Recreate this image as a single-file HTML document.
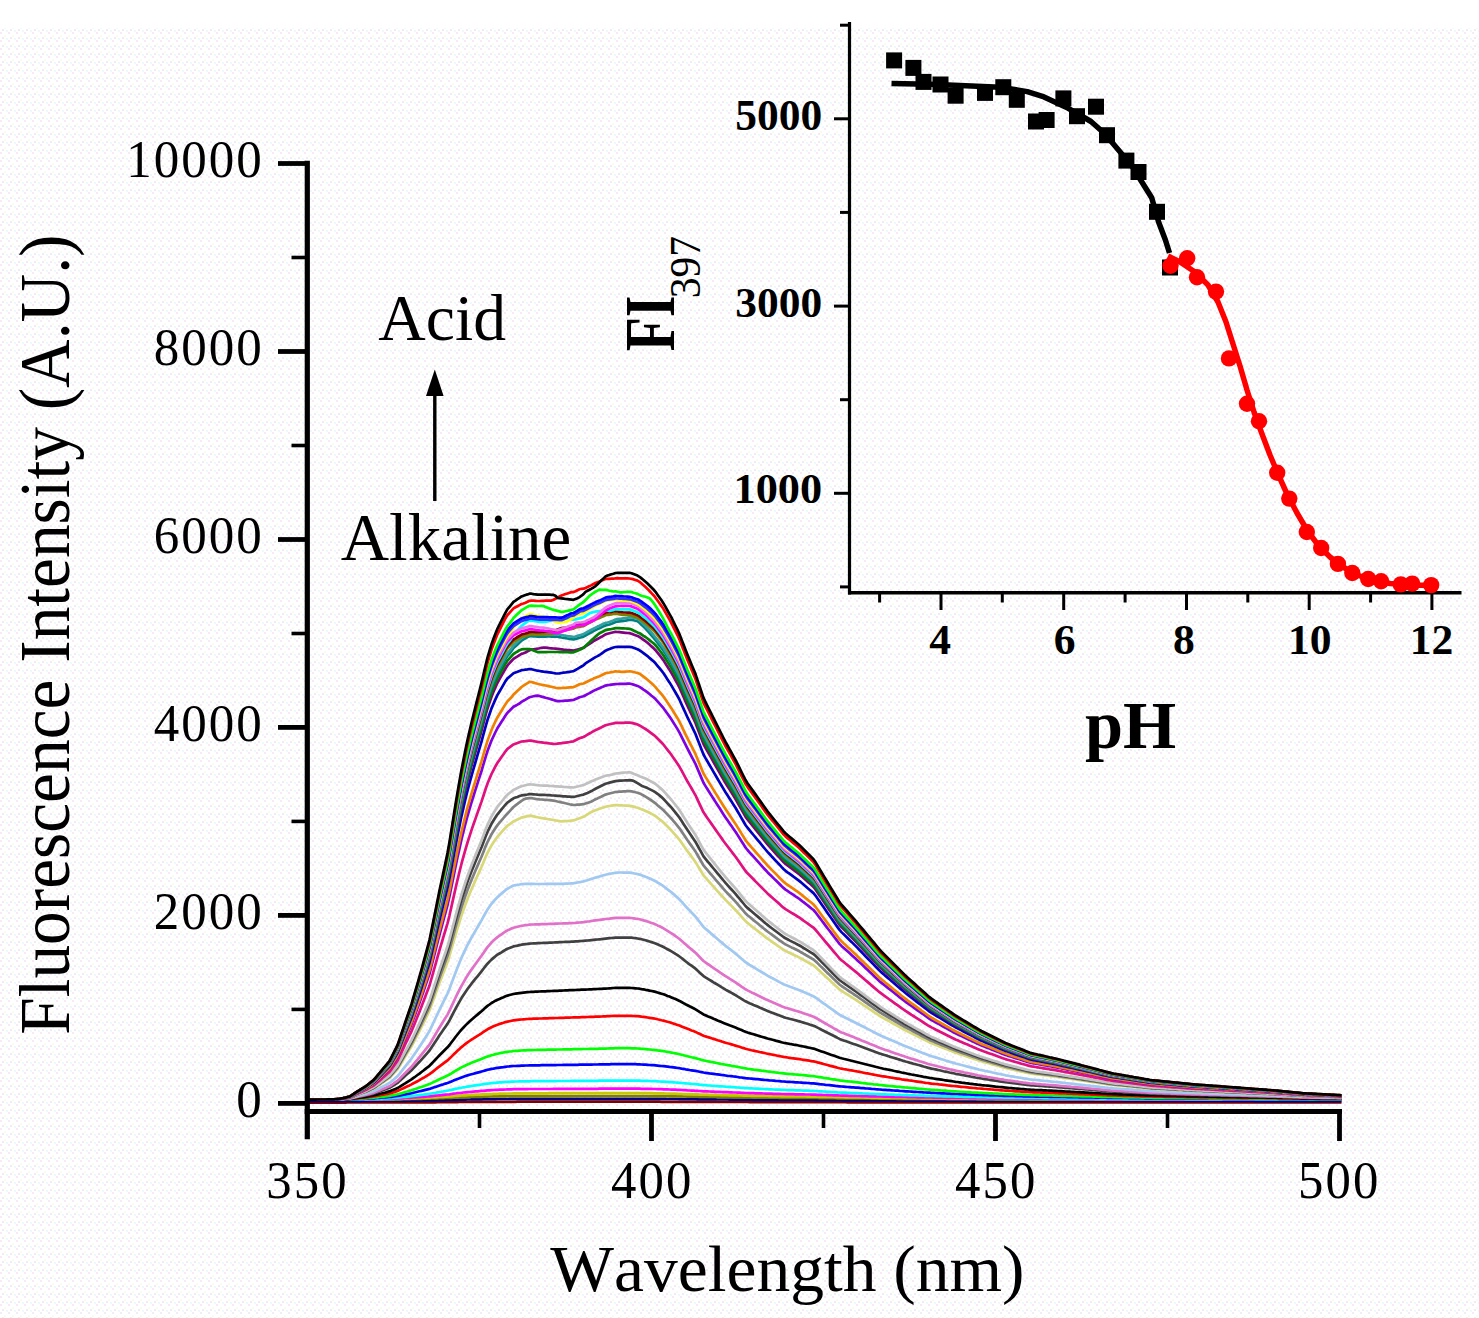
<!DOCTYPE html>
<html><head><meta charset="utf-8"><style>
html,body{margin:0;padding:0;background:#fff;width:1479px;height:1318px;overflow:hidden}
svg{display:block}
text{font-family:"Liberation Serif",serif}
</style></head><body>
<svg width="1479" height="1318" viewBox="0 0 1479 1318" font-family="Liberation Serif" style="font-kerning:none">
<defs><pattern id="dots" width="8" height="8" patternUnits="userSpaceOnUse"><rect x="0" y="0" width="2" height="2" fill="#f5ebf5"/><rect x="4" y="3" width="2" height="2" fill="#f6fcf0"/><rect x="2" y="5" width="2" height="2" fill="#f3eaf4"/><rect x="6" y="6" width="2" height="2" fill="#eef9fb"/></pattern></defs>
<rect width="1479" height="1318" fill="#fff"/>
<rect y="28" width="1479" height="1292" fill="url(#dots)"/>
<g fill="none" stroke-width="2.7" stroke-linejoin="round">
<polyline stroke="#800000" points="307.5,1102.6 309.5,1102.6 311.5,1102.6 313.5,1102.6 315.5,1102.6 317.5,1102.6 319.5,1102.6 321.5,1102.6 323.5,1102.6 325.5,1102.6 327.5,1102.6 329.5,1102.6 331.5,1102.6 333.5,1102.6 335.5,1102.6 337.5,1102.6 339.5,1102.6 341.5,1102.6 343.5,1102.6 345.5,1102.6 347.5,1102.5 349.5,1102.5 351.5,1102.5 353.5,1102.5 355.5,1102.5 357.5,1102.5 359.5,1102.5 361.5,1102.5 363.5,1102.5 365.5,1102.5 367.5,1102.5 369.5,1102.5 371.5,1102.5 373.5,1102.5 375.5,1102.5 377.5,1102.5 379.5,1102.5 381.5,1102.5 383.5,1102.5 385.5,1102.5 387.5,1102.5 389.5,1102.5 391.5,1102.5 393.5,1102.5 395.5,1102.5 397.5,1102.5 399.5,1102.5 401.5,1102.4 403.5,1102.4 405.5,1102.4 407.5,1102.4 409.5,1102.4 411.5,1102.4 413.5,1102.4 415.5,1102.4 417.5,1102.4 419.5,1102.4 421.5,1102.3 423.5,1102.3 425.5,1102.3 427.5,1102.3 429.5,1102.3 431.5,1102.3 433.5,1102.3 435.5,1102.3 437.5,1102.2 439.5,1102.2 441.5,1102.2 443.5,1102.2 445.5,1102.2 447.5,1102.2 449.5,1102.1 451.5,1102.1 453.5,1102.1 455.5,1102.1 457.5,1102.1 459.5,1102.0 461.5,1102.0 463.5,1102.0 465.5,1102.0 467.5,1102.0 469.5,1102.0 471.5,1101.9 473.5,1101.9 475.5,1101.9 477.5,1101.9 479.5,1101.9 481.5,1101.9 483.5,1101.9 485.5,1101.9 487.5,1101.8 489.5,1101.8 491.5,1101.8 493.5,1101.8 495.5,1101.8 497.5,1101.8 499.5,1101.8 501.5,1101.8 503.5,1101.8 505.5,1101.8 507.5,1101.8 509.5,1101.8 511.5,1101.8 513.5,1101.8 515.5,1101.8 517.5,1101.7 519.5,1101.7 521.5,1101.7 523.5,1101.7 525.5,1101.7 527.5,1101.7 529.5,1101.7 531.5,1101.7 533.5,1101.7 535.5,1101.7 537.5,1101.7 539.5,1101.7 541.5,1101.7 543.5,1101.7 545.5,1101.7 547.5,1101.7 549.5,1101.7 551.5,1101.7 553.5,1101.7 555.5,1101.7 557.5,1101.7 559.5,1101.7 561.5,1101.7 563.5,1101.7 565.5,1101.7 567.5,1101.7 569.5,1101.7 571.5,1101.7 573.5,1101.7 575.5,1101.7 577.5,1101.7 579.5,1101.7 581.5,1101.7 583.5,1101.7 585.5,1101.7 587.5,1101.7 589.5,1101.7 591.5,1101.7 593.5,1101.7 595.5,1101.7 597.5,1101.7 599.5,1101.7 601.5,1101.7 603.5,1101.7 605.5,1101.7 607.5,1101.7 609.5,1101.7 611.5,1101.7 613.5,1101.7 615.5,1101.7 617.5,1101.7 619.5,1101.7 621.5,1101.7 623.5,1101.7 625.5,1101.7 627.5,1101.7 629.5,1101.7 631.5,1101.7 633.5,1101.7 635.5,1101.7 637.5,1101.7 639.5,1101.7 641.5,1101.7 643.5,1101.7 645.5,1101.7 647.5,1101.7 649.5,1101.7 651.5,1101.7 653.5,1101.7 655.5,1101.7 657.5,1101.7 659.5,1101.7 661.5,1101.8 663.5,1101.8 665.5,1101.8 667.5,1101.8 669.5,1101.8 671.5,1101.8 673.5,1101.8 675.5,1101.8 677.5,1101.8 679.5,1101.8 681.5,1101.8 683.5,1101.8 685.5,1101.8 687.5,1101.8 689.5,1101.8 691.5,1101.9 693.5,1101.9 695.5,1101.9 697.5,1101.9 699.5,1101.9 701.5,1101.9 703.5,1101.9 705.5,1101.9 707.5,1101.9 709.5,1101.9 711.5,1101.9 713.5,1101.9 715.5,1101.9 717.5,1102.0 719.5,1102.0 721.5,1102.0 723.5,1102.0 725.5,1102.0 727.5,1102.0 729.5,1102.0 731.5,1102.0 733.5,1102.0 735.5,1102.0 737.5,1102.0 739.5,1102.0 741.5,1102.0 743.5,1102.0 745.5,1102.0 747.5,1102.0 749.5,1102.1 751.5,1102.1 753.5,1102.1 755.5,1102.1 757.5,1102.1 759.5,1102.1 761.5,1102.1 763.5,1102.1 765.5,1102.1 767.5,1102.1 769.5,1102.1 771.5,1102.1 773.5,1102.1 775.5,1102.1 777.5,1102.1 779.5,1102.1 781.5,1102.1 783.5,1102.1 785.5,1102.1 787.5,1102.1 789.5,1102.1 791.5,1102.1 793.5,1102.1 795.5,1102.1 797.5,1102.1 799.5,1102.1 801.5,1102.1 803.5,1102.2 805.5,1102.2 807.5,1102.2 809.5,1102.2 811.5,1102.2 813.5,1102.2 815.5,1102.2 817.5,1102.2 819.5,1102.2 821.5,1102.2 823.5,1102.2 825.5,1102.2 827.5,1102.2 829.5,1102.2 831.5,1102.2 833.5,1102.2 835.5,1102.2 837.5,1102.2 839.5,1102.2 841.5,1102.2 843.5,1102.2 845.5,1102.2 847.5,1102.3 849.5,1102.3 851.5,1102.3 853.5,1102.3 855.5,1102.3 857.5,1102.3 859.5,1102.3 861.5,1102.3 863.5,1102.3 865.5,1102.3 867.5,1102.3 869.5,1102.3 871.5,1102.3 873.5,1102.3 875.5,1102.3 877.5,1102.3 879.5,1102.3 881.5,1102.3 883.5,1102.3 885.5,1102.3 887.5,1102.3 889.5,1102.3 891.5,1102.3 893.5,1102.3 895.5,1102.3 897.5,1102.3 899.5,1102.3 901.5,1102.3 903.5,1102.4 905.5,1102.4 907.5,1102.4 909.5,1102.4 911.5,1102.4 913.5,1102.4 915.5,1102.4 917.5,1102.4 919.5,1102.4 921.5,1102.4 923.5,1102.4 925.5,1102.4 927.5,1102.4 929.5,1102.4 931.5,1102.4 933.5,1102.4 935.5,1102.4 937.5,1102.4 939.5,1102.4 941.5,1102.4 943.5,1102.4 945.5,1102.4 947.5,1102.4 949.5,1102.4 951.5,1102.4 953.5,1102.4 955.5,1102.4 957.5,1102.4 959.5,1102.4 961.5,1102.4 963.5,1102.4 965.5,1102.4 967.5,1102.4 969.5,1102.4 971.5,1102.4 973.5,1102.4 975.5,1102.4 977.5,1102.4 979.5,1102.4 981.5,1102.4 983.5,1102.4 985.5,1102.4 987.5,1102.4 989.5,1102.5 991.5,1102.5 993.5,1102.5 995.5,1102.5 997.5,1102.5 999.5,1102.5 1001.5,1102.5 1003.5,1102.5 1005.5,1102.5 1007.5,1102.5 1009.5,1102.5 1011.5,1102.5 1013.5,1102.5 1015.5,1102.5 1017.5,1102.5 1019.5,1102.5 1021.5,1102.5 1023.5,1102.5 1025.5,1102.5 1027.5,1102.5 1029.5,1102.5 1031.5,1102.5 1033.5,1102.5 1035.5,1102.5 1037.5,1102.5 1039.5,1102.5 1041.5,1102.5 1043.5,1102.5 1045.5,1102.5 1047.5,1102.5 1049.5,1102.5 1051.5,1102.5 1053.5,1102.5 1055.5,1102.5 1057.5,1102.5 1059.5,1102.5 1061.5,1102.5 1063.5,1102.5 1065.5,1102.5 1067.5,1102.5 1069.5,1102.5 1071.5,1102.5 1073.5,1102.5 1075.5,1102.5 1077.5,1102.5 1079.5,1102.5 1081.5,1102.5 1083.5,1102.5 1085.5,1102.5 1087.5,1102.5 1089.5,1102.5 1091.5,1102.5 1093.5,1102.5 1095.5,1102.5 1097.5,1102.5 1099.5,1102.5 1101.5,1102.5 1103.5,1102.5 1105.5,1102.5 1107.5,1102.5 1109.5,1102.5 1111.5,1102.5 1113.5,1102.5 1115.5,1102.5 1117.5,1102.5 1119.5,1102.5 1121.5,1102.5 1123.5,1102.5 1125.5,1102.5 1127.5,1102.5 1129.5,1102.5 1131.5,1102.5 1133.5,1102.5 1135.5,1102.5 1137.5,1102.5 1139.5,1102.5 1141.5,1102.5 1143.5,1102.5 1145.5,1102.5 1147.5,1102.5 1149.5,1102.5 1151.5,1102.5 1153.5,1102.5 1155.5,1102.5 1157.5,1102.5 1159.5,1102.5 1161.5,1102.5 1163.5,1102.5 1165.5,1102.5 1167.5,1102.5 1169.5,1102.5 1171.5,1102.5 1173.5,1102.5 1175.5,1102.5 1177.5,1102.5 1179.5,1102.5 1181.5,1102.5 1183.5,1102.5 1185.5,1102.5 1187.5,1102.5 1189.5,1102.5 1191.5,1102.5 1193.5,1102.5 1195.5,1102.5 1197.5,1102.5 1199.5,1102.5 1201.5,1102.5 1203.5,1102.5 1205.5,1102.5 1207.5,1102.5 1209.5,1102.5 1211.5,1102.5 1213.5,1102.5 1215.5,1102.5 1217.5,1102.5 1219.5,1102.5 1221.5,1102.5 1223.5,1102.5 1225.5,1102.5 1227.5,1102.5 1229.5,1102.5 1231.5,1102.5 1233.5,1102.5 1235.5,1102.5 1237.5,1102.5 1239.5,1102.5 1241.5,1102.5 1243.5,1102.5 1245.5,1102.5 1247.5,1102.5 1249.5,1102.5 1251.5,1102.5 1253.5,1102.5 1255.5,1102.5 1257.5,1102.5 1259.5,1102.5 1261.5,1102.5 1263.5,1102.5 1265.5,1102.5 1267.5,1102.5 1269.5,1102.5 1271.5,1102.5 1273.5,1102.5 1275.5,1102.5 1277.5,1102.5 1279.5,1102.5 1281.5,1102.5 1283.5,1102.5 1285.5,1102.5 1287.5,1102.5 1289.5,1102.5 1291.5,1102.5 1293.5,1102.5 1295.5,1102.5 1297.5,1102.5 1299.5,1102.5 1301.5,1102.5 1303.5,1102.5 1305.5,1102.5 1307.5,1102.5 1309.5,1102.5 1311.5,1102.5 1313.5,1102.5 1315.5,1102.5 1317.5,1102.5 1319.5,1102.5 1321.5,1102.5 1323.5,1102.5 1325.5,1102.5 1327.5,1102.5 1329.5,1102.5 1331.5,1102.5 1333.5,1102.5 1335.5,1102.5 1337.5,1102.5 1339.5,1102.5 1341.5,1102.5"/>
<polyline stroke="#000080" points="307.5,1101.1 309.5,1101.1 311.5,1101.1 313.5,1101.1 315.5,1101.1 317.5,1101.1 319.5,1101.1 321.5,1101.1 323.5,1101.1 325.5,1101.1 327.5,1101.1 329.5,1101.1 331.5,1101.1 333.5,1101.1 335.5,1101.1 337.5,1101.1 339.5,1101.1 341.5,1101.1 343.5,1101.1 345.5,1101.1 347.5,1101.1 349.5,1101.1 351.5,1101.1 353.5,1101.1 355.5,1101.1 357.5,1101.1 359.5,1101.1 361.5,1101.0 363.5,1101.0 365.5,1101.0 367.5,1101.0 369.5,1101.0 371.5,1101.0 373.5,1101.0 375.5,1101.0 377.5,1101.0 379.5,1101.0 381.5,1101.0 383.5,1101.0 385.5,1100.9 387.5,1100.9 389.5,1100.9 391.5,1100.9 393.5,1100.9 395.5,1100.9 397.5,1100.9 399.5,1100.8 401.5,1100.8 403.5,1100.8 405.5,1100.8 407.5,1100.7 409.5,1100.7 411.5,1100.7 413.5,1100.6 415.5,1100.6 417.5,1100.6 419.5,1100.6 421.5,1100.5 423.5,1100.5 425.5,1100.5 427.5,1100.4 429.5,1100.4 431.5,1100.4 433.5,1100.3 435.5,1100.3 437.5,1100.2 439.5,1100.2 441.5,1100.1 443.5,1100.1 445.5,1100.1 447.5,1100.0 449.5,1100.0 451.5,1099.9 453.5,1099.9 455.5,1099.8 457.5,1099.8 459.5,1099.7 461.5,1099.7 463.5,1099.6 465.5,1099.6 467.5,1099.5 469.5,1099.5 471.5,1099.4 473.5,1099.4 475.5,1099.4 477.5,1099.3 479.5,1099.3 481.5,1099.3 483.5,1099.2 485.5,1099.2 487.5,1099.2 489.5,1099.1 491.5,1099.1 493.5,1099.1 495.5,1099.1 497.5,1099.0 499.5,1099.0 501.5,1099.0 503.5,1099.0 505.5,1099.0 507.5,1099.0 509.5,1098.9 511.5,1098.9 513.5,1098.9 515.5,1098.9 517.5,1098.9 519.5,1098.9 521.5,1098.9 523.5,1098.9 525.5,1098.9 527.5,1098.9 529.5,1098.9 531.5,1098.9 533.5,1098.9 535.5,1098.9 537.5,1098.9 539.5,1098.9 541.5,1098.9 543.5,1098.9 545.5,1098.9 547.5,1098.9 549.5,1098.9 551.5,1098.9 553.5,1098.9 555.5,1098.9 557.5,1098.9 559.5,1098.9 561.5,1098.9 563.5,1098.8 565.5,1098.8 567.5,1098.8 569.5,1098.8 571.5,1098.8 573.5,1098.8 575.5,1098.8 577.5,1098.8 579.5,1098.8 581.5,1098.8 583.5,1098.8 585.5,1098.8 587.5,1098.8 589.5,1098.8 591.5,1098.8 593.5,1098.8 595.5,1098.8 597.5,1098.8 599.5,1098.8 601.5,1098.8 603.5,1098.8 605.5,1098.8 607.5,1098.8 609.5,1098.8 611.5,1098.8 613.5,1098.8 615.5,1098.8 617.5,1098.8 619.5,1098.8 621.5,1098.8 623.5,1098.8 625.5,1098.8 627.5,1098.8 629.5,1098.8 631.5,1098.8 633.5,1098.8 635.5,1098.8 637.5,1098.8 639.5,1098.8 641.5,1098.8 643.5,1098.8 645.5,1098.8 647.5,1098.8 649.5,1098.8 651.5,1098.9 653.5,1098.9 655.5,1098.9 657.5,1098.9 659.5,1098.9 661.5,1098.9 663.5,1098.9 665.5,1098.9 667.5,1099.0 669.5,1099.0 671.5,1099.0 673.5,1099.0 675.5,1099.0 677.5,1099.0 679.5,1099.1 681.5,1099.1 683.5,1099.1 685.5,1099.1 687.5,1099.2 689.5,1099.2 691.5,1099.2 693.5,1099.2 695.5,1099.2 697.5,1099.3 699.5,1099.3 701.5,1099.3 703.5,1099.3 705.5,1099.4 707.5,1099.4 709.5,1099.4 711.5,1099.4 713.5,1099.4 715.5,1099.4 717.5,1099.5 719.5,1099.5 721.5,1099.5 723.5,1099.5 725.5,1099.5 727.5,1099.5 729.5,1099.6 731.5,1099.6 733.5,1099.6 735.5,1099.6 737.5,1099.6 739.5,1099.6 741.5,1099.7 743.5,1099.7 745.5,1099.7 747.5,1099.7 749.5,1099.7 751.5,1099.7 753.5,1099.8 755.5,1099.8 757.5,1099.8 759.5,1099.8 761.5,1099.8 763.5,1099.8 765.5,1099.8 767.5,1099.8 769.5,1099.8 771.5,1099.9 773.5,1099.9 775.5,1099.9 777.5,1099.9 779.5,1099.9 781.5,1099.9 783.5,1099.9 785.5,1099.9 787.5,1099.9 789.5,1099.9 791.5,1100.0 793.5,1100.0 795.5,1100.0 797.5,1100.0 799.5,1100.0 801.5,1100.0 803.5,1100.0 805.5,1100.0 807.5,1100.0 809.5,1100.0 811.5,1100.0 813.5,1100.0 815.5,1100.1 817.5,1100.1 819.5,1100.1 821.5,1100.1 823.5,1100.1 825.5,1100.1 827.5,1100.1 829.5,1100.2 831.5,1100.2 833.5,1100.2 835.5,1100.2 837.5,1100.2 839.5,1100.2 841.5,1100.2 843.5,1100.3 845.5,1100.3 847.5,1100.3 849.5,1100.3 851.5,1100.3 853.5,1100.3 855.5,1100.3 857.5,1100.3 859.5,1100.3 861.5,1100.3 863.5,1100.4 865.5,1100.4 867.5,1100.4 869.5,1100.4 871.5,1100.4 873.5,1100.4 875.5,1100.4 877.5,1100.4 879.5,1100.4 881.5,1100.4 883.5,1100.5 885.5,1100.5 887.5,1100.5 889.5,1100.5 891.5,1100.5 893.5,1100.5 895.5,1100.5 897.5,1100.5 899.5,1100.5 901.5,1100.5 903.5,1100.5 905.5,1100.6 907.5,1100.6 909.5,1100.6 911.5,1100.6 913.5,1100.6 915.5,1100.6 917.5,1100.6 919.5,1100.6 921.5,1100.6 923.5,1100.6 925.5,1100.6 927.5,1100.6 929.5,1100.6 931.5,1100.7 933.5,1100.7 935.5,1100.7 937.5,1100.7 939.5,1100.7 941.5,1100.7 943.5,1100.7 945.5,1100.7 947.5,1100.7 949.5,1100.7 951.5,1100.7 953.5,1100.7 955.5,1100.7 957.5,1100.7 959.5,1100.7 961.5,1100.7 963.5,1100.8 965.5,1100.8 967.5,1100.8 969.5,1100.8 971.5,1100.8 973.5,1100.8 975.5,1100.8 977.5,1100.8 979.5,1100.8 981.5,1100.8 983.5,1100.8 985.5,1100.8 987.5,1100.8 989.5,1100.8 991.5,1100.8 993.5,1100.8 995.5,1100.8 997.5,1100.8 999.5,1100.8 1001.5,1100.8 1003.5,1100.8 1005.5,1100.8 1007.5,1100.9 1009.5,1100.9 1011.5,1100.9 1013.5,1100.9 1015.5,1100.9 1017.5,1100.9 1019.5,1100.9 1021.5,1100.9 1023.5,1100.9 1025.5,1100.9 1027.5,1100.9 1029.5,1100.9 1031.5,1100.9 1033.5,1100.9 1035.5,1100.9 1037.5,1100.9 1039.5,1100.9 1041.5,1100.9 1043.5,1100.9 1045.5,1100.9 1047.5,1100.9 1049.5,1100.9 1051.5,1100.9 1053.5,1100.9 1055.5,1100.9 1057.5,1100.9 1059.5,1100.9 1061.5,1100.9 1063.5,1100.9 1065.5,1100.9 1067.5,1100.9 1069.5,1100.9 1071.5,1100.9 1073.5,1100.9 1075.5,1100.9 1077.5,1100.9 1079.5,1100.9 1081.5,1100.9 1083.5,1100.9 1085.5,1101.0 1087.5,1101.0 1089.5,1101.0 1091.5,1101.0 1093.5,1101.0 1095.5,1101.0 1097.5,1101.0 1099.5,1101.0 1101.5,1101.0 1103.5,1101.0 1105.5,1101.0 1107.5,1101.0 1109.5,1101.0 1111.5,1101.0 1113.5,1101.0 1115.5,1101.0 1117.5,1101.0 1119.5,1101.0 1121.5,1101.0 1123.5,1101.0 1125.5,1101.0 1127.5,1101.0 1129.5,1101.0 1131.5,1101.0 1133.5,1101.0 1135.5,1101.0 1137.5,1101.0 1139.5,1101.0 1141.5,1101.0 1143.5,1101.0 1145.5,1101.0 1147.5,1101.0 1149.5,1101.0 1151.5,1101.0 1153.5,1101.0 1155.5,1101.0 1157.5,1101.0 1159.5,1101.0 1161.5,1101.0 1163.5,1101.0 1165.5,1101.0 1167.5,1101.0 1169.5,1101.0 1171.5,1101.0 1173.5,1101.0 1175.5,1101.0 1177.5,1101.0 1179.5,1101.0 1181.5,1101.0 1183.5,1101.0 1185.5,1101.0 1187.5,1101.0 1189.5,1101.0 1191.5,1101.0 1193.5,1101.0 1195.5,1101.0 1197.5,1101.0 1199.5,1101.0 1201.5,1101.0 1203.5,1101.0 1205.5,1101.0 1207.5,1101.0 1209.5,1101.0 1211.5,1101.0 1213.5,1101.0 1215.5,1101.0 1217.5,1101.0 1219.5,1101.0 1221.5,1101.0 1223.5,1101.0 1225.5,1101.0 1227.5,1101.0 1229.5,1101.0 1231.5,1101.0 1233.5,1101.0 1235.5,1101.0 1237.5,1101.0 1239.5,1101.0 1241.5,1101.0 1243.5,1101.0 1245.5,1101.0 1247.5,1101.0 1249.5,1101.0 1251.5,1101.0 1253.5,1101.0 1255.5,1101.1 1257.5,1101.1 1259.5,1101.1 1261.5,1101.1 1263.5,1101.1 1265.5,1101.1 1267.5,1101.1 1269.5,1101.1 1271.5,1101.1 1273.5,1101.1 1275.5,1101.1 1277.5,1101.1 1279.5,1101.1 1281.5,1101.1 1283.5,1101.1 1285.5,1101.1 1287.5,1101.1 1289.5,1101.1 1291.5,1101.1 1293.5,1101.1 1295.5,1101.1 1297.5,1101.1 1299.5,1101.1 1301.5,1101.1 1303.5,1101.1 1305.5,1101.1 1307.5,1101.1 1309.5,1101.1 1311.5,1101.1 1313.5,1101.1 1315.5,1101.1 1317.5,1101.1 1319.5,1101.1 1321.5,1101.1 1323.5,1101.1 1325.5,1101.1 1327.5,1101.1 1329.5,1101.1 1331.5,1101.1 1333.5,1101.1 1335.5,1101.1 1337.5,1101.1 1339.5,1101.1 1341.5,1101.1"/>
<polyline stroke="#808000" points="307.5,1099.7 309.5,1099.7 311.5,1099.7 313.5,1099.7 315.5,1099.7 317.5,1099.7 319.5,1099.7 321.5,1099.7 323.5,1099.7 325.5,1099.7 327.5,1099.7 329.5,1099.7 331.5,1099.7 333.5,1099.7 335.5,1099.7 337.5,1099.7 339.5,1099.7 341.5,1099.7 343.5,1099.7 345.5,1099.7 347.5,1099.7 349.5,1099.7 351.5,1099.7 353.5,1099.6 355.5,1099.6 357.5,1099.6 359.5,1099.6 361.5,1099.6 363.5,1099.6 365.5,1099.6 367.5,1099.6 369.5,1099.6 371.5,1099.6 373.5,1099.5 375.5,1099.5 377.5,1099.5 379.5,1099.5 381.5,1099.5 383.5,1099.5 385.5,1099.4 387.5,1099.4 389.5,1099.4 391.5,1099.4 393.5,1099.4 395.5,1099.3 397.5,1099.3 399.5,1099.3 401.5,1099.2 403.5,1099.2 405.5,1099.1 407.5,1099.1 409.5,1099.1 411.5,1099.0 413.5,1099.0 415.5,1098.9 417.5,1098.9 419.5,1098.8 421.5,1098.8 423.5,1098.7 425.5,1098.7 427.5,1098.6 429.5,1098.6 431.5,1098.5 433.5,1098.4 435.5,1098.4 437.5,1098.3 439.5,1098.2 441.5,1098.1 443.5,1098.1 445.5,1098.0 447.5,1097.9 449.5,1097.9 451.5,1097.8 453.5,1097.7 455.5,1097.6 457.5,1097.5 459.5,1097.4 461.5,1097.4 463.5,1097.3 465.5,1097.2 467.5,1097.2 469.5,1097.1 471.5,1097.0 473.5,1097.0 475.5,1096.9 477.5,1096.9 479.5,1096.8 481.5,1096.8 483.5,1096.7 485.5,1096.6 487.5,1096.6 489.5,1096.5 491.5,1096.5 493.5,1096.4 495.5,1096.4 497.5,1096.4 499.5,1096.3 501.5,1096.3 503.5,1096.3 505.5,1096.3 507.5,1096.2 509.5,1096.2 511.5,1096.2 513.5,1096.2 515.5,1096.2 517.5,1096.2 519.5,1096.1 521.5,1096.1 523.5,1096.1 525.5,1096.1 527.5,1096.1 529.5,1096.1 531.5,1096.1 533.5,1096.1 535.5,1096.1 537.5,1096.1 539.5,1096.1 541.5,1096.1 543.5,1096.1 545.5,1096.1 547.5,1096.1 549.5,1096.1 551.5,1096.1 553.5,1096.1 555.5,1096.1 557.5,1096.1 559.5,1096.1 561.5,1096.1 563.5,1096.1 565.5,1096.1 567.5,1096.1 569.5,1096.1 571.5,1096.1 573.5,1096.0 575.5,1096.0 577.5,1096.0 579.5,1096.0 581.5,1096.0 583.5,1096.0 585.5,1096.0 587.5,1096.0 589.5,1096.0 591.5,1096.0 593.5,1096.0 595.5,1096.0 597.5,1096.0 599.5,1096.0 601.5,1096.0 603.5,1096.0 605.5,1096.0 607.5,1096.0 609.5,1096.0 611.5,1096.0 613.5,1096.0 615.5,1096.0 617.5,1096.0 619.5,1096.0 621.5,1096.0 623.5,1096.0 625.5,1096.0 627.5,1096.0 629.5,1096.0 631.5,1096.0 633.5,1096.0 635.5,1096.0 637.5,1096.0 639.5,1096.0 641.5,1096.0 643.5,1096.0 645.5,1096.0 647.5,1096.0 649.5,1096.1 651.5,1096.1 653.5,1096.1 655.5,1096.1 657.5,1096.1 659.5,1096.1 661.5,1096.2 663.5,1096.2 665.5,1096.2 667.5,1096.2 669.5,1096.3 671.5,1096.3 673.5,1096.3 675.5,1096.3 677.5,1096.4 679.5,1096.4 681.5,1096.4 683.5,1096.5 685.5,1096.5 687.5,1096.6 689.5,1096.6 691.5,1096.6 693.5,1096.7 695.5,1096.7 697.5,1096.7 699.5,1096.8 701.5,1096.8 703.5,1096.9 705.5,1096.9 707.5,1096.9 709.5,1096.9 711.5,1097.0 713.5,1097.0 715.5,1097.0 717.5,1097.1 719.5,1097.1 721.5,1097.1 723.5,1097.1 725.5,1097.2 727.5,1097.2 729.5,1097.2 731.5,1097.2 733.5,1097.3 735.5,1097.3 737.5,1097.3 739.5,1097.3 741.5,1097.4 743.5,1097.4 745.5,1097.4 747.5,1097.5 749.5,1097.5 751.5,1097.5 753.5,1097.5 755.5,1097.5 757.5,1097.6 759.5,1097.6 761.5,1097.6 763.5,1097.6 765.5,1097.6 767.5,1097.7 769.5,1097.7 771.5,1097.7 773.5,1097.7 775.5,1097.7 777.5,1097.7 779.5,1097.8 781.5,1097.8 783.5,1097.8 785.5,1097.8 787.5,1097.8 789.5,1097.8 791.5,1097.8 793.5,1097.9 795.5,1097.9 797.5,1097.9 799.5,1097.9 801.5,1097.9 803.5,1097.9 805.5,1097.9 807.5,1098.0 809.5,1098.0 811.5,1098.0 813.5,1098.0 815.5,1098.0 817.5,1098.0 819.5,1098.1 821.5,1098.1 823.5,1098.1 825.5,1098.1 827.5,1098.2 829.5,1098.2 831.5,1098.2 833.5,1098.2 835.5,1098.2 837.5,1098.3 839.5,1098.3 841.5,1098.3 843.5,1098.3 845.5,1098.3 847.5,1098.4 849.5,1098.4 851.5,1098.4 853.5,1098.4 855.5,1098.4 857.5,1098.4 859.5,1098.5 861.5,1098.5 863.5,1098.5 865.5,1098.5 867.5,1098.5 869.5,1098.5 871.5,1098.6 873.5,1098.6 875.5,1098.6 877.5,1098.6 879.5,1098.6 881.5,1098.6 883.5,1098.7 885.5,1098.7 887.5,1098.7 889.5,1098.7 891.5,1098.7 893.5,1098.7 895.5,1098.7 897.5,1098.8 899.5,1098.8 901.5,1098.8 903.5,1098.8 905.5,1098.8 907.5,1098.8 909.5,1098.8 911.5,1098.9 913.5,1098.9 915.5,1098.9 917.5,1098.9 919.5,1098.9 921.5,1098.9 923.5,1098.9 925.5,1098.9 927.5,1099.0 929.5,1099.0 931.5,1099.0 933.5,1099.0 935.5,1099.0 937.5,1099.0 939.5,1099.0 941.5,1099.0 943.5,1099.0 945.5,1099.0 947.5,1099.1 949.5,1099.1 951.5,1099.1 953.5,1099.1 955.5,1099.1 957.5,1099.1 959.5,1099.1 961.5,1099.1 963.5,1099.1 965.5,1099.1 967.5,1099.1 969.5,1099.2 971.5,1099.2 973.5,1099.2 975.5,1099.2 977.5,1099.2 979.5,1099.2 981.5,1099.2 983.5,1099.2 985.5,1099.2 987.5,1099.2 989.5,1099.2 991.5,1099.2 993.5,1099.2 995.5,1099.3 997.5,1099.3 999.5,1099.3 1001.5,1099.3 1003.5,1099.3 1005.5,1099.3 1007.5,1099.3 1009.5,1099.3 1011.5,1099.3 1013.5,1099.3 1015.5,1099.3 1017.5,1099.3 1019.5,1099.3 1021.5,1099.3 1023.5,1099.3 1025.5,1099.3 1027.5,1099.3 1029.5,1099.4 1031.5,1099.4 1033.5,1099.4 1035.5,1099.4 1037.5,1099.4 1039.5,1099.4 1041.5,1099.4 1043.5,1099.4 1045.5,1099.4 1047.5,1099.4 1049.5,1099.4 1051.5,1099.4 1053.5,1099.4 1055.5,1099.4 1057.5,1099.4 1059.5,1099.4 1061.5,1099.4 1063.5,1099.4 1065.5,1099.4 1067.5,1099.4 1069.5,1099.4 1071.5,1099.4 1073.5,1099.4 1075.5,1099.4 1077.5,1099.4 1079.5,1099.4 1081.5,1099.4 1083.5,1099.4 1085.5,1099.5 1087.5,1099.5 1089.5,1099.5 1091.5,1099.5 1093.5,1099.5 1095.5,1099.5 1097.5,1099.5 1099.5,1099.5 1101.5,1099.5 1103.5,1099.5 1105.5,1099.5 1107.5,1099.5 1109.5,1099.5 1111.5,1099.5 1113.5,1099.5 1115.5,1099.5 1117.5,1099.5 1119.5,1099.5 1121.5,1099.5 1123.5,1099.5 1125.5,1099.5 1127.5,1099.5 1129.5,1099.5 1131.5,1099.5 1133.5,1099.5 1135.5,1099.5 1137.5,1099.5 1139.5,1099.5 1141.5,1099.5 1143.5,1099.5 1145.5,1099.5 1147.5,1099.5 1149.5,1099.5 1151.5,1099.5 1153.5,1099.6 1155.5,1099.6 1157.5,1099.6 1159.5,1099.6 1161.5,1099.6 1163.5,1099.6 1165.5,1099.6 1167.5,1099.6 1169.5,1099.6 1171.5,1099.6 1173.5,1099.6 1175.5,1099.6 1177.5,1099.6 1179.5,1099.6 1181.5,1099.6 1183.5,1099.6 1185.5,1099.6 1187.5,1099.6 1189.5,1099.6 1191.5,1099.6 1193.5,1099.6 1195.5,1099.6 1197.5,1099.6 1199.5,1099.6 1201.5,1099.6 1203.5,1099.6 1205.5,1099.6 1207.5,1099.6 1209.5,1099.6 1211.5,1099.6 1213.5,1099.6 1215.5,1099.6 1217.5,1099.6 1219.5,1099.6 1221.5,1099.6 1223.5,1099.6 1225.5,1099.6 1227.5,1099.6 1229.5,1099.6 1231.5,1099.6 1233.5,1099.6 1235.5,1099.6 1237.5,1099.6 1239.5,1099.6 1241.5,1099.6 1243.5,1099.6 1245.5,1099.6 1247.5,1099.6 1249.5,1099.6 1251.5,1099.6 1253.5,1099.6 1255.5,1099.6 1257.5,1099.6 1259.5,1099.6 1261.5,1099.6 1263.5,1099.6 1265.5,1099.6 1267.5,1099.6 1269.5,1099.6 1271.5,1099.6 1273.5,1099.6 1275.5,1099.6 1277.5,1099.6 1279.5,1099.6 1281.5,1099.6 1283.5,1099.6 1285.5,1099.6 1287.5,1099.6 1289.5,1099.6 1291.5,1099.6 1293.5,1099.6 1295.5,1099.6 1297.5,1099.6 1299.5,1099.6 1301.5,1099.6 1303.5,1099.6 1305.5,1099.6 1307.5,1099.6 1309.5,1099.6 1311.5,1099.6 1313.5,1099.6 1315.5,1099.6 1317.5,1099.6 1319.5,1099.6 1321.5,1099.6 1323.5,1099.7 1325.5,1099.7 1327.5,1099.7 1329.5,1099.7 1331.5,1099.7 1333.5,1099.7 1335.5,1099.7 1337.5,1099.7 1339.5,1099.7 1341.5,1099.7"/>
<polyline stroke="#c8c800" points="307.5,1099.6 309.5,1099.6 311.5,1099.6 313.5,1099.6 315.5,1099.6 317.5,1099.6 319.5,1099.6 321.5,1099.6 323.5,1099.6 325.5,1099.6 327.5,1099.6 329.5,1099.6 331.5,1099.6 333.5,1099.6 335.5,1099.6 337.5,1099.6 339.5,1099.6 341.5,1099.6 343.5,1099.6 345.5,1099.6 347.5,1099.6 349.5,1099.6 351.5,1099.6 353.5,1099.6 355.5,1099.6 357.5,1099.5 359.5,1099.5 361.5,1099.5 363.5,1099.5 365.5,1099.5 367.5,1099.5 369.5,1099.4 371.5,1099.4 373.5,1099.4 375.5,1099.4 377.5,1099.3 379.5,1099.3 381.5,1099.3 383.5,1099.2 385.5,1099.2 387.5,1099.2 389.5,1099.2 391.5,1099.1 393.5,1099.1 395.5,1099.0 397.5,1099.0 399.5,1098.9 401.5,1098.8 403.5,1098.7 405.5,1098.7 407.5,1098.6 409.5,1098.5 411.5,1098.4 413.5,1098.4 415.5,1098.3 417.5,1098.2 419.5,1098.1 421.5,1098.0 423.5,1097.9 425.5,1097.8 427.5,1097.7 429.5,1097.6 431.5,1097.5 433.5,1097.4 435.5,1097.3 437.5,1097.2 439.5,1097.0 441.5,1096.9 443.5,1096.8 445.5,1096.7 447.5,1096.6 449.5,1096.4 451.5,1096.3 453.5,1096.1 455.5,1096.0 457.5,1095.8 459.5,1095.7 461.5,1095.5 463.5,1095.4 465.5,1095.3 467.5,1095.1 469.5,1095.0 471.5,1094.9 473.5,1094.8 475.5,1094.7 477.5,1094.6 479.5,1094.5 481.5,1094.4 483.5,1094.3 485.5,1094.2 487.5,1094.1 489.5,1094.0 491.5,1094.0 493.5,1093.9 495.5,1093.8 497.5,1093.8 499.5,1093.7 501.5,1093.7 503.5,1093.6 505.5,1093.6 507.5,1093.5 509.5,1093.5 511.5,1093.5 513.5,1093.4 515.5,1093.4 517.5,1093.4 519.5,1093.4 521.5,1093.3 523.5,1093.3 525.5,1093.3 527.5,1093.3 529.5,1093.3 531.5,1093.3 533.5,1093.3 535.5,1093.3 537.5,1093.3 539.5,1093.3 541.5,1093.3 543.5,1093.3 545.5,1093.3 547.5,1093.3 549.5,1093.2 551.5,1093.2 553.5,1093.2 555.5,1093.2 557.5,1093.2 559.5,1093.2 561.5,1093.2 563.5,1093.2 565.5,1093.2 567.5,1093.2 569.5,1093.2 571.5,1093.2 573.5,1093.2 575.5,1093.2 577.5,1093.2 579.5,1093.2 581.5,1093.2 583.5,1093.2 585.5,1093.2 587.5,1093.2 589.5,1093.1 591.5,1093.1 593.5,1093.1 595.5,1093.1 597.5,1093.1 599.5,1093.1 601.5,1093.1 603.5,1093.1 605.5,1093.1 607.5,1093.1 609.5,1093.1 611.5,1093.1 613.5,1093.1 615.5,1093.1 617.5,1093.1 619.5,1093.1 621.5,1093.1 623.5,1093.1 625.5,1093.1 627.5,1093.1 629.5,1093.1 631.5,1093.1 633.5,1093.1 635.5,1093.1 637.5,1093.1 639.5,1093.1 641.5,1093.1 643.5,1093.2 645.5,1093.2 647.5,1093.2 649.5,1093.2 651.5,1093.2 653.5,1093.3 655.5,1093.3 657.5,1093.3 659.5,1093.4 661.5,1093.4 663.5,1093.4 665.5,1093.5 667.5,1093.5 669.5,1093.6 671.5,1093.6 673.5,1093.7 675.5,1093.7 677.5,1093.8 679.5,1093.8 681.5,1093.9 683.5,1094.0 685.5,1094.0 687.5,1094.1 689.5,1094.1 691.5,1094.2 693.5,1094.3 695.5,1094.3 697.5,1094.4 699.5,1094.5 701.5,1094.5 703.5,1094.6 705.5,1094.7 707.5,1094.7 709.5,1094.8 711.5,1094.8 713.5,1094.9 715.5,1094.9 717.5,1095.0 719.5,1095.0 721.5,1095.1 723.5,1095.1 725.5,1095.2 727.5,1095.2 729.5,1095.3 731.5,1095.3 733.5,1095.4 735.5,1095.4 737.5,1095.4 739.5,1095.5 741.5,1095.5 743.5,1095.6 745.5,1095.6 747.5,1095.7 749.5,1095.7 751.5,1095.8 753.5,1095.8 755.5,1095.8 757.5,1095.9 759.5,1095.9 761.5,1095.9 763.5,1096.0 765.5,1096.0 767.5,1096.0 769.5,1096.1 771.5,1096.1 773.5,1096.1 775.5,1096.2 777.5,1096.2 779.5,1096.2 781.5,1096.3 783.5,1096.3 785.5,1096.3 787.5,1096.3 789.5,1096.4 791.5,1096.4 793.5,1096.4 795.5,1096.4 797.5,1096.4 799.5,1096.5 801.5,1096.5 803.5,1096.5 805.5,1096.5 807.5,1096.6 809.5,1096.6 811.5,1096.6 813.5,1096.6 815.5,1096.7 817.5,1096.7 819.5,1096.8 821.5,1096.8 823.5,1096.8 825.5,1096.9 827.5,1096.9 829.5,1097.0 831.5,1097.0 833.5,1097.0 835.5,1097.1 837.5,1097.1 839.5,1097.2 841.5,1097.2 843.5,1097.2 845.5,1097.3 847.5,1097.3 849.5,1097.3 851.5,1097.3 853.5,1097.4 855.5,1097.4 857.5,1097.4 859.5,1097.5 861.5,1097.5 863.5,1097.5 865.5,1097.6 867.5,1097.6 869.5,1097.6 871.5,1097.6 873.5,1097.7 875.5,1097.7 877.5,1097.7 879.5,1097.8 881.5,1097.8 883.5,1097.8 885.5,1097.8 887.5,1097.9 889.5,1097.9 891.5,1097.9 893.5,1097.9 895.5,1098.0 897.5,1098.0 899.5,1098.0 901.5,1098.0 903.5,1098.1 905.5,1098.1 907.5,1098.1 909.5,1098.1 911.5,1098.2 913.5,1098.2 915.5,1098.2 917.5,1098.2 919.5,1098.2 921.5,1098.3 923.5,1098.3 925.5,1098.3 927.5,1098.3 929.5,1098.4 931.5,1098.4 933.5,1098.4 935.5,1098.4 937.5,1098.4 939.5,1098.4 941.5,1098.5 943.5,1098.5 945.5,1098.5 947.5,1098.5 949.5,1098.5 951.5,1098.6 953.5,1098.6 955.5,1098.6 957.5,1098.6 959.5,1098.6 961.5,1098.6 963.5,1098.6 965.5,1098.7 967.5,1098.7 969.5,1098.7 971.5,1098.7 973.5,1098.7 975.5,1098.7 977.5,1098.8 979.5,1098.8 981.5,1098.8 983.5,1098.8 985.5,1098.8 987.5,1098.8 989.5,1098.8 991.5,1098.8 993.5,1098.9 995.5,1098.9 997.5,1098.9 999.5,1098.9 1001.5,1098.9 1003.5,1098.9 1005.5,1098.9 1007.5,1098.9 1009.5,1099.0 1011.5,1099.0 1013.5,1099.0 1015.5,1099.0 1017.5,1099.0 1019.5,1099.0 1021.5,1099.0 1023.5,1099.0 1025.5,1099.0 1027.5,1099.0 1029.5,1099.1 1031.5,1099.1 1033.5,1099.1 1035.5,1099.1 1037.5,1099.1 1039.5,1099.1 1041.5,1099.1 1043.5,1099.1 1045.5,1099.1 1047.5,1099.1 1049.5,1099.1 1051.5,1099.1 1053.5,1099.1 1055.5,1099.1 1057.5,1099.1 1059.5,1099.1 1061.5,1099.1 1063.5,1099.2 1065.5,1099.2 1067.5,1099.2 1069.5,1099.2 1071.5,1099.2 1073.5,1099.2 1075.5,1099.2 1077.5,1099.2 1079.5,1099.2 1081.5,1099.2 1083.5,1099.2 1085.5,1099.2 1087.5,1099.2 1089.5,1099.2 1091.5,1099.2 1093.5,1099.2 1095.5,1099.3 1097.5,1099.3 1099.5,1099.3 1101.5,1099.3 1103.5,1099.3 1105.5,1099.3 1107.5,1099.3 1109.5,1099.3 1111.5,1099.3 1113.5,1099.3 1115.5,1099.3 1117.5,1099.3 1119.5,1099.3 1121.5,1099.3 1123.5,1099.3 1125.5,1099.3 1127.5,1099.3 1129.5,1099.3 1131.5,1099.4 1133.5,1099.4 1135.5,1099.4 1137.5,1099.4 1139.5,1099.4 1141.5,1099.4 1143.5,1099.4 1145.5,1099.4 1147.5,1099.4 1149.5,1099.4 1151.5,1099.4 1153.5,1099.4 1155.5,1099.4 1157.5,1099.4 1159.5,1099.4 1161.5,1099.4 1163.5,1099.4 1165.5,1099.4 1167.5,1099.4 1169.5,1099.4 1171.5,1099.4 1173.5,1099.4 1175.5,1099.4 1177.5,1099.4 1179.5,1099.4 1181.5,1099.4 1183.5,1099.4 1185.5,1099.4 1187.5,1099.4 1189.5,1099.4 1191.5,1099.4 1193.5,1099.4 1195.5,1099.5 1197.5,1099.5 1199.5,1099.5 1201.5,1099.5 1203.5,1099.5 1205.5,1099.5 1207.5,1099.5 1209.5,1099.5 1211.5,1099.5 1213.5,1099.5 1215.5,1099.5 1217.5,1099.5 1219.5,1099.5 1221.5,1099.5 1223.5,1099.5 1225.5,1099.5 1227.5,1099.5 1229.5,1099.5 1231.5,1099.5 1233.5,1099.5 1235.5,1099.5 1237.5,1099.5 1239.5,1099.5 1241.5,1099.5 1243.5,1099.5 1245.5,1099.5 1247.5,1099.5 1249.5,1099.5 1251.5,1099.5 1253.5,1099.5 1255.5,1099.5 1257.5,1099.5 1259.5,1099.5 1261.5,1099.5 1263.5,1099.5 1265.5,1099.5 1267.5,1099.5 1269.5,1099.5 1271.5,1099.5 1273.5,1099.5 1275.5,1099.5 1277.5,1099.5 1279.5,1099.5 1281.5,1099.5 1283.5,1099.5 1285.5,1099.5 1287.5,1099.5 1289.5,1099.5 1291.5,1099.5 1293.5,1099.5 1295.5,1099.6 1297.5,1099.6 1299.5,1099.6 1301.5,1099.6 1303.5,1099.6 1305.5,1099.6 1307.5,1099.6 1309.5,1099.6 1311.5,1099.6 1313.5,1099.6 1315.5,1099.6 1317.5,1099.6 1319.5,1099.6 1321.5,1099.6 1323.5,1099.6 1325.5,1099.6 1327.5,1099.6 1329.5,1099.6 1331.5,1099.6 1333.5,1099.6 1335.5,1099.6 1337.5,1099.6 1339.5,1099.6 1341.5,1099.6"/>
<polyline stroke="#ff00ff" points="307.5,1099.6 309.5,1099.6 311.5,1099.6 313.5,1099.6 315.5,1099.6 317.5,1099.6 319.5,1099.6 321.5,1099.6 323.5,1099.6 325.5,1099.6 327.5,1099.6 329.5,1099.6 331.5,1099.6 333.5,1099.6 335.5,1099.6 337.5,1099.6 339.5,1099.6 341.5,1099.6 343.5,1099.6 345.5,1099.6 347.5,1099.6 349.5,1099.6 351.5,1099.6 353.5,1099.5 355.5,1099.5 357.5,1099.5 359.5,1099.4 361.5,1099.4 363.5,1099.4 365.5,1099.4 367.5,1099.3 369.5,1099.3 371.5,1099.3 373.5,1099.2 375.5,1099.2 377.5,1099.1 379.5,1099.1 381.5,1099.0 383.5,1099.0 385.5,1098.9 387.5,1098.9 389.5,1098.8 391.5,1098.8 393.5,1098.7 395.5,1098.6 397.5,1098.5 399.5,1098.4 401.5,1098.3 403.5,1098.1 405.5,1098.0 407.5,1097.9 409.5,1097.8 411.5,1097.6 413.5,1097.5 415.5,1097.4 417.5,1097.2 419.5,1097.1 421.5,1096.9 423.5,1096.8 425.5,1096.6 427.5,1096.5 429.5,1096.3 431.5,1096.1 433.5,1095.9 435.5,1095.7 437.5,1095.5 439.5,1095.3 441.5,1095.1 443.5,1094.9 445.5,1094.7 447.5,1094.5 449.5,1094.3 451.5,1094.0 453.5,1093.7 455.5,1093.5 457.5,1093.2 459.5,1093.0 461.5,1092.8 463.5,1092.5 465.5,1092.3 467.5,1092.1 469.5,1092.0 471.5,1091.8 473.5,1091.6 475.5,1091.4 477.5,1091.3 479.5,1091.1 481.5,1090.9 483.5,1090.8 485.5,1090.6 487.5,1090.4 489.5,1090.3 491.5,1090.1 493.5,1090.0 495.5,1089.9 497.5,1089.8 499.5,1089.7 501.5,1089.6 503.5,1089.6 505.5,1089.5 507.5,1089.4 509.5,1089.3 511.5,1089.3 513.5,1089.2 515.5,1089.2 517.5,1089.2 519.5,1089.2 521.5,1089.1 523.5,1089.1 525.5,1089.1 527.5,1089.1 529.5,1089.0 531.5,1089.0 533.5,1089.0 535.5,1089.0 537.5,1089.0 539.5,1089.0 541.5,1089.0 543.5,1089.0 545.5,1089.0 547.5,1089.0 549.5,1089.0 551.5,1089.0 553.5,1088.9 555.5,1088.9 557.5,1088.9 559.5,1088.9 561.5,1088.9 563.5,1088.9 565.5,1088.9 567.5,1088.9 569.5,1088.9 571.5,1088.9 573.5,1088.9 575.5,1088.9 577.5,1088.8 579.5,1088.8 581.5,1088.8 583.5,1088.8 585.5,1088.8 587.5,1088.8 589.5,1088.8 591.5,1088.8 593.5,1088.8 595.5,1088.8 597.5,1088.8 599.5,1088.7 601.5,1088.7 603.5,1088.7 605.5,1088.7 607.5,1088.7 609.5,1088.7 611.5,1088.7 613.5,1088.7 615.5,1088.6 617.5,1088.6 619.5,1088.6 621.5,1088.6 623.5,1088.6 625.5,1088.6 627.5,1088.6 629.5,1088.6 631.5,1088.7 633.5,1088.7 635.5,1088.7 637.5,1088.7 639.5,1088.7 641.5,1088.8 643.5,1088.8 645.5,1088.8 647.5,1088.9 649.5,1088.9 651.5,1088.9 653.5,1089.0 655.5,1089.0 657.5,1089.1 659.5,1089.2 661.5,1089.2 663.5,1089.3 665.5,1089.4 667.5,1089.4 669.5,1089.5 671.5,1089.6 673.5,1089.7 675.5,1089.7 677.5,1089.8 679.5,1089.9 681.5,1090.0 683.5,1090.1 685.5,1090.2 687.5,1090.4 689.5,1090.5 691.5,1090.6 693.5,1090.7 695.5,1090.8 697.5,1090.9 699.5,1091.0 701.5,1091.1 703.5,1091.3 705.5,1091.3 707.5,1091.4 709.5,1091.5 711.5,1091.6 713.5,1091.7 715.5,1091.8 717.5,1091.8 719.5,1091.9 721.5,1092.0 723.5,1092.1 725.5,1092.2 727.5,1092.2 729.5,1092.3 731.5,1092.4 733.5,1092.5 735.5,1092.5 737.5,1092.6 739.5,1092.7 741.5,1092.8 743.5,1092.9 745.5,1093.0 747.5,1093.0 749.5,1093.1 751.5,1093.2 753.5,1093.2 755.5,1093.3 757.5,1093.3 759.5,1093.4 761.5,1093.4 763.5,1093.5 765.5,1093.6 767.5,1093.6 769.5,1093.7 771.5,1093.7 773.5,1093.8 775.5,1093.8 777.5,1093.9 779.5,1093.9 781.5,1094.0 783.5,1094.0 785.5,1094.1 787.5,1094.1 789.5,1094.2 791.5,1094.2 793.5,1094.2 795.5,1094.3 797.5,1094.3 799.5,1094.3 801.5,1094.4 803.5,1094.4 805.5,1094.5 807.5,1094.5 809.5,1094.5 811.5,1094.6 813.5,1094.6 815.5,1094.7 817.5,1094.8 819.5,1094.8 821.5,1094.9 823.5,1095.0 825.5,1095.0 827.5,1095.1 829.5,1095.2 831.5,1095.2 833.5,1095.3 835.5,1095.4 837.5,1095.4 839.5,1095.5 841.5,1095.6 843.5,1095.6 845.5,1095.7 847.5,1095.7 849.5,1095.8 851.5,1095.8 853.5,1095.9 855.5,1095.9 857.5,1096.0 859.5,1096.0 861.5,1096.1 863.5,1096.1 865.5,1096.2 867.5,1096.2 869.5,1096.3 871.5,1096.3 873.5,1096.4 875.5,1096.4 877.5,1096.5 879.5,1096.5 881.5,1096.5 883.5,1096.6 885.5,1096.6 887.5,1096.7 889.5,1096.7 891.5,1096.8 893.5,1096.8 895.5,1096.8 897.5,1096.9 899.5,1096.9 901.5,1097.0 903.5,1097.0 905.5,1097.0 907.5,1097.1 909.5,1097.1 911.5,1097.2 913.5,1097.2 915.5,1097.2 917.5,1097.3 919.5,1097.3 921.5,1097.4 923.5,1097.4 925.5,1097.4 927.5,1097.5 929.5,1097.5 931.5,1097.5 933.5,1097.6 935.5,1097.6 937.5,1097.6 939.5,1097.7 941.5,1097.7 943.5,1097.7 945.5,1097.7 947.5,1097.8 949.5,1097.8 951.5,1097.8 953.5,1097.9 955.5,1097.9 957.5,1097.9 959.5,1097.9 961.5,1098.0 963.5,1098.0 965.5,1098.0 967.5,1098.0 969.5,1098.1 971.5,1098.1 973.5,1098.1 975.5,1098.1 977.5,1098.2 979.5,1098.2 981.5,1098.2 983.5,1098.2 985.5,1098.2 987.5,1098.3 989.5,1098.3 991.5,1098.3 993.5,1098.3 995.5,1098.4 997.5,1098.4 999.5,1098.4 1001.5,1098.4 1003.5,1098.4 1005.5,1098.5 1007.5,1098.5 1009.5,1098.5 1011.5,1098.5 1013.5,1098.5 1015.5,1098.5 1017.5,1098.6 1019.5,1098.6 1021.5,1098.6 1023.5,1098.6 1025.5,1098.6 1027.5,1098.6 1029.5,1098.7 1031.5,1098.7 1033.5,1098.7 1035.5,1098.7 1037.5,1098.7 1039.5,1098.7 1041.5,1098.7 1043.5,1098.7 1045.5,1098.7 1047.5,1098.7 1049.5,1098.8 1051.5,1098.8 1053.5,1098.8 1055.5,1098.8 1057.5,1098.8 1059.5,1098.8 1061.5,1098.8 1063.5,1098.8 1065.5,1098.8 1067.5,1098.8 1069.5,1098.9 1071.5,1098.9 1073.5,1098.9 1075.5,1098.9 1077.5,1098.9 1079.5,1098.9 1081.5,1098.9 1083.5,1098.9 1085.5,1098.9 1087.5,1099.0 1089.5,1099.0 1091.5,1099.0 1093.5,1099.0 1095.5,1099.0 1097.5,1099.0 1099.5,1099.0 1101.5,1099.0 1103.5,1099.0 1105.5,1099.1 1107.5,1099.1 1109.5,1099.1 1111.5,1099.1 1113.5,1099.1 1115.5,1099.1 1117.5,1099.1 1119.5,1099.1 1121.5,1099.1 1123.5,1099.1 1125.5,1099.1 1127.5,1099.1 1129.5,1099.2 1131.5,1099.2 1133.5,1099.2 1135.5,1099.2 1137.5,1099.2 1139.5,1099.2 1141.5,1099.2 1143.5,1099.2 1145.5,1099.2 1147.5,1099.2 1149.5,1099.2 1151.5,1099.2 1153.5,1099.2 1155.5,1099.2 1157.5,1099.2 1159.5,1099.2 1161.5,1099.3 1163.5,1099.3 1165.5,1099.3 1167.5,1099.3 1169.5,1099.3 1171.5,1099.3 1173.5,1099.3 1175.5,1099.3 1177.5,1099.3 1179.5,1099.3 1181.5,1099.3 1183.5,1099.3 1185.5,1099.3 1187.5,1099.3 1189.5,1099.3 1191.5,1099.3 1193.5,1099.3 1195.5,1099.3 1197.5,1099.3 1199.5,1099.3 1201.5,1099.3 1203.5,1099.3 1205.5,1099.3 1207.5,1099.3 1209.5,1099.3 1211.5,1099.3 1213.5,1099.4 1215.5,1099.4 1217.5,1099.4 1219.5,1099.4 1221.5,1099.4 1223.5,1099.4 1225.5,1099.4 1227.5,1099.4 1229.5,1099.4 1231.5,1099.4 1233.5,1099.4 1235.5,1099.4 1237.5,1099.4 1239.5,1099.4 1241.5,1099.4 1243.5,1099.4 1245.5,1099.4 1247.5,1099.4 1249.5,1099.4 1251.5,1099.4 1253.5,1099.4 1255.5,1099.4 1257.5,1099.4 1259.5,1099.4 1261.5,1099.4 1263.5,1099.4 1265.5,1099.4 1267.5,1099.4 1269.5,1099.4 1271.5,1099.4 1273.5,1099.4 1275.5,1099.5 1277.5,1099.5 1279.5,1099.5 1281.5,1099.5 1283.5,1099.5 1285.5,1099.5 1287.5,1099.5 1289.5,1099.5 1291.5,1099.5 1293.5,1099.5 1295.5,1099.5 1297.5,1099.5 1299.5,1099.5 1301.5,1099.5 1303.5,1099.5 1305.5,1099.5 1307.5,1099.5 1309.5,1099.5 1311.5,1099.5 1313.5,1099.5 1315.5,1099.5 1317.5,1099.5 1319.5,1099.5 1321.5,1099.5 1323.5,1099.5 1325.5,1099.5 1327.5,1099.5 1329.5,1099.5 1331.5,1099.5 1333.5,1099.5 1335.5,1099.5 1337.5,1099.5 1339.5,1099.5 1341.5,1099.5"/>
<polyline stroke="#00ffff" points="307.5,1099.6 309.5,1099.6 311.5,1099.6 313.5,1099.6 315.5,1099.6 317.5,1099.6 319.5,1099.6 321.5,1099.6 323.5,1099.6 325.5,1099.6 327.5,1099.6 329.5,1099.6 331.5,1099.6 333.5,1099.6 335.5,1099.6 337.5,1099.6 339.5,1099.6 341.5,1099.6 343.5,1099.6 345.5,1099.6 347.5,1099.5 349.5,1099.5 351.5,1099.5 353.5,1099.4 355.5,1099.4 357.5,1099.3 359.5,1099.3 361.5,1099.2 363.5,1099.2 365.5,1099.2 367.5,1099.1 369.5,1099.0 371.5,1099.0 373.5,1098.9 375.5,1098.8 377.5,1098.8 379.5,1098.7 381.5,1098.6 383.5,1098.5 385.5,1098.4 387.5,1098.3 389.5,1098.2 391.5,1098.1 393.5,1098.0 395.5,1097.8 397.5,1097.7 399.5,1097.5 401.5,1097.2 403.5,1097.0 405.5,1096.8 407.5,1096.6 409.5,1096.4 411.5,1096.2 413.5,1095.9 415.5,1095.7 417.5,1095.4 419.5,1095.2 421.5,1094.9 423.5,1094.7 425.5,1094.4 427.5,1094.1 429.5,1093.9 431.5,1093.5 433.5,1093.1 435.5,1092.8 437.5,1092.4 439.5,1092.1 441.5,1091.7 443.5,1091.4 445.5,1091.0 447.5,1090.7 449.5,1090.3 451.5,1089.9 453.5,1089.4 455.5,1088.9 457.5,1088.5 459.5,1088.1 461.5,1087.7 463.5,1087.3 465.5,1087.0 467.5,1086.6 469.5,1086.3 471.5,1086.0 473.5,1085.7 475.5,1085.4 477.5,1085.1 479.5,1084.8 481.5,1084.5 483.5,1084.2 485.5,1083.9 487.5,1083.6 489.5,1083.4 491.5,1083.1 493.5,1082.9 495.5,1082.8 497.5,1082.6 499.5,1082.4 501.5,1082.3 503.5,1082.1 505.5,1082.0 507.5,1081.9 509.5,1081.8 511.5,1081.7 513.5,1081.6 515.5,1081.5 517.5,1081.5 519.5,1081.4 521.5,1081.4 523.5,1081.4 525.5,1081.3 527.5,1081.3 529.5,1081.3 531.5,1081.2 533.5,1081.2 535.5,1081.2 537.5,1081.2 539.5,1081.2 541.5,1081.2 543.5,1081.2 545.5,1081.1 547.5,1081.1 549.5,1081.1 551.5,1081.1 553.5,1081.1 555.5,1081.1 557.5,1081.0 559.5,1081.0 561.5,1081.0 563.5,1081.0 565.5,1081.0 567.5,1081.0 569.5,1081.0 571.5,1080.9 573.5,1080.9 575.5,1080.9 577.5,1080.9 579.5,1080.9 581.5,1080.9 583.5,1080.9 585.5,1080.8 587.5,1080.8 589.5,1080.8 591.5,1080.8 593.5,1080.8 595.5,1080.8 597.5,1080.8 599.5,1080.7 601.5,1080.7 603.5,1080.7 605.5,1080.7 607.5,1080.7 609.5,1080.6 611.5,1080.6 613.5,1080.6 615.5,1080.6 617.5,1080.6 619.5,1080.6 621.5,1080.6 623.5,1080.6 625.5,1080.6 627.5,1080.6 629.5,1080.6 631.5,1080.6 633.5,1080.6 635.5,1080.6 637.5,1080.7 639.5,1080.7 641.5,1080.8 643.5,1080.8 645.5,1080.9 647.5,1080.9 649.5,1081.0 651.5,1081.1 653.5,1081.2 655.5,1081.2 657.5,1081.3 659.5,1081.5 661.5,1081.6 663.5,1081.7 665.5,1081.8 667.5,1081.9 669.5,1082.1 671.5,1082.2 673.5,1082.3 675.5,1082.5 677.5,1082.6 679.5,1082.8 681.5,1083.0 683.5,1083.2 685.5,1083.3 687.5,1083.5 689.5,1083.7 691.5,1083.9 693.5,1084.0 695.5,1084.2 697.5,1084.4 699.5,1084.7 701.5,1084.9 703.5,1085.1 705.5,1085.2 707.5,1085.4 709.5,1085.5 711.5,1085.7 713.5,1085.8 715.5,1086.0 717.5,1086.1 719.5,1086.3 721.5,1086.4 723.5,1086.5 725.5,1086.7 727.5,1086.8 729.5,1086.9 731.5,1087.1 733.5,1087.2 735.5,1087.3 737.5,1087.5 739.5,1087.6 741.5,1087.8 743.5,1087.9 745.5,1088.1 747.5,1088.2 749.5,1088.3 751.5,1088.4 753.5,1088.5 755.5,1088.6 757.5,1088.7 759.5,1088.8 761.5,1088.9 763.5,1089.0 765.5,1089.1 767.5,1089.2 769.5,1089.3 771.5,1089.4 773.5,1089.5 775.5,1089.6 777.5,1089.6 779.5,1089.7 781.5,1089.8 783.5,1089.9 785.5,1090.0 787.5,1090.1 789.5,1090.1 791.5,1090.2 793.5,1090.2 795.5,1090.3 797.5,1090.4 799.5,1090.4 801.5,1090.5 803.5,1090.6 805.5,1090.6 807.5,1090.7 809.5,1090.8 811.5,1090.9 813.5,1090.9 815.5,1091.0 817.5,1091.2 819.5,1091.3 821.5,1091.4 823.5,1091.5 825.5,1091.6 827.5,1091.8 829.5,1091.9 831.5,1092.0 833.5,1092.1 835.5,1092.2 837.5,1092.4 839.5,1092.5 841.5,1092.6 843.5,1092.7 845.5,1092.7 847.5,1092.8 849.5,1092.9 851.5,1093.0 853.5,1093.1 855.5,1093.2 857.5,1093.2 859.5,1093.3 861.5,1093.4 863.5,1093.5 865.5,1093.6 867.5,1093.7 869.5,1093.8 871.5,1093.9 873.5,1093.9 875.5,1094.0 877.5,1094.1 879.5,1094.2 881.5,1094.3 883.5,1094.3 885.5,1094.4 887.5,1094.5 889.5,1094.6 891.5,1094.6 893.5,1094.7 895.5,1094.8 897.5,1094.9 899.5,1094.9 901.5,1095.0 903.5,1095.1 905.5,1095.1 907.5,1095.2 909.5,1095.3 911.5,1095.3 913.5,1095.4 915.5,1095.5 917.5,1095.5 919.5,1095.6 921.5,1095.7 923.5,1095.7 925.5,1095.8 927.5,1095.9 929.5,1095.9 931.5,1096.0 933.5,1096.0 935.5,1096.1 937.5,1096.1 939.5,1096.2 941.5,1096.2 943.5,1096.3 945.5,1096.3 947.5,1096.4 949.5,1096.4 951.5,1096.5 953.5,1096.5 955.5,1096.6 957.5,1096.6 959.5,1096.7 961.5,1096.7 963.5,1096.8 965.5,1096.8 967.5,1096.9 969.5,1096.9 971.5,1096.9 973.5,1097.0 975.5,1097.0 977.5,1097.1 979.5,1097.1 981.5,1097.2 983.5,1097.2 985.5,1097.2 987.5,1097.3 989.5,1097.3 991.5,1097.3 993.5,1097.4 995.5,1097.4 997.5,1097.4 999.5,1097.5 1001.5,1097.5 1003.5,1097.6 1005.5,1097.6 1007.5,1097.6 1009.5,1097.6 1011.5,1097.7 1013.5,1097.7 1015.5,1097.7 1017.5,1097.8 1019.5,1097.8 1021.5,1097.8 1023.5,1097.8 1025.5,1097.9 1027.5,1097.9 1029.5,1097.9 1031.5,1098.0 1033.5,1098.0 1035.5,1098.0 1037.5,1098.0 1039.5,1098.0 1041.5,1098.0 1043.5,1098.1 1045.5,1098.1 1047.5,1098.1 1049.5,1098.1 1051.5,1098.1 1053.5,1098.1 1055.5,1098.2 1057.5,1098.2 1059.5,1098.2 1061.5,1098.2 1063.5,1098.2 1065.5,1098.2 1067.5,1098.3 1069.5,1098.3 1071.5,1098.3 1073.5,1098.3 1075.5,1098.3 1077.5,1098.4 1079.5,1098.4 1081.5,1098.4 1083.5,1098.4 1085.5,1098.4 1087.5,1098.4 1089.5,1098.5 1091.5,1098.5 1093.5,1098.5 1095.5,1098.5 1097.5,1098.5 1099.5,1098.6 1101.5,1098.6 1103.5,1098.6 1105.5,1098.6 1107.5,1098.6 1109.5,1098.7 1111.5,1098.7 1113.5,1098.7 1115.5,1098.7 1117.5,1098.7 1119.5,1098.7 1121.5,1098.7 1123.5,1098.8 1125.5,1098.8 1127.5,1098.8 1129.5,1098.8 1131.5,1098.8 1133.5,1098.8 1135.5,1098.8 1137.5,1098.8 1139.5,1098.9 1141.5,1098.9 1143.5,1098.9 1145.5,1098.9 1147.5,1098.9 1149.5,1098.9 1151.5,1098.9 1153.5,1098.9 1155.5,1098.9 1157.5,1099.0 1159.5,1099.0 1161.5,1099.0 1163.5,1099.0 1165.5,1099.0 1167.5,1099.0 1169.5,1099.0 1171.5,1099.0 1173.5,1099.0 1175.5,1099.0 1177.5,1099.0 1179.5,1099.0 1181.5,1099.0 1183.5,1099.0 1185.5,1099.1 1187.5,1099.1 1189.5,1099.1 1191.5,1099.1 1193.5,1099.1 1195.5,1099.1 1197.5,1099.1 1199.5,1099.1 1201.5,1099.1 1203.5,1099.1 1205.5,1099.1 1207.5,1099.1 1209.5,1099.1 1211.5,1099.1 1213.5,1099.1 1215.5,1099.1 1217.5,1099.1 1219.5,1099.2 1221.5,1099.2 1223.5,1099.2 1225.5,1099.2 1227.5,1099.2 1229.5,1099.2 1231.5,1099.2 1233.5,1099.2 1235.5,1099.2 1237.5,1099.2 1239.5,1099.2 1241.5,1099.2 1243.5,1099.2 1245.5,1099.2 1247.5,1099.2 1249.5,1099.2 1251.5,1099.2 1253.5,1099.2 1255.5,1099.3 1257.5,1099.3 1259.5,1099.3 1261.5,1099.3 1263.5,1099.3 1265.5,1099.3 1267.5,1099.3 1269.5,1099.3 1271.5,1099.3 1273.5,1099.3 1275.5,1099.3 1277.5,1099.3 1279.5,1099.3 1281.5,1099.3 1283.5,1099.3 1285.5,1099.3 1287.5,1099.4 1289.5,1099.4 1291.5,1099.4 1293.5,1099.4 1295.5,1099.4 1297.5,1099.4 1299.5,1099.4 1301.5,1099.4 1303.5,1099.4 1305.5,1099.4 1307.5,1099.4 1309.5,1099.4 1311.5,1099.4 1313.5,1099.4 1315.5,1099.4 1317.5,1099.4 1319.5,1099.4 1321.5,1099.4 1323.5,1099.4 1325.5,1099.5 1327.5,1099.5 1329.5,1099.5 1331.5,1099.5 1333.5,1099.5 1335.5,1099.5 1337.5,1099.5 1339.5,1099.5 1341.5,1099.5"/>
<polyline stroke="#0000ff" points="307.5,1099.6 309.5,1099.6 311.5,1099.6 313.5,1099.6 315.5,1099.6 317.5,1099.6 319.5,1099.6 321.5,1099.6 323.5,1099.6 325.5,1099.6 327.5,1099.6 329.5,1099.6 331.5,1099.6 333.5,1099.6 335.5,1099.6 337.5,1099.6 339.5,1099.6 341.5,1099.6 343.5,1099.5 345.5,1099.5 347.5,1099.5 349.5,1099.4 351.5,1099.4 353.5,1099.3 355.5,1099.2 357.5,1099.1 359.5,1099.0 361.5,1098.9 363.5,1098.8 365.5,1098.7 367.5,1098.6 369.5,1098.5 371.5,1098.4 373.5,1098.3 375.5,1098.2 377.5,1098.0 379.5,1097.8 381.5,1097.7 383.5,1097.5 385.5,1097.4 387.5,1097.2 389.5,1097.0 391.5,1096.8 393.5,1096.5 395.5,1096.2 397.5,1096.0 399.5,1095.6 401.5,1095.2 403.5,1094.8 405.5,1094.4 407.5,1094.0 409.5,1093.6 411.5,1093.2 413.5,1092.7 415.5,1092.3 417.5,1091.8 419.5,1091.3 421.5,1090.9 423.5,1090.4 425.5,1089.9 427.5,1089.4 429.5,1088.9 431.5,1088.2 433.5,1087.5 435.5,1086.9 437.5,1086.2 439.5,1085.5 441.5,1084.9 443.5,1084.3 445.5,1083.6 447.5,1083.0 449.5,1082.3 451.5,1081.4 453.5,1080.6 455.5,1079.7 457.5,1078.9 459.5,1078.2 461.5,1077.4 463.5,1076.7 465.5,1076.0 467.5,1075.4 469.5,1074.8 471.5,1074.2 473.5,1073.7 475.5,1073.1 477.5,1072.6 479.5,1072.1 481.5,1071.5 483.5,1071.0 485.5,1070.4 487.5,1069.8 489.5,1069.4 491.5,1068.9 493.5,1068.6 495.5,1068.2 497.5,1067.9 499.5,1067.6 501.5,1067.3 503.5,1067.1 505.5,1066.8 507.5,1066.5 509.5,1066.4 511.5,1066.2 513.5,1066.0 515.5,1066.0 517.5,1065.9 519.5,1065.8 521.5,1065.7 523.5,1065.6 525.5,1065.5 527.5,1065.5 529.5,1065.4 531.5,1065.4 533.5,1065.3 535.5,1065.3 537.5,1065.3 539.5,1065.3 541.5,1065.2 543.5,1065.2 545.5,1065.2 547.5,1065.2 549.5,1065.1 551.5,1065.1 553.5,1065.1 555.5,1065.1 557.5,1065.0 559.5,1065.0 561.5,1065.0 563.5,1064.9 565.5,1064.9 567.5,1064.9 569.5,1064.9 571.5,1064.8 573.5,1064.8 575.5,1064.8 577.5,1064.8 579.5,1064.7 581.5,1064.7 583.5,1064.7 585.5,1064.6 587.5,1064.6 589.5,1064.6 591.5,1064.6 593.5,1064.5 595.5,1064.5 597.5,1064.5 599.5,1064.4 601.5,1064.4 603.5,1064.4 605.5,1064.3 607.5,1064.3 609.5,1064.3 611.5,1064.2 613.5,1064.2 615.5,1064.1 617.5,1064.1 619.5,1064.1 621.5,1064.1 623.5,1064.1 625.5,1064.1 627.5,1064.1 629.5,1064.1 631.5,1064.1 633.5,1064.2 635.5,1064.2 637.5,1064.3 639.5,1064.4 641.5,1064.5 643.5,1064.6 645.5,1064.7 647.5,1064.8 649.5,1065.0 651.5,1065.1 653.5,1065.2 655.5,1065.4 657.5,1065.6 659.5,1065.8 661.5,1066.0 663.5,1066.2 665.5,1066.4 667.5,1066.6 669.5,1066.9 671.5,1067.1 673.5,1067.4 675.5,1067.7 677.5,1068.0 679.5,1068.2 681.5,1068.6 683.5,1068.9 685.5,1069.3 687.5,1069.6 689.5,1070.0 691.5,1070.3 693.5,1070.6 695.5,1070.9 697.5,1071.3 699.5,1071.7 701.5,1072.1 703.5,1072.5 705.5,1072.8 707.5,1073.1 709.5,1073.4 711.5,1073.6 713.5,1073.9 715.5,1074.2 717.5,1074.4 719.5,1074.7 721.5,1075.0 723.5,1075.2 725.5,1075.5 727.5,1075.8 729.5,1076.0 731.5,1076.2 733.5,1076.5 735.5,1076.7 737.5,1077.0 739.5,1077.3 741.5,1077.5 743.5,1077.8 745.5,1078.1 747.5,1078.3 749.5,1078.5 751.5,1078.7 753.5,1078.9 755.5,1079.1 757.5,1079.2 759.5,1079.4 761.5,1079.6 763.5,1079.8 765.5,1080.0 767.5,1080.2 769.5,1080.4 771.5,1080.5 773.5,1080.7 775.5,1080.9 777.5,1081.0 779.5,1081.2 781.5,1081.4 783.5,1081.5 785.5,1081.7 787.5,1081.8 789.5,1081.9 791.5,1082.0 793.5,1082.1 795.5,1082.3 797.5,1082.4 799.5,1082.5 801.5,1082.6 803.5,1082.8 805.5,1082.9 807.5,1083.0 809.5,1083.2 811.5,1083.3 813.5,1083.4 815.5,1083.6 817.5,1083.8 819.5,1084.1 821.5,1084.3 823.5,1084.5 825.5,1084.8 827.5,1085.0 829.5,1085.2 831.5,1085.4 833.5,1085.6 835.5,1085.9 837.5,1086.1 839.5,1086.3 841.5,1086.5 843.5,1086.6 845.5,1086.8 847.5,1087.0 849.5,1087.1 851.5,1087.3 853.5,1087.4 855.5,1087.6 857.5,1087.7 859.5,1087.9 861.5,1088.1 863.5,1088.2 865.5,1088.4 867.5,1088.5 869.5,1088.7 871.5,1088.9 873.5,1089.0 875.5,1089.2 877.5,1089.3 879.5,1089.5 881.5,1089.7 883.5,1089.8 885.5,1089.9 887.5,1090.1 889.5,1090.2 891.5,1090.3 893.5,1090.5 895.5,1090.6 897.5,1090.7 899.5,1090.9 901.5,1091.0 903.5,1091.1 905.5,1091.3 907.5,1091.4 909.5,1091.5 911.5,1091.6 913.5,1091.8 915.5,1091.9 917.5,1092.0 919.5,1092.1 921.5,1092.2 923.5,1092.4 925.5,1092.5 927.5,1092.6 929.5,1092.7 931.5,1092.8 933.5,1092.9 935.5,1093.0 937.5,1093.1 939.5,1093.2 941.5,1093.3 943.5,1093.4 945.5,1093.5 947.5,1093.6 949.5,1093.7 951.5,1093.8 953.5,1093.9 955.5,1094.0 957.5,1094.0 959.5,1094.1 961.5,1094.2 963.5,1094.3 965.5,1094.4 967.5,1094.5 969.5,1094.5 971.5,1094.6 973.5,1094.7 975.5,1094.8 977.5,1094.9 979.5,1094.9 981.5,1095.0 983.5,1095.1 985.5,1095.1 987.5,1095.2 989.5,1095.3 991.5,1095.3 993.5,1095.4 995.5,1095.5 997.5,1095.5 999.5,1095.6 1001.5,1095.7 1003.5,1095.8 1005.5,1095.8 1007.5,1095.9 1009.5,1095.9 1011.5,1096.0 1013.5,1096.0 1015.5,1096.1 1017.5,1096.1 1019.5,1096.2 1021.5,1096.2 1023.5,1096.3 1025.5,1096.4 1027.5,1096.4 1029.5,1096.5 1031.5,1096.5 1033.5,1096.5 1035.5,1096.6 1037.5,1096.6 1039.5,1096.6 1041.5,1096.7 1043.5,1096.7 1045.5,1096.7 1047.5,1096.7 1049.5,1096.8 1051.5,1096.8 1053.5,1096.8 1055.5,1096.9 1057.5,1096.9 1059.5,1096.9 1061.5,1097.0 1063.5,1097.0 1065.5,1097.0 1067.5,1097.1 1069.5,1097.1 1071.5,1097.1 1073.5,1097.2 1075.5,1097.2 1077.5,1097.2 1079.5,1097.3 1081.5,1097.3 1083.5,1097.4 1085.5,1097.4 1087.5,1097.4 1089.5,1097.5 1091.5,1097.5 1093.5,1097.5 1095.5,1097.6 1097.5,1097.6 1099.5,1097.6 1101.5,1097.7 1103.5,1097.7 1105.5,1097.7 1107.5,1097.8 1109.5,1097.8 1111.5,1097.9 1113.5,1097.9 1115.5,1097.9 1117.5,1097.9 1119.5,1097.9 1121.5,1098.0 1123.5,1098.0 1125.5,1098.0 1127.5,1098.0 1129.5,1098.1 1131.5,1098.1 1133.5,1098.1 1135.5,1098.1 1137.5,1098.2 1139.5,1098.2 1141.5,1098.2 1143.5,1098.2 1145.5,1098.3 1147.5,1098.3 1149.5,1098.3 1151.5,1098.3 1153.5,1098.3 1155.5,1098.4 1157.5,1098.4 1159.5,1098.4 1161.5,1098.4 1163.5,1098.4 1165.5,1098.4 1167.5,1098.4 1169.5,1098.4 1171.5,1098.5 1173.5,1098.5 1175.5,1098.5 1177.5,1098.5 1179.5,1098.5 1181.5,1098.5 1183.5,1098.5 1185.5,1098.6 1187.5,1098.6 1189.5,1098.6 1191.5,1098.6 1193.5,1098.6 1195.5,1098.6 1197.5,1098.6 1199.5,1098.6 1201.5,1098.6 1203.5,1098.7 1205.5,1098.7 1207.5,1098.7 1209.5,1098.7 1211.5,1098.7 1213.5,1098.7 1215.5,1098.7 1217.5,1098.7 1219.5,1098.7 1221.5,1098.7 1223.5,1098.8 1225.5,1098.8 1227.5,1098.8 1229.5,1098.8 1231.5,1098.8 1233.5,1098.8 1235.5,1098.8 1237.5,1098.8 1239.5,1098.8 1241.5,1098.8 1243.5,1098.9 1245.5,1098.9 1247.5,1098.9 1249.5,1098.9 1251.5,1098.9 1253.5,1098.9 1255.5,1098.9 1257.5,1098.9 1259.5,1098.9 1261.5,1099.0 1263.5,1099.0 1265.5,1099.0 1267.5,1099.0 1269.5,1099.0 1271.5,1099.0 1273.5,1099.0 1275.5,1099.0 1277.5,1099.0 1279.5,1099.1 1281.5,1099.1 1283.5,1099.1 1285.5,1099.1 1287.5,1099.1 1289.5,1099.1 1291.5,1099.1 1293.5,1099.1 1295.5,1099.2 1297.5,1099.2 1299.5,1099.2 1301.5,1099.2 1303.5,1099.2 1305.5,1099.2 1307.5,1099.2 1309.5,1099.2 1311.5,1099.2 1313.5,1099.2 1315.5,1099.3 1317.5,1099.3 1319.5,1099.3 1321.5,1099.3 1323.5,1099.3 1325.5,1099.3 1327.5,1099.3 1329.5,1099.3 1331.5,1099.3 1333.5,1099.3 1335.5,1099.3 1337.5,1099.3 1339.5,1099.3 1341.5,1099.3"/>
<polyline stroke="#00ff00" points="307.5,1099.6 309.5,1099.6 311.5,1099.6 313.5,1099.6 315.5,1099.6 317.5,1099.6 319.5,1099.6 321.5,1099.6 323.5,1099.6 325.5,1099.6 327.5,1099.6 329.5,1099.6 331.5,1099.6 333.5,1099.6 335.5,1099.6 337.5,1099.6 339.5,1099.6 341.5,1099.5 343.5,1099.5 345.5,1099.4 347.5,1099.4 349.5,1099.3 351.5,1099.2 353.5,1099.1 355.5,1099.0 357.5,1098.8 359.5,1098.7 361.5,1098.6 363.5,1098.5 365.5,1098.3 367.5,1098.2 369.5,1098.0 371.5,1097.9 373.5,1097.7 375.5,1097.5 377.5,1097.3 379.5,1097.0 381.5,1096.8 383.5,1096.6 385.5,1096.3 387.5,1096.1 389.5,1095.9 391.5,1095.5 393.5,1095.1 395.5,1094.7 397.5,1094.3 399.5,1093.8 401.5,1093.2 403.5,1092.6 405.5,1092.0 407.5,1091.5 409.5,1090.9 411.5,1090.3 413.5,1089.6 415.5,1089.0 417.5,1088.3 419.5,1087.6 421.5,1086.9 423.5,1086.2 425.5,1085.5 427.5,1084.8 429.5,1084.1 431.5,1083.1 433.5,1082.1 435.5,1081.2 437.5,1080.2 439.5,1079.2 441.5,1078.3 443.5,1077.4 445.5,1076.5 447.5,1075.6 449.5,1074.5 451.5,1073.3 453.5,1072.0 455.5,1070.8 457.5,1069.7 459.5,1068.5 461.5,1067.4 463.5,1066.4 465.5,1065.5 467.5,1064.5 469.5,1063.7 471.5,1062.8 473.5,1062.1 475.5,1061.3 477.5,1060.5 479.5,1059.7 481.5,1059.0 483.5,1058.1 485.5,1057.3 487.5,1056.5 489.5,1055.9 491.5,1055.2 493.5,1054.7 495.5,1054.1 497.5,1053.7 499.5,1053.3 501.5,1052.9 503.5,1052.5 505.5,1052.1 507.5,1051.8 509.5,1051.5 511.5,1051.3 513.5,1051.0 515.5,1050.9 517.5,1050.8 519.5,1050.6 521.5,1050.5 523.5,1050.4 525.5,1050.3 527.5,1050.2 529.5,1050.1 531.5,1050.1 533.5,1050.0 535.5,1050.0 537.5,1049.9 539.5,1049.9 541.5,1049.9 543.5,1049.8 545.5,1049.8 547.5,1049.7 549.5,1049.7 551.5,1049.7 553.5,1049.6 555.5,1049.6 557.5,1049.5 559.5,1049.5 561.5,1049.5 563.5,1049.4 565.5,1049.4 567.5,1049.4 569.5,1049.3 571.5,1049.3 573.5,1049.2 575.5,1049.2 577.5,1049.2 579.5,1049.1 581.5,1049.1 583.5,1049.0 585.5,1049.0 587.5,1049.0 589.5,1048.9 591.5,1048.9 593.5,1048.8 595.5,1048.8 597.5,1048.8 599.5,1048.7 601.5,1048.7 603.5,1048.6 605.5,1048.6 607.5,1048.5 609.5,1048.4 611.5,1048.4 613.5,1048.3 615.5,1048.2 617.5,1048.2 619.5,1048.2 621.5,1048.2 623.5,1048.2 625.5,1048.2 627.5,1048.2 629.5,1048.2 631.5,1048.3 633.5,1048.3 635.5,1048.4 637.5,1048.5 639.5,1048.6 641.5,1048.8 643.5,1048.9 645.5,1049.1 647.5,1049.3 649.5,1049.5 651.5,1049.7 653.5,1049.8 655.5,1050.1 657.5,1050.4 659.5,1050.6 661.5,1050.9 663.5,1051.2 665.5,1051.5 667.5,1051.9 669.5,1052.2 671.5,1052.6 673.5,1053.0 675.5,1053.4 677.5,1053.8 679.5,1054.2 681.5,1054.7 683.5,1055.2 685.5,1055.7 687.5,1056.2 689.5,1056.7 691.5,1057.2 693.5,1057.6 695.5,1058.1 697.5,1058.7 699.5,1059.3 701.5,1059.9 703.5,1060.4 705.5,1060.8 707.5,1061.2 709.5,1061.6 711.5,1062.0 713.5,1062.4 715.5,1062.8 717.5,1063.2 719.5,1063.6 721.5,1064.0 723.5,1064.3 725.5,1064.7 727.5,1065.1 729.5,1065.4 731.5,1065.8 733.5,1066.1 735.5,1066.5 737.5,1066.9 739.5,1067.3 741.5,1067.7 743.5,1068.0 745.5,1068.4 747.5,1068.8 749.5,1069.0 751.5,1069.3 753.5,1069.6 755.5,1069.8 757.5,1070.1 759.5,1070.4 761.5,1070.7 763.5,1070.9 765.5,1071.2 767.5,1071.5 769.5,1071.7 771.5,1072.0 773.5,1072.2 775.5,1072.5 777.5,1072.7 779.5,1073.0 781.5,1073.2 783.5,1073.4 785.5,1073.6 787.5,1073.8 789.5,1074.0 791.5,1074.1 793.5,1074.3 795.5,1074.5 797.5,1074.6 799.5,1074.8 801.5,1075.0 803.5,1075.2 805.5,1075.4 807.5,1075.6 809.5,1075.8 811.5,1076.0 813.5,1076.2 815.5,1076.5 817.5,1076.8 819.5,1077.1 821.5,1077.4 823.5,1077.8 825.5,1078.1 827.5,1078.4 829.5,1078.7 831.5,1079.1 833.5,1079.4 835.5,1079.7 837.5,1080.0 839.5,1080.4 841.5,1080.6 843.5,1080.8 845.5,1081.1 847.5,1081.3 849.5,1081.5 851.5,1081.7 853.5,1081.9 855.5,1082.2 857.5,1082.4 859.5,1082.6 861.5,1082.9 863.5,1083.1 865.5,1083.3 867.5,1083.6 869.5,1083.8 871.5,1084.0 873.5,1084.3 875.5,1084.5 877.5,1084.7 879.5,1085.0 881.5,1085.2 883.5,1085.4 885.5,1085.6 887.5,1085.8 889.5,1086.0 891.5,1086.2 893.5,1086.4 895.5,1086.6 897.5,1086.8 899.5,1086.9 901.5,1087.1 903.5,1087.3 905.5,1087.5 907.5,1087.7 909.5,1087.9 911.5,1088.1 913.5,1088.2 915.5,1088.4 917.5,1088.6 919.5,1088.8 921.5,1088.9 923.5,1089.1 925.5,1089.3 927.5,1089.5 929.5,1089.6 931.5,1089.8 933.5,1089.9 935.5,1090.1 937.5,1090.2 939.5,1090.3 941.5,1090.5 943.5,1090.6 945.5,1090.7 947.5,1090.9 949.5,1091.0 951.5,1091.2 953.5,1091.3 955.5,1091.4 957.5,1091.5 959.5,1091.7 961.5,1091.8 963.5,1091.9 965.5,1092.0 967.5,1092.1 969.5,1092.2 971.5,1092.4 973.5,1092.5 975.5,1092.6 977.5,1092.7 979.5,1092.8 981.5,1092.9 983.5,1093.0 985.5,1093.1 987.5,1093.2 989.5,1093.3 991.5,1093.4 993.5,1093.5 995.5,1093.6 997.5,1093.7 999.5,1093.8 1001.5,1093.9 1003.5,1094.0 1005.5,1094.1 1007.5,1094.2 1009.5,1094.3 1011.5,1094.3 1013.5,1094.4 1015.5,1094.5 1017.5,1094.6 1019.5,1094.7 1021.5,1094.7 1023.5,1094.8 1025.5,1094.9 1027.5,1095.0 1029.5,1095.0 1031.5,1095.1 1033.5,1095.1 1035.5,1095.2 1037.5,1095.2 1039.5,1095.3 1041.5,1095.3 1043.5,1095.4 1045.5,1095.4 1047.5,1095.5 1049.5,1095.5 1051.5,1095.5 1053.5,1095.6 1055.5,1095.6 1057.5,1095.7 1059.5,1095.7 1061.5,1095.8 1063.5,1095.8 1065.5,1095.9 1067.5,1095.9 1069.5,1096.0 1071.5,1096.0 1073.5,1096.1 1075.5,1096.1 1077.5,1096.2 1079.5,1096.2 1081.5,1096.3 1083.5,1096.3 1085.5,1096.4 1087.5,1096.4 1089.5,1096.5 1091.5,1096.5 1093.5,1096.6 1095.5,1096.6 1097.5,1096.7 1099.5,1096.7 1101.5,1096.8 1103.5,1096.8 1105.5,1096.9 1107.5,1097.0 1109.5,1097.0 1111.5,1097.0 1113.5,1097.1 1115.5,1097.1 1117.5,1097.2 1119.5,1097.2 1121.5,1097.2 1123.5,1097.3 1125.5,1097.3 1127.5,1097.3 1129.5,1097.4 1131.5,1097.4 1133.5,1097.4 1135.5,1097.5 1137.5,1097.5 1139.5,1097.5 1141.5,1097.6 1143.5,1097.6 1145.5,1097.6 1147.5,1097.7 1149.5,1097.7 1151.5,1097.7 1153.5,1097.8 1155.5,1097.8 1157.5,1097.8 1159.5,1097.8 1161.5,1097.8 1163.5,1097.9 1165.5,1097.9 1167.5,1097.9 1169.5,1097.9 1171.5,1097.9 1173.5,1098.0 1175.5,1098.0 1177.5,1098.0 1179.5,1098.0 1181.5,1098.0 1183.5,1098.0 1185.5,1098.1 1187.5,1098.1 1189.5,1098.1 1191.5,1098.1 1193.5,1098.1 1195.5,1098.2 1197.5,1098.2 1199.5,1098.2 1201.5,1098.2 1203.5,1098.2 1205.5,1098.2 1207.5,1098.2 1209.5,1098.3 1211.5,1098.3 1213.5,1098.3 1215.5,1098.3 1217.5,1098.3 1219.5,1098.3 1221.5,1098.3 1223.5,1098.4 1225.5,1098.4 1227.5,1098.4 1229.5,1098.4 1231.5,1098.4 1233.5,1098.4 1235.5,1098.4 1237.5,1098.5 1239.5,1098.5 1241.5,1098.5 1243.5,1098.5 1245.5,1098.5 1247.5,1098.5 1249.5,1098.6 1251.5,1098.6 1253.5,1098.6 1255.5,1098.6 1257.5,1098.6 1259.5,1098.6 1261.5,1098.6 1263.5,1098.7 1265.5,1098.7 1267.5,1098.7 1269.5,1098.7 1271.5,1098.7 1273.5,1098.7 1275.5,1098.8 1277.5,1098.8 1279.5,1098.8 1281.5,1098.8 1283.5,1098.8 1285.5,1098.8 1287.5,1098.9 1289.5,1098.9 1291.5,1098.9 1293.5,1098.9 1295.5,1098.9 1297.5,1099.0 1299.5,1099.0 1301.5,1099.0 1303.5,1099.0 1305.5,1099.0 1307.5,1099.0 1309.5,1099.1 1311.5,1099.1 1313.5,1099.1 1315.5,1099.1 1317.5,1099.1 1319.5,1099.1 1321.5,1099.1 1323.5,1099.1 1325.5,1099.1 1327.5,1099.1 1329.5,1099.2 1331.5,1099.2 1333.5,1099.2 1335.5,1099.2 1337.5,1099.2 1339.5,1099.2 1341.5,1099.2"/>
<polyline stroke="#ff0000" points="307.5,1099.6 309.5,1099.6 311.5,1099.6 313.5,1099.6 315.5,1099.6 317.5,1099.6 319.5,1099.6 321.5,1099.6 323.5,1099.6 325.5,1099.6 327.5,1099.6 329.5,1099.6 331.5,1099.6 333.5,1099.6 335.5,1099.6 337.5,1099.6 339.5,1099.5 341.5,1099.5 343.5,1099.4 345.5,1099.3 347.5,1099.2 349.5,1099.1 351.5,1099.0 353.5,1098.7 355.5,1098.5 357.5,1098.3 359.5,1098.1 361.5,1097.9 363.5,1097.7 365.5,1097.5 367.5,1097.3 369.5,1097.0 371.5,1096.8 373.5,1096.5 375.5,1096.2 377.5,1095.8 379.5,1095.4 381.5,1095.0 383.5,1094.6 385.5,1094.2 387.5,1093.9 389.5,1093.5 391.5,1092.9 393.5,1092.2 395.5,1091.6 397.5,1091.0 399.5,1090.1 401.5,1089.1 403.5,1088.2 405.5,1087.2 407.5,1086.3 409.5,1085.4 411.5,1084.4 413.5,1083.3 415.5,1082.3 417.5,1081.2 419.5,1080.1 421.5,1078.9 423.5,1077.8 425.5,1076.6 427.5,1075.4 429.5,1074.2 431.5,1072.7 433.5,1071.1 435.5,1069.5 437.5,1067.9 439.5,1066.4 441.5,1064.9 443.5,1063.4 445.5,1061.9 447.5,1060.4 449.5,1058.6 451.5,1056.6 453.5,1054.6 455.5,1052.7 457.5,1050.7 459.5,1048.9 461.5,1047.1 463.5,1045.5 465.5,1043.9 467.5,1042.4 469.5,1041.0 471.5,1039.6 473.5,1038.4 475.5,1037.1 477.5,1035.8 479.5,1034.6 481.5,1033.3 483.5,1031.9 485.5,1030.6 487.5,1029.3 489.5,1028.2 491.5,1027.2 493.5,1026.3 495.5,1025.4 497.5,1024.7 499.5,1024.0 501.5,1023.4 503.5,1022.8 505.5,1022.1 507.5,1021.6 509.5,1021.2 511.5,1020.8 513.5,1020.4 515.5,1020.1 517.5,1019.9 519.5,1019.7 521.5,1019.5 523.5,1019.3 525.5,1019.2 527.5,1019.0 529.5,1018.9 531.5,1018.8 533.5,1018.7 535.5,1018.7 537.5,1018.6 539.5,1018.5 541.5,1018.5 543.5,1018.4 545.5,1018.3 547.5,1018.3 549.5,1018.2 551.5,1018.1 553.5,1018.1 555.5,1018.0 557.5,1018.0 559.5,1017.9 561.5,1017.8 563.5,1017.8 565.5,1017.7 567.5,1017.6 569.5,1017.6 571.5,1017.5 573.5,1017.4 575.5,1017.4 577.5,1017.3 579.5,1017.3 581.5,1017.2 583.5,1017.1 585.5,1017.1 587.5,1017.0 589.5,1016.9 591.5,1016.9 593.5,1016.8 595.5,1016.7 597.5,1016.7 599.5,1016.6 601.5,1016.5 603.5,1016.4 605.5,1016.3 607.5,1016.2 609.5,1016.1 611.5,1016.0 613.5,1015.9 615.5,1015.8 617.5,1015.8 619.5,1015.8 621.5,1015.8 623.5,1015.8 625.5,1015.8 627.5,1015.8 629.5,1015.8 631.5,1015.9 633.5,1016.0 635.5,1016.1 637.5,1016.2 639.5,1016.4 641.5,1016.7 643.5,1016.9 645.5,1017.2 647.5,1017.5 649.5,1017.8 651.5,1018.1 653.5,1018.4 655.5,1018.8 657.5,1019.3 659.5,1019.7 661.5,1020.2 663.5,1020.6 665.5,1021.2 667.5,1021.8 669.5,1022.3 671.5,1022.9 673.5,1023.6 675.5,1024.2 677.5,1024.9 679.5,1025.6 681.5,1026.4 683.5,1027.2 685.5,1028.0 687.5,1028.8 689.5,1029.6 691.5,1030.4 693.5,1031.1 695.5,1031.9 697.5,1032.9 699.5,1033.8 701.5,1034.8 703.5,1035.7 705.5,1036.4 707.5,1037.0 709.5,1037.6 711.5,1038.3 713.5,1038.9 715.5,1039.5 717.5,1040.2 719.5,1040.8 721.5,1041.4 723.5,1042.1 725.5,1042.7 727.5,1043.3 729.5,1043.8 731.5,1044.4 733.5,1045.0 735.5,1045.6 737.5,1046.2 739.5,1046.8 741.5,1047.5 743.5,1048.1 745.5,1048.8 747.5,1049.3 749.5,1049.7 751.5,1050.2 753.5,1050.6 755.5,1051.1 757.5,1051.5 759.5,1052.0 761.5,1052.4 763.5,1052.8 765.5,1053.3 767.5,1053.7 769.5,1054.1 771.5,1054.5 773.5,1054.9 775.5,1055.3 777.5,1055.7 779.5,1056.1 781.5,1056.5 783.5,1056.9 785.5,1057.2 787.5,1057.5 789.5,1057.8 791.5,1058.1 793.5,1058.3 795.5,1058.6 797.5,1058.9 799.5,1059.2 801.5,1059.5 803.5,1059.8 805.5,1060.1 807.5,1060.4 809.5,1060.7 811.5,1061.1 813.5,1061.4 815.5,1061.8 817.5,1062.4 819.5,1062.9 821.5,1063.4 823.5,1064.0 825.5,1064.5 827.5,1065.0 829.5,1065.6 831.5,1066.1 833.5,1066.6 835.5,1067.1 837.5,1067.7 839.5,1068.2 841.5,1068.6 843.5,1069.0 845.5,1069.3 847.5,1069.7 849.5,1070.1 851.5,1070.4 853.5,1070.8 855.5,1071.2 857.5,1071.5 859.5,1071.9 861.5,1072.3 863.5,1072.7 865.5,1073.1 867.5,1073.4 869.5,1073.8 871.5,1074.2 873.5,1074.6 875.5,1075.0 877.5,1075.4 879.5,1075.7 881.5,1076.1 883.5,1076.4 885.5,1076.7 887.5,1077.0 889.5,1077.3 891.5,1077.7 893.5,1078.0 895.5,1078.3 897.5,1078.6 899.5,1078.9 901.5,1079.3 903.5,1079.6 905.5,1079.9 907.5,1080.2 909.5,1080.5 911.5,1080.7 913.5,1081.0 915.5,1081.3 917.5,1081.6 919.5,1081.9 921.5,1082.2 923.5,1082.5 925.5,1082.8 927.5,1083.0 929.5,1083.3 931.5,1083.6 933.5,1083.8 935.5,1084.0 937.5,1084.2 939.5,1084.5 941.5,1084.7 943.5,1084.9 945.5,1085.1 947.5,1085.4 949.5,1085.6 951.5,1085.8 953.5,1086.0 955.5,1086.2 957.5,1086.4 959.5,1086.6 961.5,1086.8 963.5,1087.0 965.5,1087.2 967.5,1087.4 969.5,1087.6 971.5,1087.8 973.5,1088.0 975.5,1088.2 977.5,1088.4 979.5,1088.5 981.5,1088.7 983.5,1088.9 985.5,1089.0 987.5,1089.2 989.5,1089.3 991.5,1089.5 993.5,1089.7 995.5,1089.8 997.5,1090.0 999.5,1090.1 1001.5,1090.3 1003.5,1090.5 1005.5,1090.6 1007.5,1090.7 1009.5,1090.9 1011.5,1091.0 1013.5,1091.1 1015.5,1091.3 1017.5,1091.4 1019.5,1091.5 1021.5,1091.6 1023.5,1091.8 1025.5,1091.9 1027.5,1092.0 1029.5,1092.1 1031.5,1092.2 1033.5,1092.3 1035.5,1092.4 1037.5,1092.5 1039.5,1092.5 1041.5,1092.6 1043.5,1092.7 1045.5,1092.7 1047.5,1092.8 1049.5,1092.9 1051.5,1093.0 1053.5,1093.0 1055.5,1093.1 1057.5,1093.2 1059.5,1093.3 1061.5,1093.3 1063.5,1093.4 1065.5,1093.5 1067.5,1093.6 1069.5,1093.7 1071.5,1093.7 1073.5,1093.8 1075.5,1093.9 1077.5,1094.0 1079.5,1094.1 1081.5,1094.2 1083.5,1094.2 1085.5,1094.3 1087.5,1094.4 1089.5,1094.5 1091.5,1094.6 1093.5,1094.7 1095.5,1094.7 1097.5,1094.8 1099.5,1094.9 1101.5,1095.0 1103.5,1095.1 1105.5,1095.2 1107.5,1095.3 1109.5,1095.3 1111.5,1095.4 1113.5,1095.5 1115.5,1095.5 1117.5,1095.6 1119.5,1095.6 1121.5,1095.7 1123.5,1095.8 1125.5,1095.8 1127.5,1095.9 1129.5,1095.9 1131.5,1096.0 1133.5,1096.0 1135.5,1096.1 1137.5,1096.1 1139.5,1096.2 1141.5,1096.3 1143.5,1096.3 1145.5,1096.4 1147.5,1096.4 1149.5,1096.5 1151.5,1096.5 1153.5,1096.6 1155.5,1096.6 1157.5,1096.6 1159.5,1096.7 1161.5,1096.7 1163.5,1096.7 1165.5,1096.8 1167.5,1096.8 1169.5,1096.8 1171.5,1096.9 1173.5,1096.9 1175.5,1096.9 1177.5,1096.9 1179.5,1097.0 1181.5,1097.0 1183.5,1097.0 1185.5,1097.1 1187.5,1097.1 1189.5,1097.1 1191.5,1097.2 1193.5,1097.2 1195.5,1097.2 1197.5,1097.2 1199.5,1097.3 1201.5,1097.3 1203.5,1097.3 1205.5,1097.3 1207.5,1097.4 1209.5,1097.4 1211.5,1097.4 1213.5,1097.4 1215.5,1097.5 1217.5,1097.5 1219.5,1097.5 1221.5,1097.5 1223.5,1097.6 1225.5,1097.6 1227.5,1097.6 1229.5,1097.6 1231.5,1097.6 1233.5,1097.7 1235.5,1097.7 1237.5,1097.7 1239.5,1097.7 1241.5,1097.8 1243.5,1097.8 1245.5,1097.8 1247.5,1097.8 1249.5,1097.9 1251.5,1097.9 1253.5,1097.9 1255.5,1097.9 1257.5,1098.0 1259.5,1098.0 1261.5,1098.0 1263.5,1098.0 1265.5,1098.1 1267.5,1098.1 1269.5,1098.1 1271.5,1098.1 1273.5,1098.2 1275.5,1098.2 1277.5,1098.2 1279.5,1098.3 1281.5,1098.3 1283.5,1098.3 1285.5,1098.3 1287.5,1098.4 1289.5,1098.4 1291.5,1098.4 1293.5,1098.5 1295.5,1098.5 1297.5,1098.5 1299.5,1098.6 1301.5,1098.6 1303.5,1098.6 1305.5,1098.6 1307.5,1098.7 1309.5,1098.7 1311.5,1098.7 1313.5,1098.7 1315.5,1098.7 1317.5,1098.7 1319.5,1098.8 1321.5,1098.8 1323.5,1098.8 1325.5,1098.8 1327.5,1098.8 1329.5,1098.8 1331.5,1098.9 1333.5,1098.9 1335.5,1098.9 1337.5,1098.9 1339.5,1098.9 1341.5,1098.9"/>
<polyline stroke="#000000" points="307.5,1099.6 309.5,1099.6 311.5,1099.6 313.5,1099.6 315.5,1099.6 317.5,1099.6 319.5,1099.6 321.5,1099.6 323.5,1099.6 325.5,1099.6 327.5,1099.6 329.5,1099.6 331.5,1099.6 333.5,1099.6 335.5,1099.6 337.5,1099.5 339.5,1099.5 341.5,1099.4 343.5,1099.3 345.5,1099.2 347.5,1099.1 349.5,1099.0 351.5,1098.7 353.5,1098.4 355.5,1098.2 357.5,1097.9 359.5,1097.6 361.5,1097.3 363.5,1097.1 365.5,1096.8 367.5,1096.5 369.5,1096.2 371.5,1095.8 373.5,1095.5 375.5,1095.0 377.5,1094.5 379.5,1094.0 381.5,1093.5 383.5,1093.0 385.5,1092.5 387.5,1091.9 389.5,1091.4 391.5,1090.6 393.5,1089.8 395.5,1088.9 397.5,1088.1 399.5,1086.9 401.5,1085.6 403.5,1084.3 405.5,1083.1 407.5,1081.8 409.5,1080.6 411.5,1079.4 413.5,1077.9 415.5,1076.5 417.5,1075.0 419.5,1073.6 421.5,1072.0 423.5,1070.5 425.5,1068.9 427.5,1067.3 429.5,1065.8 431.5,1063.7 433.5,1061.6 435.5,1059.5 437.5,1057.4 439.5,1055.3 441.5,1053.3 443.5,1051.3 445.5,1049.3 447.5,1047.3 449.5,1045.0 451.5,1042.3 453.5,1039.7 455.5,1037.0 457.5,1034.5 459.5,1032.0 461.5,1029.6 463.5,1027.5 465.5,1025.4 467.5,1023.4 469.5,1021.5 471.5,1019.7 473.5,1018.0 475.5,1016.3 477.5,1014.6 479.5,1012.9 481.5,1011.2 483.5,1009.4 485.5,1007.6 487.5,1005.9 489.5,1004.5 491.5,1003.0 493.5,1001.9 495.5,1000.7 497.5,999.7 499.5,998.9 501.5,998.0 503.5,997.2 505.5,996.3 507.5,995.6 509.5,995.0 511.5,994.5 513.5,994.0 515.5,993.7 517.5,993.4 519.5,993.1 521.5,992.8 523.5,992.6 525.5,992.4 527.5,992.2 529.5,992.0 531.5,991.9 533.5,991.8 535.5,991.7 537.5,991.6 539.5,991.5 541.5,991.4 543.5,991.3 545.5,991.3 547.5,991.2 549.5,991.1 551.5,991.0 553.5,990.9 555.5,990.8 557.5,990.8 559.5,990.7 561.5,990.6 563.5,990.5 565.5,990.4 567.5,990.3 569.5,990.2 571.5,990.2 573.5,990.1 575.5,990.0 577.5,989.9 579.5,989.8 581.5,989.7 583.5,989.6 585.5,989.6 587.5,989.5 589.5,989.4 591.5,989.3 593.5,989.2 595.5,989.1 597.5,989.0 599.5,988.9 601.5,988.8 603.5,988.7 605.5,988.6 607.5,988.5 609.5,988.3 611.5,988.2 613.5,988.0 615.5,987.9 617.5,987.9 619.5,987.9 621.5,987.9 623.5,987.9 625.5,987.9 627.5,987.9 629.5,987.9 631.5,988.0 633.5,988.1 635.5,988.3 637.5,988.5 639.5,988.7 641.5,989.1 643.5,989.4 645.5,989.8 647.5,990.1 649.5,990.6 651.5,991.0 653.5,991.4 655.5,991.9 657.5,992.5 659.5,993.1 661.5,993.7 663.5,994.3 665.5,995.1 667.5,995.9 669.5,996.6 671.5,997.4 673.5,998.3 675.5,999.1 677.5,1000.0 679.5,1000.9 681.5,1002.0 683.5,1003.1 685.5,1004.2 687.5,1005.2 689.5,1006.3 691.5,1007.3 693.5,1008.3 695.5,1009.4 697.5,1010.6 699.5,1011.9 701.5,1013.1 703.5,1014.4 705.5,1015.3 707.5,1016.2 709.5,1017.0 711.5,1017.8 713.5,1018.7 715.5,1019.5 717.5,1020.4 719.5,1021.2 721.5,1022.1 723.5,1022.9 725.5,1023.7 727.5,1024.5 729.5,1025.3 731.5,1026.0 733.5,1026.8 735.5,1027.6 737.5,1028.4 739.5,1029.3 741.5,1030.1 743.5,1031.0 745.5,1031.8 747.5,1032.5 749.5,1033.1 751.5,1033.7 753.5,1034.3 755.5,1034.9 757.5,1035.5 759.5,1036.1 761.5,1036.7 763.5,1037.3 765.5,1037.9 767.5,1038.5 769.5,1039.0 771.5,1039.5 773.5,1040.0 775.5,1040.6 777.5,1041.1 779.5,1041.6 781.5,1042.2 783.5,1042.7 785.5,1043.1 787.5,1043.5 789.5,1043.9 791.5,1044.2 793.5,1044.6 795.5,1044.9 797.5,1045.3 799.5,1045.7 801.5,1046.1 803.5,1046.5 805.5,1046.9 807.5,1047.4 809.5,1047.8 811.5,1048.2 813.5,1048.6 815.5,1049.3 817.5,1050.0 819.5,1050.7 821.5,1051.4 823.5,1052.1 825.5,1052.8 827.5,1053.5 829.5,1054.2 831.5,1054.9 833.5,1055.6 835.5,1056.3 837.5,1057.0 839.5,1057.7 841.5,1058.3 843.5,1058.8 845.5,1059.2 847.5,1059.7 849.5,1060.2 851.5,1060.7 853.5,1061.2 855.5,1061.7 857.5,1062.2 859.5,1062.7 861.5,1063.2 863.5,1063.7 865.5,1064.2 867.5,1064.7 869.5,1065.2 871.5,1065.7 873.5,1066.2 875.5,1066.8 877.5,1067.3 879.5,1067.8 881.5,1068.2 883.5,1068.7 885.5,1069.1 887.5,1069.5 889.5,1069.9 891.5,1070.3 893.5,1070.8 895.5,1071.2 897.5,1071.6 899.5,1072.0 901.5,1072.5 903.5,1072.9 905.5,1073.3 907.5,1073.7 909.5,1074.1 911.5,1074.5 913.5,1074.8 915.5,1075.2 917.5,1075.6 919.5,1076.0 921.5,1076.4 923.5,1076.8 925.5,1077.1 927.5,1077.5 929.5,1077.9 931.5,1078.2 933.5,1078.5 935.5,1078.8 937.5,1079.1 939.5,1079.4 941.5,1079.7 943.5,1080.0 945.5,1080.3 947.5,1080.6 949.5,1080.9 951.5,1081.2 953.5,1081.5 955.5,1081.8 957.5,1082.0 959.5,1082.3 961.5,1082.6 963.5,1082.8 965.5,1083.1 967.5,1083.3 969.5,1083.6 971.5,1083.8 973.5,1084.1 975.5,1084.3 977.5,1084.6 979.5,1084.8 981.5,1085.1 983.5,1085.3 985.5,1085.5 987.5,1085.7 989.5,1085.9 991.5,1086.1 993.5,1086.3 995.5,1086.6 997.5,1086.8 999.5,1087.0 1001.5,1087.2 1003.5,1087.4 1005.5,1087.6 1007.5,1087.8 1009.5,1088.0 1011.5,1088.1 1013.5,1088.3 1015.5,1088.5 1017.5,1088.6 1019.5,1088.8 1021.5,1089.0 1023.5,1089.1 1025.5,1089.3 1027.5,1089.5 1029.5,1089.6 1031.5,1089.8 1033.5,1089.9 1035.5,1090.0 1037.5,1090.1 1039.5,1090.2 1041.5,1090.2 1043.5,1090.3 1045.5,1090.4 1047.5,1090.5 1049.5,1090.6 1051.5,1090.7 1053.5,1090.8 1055.5,1090.9 1057.5,1091.0 1059.5,1091.1 1061.5,1091.2 1063.5,1091.3 1065.5,1091.5 1067.5,1091.6 1069.5,1091.7 1071.5,1091.8 1073.5,1091.9 1075.5,1092.0 1077.5,1092.1 1079.5,1092.2 1081.5,1092.3 1083.5,1092.4 1085.5,1092.6 1087.5,1092.7 1089.5,1092.8 1091.5,1092.9 1093.5,1093.0 1095.5,1093.1 1097.5,1093.2 1099.5,1093.3 1101.5,1093.5 1103.5,1093.6 1105.5,1093.7 1107.5,1093.8 1109.5,1093.9 1111.5,1094.0 1113.5,1094.1 1115.5,1094.2 1117.5,1094.2 1119.5,1094.3 1121.5,1094.4 1123.5,1094.5 1125.5,1094.5 1127.5,1094.6 1129.5,1094.7 1131.5,1094.8 1133.5,1094.8 1135.5,1094.9 1137.5,1095.0 1139.5,1095.1 1141.5,1095.1 1143.5,1095.2 1145.5,1095.3 1147.5,1095.3 1149.5,1095.4 1151.5,1095.5 1153.5,1095.5 1155.5,1095.6 1157.5,1095.6 1159.5,1095.7 1161.5,1095.7 1163.5,1095.8 1165.5,1095.8 1167.5,1095.8 1169.5,1095.9 1171.5,1095.9 1173.5,1096.0 1175.5,1096.0 1177.5,1096.1 1179.5,1096.1 1181.5,1096.1 1183.5,1096.2 1185.5,1096.2 1187.5,1096.3 1189.5,1096.3 1191.5,1096.4 1193.5,1096.4 1195.5,1096.4 1197.5,1096.5 1199.5,1096.5 1201.5,1096.5 1203.5,1096.5 1205.5,1096.6 1207.5,1096.6 1209.5,1096.6 1211.5,1096.7 1213.5,1096.7 1215.5,1096.7 1217.5,1096.8 1219.5,1096.8 1221.5,1096.8 1223.5,1096.9 1225.5,1096.9 1227.5,1096.9 1229.5,1097.0 1231.5,1097.0 1233.5,1097.0 1235.5,1097.0 1237.5,1097.1 1239.5,1097.1 1241.5,1097.1 1243.5,1097.2 1245.5,1097.2 1247.5,1097.2 1249.5,1097.3 1251.5,1097.3 1253.5,1097.3 1255.5,1097.4 1257.5,1097.4 1259.5,1097.4 1261.5,1097.5 1263.5,1097.5 1265.5,1097.5 1267.5,1097.6 1269.5,1097.6 1271.5,1097.6 1273.5,1097.7 1275.5,1097.7 1277.5,1097.8 1279.5,1097.8 1281.5,1097.8 1283.5,1097.9 1285.5,1097.9 1287.5,1098.0 1289.5,1098.0 1291.5,1098.0 1293.5,1098.1 1295.5,1098.1 1297.5,1098.2 1299.5,1098.2 1301.5,1098.3 1303.5,1098.3 1305.5,1098.3 1307.5,1098.3 1309.5,1098.4 1311.5,1098.4 1313.5,1098.4 1315.5,1098.4 1317.5,1098.4 1319.5,1098.5 1321.5,1098.5 1323.5,1098.5 1325.5,1098.5 1327.5,1098.6 1329.5,1098.6 1331.5,1098.6 1333.5,1098.6 1335.5,1098.6 1337.5,1098.7 1339.5,1098.7 1341.5,1098.7"/>
<polyline stroke="#404040" points="307.5,1099.6 309.5,1099.6 311.5,1099.6 313.5,1099.6 315.5,1099.6 317.5,1099.6 319.5,1099.6 321.5,1099.6 323.5,1099.6 325.5,1099.6 327.5,1099.6 329.5,1099.6 331.5,1099.5 333.5,1099.5 335.5,1099.5 337.5,1099.5 339.5,1099.4 341.5,1099.3 343.5,1099.2 345.5,1099.0 347.5,1098.8 349.5,1098.7 351.5,1098.3 353.5,1097.9 355.5,1097.5 357.5,1097.1 359.5,1096.7 361.5,1096.3 363.5,1095.9 365.5,1095.5 367.5,1095.1 369.5,1094.6 371.5,1094.1 373.5,1093.6 375.5,1092.9 377.5,1092.2 379.5,1091.4 381.5,1090.7 383.5,1090.0 385.5,1089.2 387.5,1088.5 389.5,1087.7 391.5,1086.6 393.5,1085.4 395.5,1084.1 397.5,1082.9 399.5,1081.1 401.5,1079.3 403.5,1077.5 405.5,1075.6 407.5,1073.8 409.5,1072.1 411.5,1070.2 413.5,1068.1 415.5,1066.0 417.5,1063.9 419.5,1061.8 421.5,1059.6 423.5,1057.4 425.5,1055.1 427.5,1052.8 429.5,1050.5 431.5,1047.5 433.5,1044.5 435.5,1041.4 437.5,1038.4 439.5,1035.3 441.5,1032.5 443.5,1029.6 445.5,1026.7 447.5,1023.8 449.5,1020.3 451.5,1016.5 453.5,1012.7 455.5,1008.8 457.5,1005.1 459.5,1001.6 461.5,998.1 463.5,995.0 465.5,991.9 467.5,989.0 469.5,986.4 471.5,983.7 473.5,981.2 475.5,978.7 477.5,976.3 479.5,973.9 481.5,971.4 483.5,968.8 485.5,966.1 487.5,963.7 489.5,961.6 491.5,959.6 493.5,957.9 495.5,956.2 497.5,954.7 499.5,953.5 501.5,952.3 503.5,951.0 505.5,949.8 507.5,948.7 509.5,948.0 511.5,947.2 513.5,946.4 515.5,946.0 517.5,945.6 519.5,945.1 521.5,944.7 523.5,944.4 525.5,944.1 527.5,943.9 529.5,943.6 531.5,943.5 533.5,943.4 535.5,943.3 537.5,943.2 539.5,943.1 541.5,943.0 543.5,942.9 545.5,942.8 547.5,942.8 549.5,942.7 551.5,942.6 553.5,942.5 555.5,942.4 557.5,942.3 559.5,942.2 561.5,942.1 563.5,942.0 565.5,941.9 567.5,941.9 569.5,941.8 571.5,941.7 573.5,941.6 575.5,941.4 577.5,941.3 579.5,941.1 581.5,941.0 583.5,940.8 585.5,940.6 587.5,940.5 589.5,940.3 591.5,940.1 593.5,939.9 595.5,939.7 597.5,939.5 599.5,939.3 601.5,939.1 603.5,938.8 605.5,938.6 607.5,938.4 609.5,938.2 611.5,938.0 613.5,937.8 615.5,937.6 617.5,937.6 619.5,937.6 621.5,937.6 623.5,937.6 625.5,937.6 627.5,937.6 629.5,937.6 631.5,937.7 633.5,938.0 635.5,938.2 637.5,938.5 639.5,938.8 641.5,939.3 643.5,939.8 645.5,940.3 647.5,940.9 649.5,941.5 651.5,942.1 653.5,942.7 655.5,943.4 657.5,944.3 659.5,945.2 661.5,946.0 663.5,947.0 665.5,948.1 667.5,949.2 669.5,950.3 671.5,951.4 673.5,952.6 675.5,953.9 677.5,955.1 679.5,956.5 681.5,958.0 683.5,959.6 685.5,961.2 687.5,962.8 689.5,964.3 691.5,965.7 693.5,967.2 695.5,968.7 697.5,970.6 699.5,972.4 701.5,974.2 703.5,976.1 705.5,977.4 707.5,978.6 709.5,979.8 711.5,981.0 713.5,982.3 715.5,983.5 717.5,984.7 719.5,985.9 721.5,987.2 723.5,988.4 725.5,989.6 727.5,990.7 729.5,991.8 731.5,992.9 733.5,994.0 735.5,995.1 737.5,996.4 739.5,997.6 741.5,998.8 743.5,1000.1 745.5,1001.3 747.5,1002.3 749.5,1003.2 751.5,1004.0 753.5,1004.9 755.5,1005.7 757.5,1006.6 759.5,1007.5 761.5,1008.3 763.5,1009.2 765.5,1010.1 767.5,1010.9 769.5,1011.7 771.5,1012.5 773.5,1013.2 775.5,1014.0 777.5,1014.8 779.5,1015.5 781.5,1016.3 783.5,1017.1 785.5,1017.7 787.5,1018.2 789.5,1018.8 791.5,1019.3 793.5,1019.8 795.5,1020.3 797.5,1020.9 799.5,1021.4 801.5,1022.0 803.5,1022.6 805.5,1023.2 807.5,1023.8 809.5,1024.5 811.5,1025.1 813.5,1025.7 815.5,1026.6 817.5,1027.6 819.5,1028.6 821.5,1029.7 823.5,1030.7 825.5,1031.7 827.5,1032.8 829.5,1033.8 831.5,1034.8 833.5,1035.8 835.5,1036.8 837.5,1037.9 839.5,1038.9 841.5,1039.7 843.5,1040.4 845.5,1041.1 847.5,1041.8 849.5,1042.5 851.5,1043.2 853.5,1043.9 855.5,1044.6 857.5,1045.3 859.5,1046.1 861.5,1046.8 863.5,1047.5 865.5,1048.3 867.5,1049.0 869.5,1049.7 871.5,1050.5 873.5,1051.2 875.5,1052.0 877.5,1052.7 879.5,1053.4 881.5,1054.1 883.5,1054.7 885.5,1055.3 887.5,1055.9 889.5,1056.6 891.5,1057.2 893.5,1057.8 895.5,1058.4 897.5,1059.0 899.5,1059.6 901.5,1060.2 903.5,1060.9 905.5,1061.5 907.5,1062.0 909.5,1062.6 911.5,1063.1 913.5,1063.7 915.5,1064.2 917.5,1064.8 919.5,1065.3 921.5,1065.9 923.5,1066.5 925.5,1067.0 927.5,1067.6 929.5,1068.1 931.5,1068.6 933.5,1069.0 935.5,1069.4 937.5,1069.9 939.5,1070.3 941.5,1070.7 943.5,1071.2 945.5,1071.6 947.5,1072.0 949.5,1072.5 951.5,1072.9 953.5,1073.3 955.5,1073.8 957.5,1074.1 959.5,1074.5 961.5,1074.9 963.5,1075.2 965.5,1075.6 967.5,1076.0 969.5,1076.3 971.5,1076.7 973.5,1077.1 975.5,1077.5 977.5,1077.8 979.5,1078.2 981.5,1078.5 983.5,1078.8 985.5,1079.1 987.5,1079.4 989.5,1079.8 991.5,1080.1 993.5,1080.4 995.5,1080.7 997.5,1081.0 999.5,1081.3 1001.5,1081.6 1003.5,1081.9 1005.5,1082.2 1007.5,1082.5 1009.5,1082.7 1011.5,1082.9 1013.5,1083.2 1015.5,1083.4 1017.5,1083.7 1019.5,1083.9 1021.5,1084.2 1023.5,1084.4 1025.5,1084.7 1027.5,1084.9 1029.5,1085.1 1031.5,1085.3 1033.5,1085.5 1035.5,1085.6 1037.5,1085.7 1039.5,1085.9 1041.5,1086.0 1043.5,1086.2 1045.5,1086.3 1047.5,1086.4 1049.5,1086.6 1051.5,1086.7 1053.5,1086.9 1055.5,1087.0 1057.5,1087.1 1059.5,1087.3 1061.5,1087.5 1063.5,1087.6 1065.5,1087.8 1067.5,1087.9 1069.5,1088.1 1071.5,1088.2 1073.5,1088.4 1075.5,1088.6 1077.5,1088.7 1079.5,1088.9 1081.5,1089.0 1083.5,1089.2 1085.5,1089.4 1087.5,1089.5 1089.5,1089.7 1091.5,1089.9 1093.5,1090.0 1095.5,1090.2 1097.5,1090.3 1099.5,1090.5 1101.5,1090.7 1103.5,1090.8 1105.5,1091.0 1107.5,1091.2 1109.5,1091.3 1111.5,1091.5 1113.5,1091.6 1115.5,1091.7 1117.5,1091.8 1119.5,1091.9 1121.5,1092.0 1123.5,1092.1 1125.5,1092.2 1127.5,1092.3 1129.5,1092.4 1131.5,1092.6 1133.5,1092.7 1135.5,1092.8 1137.5,1092.9 1139.5,1093.0 1141.5,1093.1 1143.5,1093.2 1145.5,1093.3 1147.5,1093.4 1149.5,1093.5 1151.5,1093.6 1153.5,1093.7 1155.5,1093.8 1157.5,1093.8 1159.5,1093.9 1161.5,1093.9 1163.5,1094.0 1165.5,1094.1 1167.5,1094.1 1169.5,1094.2 1171.5,1094.3 1173.5,1094.3 1175.5,1094.4 1177.5,1094.4 1179.5,1094.5 1181.5,1094.6 1183.5,1094.6 1185.5,1094.7 1187.5,1094.7 1189.5,1094.8 1191.5,1094.9 1193.5,1094.9 1195.5,1095.0 1197.5,1095.0 1199.5,1095.1 1201.5,1095.1 1203.5,1095.2 1205.5,1095.2 1207.5,1095.2 1209.5,1095.3 1211.5,1095.3 1213.5,1095.4 1215.5,1095.4 1217.5,1095.5 1219.5,1095.5 1221.5,1095.6 1223.5,1095.6 1225.5,1095.7 1227.5,1095.7 1229.5,1095.7 1231.5,1095.8 1233.5,1095.8 1235.5,1095.9 1237.5,1095.9 1239.5,1096.0 1241.5,1096.0 1243.5,1096.1 1245.5,1096.1 1247.5,1096.2 1249.5,1096.2 1251.5,1096.3 1253.5,1096.3 1255.5,1096.4 1257.5,1096.4 1259.5,1096.4 1261.5,1096.5 1263.5,1096.5 1265.5,1096.6 1267.5,1096.6 1269.5,1096.7 1271.5,1096.7 1273.5,1096.8 1275.5,1096.8 1277.5,1096.9 1279.5,1097.0 1281.5,1097.0 1283.5,1097.1 1285.5,1097.1 1287.5,1097.2 1289.5,1097.3 1291.5,1097.3 1293.5,1097.4 1295.5,1097.4 1297.5,1097.5 1299.5,1097.6 1301.5,1097.6 1303.5,1097.7 1305.5,1097.7 1307.5,1097.8 1309.5,1097.8 1311.5,1097.8 1313.5,1097.8 1315.5,1097.9 1317.5,1097.9 1319.5,1097.9 1321.5,1098.0 1323.5,1098.0 1325.5,1098.0 1327.5,1098.1 1329.5,1098.1 1331.5,1098.1 1333.5,1098.2 1335.5,1098.2 1337.5,1098.2 1339.5,1098.3 1341.5,1098.3"/>
<polyline stroke="#e070c8" points="307.5,1099.6 309.5,1099.6 311.5,1099.6 313.5,1099.6 315.5,1099.6 317.5,1099.6 319.5,1099.6 321.5,1099.6 323.5,1099.6 325.5,1099.6 327.5,1099.6 329.5,1099.6 331.5,1099.5 333.5,1099.5 335.5,1099.5 337.5,1099.5 339.5,1099.3 341.5,1099.2 343.5,1099.1 345.5,1098.9 347.5,1098.7 349.5,1098.6 351.5,1098.2 353.5,1097.7 355.5,1097.2 357.5,1096.8 359.5,1096.3 361.5,1095.9 363.5,1095.5 365.5,1095.0 367.5,1094.5 369.5,1094.0 371.5,1093.4 373.5,1092.9 375.5,1092.1 377.5,1091.3 379.5,1090.4 381.5,1089.6 383.5,1088.8 385.5,1087.9 387.5,1087.1 389.5,1086.3 391.5,1085.0 393.5,1083.6 395.5,1082.2 397.5,1080.8 399.5,1078.9 401.5,1076.8 403.5,1074.8 405.5,1072.7 407.5,1070.7 409.5,1068.7 411.5,1066.7 413.5,1064.3 415.5,1061.9 417.5,1059.6 419.5,1057.2 421.5,1054.7 423.5,1052.2 425.5,1049.7 427.5,1047.1 429.5,1044.6 431.5,1041.2 433.5,1037.7 435.5,1034.3 437.5,1030.9 439.5,1027.5 441.5,1024.3 443.5,1021.0 445.5,1017.8 447.5,1014.6 449.5,1010.7 451.5,1006.4 453.5,1002.1 455.5,997.8 457.5,993.6 459.5,989.7 461.5,985.8 463.5,982.3 465.5,978.8 467.5,975.6 469.5,972.6 471.5,969.6 473.5,966.8 475.5,964.0 477.5,961.3 479.5,958.5 481.5,955.8 483.5,952.9 485.5,949.9 487.5,947.1 489.5,944.8 491.5,942.5 493.5,940.6 495.5,938.8 497.5,937.1 499.5,935.7 501.5,934.3 503.5,932.9 505.5,931.5 507.5,930.3 509.5,929.5 511.5,928.6 513.5,927.8 515.5,927.3 517.5,926.8 519.5,926.3 521.5,925.8 523.5,925.5 525.5,925.2 527.5,925.0 529.5,924.7 531.5,924.5 533.5,924.5 535.5,924.4 537.5,924.4 539.5,924.3 541.5,924.2 543.5,924.1 545.5,924.1 547.5,924.0 549.5,923.9 551.5,923.8 553.5,923.8 555.5,923.7 557.5,923.6 559.5,923.5 561.5,923.5 563.5,923.4 565.5,923.3 567.5,923.3 569.5,923.2 571.5,923.1 573.5,923.0 575.5,922.9 577.5,922.7 579.5,922.5 581.5,922.3 583.5,922.1 585.5,921.8 587.5,921.5 589.5,921.3 591.5,921.0 593.5,920.7 595.5,920.4 597.5,920.1 599.5,919.9 601.5,919.6 603.5,919.3 605.5,919.0 607.5,918.8 609.5,918.6 611.5,918.3 613.5,918.1 615.5,917.9 617.5,917.9 619.5,917.9 621.5,917.9 623.5,917.9 625.5,917.9 627.5,917.9 629.5,917.9 631.5,918.0 633.5,918.3 635.5,918.6 637.5,918.8 639.5,919.2 641.5,919.8 643.5,920.4 645.5,920.9 647.5,921.5 649.5,922.2 651.5,922.9 653.5,923.6 655.5,924.4 657.5,925.4 659.5,926.3 661.5,927.3 663.5,928.4 665.5,929.6 667.5,930.8 669.5,932.1 671.5,933.3 673.5,934.7 675.5,936.1 677.5,937.5 679.5,939.0 681.5,940.8 683.5,942.6 685.5,944.3 687.5,946.1 689.5,947.8 691.5,949.4 693.5,951.1 695.5,952.8 697.5,954.8 699.5,956.9 701.5,959.0 703.5,961.0 705.5,962.5 707.5,963.8 709.5,965.2 711.5,966.6 713.5,968.0 715.5,969.4 717.5,970.7 719.5,972.1 721.5,973.5 723.5,974.8 725.5,976.2 727.5,977.4 729.5,978.7 731.5,979.9 733.5,981.2 735.5,982.4 737.5,983.8 739.5,985.2 741.5,986.6 743.5,987.9 745.5,989.3 747.5,990.4 749.5,991.4 751.5,992.4 753.5,993.3 755.5,994.3 757.5,995.3 759.5,996.2 761.5,997.2 763.5,998.2 765.5,999.2 767.5,1000.1 769.5,1001.0 771.5,1001.8 773.5,1002.7 775.5,1003.6 777.5,1004.4 779.5,1005.3 781.5,1006.2 783.5,1007.0 785.5,1007.7 787.5,1008.3 789.5,1008.9 791.5,1009.5 793.5,1010.1 795.5,1010.7 797.5,1011.3 799.5,1011.9 801.5,1012.5 803.5,1013.2 805.5,1013.9 807.5,1014.6 809.5,1015.3 811.5,1016.0 813.5,1016.7 815.5,1017.7 817.5,1018.8 819.5,1020.0 821.5,1021.2 823.5,1022.3 825.5,1023.5 827.5,1024.6 829.5,1025.8 831.5,1026.9 833.5,1028.1 835.5,1029.2 837.5,1030.3 839.5,1031.5 841.5,1032.4 843.5,1033.1 845.5,1033.9 847.5,1034.7 849.5,1035.5 851.5,1036.3 853.5,1037.1 855.5,1037.9 857.5,1038.7 859.5,1039.5 861.5,1040.4 863.5,1041.2 865.5,1042.0 867.5,1042.8 869.5,1043.7 871.5,1044.5 873.5,1045.3 875.5,1046.1 877.5,1047.0 879.5,1047.8 881.5,1048.5 883.5,1049.2 885.5,1049.9 887.5,1050.6 889.5,1051.3 891.5,1052.0 893.5,1052.7 895.5,1053.4 897.5,1054.1 899.5,1054.8 901.5,1055.4 903.5,1056.1 905.5,1056.8 907.5,1057.4 909.5,1058.1 911.5,1058.7 913.5,1059.3 915.5,1059.9 917.5,1060.5 919.5,1061.2 921.5,1061.8 923.5,1062.4 925.5,1063.0 927.5,1063.7 929.5,1064.3 931.5,1064.8 933.5,1065.3 935.5,1065.8 937.5,1066.3 939.5,1066.7 941.5,1067.2 943.5,1067.7 945.5,1068.2 947.5,1068.7 949.5,1069.2 951.5,1069.6 953.5,1070.1 955.5,1070.6 957.5,1071.0 959.5,1071.4 961.5,1071.8 963.5,1072.3 965.5,1072.7 967.5,1073.1 969.5,1073.5 971.5,1073.9 973.5,1074.3 975.5,1074.7 977.5,1075.2 979.5,1075.6 981.5,1075.9 983.5,1076.3 985.5,1076.6 987.5,1077.0 989.5,1077.3 991.5,1077.7 993.5,1078.0 995.5,1078.4 997.5,1078.7 999.5,1079.1 1001.5,1079.4 1003.5,1079.7 1005.5,1080.1 1007.5,1080.4 1009.5,1080.6 1011.5,1080.9 1013.5,1081.2 1015.5,1081.5 1017.5,1081.7 1019.5,1082.0 1021.5,1082.3 1023.5,1082.6 1025.5,1082.8 1027.5,1083.1 1029.5,1083.4 1031.5,1083.6 1033.5,1083.7 1035.5,1083.9 1037.5,1084.1 1039.5,1084.2 1041.5,1084.4 1043.5,1084.5 1045.5,1084.7 1047.5,1084.8 1049.5,1085.0 1051.5,1085.1 1053.5,1085.3 1055.5,1085.4 1057.5,1085.6 1059.5,1085.8 1061.5,1086.0 1063.5,1086.2 1065.5,1086.3 1067.5,1086.5 1069.5,1086.7 1071.5,1086.9 1073.5,1087.0 1075.5,1087.2 1077.5,1087.4 1079.5,1087.6 1081.5,1087.7 1083.5,1087.9 1085.5,1088.1 1087.5,1088.3 1089.5,1088.5 1091.5,1088.7 1093.5,1088.8 1095.5,1089.0 1097.5,1089.2 1099.5,1089.4 1101.5,1089.6 1103.5,1089.8 1105.5,1089.9 1107.5,1090.1 1109.5,1090.3 1111.5,1090.5 1113.5,1090.6 1115.5,1090.7 1117.5,1090.8 1119.5,1091.0 1121.5,1091.1 1123.5,1091.2 1125.5,1091.3 1127.5,1091.4 1129.5,1091.6 1131.5,1091.7 1133.5,1091.8 1135.5,1091.9 1137.5,1092.1 1139.5,1092.2 1141.5,1092.3 1143.5,1092.4 1145.5,1092.5 1147.5,1092.7 1149.5,1092.8 1151.5,1092.9 1153.5,1093.0 1155.5,1093.0 1157.5,1093.1 1159.5,1093.2 1161.5,1093.2 1163.5,1093.3 1165.5,1093.4 1167.5,1093.5 1169.5,1093.5 1171.5,1093.6 1173.5,1093.7 1175.5,1093.7 1177.5,1093.8 1179.5,1093.9 1181.5,1093.9 1183.5,1094.0 1185.5,1094.1 1187.5,1094.2 1189.5,1094.2 1191.5,1094.3 1193.5,1094.3 1195.5,1094.4 1197.5,1094.5 1199.5,1094.5 1201.5,1094.6 1203.5,1094.6 1205.5,1094.7 1207.5,1094.7 1209.5,1094.8 1211.5,1094.8 1213.5,1094.9 1215.5,1094.9 1217.5,1095.0 1219.5,1095.0 1221.5,1095.1 1223.5,1095.1 1225.5,1095.2 1227.5,1095.2 1229.5,1095.3 1231.5,1095.3 1233.5,1095.4 1235.5,1095.4 1237.5,1095.5 1239.5,1095.5 1241.5,1095.6 1243.5,1095.6 1245.5,1095.7 1247.5,1095.7 1249.5,1095.8 1251.5,1095.8 1253.5,1095.9 1255.5,1096.0 1257.5,1096.0 1259.5,1096.1 1261.5,1096.1 1263.5,1096.2 1265.5,1096.2 1267.5,1096.3 1269.5,1096.3 1271.5,1096.4 1273.5,1096.4 1275.5,1096.5 1277.5,1096.6 1279.5,1096.6 1281.5,1096.7 1283.5,1096.8 1285.5,1096.8 1287.5,1096.9 1289.5,1097.0 1291.5,1097.0 1293.5,1097.1 1295.5,1097.2 1297.5,1097.2 1299.5,1097.3 1301.5,1097.4 1303.5,1097.5 1305.5,1097.5 1307.5,1097.5 1309.5,1097.6 1311.5,1097.6 1313.5,1097.6 1315.5,1097.7 1317.5,1097.7 1319.5,1097.7 1321.5,1097.8 1323.5,1097.8 1325.5,1097.8 1327.5,1097.9 1329.5,1097.9 1331.5,1098.0 1333.5,1098.0 1335.5,1098.0 1337.5,1098.1 1339.5,1098.1 1341.5,1098.1"/>
<polyline stroke="#a0c8f0" points="307.5,1099.6 309.5,1099.6 311.5,1099.6 313.5,1099.6 315.5,1099.6 317.5,1099.6 319.5,1099.6 321.5,1099.6 323.5,1099.6 325.5,1099.6 327.5,1099.6 329.5,1099.5 331.5,1099.5 333.5,1099.5 335.5,1099.5 337.5,1099.4 339.5,1099.3 341.5,1099.1 343.5,1099.0 345.5,1098.7 347.5,1098.5 349.5,1098.3 351.5,1097.8 353.5,1097.2 355.5,1096.6 357.5,1096.1 359.5,1095.5 361.5,1095.0 363.5,1094.4 365.5,1093.9 367.5,1093.3 369.5,1092.6 371.5,1091.9 373.5,1091.2 375.5,1090.2 377.5,1089.2 379.5,1088.2 381.5,1087.1 383.5,1086.1 385.5,1085.1 387.5,1084.0 389.5,1083.0 391.5,1081.4 393.5,1079.7 395.5,1077.9 397.5,1076.2 399.5,1073.8 401.5,1071.2 403.5,1068.6 405.5,1066.1 407.5,1063.6 409.5,1061.1 411.5,1058.5 413.5,1055.6 415.5,1052.7 417.5,1049.7 419.5,1046.8 421.5,1043.7 423.5,1040.5 425.5,1037.4 427.5,1034.2 429.5,1031.0 431.5,1026.8 433.5,1022.5 435.5,1018.2 437.5,1014.0 439.5,1009.8 441.5,1005.7 443.5,1001.7 445.5,997.7 447.5,993.6 449.5,988.8 451.5,983.4 453.5,978.1 455.5,972.7 457.5,967.5 459.5,962.6 461.5,957.7 463.5,953.4 465.5,949.1 467.5,945.0 469.5,941.3 471.5,937.5 473.5,934.1 475.5,930.6 477.5,927.2 479.5,923.8 481.5,920.4 483.5,916.7 485.5,913.0 487.5,909.6 489.5,906.7 491.5,903.8 493.5,901.5 495.5,899.2 497.5,897.1 499.5,895.4 501.5,893.6 503.5,891.9 505.5,890.2 507.5,888.7 509.5,887.6 511.5,886.5 513.5,885.5 515.5,885.2 517.5,884.8 519.5,884.5 521.5,884.1 523.5,884.0 525.5,883.9 527.5,883.9 529.5,883.8 531.5,883.9 533.5,883.9 535.5,884.0 537.5,884.0 539.5,884.0 541.5,884.0 543.5,884.0 545.5,883.9 547.5,883.9 549.5,883.9 551.5,883.9 553.5,883.9 555.5,883.9 557.5,883.9 559.5,883.9 561.5,883.9 563.5,883.8 565.5,883.7 567.5,883.6 569.5,883.5 571.5,883.4 573.5,883.3 575.5,882.9 577.5,882.5 579.5,882.2 581.5,881.8 583.5,881.4 585.5,880.8 587.5,880.2 589.5,879.5 591.5,878.9 593.5,878.3 595.5,877.6 597.5,877.1 599.5,876.5 601.5,875.9 603.5,875.3 605.5,874.8 607.5,874.3 609.5,873.9 611.5,873.5 613.5,873.2 615.5,872.8 617.5,872.6 619.5,872.5 621.5,872.5 623.5,872.6 625.5,872.6 627.5,872.6 629.5,872.7 631.5,872.9 633.5,873.3 635.5,873.7 637.5,874.0 639.5,874.6 641.5,875.3 643.5,876.0 645.5,876.8 647.5,877.5 649.5,878.4 651.5,879.3 653.5,880.2 655.5,881.2 657.5,882.5 659.5,883.7 661.5,884.9 663.5,886.2 665.5,887.8 667.5,889.3 669.5,890.8 671.5,892.4 673.5,894.1 675.5,895.9 677.5,897.6 679.5,899.5 681.5,901.7 683.5,903.9 685.5,906.1 687.5,908.3 689.5,910.4 691.5,912.5 693.5,914.5 695.5,916.7 697.5,919.2 699.5,921.8 701.5,924.3 703.5,926.9 705.5,928.7 707.5,930.4 709.5,932.1 711.5,933.9 713.5,935.6 715.5,937.3 717.5,939.0 719.5,940.7 721.5,942.4 723.5,944.1 725.5,945.8 727.5,947.3 729.5,948.9 731.5,950.4 733.5,952.0 735.5,953.6 737.5,955.3 739.5,957.0 741.5,958.7 743.5,960.4 745.5,962.2 747.5,963.5 749.5,964.8 751.5,966.0 753.5,967.2 755.5,968.4 757.5,969.6 759.5,970.8 761.5,972.0 763.5,973.2 765.5,974.4 767.5,975.6 769.5,976.7 771.5,977.8 773.5,978.8 775.5,979.9 777.5,981.0 779.5,982.1 781.5,983.1 783.5,984.2 785.5,985.1 787.5,985.8 789.5,986.6 791.5,987.3 793.5,988.0 795.5,988.8 797.5,989.5 799.5,990.2 801.5,991.1 803.5,992.0 805.5,992.8 807.5,993.7 809.5,994.5 811.5,995.4 813.5,996.3 815.5,997.5 817.5,998.9 819.5,1000.4 821.5,1001.8 823.5,1003.3 825.5,1004.7 827.5,1006.2 829.5,1007.6 831.5,1009.0 833.5,1010.4 835.5,1011.9 837.5,1013.3 839.5,1014.7 841.5,1015.8 843.5,1016.8 845.5,1017.8 847.5,1018.7 849.5,1019.7 851.5,1020.7 853.5,1021.7 855.5,1022.7 857.5,1023.7 859.5,1024.7 861.5,1025.8 863.5,1026.8 865.5,1027.8 867.5,1028.9 869.5,1029.9 871.5,1030.9 873.5,1032.0 875.5,1033.0 877.5,1034.0 879.5,1035.0 881.5,1036.0 883.5,1036.8 885.5,1037.7 887.5,1038.5 889.5,1039.4 891.5,1040.3 893.5,1041.1 895.5,1042.0 897.5,1042.8 899.5,1043.7 901.5,1044.6 903.5,1045.4 905.5,1046.3 907.5,1047.1 909.5,1047.8 911.5,1048.6 913.5,1049.4 915.5,1050.1 917.5,1050.9 919.5,1051.7 921.5,1052.5 923.5,1053.2 925.5,1054.0 927.5,1054.8 929.5,1055.6 931.5,1056.2 933.5,1056.8 935.5,1057.4 937.5,1058.0 939.5,1058.6 941.5,1059.2 943.5,1059.8 945.5,1060.5 947.5,1061.1 949.5,1061.7 951.5,1062.3 953.5,1062.9 955.5,1063.5 957.5,1064.0 959.5,1064.5 961.5,1065.0 963.5,1065.5 965.5,1066.0 967.5,1066.6 969.5,1067.1 971.5,1067.6 973.5,1068.1 975.5,1068.6 977.5,1069.1 979.5,1069.7 981.5,1070.1 983.5,1070.5 985.5,1071.0 987.5,1071.4 989.5,1071.8 991.5,1072.3 993.5,1072.7 995.5,1073.1 997.5,1073.6 999.5,1074.0 1001.5,1074.4 1003.5,1074.8 1005.5,1075.3 1007.5,1075.6 1009.5,1076.0 1011.5,1076.3 1013.5,1076.6 1015.5,1077.0 1017.5,1077.3 1019.5,1077.7 1021.5,1078.0 1023.5,1078.4 1025.5,1078.7 1027.5,1079.0 1029.5,1079.4 1031.5,1079.6 1033.5,1079.8 1035.5,1080.0 1037.5,1080.2 1039.5,1080.4 1041.5,1080.6 1043.5,1080.8 1045.5,1081.0 1047.5,1081.2 1049.5,1081.4 1051.5,1081.6 1053.5,1081.8 1055.5,1082.0 1057.5,1082.2 1059.5,1082.4 1061.5,1082.6 1063.5,1082.8 1065.5,1083.1 1067.5,1083.3 1069.5,1083.5 1071.5,1083.7 1073.5,1083.9 1075.5,1084.1 1077.5,1084.4 1079.5,1084.6 1081.5,1084.8 1083.5,1085.0 1085.5,1085.3 1087.5,1085.5 1089.5,1085.7 1091.5,1086.0 1093.5,1086.2 1095.5,1086.4 1097.5,1086.6 1099.5,1086.9 1101.5,1087.1 1103.5,1087.3 1105.5,1087.6 1107.5,1087.8 1109.5,1088.0 1111.5,1088.2 1113.5,1088.4 1115.5,1088.5 1117.5,1088.7 1119.5,1088.8 1121.5,1089.0 1123.5,1089.1 1125.5,1089.3 1127.5,1089.4 1129.5,1089.6 1131.5,1089.7 1133.5,1089.9 1135.5,1090.0 1137.5,1090.2 1139.5,1090.3 1141.5,1090.5 1143.5,1090.6 1145.5,1090.8 1147.5,1090.9 1149.5,1091.1 1151.5,1091.2 1153.5,1091.3 1155.5,1091.4 1157.5,1091.5 1159.5,1091.6 1161.5,1091.7 1163.5,1091.8 1165.5,1091.8 1167.5,1091.9 1169.5,1092.0 1171.5,1092.1 1173.5,1092.2 1175.5,1092.3 1177.5,1092.4 1179.5,1092.5 1181.5,1092.5 1183.5,1092.6 1185.5,1092.7 1187.5,1092.8 1189.5,1092.9 1191.5,1093.0 1193.5,1093.0 1195.5,1093.1 1197.5,1093.2 1199.5,1093.2 1201.5,1093.3 1203.5,1093.4 1205.5,1093.4 1207.5,1093.5 1209.5,1093.6 1211.5,1093.6 1213.5,1093.7 1215.5,1093.7 1217.5,1093.8 1219.5,1093.9 1221.5,1093.9 1223.5,1094.0 1225.5,1094.1 1227.5,1094.1 1229.5,1094.2 1231.5,1094.3 1233.5,1094.3 1235.5,1094.4 1237.5,1094.5 1239.5,1094.5 1241.5,1094.6 1243.5,1094.7 1245.5,1094.7 1247.5,1094.8 1249.5,1094.8 1251.5,1094.9 1253.5,1095.0 1255.5,1095.0 1257.5,1095.1 1259.5,1095.2 1261.5,1095.2 1263.5,1095.3 1265.5,1095.4 1267.5,1095.4 1269.5,1095.5 1271.5,1095.6 1273.5,1095.6 1275.5,1095.7 1277.5,1095.8 1279.5,1095.9 1281.5,1096.0 1283.5,1096.1 1285.5,1096.2 1287.5,1096.2 1289.5,1096.3 1291.5,1096.4 1293.5,1096.5 1295.5,1096.6 1297.5,1096.7 1299.5,1096.7 1301.5,1096.8 1303.5,1096.9 1305.5,1097.0 1307.5,1097.0 1309.5,1097.0 1311.5,1097.1 1313.5,1097.1 1315.5,1097.2 1317.5,1097.2 1319.5,1097.3 1321.5,1097.3 1323.5,1097.4 1325.5,1097.4 1327.5,1097.4 1329.5,1097.5 1331.5,1097.5 1333.5,1097.6 1335.5,1097.6 1337.5,1097.7 1339.5,1097.7 1341.5,1097.8"/>
<polyline stroke="#d8d878" points="307.5,1099.6 309.5,1099.6 311.5,1099.6 313.5,1099.6 315.5,1099.6 317.5,1099.6 319.5,1099.6 321.5,1099.6 323.5,1099.6 325.5,1099.6 327.5,1099.5 329.5,1099.5 331.5,1099.5 333.5,1099.4 335.5,1099.4 337.5,1099.3 339.5,1099.2 341.5,1099.0 343.5,1098.8 345.5,1098.5 347.5,1098.2 349.5,1097.9 351.5,1097.3 353.5,1096.5 355.5,1095.7 357.5,1095.0 359.5,1094.3 361.5,1093.6 363.5,1092.9 365.5,1092.2 367.5,1091.4 369.5,1090.5 371.5,1089.6 373.5,1088.7 375.5,1087.4 377.5,1086.1 379.5,1084.8 381.5,1083.4 383.5,1082.1 385.5,1080.7 387.5,1079.4 389.5,1078.0 391.5,1075.9 393.5,1073.7 395.5,1071.5 397.5,1069.2 399.5,1066.1 401.5,1062.7 403.5,1059.4 405.5,1056.1 407.5,1052.8 409.5,1049.6 411.5,1046.3 413.5,1042.5 415.5,1038.6 417.5,1034.8 419.5,1031.0 421.5,1027.0 423.5,1022.9 425.5,1018.8 427.5,1014.6 429.5,1010.5 431.5,1005.1 433.5,999.5 435.5,994.0 437.5,988.4 439.5,982.9 441.5,977.7 443.5,972.5 445.5,967.2 447.5,962.0 449.5,955.7 451.5,948.7 453.5,941.8 455.5,934.8 457.5,928.1 459.5,921.8 461.5,915.4 463.5,909.7 465.5,904.2 467.5,898.9 469.5,894.0 471.5,889.2 473.5,884.7 475.5,880.2 477.5,875.8 479.5,871.4 481.5,867.0 483.5,862.2 485.5,857.3 487.5,852.9 489.5,849.1 491.5,845.4 493.5,842.3 495.5,839.4 497.5,836.7 499.5,834.4 501.5,832.2 503.5,829.9 505.5,827.7 507.5,825.7 509.5,824.3 511.5,822.9 513.5,821.4 515.5,820.4 517.5,819.5 519.5,818.6 521.5,817.6 523.5,817.1 525.5,816.6 527.5,816.1 529.5,815.7 531.5,815.9 533.5,816.4 535.5,816.9 537.5,817.3 539.5,817.7 541.5,818.0 543.5,818.3 545.5,818.6 547.5,819.0 549.5,819.3 551.5,819.7 553.5,820.0 555.5,820.4 557.5,820.7 559.5,821.1 561.5,821.4 563.5,821.2 565.5,821.1 567.5,821.0 569.5,820.8 571.5,820.6 573.5,820.4 575.5,819.7 577.5,819.0 579.5,818.3 581.5,817.6 583.5,816.8 585.5,815.6 587.5,814.3 589.5,813.1 591.5,811.9 593.5,811.0 595.5,810.2 597.5,809.5 599.5,808.8 601.5,808.1 603.5,807.4 605.5,806.7 607.5,806.3 609.5,806.0 611.5,805.7 613.5,805.4 615.5,805.2 617.5,805.2 619.5,805.3 621.5,805.4 623.5,805.5 625.5,805.6 627.5,805.7 629.5,805.8 631.5,806.1 633.5,806.6 635.5,807.2 637.5,807.7 639.5,808.4 641.5,809.2 643.5,810.1 645.5,810.9 647.5,811.8 649.5,812.8 651.5,813.9 653.5,814.9 655.5,816.2 657.5,817.7 659.5,819.3 661.5,820.8 663.5,822.5 665.5,824.5 667.5,826.5 669.5,828.5 671.5,830.6 673.5,832.8 675.5,835.1 677.5,837.4 679.5,839.8 681.5,842.6 683.5,845.5 685.5,848.4 687.5,851.2 689.5,853.9 691.5,856.6 693.5,859.3 695.5,862.1 697.5,865.4 699.5,868.7 701.5,872.0 703.5,875.4 705.5,877.7 707.5,879.9 709.5,882.2 711.5,884.4 713.5,886.6 715.5,888.9 717.5,891.1 719.5,893.3 721.5,895.5 723.5,897.7 725.5,899.9 727.5,901.9 729.5,903.9 731.5,905.9 733.5,908.0 735.5,910.0 737.5,912.2 739.5,914.4 741.5,916.7 743.5,918.9 745.5,921.1 747.5,922.9 749.5,924.5 751.5,926.1 753.5,927.7 755.5,929.2 757.5,930.8 759.5,932.4 761.5,933.9 763.5,935.5 765.5,937.1 767.5,938.6 769.5,940.0 771.5,941.4 773.5,942.8 775.5,944.2 777.5,945.6 779.5,947.0 781.5,948.4 783.5,949.8 785.5,950.9 787.5,951.9 789.5,952.8 791.5,953.8 793.5,954.7 795.5,955.7 797.5,956.6 799.5,957.6 801.5,958.7 803.5,959.8 805.5,961.0 807.5,962.1 809.5,963.2 811.5,964.3 813.5,965.4 815.5,967.0 817.5,968.9 819.5,970.8 821.5,972.7 823.5,974.5 825.5,976.4 827.5,978.3 829.5,980.1 831.5,982.0 833.5,983.8 835.5,985.7 837.5,987.5 839.5,989.4 841.5,990.8 843.5,992.1 845.5,993.3 847.5,994.6 849.5,995.9 851.5,997.1 853.5,998.4 855.5,999.7 857.5,1001.0 859.5,1002.4 861.5,1003.7 863.5,1005.1 865.5,1006.4 867.5,1007.7 869.5,1009.1 871.5,1010.4 873.5,1011.8 875.5,1013.1 877.5,1014.4 879.5,1015.8 881.5,1017.0 883.5,1018.1 885.5,1019.2 887.5,1020.3 889.5,1021.4 891.5,1022.6 893.5,1023.7 895.5,1024.8 897.5,1025.9 899.5,1027.0 901.5,1028.1 903.5,1029.3 905.5,1030.4 907.5,1031.4 909.5,1032.4 911.5,1033.4 913.5,1034.4 915.5,1035.4 917.5,1036.4 919.5,1037.4 921.5,1038.4 923.5,1039.4 925.5,1040.4 927.5,1041.4 929.5,1042.4 931.5,1043.3 933.5,1044.1 935.5,1044.8 937.5,1045.6 939.5,1046.4 941.5,1047.2 943.5,1048.0 945.5,1048.8 947.5,1049.5 949.5,1050.3 951.5,1051.1 953.5,1051.9 955.5,1052.7 957.5,1053.3 959.5,1054.0 961.5,1054.7 963.5,1055.3 965.5,1056.0 967.5,1056.7 969.5,1057.4 971.5,1058.0 973.5,1058.7 975.5,1059.4 977.5,1060.0 979.5,1060.7 981.5,1061.3 983.5,1061.9 985.5,1062.4 987.5,1063.0 989.5,1063.5 991.5,1064.1 993.5,1064.7 995.5,1065.2 997.5,1065.8 999.5,1066.3 1001.5,1066.9 1003.5,1067.5 1005.5,1068.0 1007.5,1068.4 1009.5,1068.9 1011.5,1069.3 1013.5,1069.8 1015.5,1070.2 1017.5,1070.7 1019.5,1071.1 1021.5,1071.6 1023.5,1072.0 1025.5,1072.4 1027.5,1072.9 1029.5,1073.3 1031.5,1073.7 1033.5,1073.9 1035.5,1074.2 1037.5,1074.4 1039.5,1074.7 1041.5,1074.9 1043.5,1075.2 1045.5,1075.4 1047.5,1075.7 1049.5,1075.9 1051.5,1076.2 1053.5,1076.4 1055.5,1076.7 1057.5,1077.0 1059.5,1077.2 1061.5,1077.5 1063.5,1077.8 1065.5,1078.1 1067.5,1078.4 1069.5,1078.7 1071.5,1079.0 1073.5,1079.2 1075.5,1079.5 1077.5,1079.8 1079.5,1080.1 1081.5,1080.4 1083.5,1080.7 1085.5,1081.0 1087.5,1081.3 1089.5,1081.6 1091.5,1081.9 1093.5,1082.2 1095.5,1082.5 1097.5,1082.8 1099.5,1083.1 1101.5,1083.4 1103.5,1083.7 1105.5,1084.0 1107.5,1084.3 1109.5,1084.6 1111.5,1084.8 1113.5,1085.0 1115.5,1085.2 1117.5,1085.4 1119.5,1085.6 1121.5,1085.8 1123.5,1086.0 1125.5,1086.2 1127.5,1086.4 1129.5,1086.6 1131.5,1086.8 1133.5,1087.0 1135.5,1087.2 1137.5,1087.4 1139.5,1087.6 1141.5,1087.8 1143.5,1088.0 1145.5,1088.2 1147.5,1088.3 1149.5,1088.5 1151.5,1088.7 1153.5,1088.8 1155.5,1089.0 1157.5,1089.1 1159.5,1089.2 1161.5,1089.3 1163.5,1089.4 1165.5,1089.5 1167.5,1089.6 1169.5,1089.7 1171.5,1089.9 1173.5,1090.0 1175.5,1090.1 1177.5,1090.2 1179.5,1090.3 1181.5,1090.4 1183.5,1090.5 1185.5,1090.7 1187.5,1090.8 1189.5,1090.9 1191.5,1091.0 1193.5,1091.1 1195.5,1091.2 1197.5,1091.2 1199.5,1091.3 1201.5,1091.4 1203.5,1091.5 1205.5,1091.6 1207.5,1091.7 1209.5,1091.7 1211.5,1091.8 1213.5,1091.9 1215.5,1092.0 1217.5,1092.1 1219.5,1092.2 1221.5,1092.2 1223.5,1092.3 1225.5,1092.4 1227.5,1092.5 1229.5,1092.6 1231.5,1092.7 1233.5,1092.7 1235.5,1092.8 1237.5,1092.9 1239.5,1093.0 1241.5,1093.1 1243.5,1093.2 1245.5,1093.2 1247.5,1093.3 1249.5,1093.4 1251.5,1093.5 1253.5,1093.6 1255.5,1093.7 1257.5,1093.8 1259.5,1093.8 1261.5,1093.9 1263.5,1094.0 1265.5,1094.1 1267.5,1094.2 1269.5,1094.3 1271.5,1094.4 1273.5,1094.5 1275.5,1094.6 1277.5,1094.7 1279.5,1094.8 1281.5,1094.9 1283.5,1095.0 1285.5,1095.1 1287.5,1095.2 1289.5,1095.3 1291.5,1095.4 1293.5,1095.6 1295.5,1095.7 1297.5,1095.8 1299.5,1095.9 1301.5,1096.0 1303.5,1096.1 1305.5,1096.2 1307.5,1096.2 1309.5,1096.3 1311.5,1096.3 1313.5,1096.4 1315.5,1096.4 1317.5,1096.5 1319.5,1096.6 1321.5,1096.6 1323.5,1096.7 1325.5,1096.7 1327.5,1096.8 1329.5,1096.9 1331.5,1096.9 1333.5,1097.0 1335.5,1097.0 1337.5,1097.1 1339.5,1097.1 1341.5,1097.2"/>
<polyline stroke="#808080" points="307.5,1099.6 309.5,1099.6 311.5,1099.6 313.5,1099.6 315.5,1099.6 317.5,1099.6 319.5,1099.6 321.5,1099.6 323.5,1099.6 325.5,1099.6 327.5,1099.5 329.5,1099.5 331.5,1099.5 333.5,1099.4 335.5,1099.4 337.5,1099.3 339.5,1099.1 341.5,1098.9 343.5,1098.7 345.5,1098.4 347.5,1098.1 349.5,1097.8 351.5,1097.2 353.5,1096.4 355.5,1095.6 357.5,1094.8 359.5,1094.1 361.5,1093.3 363.5,1092.6 365.5,1091.9 367.5,1091.0 369.5,1090.1 371.5,1089.1 373.5,1088.2 375.5,1086.9 377.5,1085.5 379.5,1084.1 381.5,1082.7 383.5,1081.3 385.5,1079.9 387.5,1078.5 389.5,1077.1 391.5,1074.9 393.5,1072.6 395.5,1070.2 397.5,1067.9 399.5,1064.6 401.5,1061.1 403.5,1057.6 405.5,1054.1 407.5,1050.7 409.5,1047.4 411.5,1043.9 413.5,1039.9 415.5,1035.9 417.5,1032.0 419.5,1028.0 421.5,1023.8 423.5,1019.5 425.5,1015.2 427.5,1010.9 429.5,1006.6 431.5,1000.9 433.5,995.1 435.5,989.3 437.5,983.5 439.5,977.8 441.5,972.3 443.5,966.9 445.5,961.4 447.5,955.9 449.5,949.4 451.5,942.1 453.5,934.8 455.5,927.5 457.5,920.5 459.5,913.9 461.5,907.3 463.5,901.4 465.5,895.5 467.5,890.0 469.5,885.0 471.5,879.9 473.5,875.2 475.5,870.5 477.5,865.9 479.5,861.3 481.5,856.7 483.5,851.7 485.5,846.6 487.5,842.0 489.5,838.1 491.5,834.2 493.5,831.0 495.5,827.9 497.5,825.1 499.5,822.7 501.5,820.4 503.5,818.0 505.5,815.7 507.5,813.5 509.5,811.4 511.5,809.2 513.5,807.0 515.5,805.4 517.5,803.9 519.5,802.3 521.5,800.8 523.5,799.6 525.5,798.7 527.5,798.4 529.5,798.1 531.5,798.2 533.5,798.5 535.5,798.9 537.5,799.2 539.5,799.4 541.5,799.5 543.5,799.7 545.5,799.8 547.5,800.0 549.5,800.2 551.5,800.4 553.5,800.6 555.5,801.0 557.5,801.5 559.5,801.9 561.5,802.4 563.5,802.8 565.5,803.3 567.5,803.7 569.5,804.2 571.5,804.6 573.5,805.0 575.5,804.9 577.5,804.7 579.5,804.6 581.5,804.4 583.5,804.2 585.5,803.5 587.5,802.9 589.5,802.2 591.5,801.5 593.5,800.4 595.5,799.3 597.5,798.4 599.5,797.4 601.5,796.5 603.5,795.5 605.5,794.6 607.5,794.0 609.5,793.5 611.5,793.0 613.5,792.5 615.5,792.0 617.5,791.8 619.5,791.7 621.5,791.6 623.5,791.4 625.5,791.3 627.5,791.2 629.5,791.1 631.5,791.4 633.5,791.8 635.5,792.3 637.5,792.7 639.5,793.4 641.5,794.4 643.5,795.5 645.5,796.6 647.5,797.8 649.5,799.2 651.5,800.5 653.5,801.8 655.5,803.3 657.5,805.2 659.5,806.9 661.5,808.5 663.5,810.3 665.5,812.4 667.5,814.5 669.5,816.6 671.5,818.7 673.5,821.1 675.5,823.4 677.5,825.8 679.5,828.3 681.5,831.3 683.5,834.3 685.5,837.3 687.5,840.3 689.5,843.1 691.5,845.9 693.5,848.7 695.5,851.6 697.5,855.0 699.5,858.5 701.5,862.0 703.5,865.5 705.5,867.9 707.5,870.2 709.5,872.6 711.5,874.9 713.5,877.2 715.5,879.6 717.5,881.9 719.5,884.2 721.5,886.5 723.5,888.8 725.5,891.1 727.5,893.2 729.5,895.3 731.5,897.4 733.5,899.5 735.5,901.6 737.5,903.9 739.5,906.3 741.5,908.6 743.5,910.9 745.5,913.3 747.5,915.2 749.5,916.8 751.5,918.4 753.5,920.1 755.5,921.7 757.5,923.3 759.5,925.0 761.5,926.6 763.5,928.3 765.5,929.9 767.5,931.5 769.5,933.0 771.5,934.4 773.5,935.9 775.5,937.4 777.5,938.8 779.5,940.3 781.5,941.7 783.5,943.2 785.5,944.4 787.5,945.4 789.5,946.4 791.5,947.4 793.5,948.3 795.5,949.3 797.5,950.3 799.5,951.3 801.5,952.5 803.5,953.7 805.5,954.8 807.5,956.0 809.5,957.2 811.5,958.3 813.5,959.5 815.5,961.2 817.5,963.1 819.5,965.1 821.5,967.1 823.5,969.0 825.5,971.0 827.5,972.9 829.5,974.8 831.5,976.8 833.5,978.7 835.5,980.6 837.5,982.6 839.5,984.5 841.5,986.0 843.5,987.3 845.5,988.6 847.5,990.0 849.5,991.3 851.5,992.6 853.5,994.0 855.5,995.3 857.5,996.7 859.5,998.1 861.5,999.5 863.5,1000.9 865.5,1002.3 867.5,1003.7 869.5,1005.1 871.5,1006.5 873.5,1007.9 875.5,1009.3 877.5,1010.7 879.5,1012.1 881.5,1013.3 883.5,1014.5 885.5,1015.7 887.5,1016.8 889.5,1018.0 891.5,1019.2 893.5,1020.3 895.5,1021.5 897.5,1022.7 899.5,1023.8 901.5,1025.0 903.5,1026.2 905.5,1027.3 907.5,1028.3 909.5,1029.4 911.5,1030.4 913.5,1031.5 915.5,1032.5 917.5,1033.6 919.5,1034.6 921.5,1035.7 923.5,1036.7 925.5,1037.8 927.5,1038.8 929.5,1039.9 931.5,1040.8 933.5,1041.6 935.5,1042.4 937.5,1043.2 939.5,1044.1 941.5,1044.9 943.5,1045.7 945.5,1046.5 947.5,1047.3 949.5,1048.2 951.5,1049.0 953.5,1049.8 955.5,1050.6 957.5,1051.3 959.5,1052.0 961.5,1052.7 963.5,1053.4 965.5,1054.1 967.5,1054.8 969.5,1055.5 971.5,1056.2 973.5,1056.9 975.5,1057.6 977.5,1058.3 979.5,1059.0 981.5,1059.6 983.5,1060.2 985.5,1060.8 987.5,1061.4 989.5,1062.0 991.5,1062.5 993.5,1063.1 995.5,1063.7 997.5,1064.3 999.5,1064.9 1001.5,1065.4 1003.5,1066.0 1005.5,1066.6 1007.5,1067.1 1009.5,1067.5 1011.5,1068.0 1013.5,1068.5 1015.5,1068.9 1017.5,1069.4 1019.5,1069.9 1021.5,1070.3 1023.5,1070.8 1025.5,1071.2 1027.5,1071.7 1029.5,1072.2 1031.5,1072.5 1033.5,1072.8 1035.5,1073.1 1037.5,1073.3 1039.5,1073.6 1041.5,1073.8 1043.5,1074.1 1045.5,1074.4 1047.5,1074.6 1049.5,1074.9 1051.5,1075.1 1053.5,1075.4 1055.5,1075.7 1057.5,1076.0 1059.5,1076.3 1061.5,1076.6 1063.5,1076.9 1065.5,1077.2 1067.5,1077.5 1069.5,1077.7 1071.5,1078.0 1073.5,1078.3 1075.5,1078.6 1077.5,1078.9 1079.5,1079.2 1081.5,1079.5 1083.5,1079.9 1085.5,1080.2 1087.5,1080.5 1089.5,1080.8 1091.5,1081.1 1093.5,1081.4 1095.5,1081.7 1097.5,1082.0 1099.5,1082.3 1101.5,1082.6 1103.5,1083.0 1105.5,1083.3 1107.5,1083.6 1109.5,1083.9 1111.5,1084.2 1113.5,1084.4 1115.5,1084.6 1117.5,1084.8 1119.5,1085.0 1121.5,1085.2 1123.5,1085.4 1125.5,1085.6 1127.5,1085.8 1129.5,1086.0 1131.5,1086.2 1133.5,1086.4 1135.5,1086.6 1137.5,1086.8 1139.5,1087.0 1141.5,1087.2 1143.5,1087.4 1145.5,1087.6 1147.5,1087.8 1149.5,1088.1 1151.5,1088.3 1153.5,1088.4 1155.5,1088.5 1157.5,1088.6 1159.5,1088.7 1161.5,1088.8 1163.5,1089.0 1165.5,1089.1 1167.5,1089.2 1169.5,1089.3 1171.5,1089.4 1173.5,1089.5 1175.5,1089.7 1177.5,1089.8 1179.5,1089.9 1181.5,1090.0 1183.5,1090.1 1185.5,1090.3 1187.5,1090.4 1189.5,1090.5 1191.5,1090.6 1193.5,1090.7 1195.5,1090.8 1197.5,1090.9 1199.5,1091.0 1201.5,1091.0 1203.5,1091.1 1205.5,1091.2 1207.5,1091.3 1209.5,1091.4 1211.5,1091.5 1213.5,1091.6 1215.5,1091.7 1217.5,1091.7 1219.5,1091.8 1221.5,1091.9 1223.5,1092.0 1225.5,1092.1 1227.5,1092.2 1229.5,1092.3 1231.5,1092.3 1233.5,1092.4 1235.5,1092.5 1237.5,1092.6 1239.5,1092.7 1241.5,1092.8 1243.5,1092.9 1245.5,1093.0 1247.5,1093.1 1249.5,1093.1 1251.5,1093.2 1253.5,1093.3 1255.5,1093.4 1257.5,1093.5 1259.5,1093.6 1261.5,1093.7 1263.5,1093.8 1265.5,1093.9 1267.5,1093.9 1269.5,1094.0 1271.5,1094.1 1273.5,1094.2 1275.5,1094.3 1277.5,1094.5 1279.5,1094.6 1281.5,1094.7 1283.5,1094.8 1285.5,1094.9 1287.5,1095.0 1289.5,1095.1 1291.5,1095.3 1293.5,1095.4 1295.5,1095.5 1297.5,1095.6 1299.5,1095.7 1301.5,1095.8 1303.5,1095.9 1305.5,1096.0 1307.5,1096.1 1309.5,1096.1 1311.5,1096.2 1313.5,1096.2 1315.5,1096.3 1317.5,1096.4 1319.5,1096.4 1321.5,1096.5 1323.5,1096.5 1325.5,1096.6 1327.5,1096.7 1329.5,1096.7 1331.5,1096.8 1333.5,1096.9 1335.5,1096.9 1337.5,1097.0 1339.5,1097.0 1341.5,1097.1"/>
<polyline stroke="#404040" points="307.5,1099.6 309.5,1099.6 311.5,1099.6 313.5,1099.6 315.5,1099.6 317.5,1099.6 319.5,1099.6 321.5,1099.6 323.5,1099.6 325.5,1099.5 327.5,1099.5 329.5,1099.5 331.5,1099.5 333.5,1099.4 335.5,1099.4 337.5,1099.3 339.5,1099.1 341.5,1098.9 343.5,1098.7 345.5,1098.4 347.5,1098.1 349.5,1097.8 351.5,1097.1 353.5,1096.2 355.5,1095.4 357.5,1094.6 359.5,1093.8 361.5,1093.1 363.5,1092.3 365.5,1091.6 367.5,1090.7 369.5,1089.7 371.5,1088.7 373.5,1087.8 375.5,1086.4 377.5,1084.9 379.5,1083.5 381.5,1082.0 383.5,1080.6 385.5,1079.1 387.5,1077.7 389.5,1076.2 391.5,1073.9 393.5,1071.5 395.5,1069.1 397.5,1066.7 399.5,1063.2 401.5,1059.6 403.5,1056.0 405.5,1052.4 407.5,1048.8 409.5,1045.3 411.5,1041.7 413.5,1037.6 415.5,1033.5 417.5,1029.3 419.5,1025.2 421.5,1020.8 423.5,1016.4 425.5,1011.9 427.5,1007.4 429.5,1003.0 431.5,997.0 433.5,991.0 435.5,985.0 437.5,979.0 439.5,973.0 441.5,967.3 443.5,961.7 445.5,956.0 447.5,950.3 449.5,943.5 451.5,935.9 453.5,928.4 455.5,920.8 457.5,913.5 459.5,906.6 461.5,899.7 463.5,893.6 465.5,887.5 467.5,881.8 469.5,876.5 471.5,871.3 473.5,866.4 475.5,861.6 477.5,856.7 479.5,852.0 481.5,847.2 483.5,842.0 485.5,836.7 487.5,831.9 489.5,827.9 491.5,823.8 493.5,820.5 495.5,817.2 497.5,814.3 499.5,811.9 501.5,809.4 503.5,807.0 505.5,804.6 507.5,802.5 509.5,801.1 511.5,799.7 513.5,798.3 515.5,797.6 517.5,796.9 519.5,796.1 521.5,795.4 523.5,795.1 525.5,794.8 527.5,794.5 529.5,794.1 531.5,794.1 533.5,794.3 535.5,794.5 537.5,794.7 539.5,794.8 541.5,794.8 543.5,794.9 545.5,795.0 547.5,795.1 549.5,795.2 551.5,795.4 553.5,795.5 555.5,795.6 557.5,795.8 559.5,795.9 561.5,796.1 563.5,796.3 565.5,796.4 567.5,796.6 569.5,796.7 571.5,796.8 573.5,796.9 575.5,796.5 577.5,796.0 579.5,795.5 581.5,795.0 583.5,794.6 585.5,793.7 587.5,792.9 589.5,792.0 591.5,791.1 593.5,789.9 595.5,788.8 597.5,787.8 599.5,786.8 601.5,785.8 603.5,784.8 605.5,783.8 607.5,783.2 609.5,782.6 611.5,782.1 613.5,781.6 615.5,781.1 617.5,780.9 619.5,780.7 621.5,780.6 623.5,780.5 625.5,780.4 627.5,780.3 629.5,780.2 631.5,780.4 633.5,780.9 635.5,782.0 637.5,783.1 639.5,784.4 641.5,785.7 643.5,786.5 645.5,787.2 647.5,788.1 649.5,789.1 651.5,790.1 653.5,791.1 655.5,792.3 657.5,793.8 659.5,795.4 661.5,797.1 663.5,799.0 665.5,801.1 667.5,803.3 669.5,805.5 671.5,807.7 673.5,810.2 675.5,812.6 677.5,815.1 679.5,817.7 681.5,820.8 683.5,823.9 685.5,827.0 687.5,830.1 689.5,833.0 691.5,836.0 693.5,838.9 695.5,841.9 697.5,845.5 699.5,849.1 701.5,852.7 703.5,856.3 705.5,858.8 707.5,861.3 709.5,863.7 711.5,866.1 713.5,868.5 715.5,870.9 717.5,873.3 719.5,875.7 721.5,878.1 723.5,880.5 725.5,882.9 727.5,885.1 729.5,887.3 731.5,889.5 733.5,891.7 735.5,893.9 737.5,896.3 739.5,898.7 741.5,901.1 743.5,903.5 745.5,906.0 747.5,907.9 749.5,909.6 751.5,911.3 753.5,913.0 755.5,914.7 757.5,916.4 759.5,918.1 761.5,919.8 763.5,921.6 765.5,923.3 767.5,924.9 769.5,926.5 771.5,928.0 773.5,929.5 775.5,931.0 777.5,932.5 779.5,934.0 781.5,935.5 783.5,937.0 785.5,938.3 787.5,939.3 789.5,940.4 791.5,941.4 793.5,942.4 795.5,943.4 797.5,944.5 799.5,945.5 801.5,946.7 803.5,948.0 805.5,949.2 807.5,950.4 809.5,951.6 811.5,952.8 813.5,954.0 815.5,955.8 817.5,957.8 819.5,959.8 821.5,961.9 823.5,963.9 825.5,965.9 827.5,967.9 829.5,970.0 831.5,972.0 833.5,974.0 835.5,976.0 837.5,978.0 839.5,980.0 841.5,981.5 843.5,982.9 845.5,984.3 847.5,985.7 849.5,987.1 851.5,988.4 853.5,989.8 855.5,991.2 857.5,992.7 859.5,994.1 861.5,995.6 863.5,997.0 865.5,998.5 867.5,999.9 869.5,1001.4 871.5,1002.8 873.5,1004.3 875.5,1005.7 877.5,1007.2 879.5,1008.6 881.5,1009.9 883.5,1011.2 885.5,1012.4 887.5,1013.6 889.5,1014.8 891.5,1016.0 893.5,1017.2 895.5,1018.4 897.5,1019.6 899.5,1020.8 901.5,1022.1 903.5,1023.3 905.5,1024.5 907.5,1025.6 909.5,1026.6 911.5,1027.7 913.5,1028.8 915.5,1029.9 917.5,1031.0 919.5,1032.1 921.5,1033.2 923.5,1034.3 925.5,1035.4 927.5,1036.5 929.5,1037.6 931.5,1038.5 933.5,1039.3 935.5,1040.2 937.5,1041.0 939.5,1041.9 941.5,1042.7 943.5,1043.6 945.5,1044.4 947.5,1045.3 949.5,1046.1 951.5,1047.0 953.5,1047.8 955.5,1048.7 957.5,1049.4 959.5,1050.1 961.5,1050.9 963.5,1051.6 965.5,1052.3 967.5,1053.0 969.5,1053.8 971.5,1054.5 973.5,1055.2 975.5,1055.9 977.5,1056.7 979.5,1057.4 981.5,1058.1 983.5,1058.7 985.5,1059.3 987.5,1059.9 989.5,1060.5 991.5,1061.1 993.5,1061.7 995.5,1062.3 997.5,1062.9 999.5,1063.5 1001.5,1064.1 1003.5,1064.7 1005.5,1065.3 1007.5,1065.8 1009.5,1066.3 1011.5,1066.8 1013.5,1067.2 1015.5,1067.7 1017.5,1068.2 1019.5,1068.7 1021.5,1069.2 1023.5,1069.7 1025.5,1070.1 1027.5,1070.6 1029.5,1071.1 1031.5,1071.5 1033.5,1071.7 1035.5,1072.0 1037.5,1072.3 1039.5,1072.6 1041.5,1072.8 1043.5,1073.1 1045.5,1073.4 1047.5,1073.6 1049.5,1073.9 1051.5,1074.2 1053.5,1074.5 1055.5,1074.7 1057.5,1075.0 1059.5,1075.3 1061.5,1075.7 1063.5,1076.0 1065.5,1076.3 1067.5,1076.6 1069.5,1076.9 1071.5,1077.2 1073.5,1077.5 1075.5,1077.8 1077.5,1078.1 1079.5,1078.4 1081.5,1078.8 1083.5,1079.1 1085.5,1079.4 1087.5,1079.7 1089.5,1080.0 1091.5,1080.4 1093.5,1080.7 1095.5,1081.0 1097.5,1081.3 1099.5,1081.7 1101.5,1082.0 1103.5,1082.3 1105.5,1082.6 1107.5,1082.9 1109.5,1083.3 1111.5,1083.6 1113.5,1083.8 1115.5,1084.0 1117.5,1084.2 1119.5,1084.4 1121.5,1084.6 1123.5,1084.8 1125.5,1085.0 1127.5,1085.3 1129.5,1085.5 1131.5,1085.7 1133.5,1085.9 1135.5,1086.1 1137.5,1086.3 1139.5,1086.5 1141.5,1086.7 1143.5,1087.0 1145.5,1087.2 1147.5,1087.4 1149.5,1087.6 1151.5,1087.8 1153.5,1087.9 1155.5,1088.1 1157.5,1088.2 1159.5,1088.3 1161.5,1088.4 1163.5,1088.5 1165.5,1088.7 1167.5,1088.8 1169.5,1088.9 1171.5,1089.0 1173.5,1089.2 1175.5,1089.3 1177.5,1089.4 1179.5,1089.5 1181.5,1089.6 1183.5,1089.8 1185.5,1089.9 1187.5,1090.0 1189.5,1090.1 1191.5,1090.3 1193.5,1090.4 1195.5,1090.4 1197.5,1090.5 1199.5,1090.6 1201.5,1090.7 1203.5,1090.8 1205.5,1090.9 1207.5,1091.0 1209.5,1091.1 1211.5,1091.2 1213.5,1091.2 1215.5,1091.3 1217.5,1091.4 1219.5,1091.5 1221.5,1091.6 1223.5,1091.7 1225.5,1091.8 1227.5,1091.9 1229.5,1092.0 1231.5,1092.1 1233.5,1092.1 1235.5,1092.2 1237.5,1092.3 1239.5,1092.4 1241.5,1092.5 1243.5,1092.6 1245.5,1092.7 1247.5,1092.8 1249.5,1092.9 1251.5,1093.0 1253.5,1093.1 1255.5,1093.2 1257.5,1093.3 1259.5,1093.4 1261.5,1093.4 1263.5,1093.5 1265.5,1093.6 1267.5,1093.7 1269.5,1093.8 1271.5,1093.9 1273.5,1094.0 1275.5,1094.1 1277.5,1094.2 1279.5,1094.4 1281.5,1094.5 1283.5,1094.6 1285.5,1094.7 1287.5,1094.8 1289.5,1095.0 1291.5,1095.1 1293.5,1095.2 1295.5,1095.3 1297.5,1095.4 1299.5,1095.6 1301.5,1095.7 1303.5,1095.8 1305.5,1095.9 1307.5,1095.9 1309.5,1096.0 1311.5,1096.1 1313.5,1096.1 1315.5,1096.2 1317.5,1096.2 1319.5,1096.3 1321.5,1096.4 1323.5,1096.4 1325.5,1096.5 1327.5,1096.6 1329.5,1096.6 1331.5,1096.7 1333.5,1096.7 1335.5,1096.8 1337.5,1096.9 1339.5,1096.9 1341.5,1097.0"/>
<polyline stroke="#c0c0c0" points="307.5,1099.6 309.5,1099.6 311.5,1099.6 313.5,1099.6 315.5,1099.6 317.5,1099.6 319.5,1099.6 321.5,1099.6 323.5,1099.6 325.5,1099.5 327.5,1099.5 329.5,1099.5 331.5,1099.5 333.5,1099.4 335.5,1099.4 337.5,1099.3 339.5,1099.1 341.5,1098.9 343.5,1098.7 345.5,1098.3 347.5,1098.0 349.5,1097.7 351.5,1097.0 353.5,1096.1 355.5,1095.3 357.5,1094.5 359.5,1093.7 361.5,1092.9 363.5,1092.1 365.5,1091.4 367.5,1090.4 369.5,1089.4 371.5,1088.4 373.5,1087.4 375.5,1086.0 377.5,1084.6 379.5,1083.1 381.5,1081.6 383.5,1080.1 385.5,1078.6 387.5,1077.1 389.5,1075.6 391.5,1073.2 393.5,1070.8 395.5,1068.3 397.5,1065.8 399.5,1062.2 401.5,1058.5 403.5,1054.8 405.5,1051.1 407.5,1047.5 409.5,1043.9 411.5,1040.2 413.5,1036.0 415.5,1031.7 417.5,1027.4 419.5,1023.2 421.5,1018.7 423.5,1014.2 425.5,1009.6 427.5,1005.0 429.5,1000.4 431.5,994.3 433.5,988.1 435.5,981.9 437.5,975.8 439.5,969.7 441.5,963.8 443.5,958.0 445.5,952.2 447.5,946.3 449.5,939.3 451.5,931.6 453.5,923.8 455.5,916.1 457.5,908.6 459.5,901.5 461.5,894.4 463.5,888.1 465.5,881.9 467.5,876.0 469.5,870.6 471.5,865.2 473.5,860.2 475.5,855.2 477.5,850.3 479.5,845.4 481.5,840.5 483.5,835.2 485.5,829.8 487.5,824.8 489.5,820.7 491.5,816.5 493.5,813.1 495.5,809.8 497.5,806.7 499.5,804.2 501.5,801.8 503.5,799.2 505.5,796.7 507.5,794.6 509.5,793.0 511.5,791.5 513.5,789.9 515.5,788.9 517.5,788.0 519.5,787.1 521.5,786.2 523.5,785.7 525.5,785.2 527.5,784.8 529.5,784.4 531.5,784.5 533.5,784.7 535.5,785.0 537.5,785.2 539.5,785.4 541.5,785.5 543.5,785.6 545.5,785.6 547.5,785.7 549.5,785.9 551.5,786.0 553.5,786.1 555.5,786.3 557.5,786.4 559.5,786.6 561.5,786.7 563.5,786.9 565.5,787.0 567.5,787.2 569.5,787.3 571.5,787.4 573.5,787.5 575.5,787.0 577.5,786.5 579.5,786.0 581.5,785.5 583.5,785.1 585.5,784.1 587.5,783.2 589.5,782.3 591.5,781.3 593.5,780.4 595.5,779.6 597.5,778.8 599.5,778.0 601.5,777.3 603.5,776.5 605.5,775.8 607.5,775.4 609.5,775.1 611.5,774.7 613.5,774.1 615.5,773.5 617.5,773.3 619.5,773.1 621.5,772.9 623.5,772.7 625.5,772.5 627.5,772.4 629.5,772.2 631.5,772.8 633.5,773.7 635.5,774.5 637.5,775.3 639.5,776.2 641.5,777.0 643.5,777.8 645.5,778.6 647.5,779.5 649.5,780.6 651.5,781.7 653.5,782.7 655.5,784.0 657.5,785.6 659.5,787.4 661.5,789.1 663.5,791.0 665.5,793.2 667.5,795.5 669.5,797.7 671.5,800.0 673.5,802.5 675.5,805.0 677.5,807.5 679.5,810.2 681.5,813.4 683.5,816.6 685.5,819.8 687.5,823.0 689.5,826.0 691.5,829.0 693.5,832.0 695.5,835.0 697.5,838.7 699.5,842.4 701.5,846.1 703.5,849.8 705.5,852.4 707.5,854.9 709.5,857.4 711.5,859.9 713.5,862.4 715.5,864.9 717.5,867.3 719.5,869.8 721.5,872.3 723.5,874.7 725.5,877.1 727.5,879.4 729.5,881.6 731.5,883.9 733.5,886.2 735.5,888.4 737.5,890.9 739.5,893.4 741.5,895.9 743.5,898.3 745.5,900.8 747.5,902.8 749.5,904.6 751.5,906.3 753.5,908.1 755.5,909.8 757.5,911.6 759.5,913.3 761.5,915.1 763.5,916.8 765.5,918.6 767.5,920.3 769.5,921.9 771.5,923.4 773.5,925.0 775.5,926.5 777.5,928.1 779.5,929.6 781.5,931.2 783.5,932.7 785.5,934.0 787.5,935.1 789.5,936.1 791.5,937.2 793.5,938.2 795.5,939.3 797.5,940.4 799.5,941.4 801.5,942.7 803.5,943.9 805.5,945.2 807.5,946.4 809.5,947.7 811.5,948.9 813.5,950.2 815.5,951.9 817.5,954.0 819.5,956.1 821.5,958.2 823.5,960.3 825.5,962.4 827.5,964.5 829.5,966.5 831.5,968.6 833.5,970.6 835.5,972.7 837.5,974.8 839.5,976.8 841.5,978.4 843.5,979.8 845.5,981.2 847.5,982.6 849.5,984.1 851.5,985.5 853.5,986.9 855.5,988.3 857.5,989.8 859.5,991.3 861.5,992.8 863.5,994.3 865.5,995.8 867.5,997.3 869.5,998.8 871.5,1000.3 873.5,1001.8 875.5,1003.2 877.5,1004.7 879.5,1006.2 881.5,1007.6 883.5,1008.8 885.5,1010.1 887.5,1011.3 889.5,1012.5 891.5,1013.8 893.5,1015.0 895.5,1016.3 897.5,1017.5 899.5,1018.8 901.5,1020.0 903.5,1021.2 905.5,1022.5 907.5,1023.6 909.5,1024.7 911.5,1025.8 913.5,1027.0 915.5,1028.1 917.5,1029.2 919.5,1030.3 921.5,1031.4 923.5,1032.5 925.5,1033.7 927.5,1034.8 929.5,1035.9 931.5,1036.9 933.5,1037.7 935.5,1038.6 937.5,1039.5 939.5,1040.4 941.5,1041.2 943.5,1042.1 945.5,1043.0 947.5,1043.8 949.5,1044.7 951.5,1045.6 953.5,1046.5 955.5,1047.3 957.5,1048.1 959.5,1048.8 961.5,1049.6 963.5,1050.3 965.5,1051.1 967.5,1051.8 969.5,1052.5 971.5,1053.3 973.5,1054.0 975.5,1054.8 977.5,1055.5 979.5,1056.3 981.5,1056.9 983.5,1057.6 985.5,1058.2 987.5,1058.8 989.5,1059.4 991.5,1060.1 993.5,1060.7 995.5,1061.3 997.5,1061.9 999.5,1062.5 1001.5,1063.2 1003.5,1063.8 1005.5,1064.4 1007.5,1064.9 1009.5,1065.4 1011.5,1065.9 1013.5,1066.4 1015.5,1066.9 1017.5,1067.4 1019.5,1067.9 1021.5,1068.4 1023.5,1068.9 1025.5,1069.4 1027.5,1069.9 1029.5,1070.3 1031.5,1070.7 1033.5,1071.0 1035.5,1071.3 1037.5,1071.6 1039.5,1071.8 1041.5,1072.1 1043.5,1072.4 1045.5,1072.7 1047.5,1073.0 1049.5,1073.2 1051.5,1073.5 1053.5,1073.8 1055.5,1074.1 1057.5,1074.4 1059.5,1074.7 1061.5,1075.0 1063.5,1075.3 1065.5,1075.7 1067.5,1076.0 1069.5,1076.3 1071.5,1076.6 1073.5,1076.9 1075.5,1077.2 1077.5,1077.6 1079.5,1077.9 1081.5,1078.2 1083.5,1078.5 1085.5,1078.9 1087.5,1079.2 1089.5,1079.5 1091.5,1079.9 1093.5,1080.2 1095.5,1080.5 1097.5,1080.9 1099.5,1081.2 1101.5,1081.5 1103.5,1081.8 1105.5,1082.2 1107.5,1082.5 1109.5,1082.8 1111.5,1083.1 1113.5,1083.4 1115.5,1083.6 1117.5,1083.8 1119.5,1084.0 1121.5,1084.2 1123.5,1084.4 1125.5,1084.7 1127.5,1084.9 1129.5,1085.1 1131.5,1085.3 1133.5,1085.5 1135.5,1085.8 1137.5,1086.0 1139.5,1086.2 1141.5,1086.4 1143.5,1086.6 1145.5,1086.8 1147.5,1087.1 1149.5,1087.3 1151.5,1087.5 1153.5,1087.6 1155.5,1087.7 1157.5,1087.9 1159.5,1088.0 1161.5,1088.1 1163.5,1088.2 1165.5,1088.4 1167.5,1088.5 1169.5,1088.6 1171.5,1088.7 1173.5,1088.9 1175.5,1089.0 1177.5,1089.1 1179.5,1089.3 1181.5,1089.4 1183.5,1089.5 1185.5,1089.6 1187.5,1089.8 1189.5,1089.9 1191.5,1090.0 1193.5,1090.1 1195.5,1090.2 1197.5,1090.3 1199.5,1090.4 1201.5,1090.5 1203.5,1090.6 1205.5,1090.7 1207.5,1090.8 1209.5,1090.8 1211.5,1090.9 1213.5,1091.0 1215.5,1091.1 1217.5,1091.2 1219.5,1091.3 1221.5,1091.4 1223.5,1091.5 1225.5,1091.6 1227.5,1091.7 1229.5,1091.8 1231.5,1091.9 1233.5,1092.0 1235.5,1092.0 1237.5,1092.1 1239.5,1092.2 1241.5,1092.3 1243.5,1092.4 1245.5,1092.5 1247.5,1092.6 1249.5,1092.7 1251.5,1092.8 1253.5,1092.9 1255.5,1093.0 1257.5,1093.1 1259.5,1093.2 1261.5,1093.3 1263.5,1093.4 1265.5,1093.5 1267.5,1093.6 1269.5,1093.7 1271.5,1093.8 1273.5,1093.9 1275.5,1094.0 1277.5,1094.1 1279.5,1094.2 1281.5,1094.4 1283.5,1094.5 1285.5,1094.6 1287.5,1094.7 1289.5,1094.8 1291.5,1095.0 1293.5,1095.1 1295.5,1095.2 1297.5,1095.3 1299.5,1095.5 1301.5,1095.6 1303.5,1095.7 1305.5,1095.8 1307.5,1095.8 1309.5,1095.9 1311.5,1096.0 1313.5,1096.0 1315.5,1096.1 1317.5,1096.1 1319.5,1096.2 1321.5,1096.3 1323.5,1096.3 1325.5,1096.4 1327.5,1096.5 1329.5,1096.5 1331.5,1096.6 1333.5,1096.7 1335.5,1096.7 1337.5,1096.8 1339.5,1096.9 1341.5,1096.9"/>
<polyline stroke="#e0107f" points="307.5,1099.6 309.5,1099.6 311.5,1099.6 313.5,1099.6 315.5,1099.6 317.5,1099.6 319.5,1099.6 321.5,1099.6 323.5,1099.5 325.5,1099.5 327.5,1099.5 329.5,1099.5 331.5,1099.4 333.5,1099.4 335.5,1099.4 337.5,1099.3 339.5,1099.0 341.5,1098.8 343.5,1098.5 345.5,1098.2 347.5,1097.8 349.5,1097.4 351.5,1096.6 353.5,1095.6 355.5,1094.6 357.5,1093.7 359.5,1092.8 361.5,1091.9 363.5,1091.0 365.5,1090.1 367.5,1089.0 369.5,1087.9 371.5,1086.7 373.5,1085.6 375.5,1084.0 377.5,1082.3 379.5,1080.6 381.5,1078.9 383.5,1077.1 385.5,1075.4 387.5,1073.7 389.5,1072.0 391.5,1069.3 393.5,1066.4 395.5,1063.6 397.5,1060.7 399.5,1056.6 401.5,1052.4 403.5,1048.1 405.5,1043.8 407.5,1039.7 409.5,1035.5 411.5,1031.3 413.5,1026.4 415.5,1021.5 417.5,1016.6 419.5,1011.7 421.5,1006.6 423.5,1001.3 425.5,996.0 427.5,990.8 429.5,985.5 431.5,978.5 433.5,971.4 435.5,964.3 437.5,957.2 439.5,950.2 441.5,943.4 443.5,936.7 445.5,930.0 447.5,923.3 449.5,915.3 451.5,906.4 453.5,897.4 455.5,888.5 457.5,879.9 459.5,871.8 461.5,863.7 463.5,856.4 465.5,849.3 467.5,842.5 469.5,836.3 471.5,830.1 473.5,824.3 475.5,818.6 477.5,812.9 479.5,807.2 481.5,801.6 483.5,795.5 485.5,789.3 487.5,783.6 489.5,778.8 491.5,774.0 493.5,770.1 495.5,766.2 497.5,762.8 499.5,759.9 501.5,757.0 503.5,754.2 505.5,751.3 507.5,748.8 509.5,747.4 511.5,745.9 513.5,744.4 515.5,743.7 517.5,743.0 519.5,742.2 521.5,741.5 523.5,741.3 525.5,741.1 527.5,740.8 529.5,740.5 531.5,740.7 533.5,741.1 535.5,741.5 537.5,741.9 539.5,742.2 541.5,742.4 543.5,742.7 545.5,742.9 547.5,743.1 549.5,743.4 551.5,743.6 553.5,743.9 555.5,744.0 557.5,743.7 559.5,743.4 561.5,743.2 563.5,742.9 565.5,742.6 567.5,742.3 569.5,742.0 571.5,741.6 573.5,741.3 575.5,740.3 577.5,739.3 579.5,738.3 581.5,737.6 583.5,737.0 585.5,735.9 587.5,734.7 589.5,733.5 591.5,732.4 593.5,731.2 595.5,730.1 597.5,729.2 599.5,728.2 601.5,727.3 603.5,726.3 605.5,725.3 607.5,724.7 609.5,724.2 611.5,723.8 613.5,723.4 615.5,722.9 617.5,722.9 619.5,722.9 621.5,722.8 623.5,722.8 625.5,722.7 627.5,722.7 629.5,722.6 631.5,722.9 633.5,723.4 635.5,723.9 637.5,724.5 639.5,725.4 641.5,726.6 643.5,727.8 645.5,729.0 647.5,730.3 649.5,731.8 651.5,733.3 653.5,734.8 655.5,736.5 657.5,738.5 659.5,740.5 661.5,742.5 663.5,744.7 665.5,747.3 667.5,749.8 669.5,752.3 671.5,755.0 673.5,757.9 675.5,760.8 677.5,763.7 679.5,766.8 681.5,770.4 683.5,774.1 685.5,777.8 687.5,781.5 689.5,784.9 691.5,788.3 693.5,791.8 695.5,795.3 697.5,799.6 699.5,803.8 701.5,808.1 703.5,812.3 705.5,815.3 707.5,818.2 709.5,821.1 711.5,823.9 713.5,826.8 715.5,829.6 717.5,832.5 719.5,835.3 721.5,838.1 723.5,841.0 725.5,843.7 727.5,846.3 729.5,848.9 731.5,851.5 733.5,854.1 735.5,856.7 737.5,859.6 739.5,862.4 741.5,865.3 743.5,868.1 745.5,871.0 747.5,873.3 749.5,875.3 751.5,877.3 753.5,879.3 755.5,881.4 757.5,883.4 759.5,885.4 761.5,887.4 763.5,889.4 765.5,891.4 767.5,893.4 769.5,895.2 771.5,897.0 773.5,898.8 775.5,900.5 777.5,902.3 779.5,904.1 781.5,905.9 783.5,907.7 785.5,909.2 787.5,910.4 789.5,911.6 791.5,912.8 793.5,914.0 795.5,915.2 797.5,916.5 799.5,917.7 801.5,919.1 803.5,920.6 805.5,922.0 807.5,923.4 809.5,924.9 811.5,926.3 813.5,927.7 815.5,929.8 817.5,932.2 819.5,934.6 821.5,937.0 823.5,939.4 825.5,941.8 827.5,944.2 829.5,946.5 831.5,948.9 833.5,951.3 835.5,953.6 837.5,956.0 839.5,958.4 841.5,960.2 843.5,961.8 845.5,963.5 847.5,965.1 849.5,966.7 851.5,968.4 853.5,970.0 855.5,971.6 857.5,973.3 859.5,975.1 861.5,976.8 863.5,978.5 865.5,980.2 867.5,981.9 869.5,983.6 871.5,985.4 873.5,987.1 875.5,988.8 877.5,990.5 879.5,992.2 881.5,993.7 883.5,995.2 885.5,996.6 887.5,998.0 889.5,999.5 891.5,1000.9 893.5,1002.3 895.5,1003.8 897.5,1005.2 899.5,1006.6 901.5,1008.1 903.5,1009.5 905.5,1010.9 907.5,1012.2 909.5,1013.5 911.5,1014.8 913.5,1016.0 915.5,1017.3 917.5,1018.6 919.5,1019.9 921.5,1021.2 923.5,1022.5 925.5,1023.8 927.5,1025.1 929.5,1026.3 931.5,1027.4 933.5,1028.4 935.5,1029.5 937.5,1030.5 939.5,1031.5 941.5,1032.5 943.5,1033.5 945.5,1034.5 947.5,1035.5 949.5,1036.5 951.5,1037.5 953.5,1038.5 955.5,1039.5 957.5,1040.3 959.5,1041.2 961.5,1042.0 963.5,1042.9 965.5,1043.8 967.5,1044.6 969.5,1045.5 971.5,1046.3 973.5,1047.2 975.5,1048.1 977.5,1048.9 979.5,1049.8 981.5,1050.5 983.5,1051.3 985.5,1052.0 987.5,1052.7 989.5,1053.4 991.5,1054.1 993.5,1054.8 995.5,1055.5 997.5,1056.3 999.5,1057.0 1001.5,1057.7 1003.5,1058.4 1005.5,1059.1 1007.5,1059.7 1009.5,1060.3 1011.5,1060.8 1013.5,1061.4 1015.5,1062.0 1017.5,1062.5 1019.5,1063.1 1021.5,1063.7 1023.5,1064.2 1025.5,1064.8 1027.5,1065.4 1029.5,1065.9 1031.5,1066.4 1033.5,1066.7 1035.5,1067.0 1037.5,1067.3 1039.5,1067.7 1041.5,1068.0 1043.5,1068.3 1045.5,1068.6 1047.5,1068.9 1049.5,1069.3 1051.5,1069.6 1053.5,1069.9 1055.5,1070.2 1057.5,1070.6 1059.5,1071.0 1061.5,1071.3 1063.5,1071.7 1065.5,1072.1 1067.5,1072.4 1069.5,1072.8 1071.5,1073.1 1073.5,1073.5 1075.5,1073.9 1077.5,1074.2 1079.5,1074.6 1081.5,1075.0 1083.5,1075.4 1085.5,1075.7 1087.5,1076.1 1089.5,1076.5 1091.5,1076.9 1093.5,1077.3 1095.5,1077.6 1097.5,1078.0 1099.5,1078.4 1101.5,1078.8 1103.5,1079.2 1105.5,1079.6 1107.5,1079.9 1109.5,1080.3 1111.5,1080.7 1113.5,1080.9 1115.5,1081.2 1117.5,1081.4 1119.5,1081.7 1121.5,1081.9 1123.5,1082.2 1125.5,1082.4 1127.5,1082.7 1129.5,1082.9 1131.5,1083.2 1133.5,1083.4 1135.5,1083.7 1137.5,1083.9 1139.5,1084.2 1141.5,1084.4 1143.5,1084.7 1145.5,1084.9 1147.5,1085.2 1149.5,1085.4 1151.5,1085.7 1153.5,1085.8 1155.5,1086.0 1157.5,1086.1 1159.5,1086.2 1161.5,1086.4 1163.5,1086.5 1165.5,1086.7 1167.5,1086.8 1169.5,1087.0 1171.5,1087.1 1173.5,1087.3 1175.5,1087.4 1177.5,1087.5 1179.5,1087.7 1181.5,1087.8 1183.5,1088.0 1185.5,1088.1 1187.5,1088.3 1189.5,1088.4 1191.5,1088.6 1193.5,1088.7 1195.5,1088.8 1197.5,1088.9 1199.5,1089.0 1201.5,1089.1 1203.5,1089.2 1205.5,1089.3 1207.5,1089.4 1209.5,1089.5 1211.5,1089.6 1213.5,1089.7 1215.5,1089.8 1217.5,1089.9 1219.5,1090.1 1221.5,1090.2 1223.5,1090.3 1225.5,1090.4 1227.5,1090.5 1229.5,1090.6 1231.5,1090.7 1233.5,1090.8 1235.5,1090.9 1237.5,1091.0 1239.5,1091.1 1241.5,1091.2 1243.5,1091.3 1245.5,1091.5 1247.5,1091.6 1249.5,1091.7 1251.5,1091.8 1253.5,1091.9 1255.5,1092.0 1257.5,1092.1 1259.5,1092.2 1261.5,1092.3 1263.5,1092.4 1265.5,1092.5 1267.5,1092.7 1269.5,1092.8 1271.5,1092.9 1273.5,1093.0 1275.5,1093.1 1277.5,1093.3 1279.5,1093.4 1281.5,1093.6 1283.5,1093.7 1285.5,1093.8 1287.5,1094.0 1289.5,1094.1 1291.5,1094.3 1293.5,1094.4 1295.5,1094.5 1297.5,1094.7 1299.5,1094.8 1301.5,1095.0 1303.5,1095.1 1305.5,1095.2 1307.5,1095.3 1309.5,1095.3 1311.5,1095.4 1313.5,1095.5 1315.5,1095.6 1317.5,1095.6 1319.5,1095.7 1321.5,1095.8 1323.5,1095.8 1325.5,1095.9 1327.5,1096.0 1329.5,1096.1 1331.5,1096.1 1333.5,1096.2 1335.5,1096.3 1337.5,1096.4 1339.5,1096.4 1341.5,1096.5"/>
<polyline stroke="#8000e0" points="307.5,1099.6 309.5,1099.6 311.5,1099.6 313.5,1099.6 315.5,1099.6 317.5,1099.6 319.5,1099.6 321.5,1099.5 323.5,1099.5 325.5,1099.5 327.5,1099.5 329.5,1099.4 331.5,1099.4 333.5,1099.4 335.5,1099.3 337.5,1099.2 339.5,1099.0 341.5,1098.7 343.5,1098.4 345.5,1098.0 347.5,1097.6 349.5,1097.2 351.5,1096.3 353.5,1095.2 355.5,1094.1 357.5,1093.1 359.5,1092.1 361.5,1091.1 363.5,1090.1 365.5,1089.1 367.5,1087.9 369.5,1086.7 371.5,1085.4 373.5,1084.2 375.5,1082.4 377.5,1080.5 379.5,1078.6 381.5,1076.7 383.5,1074.8 385.5,1072.9 387.5,1071.0 389.5,1069.1 391.5,1066.2 393.5,1063.0 395.5,1059.9 397.5,1056.7 399.5,1052.2 401.5,1047.5 403.5,1042.8 405.5,1038.1 407.5,1033.5 409.5,1028.9 411.5,1024.3 413.5,1018.9 415.5,1013.5 417.5,1008.1 419.5,1002.7 421.5,997.0 423.5,991.2 425.5,985.4 427.5,979.6 429.5,973.8 431.5,966.0 433.5,958.2 435.5,950.4 437.5,942.5 439.5,934.8 441.5,927.4 443.5,920.0 445.5,912.6 447.5,905.2 449.5,896.3 451.5,886.5 453.5,876.7 455.5,866.8 457.5,857.3 459.5,848.4 461.5,839.4 463.5,831.4 465.5,823.5 467.5,816.0 469.5,809.2 471.5,802.3 473.5,796.0 475.5,789.7 477.5,783.4 479.5,777.2 481.5,771.0 483.5,764.2 485.5,757.4 487.5,751.1 489.5,745.8 491.5,740.5 493.5,736.2 495.5,732.0 497.5,728.1 499.5,725.0 501.5,721.8 503.5,718.7 505.5,715.5 507.5,712.7 509.5,710.8 511.5,708.8 513.5,706.8 515.5,705.7 517.5,704.6 519.5,703.5 521.5,701.9 523.5,700.7 525.5,699.6 527.5,698.4 529.5,697.3 531.5,696.7 533.5,696.3 535.5,695.9 537.5,695.6 539.5,696.0 541.5,696.6 543.5,697.1 545.5,697.7 547.5,698.2 549.5,698.8 551.5,699.4 553.5,700.0 555.5,700.6 557.5,701.2 559.5,701.1 561.5,701.0 563.5,700.8 565.5,700.7 567.5,700.6 569.5,700.4 571.5,700.2 573.5,700.0 575.5,699.1 577.5,698.2 579.5,697.2 581.5,696.7 583.5,696.3 585.5,695.2 587.5,694.1 589.5,693.1 591.5,692.0 593.5,690.9 595.5,689.9 597.5,689.1 599.5,688.2 601.5,687.3 603.5,686.5 605.5,685.6 607.5,685.1 609.5,684.9 611.5,684.6 613.5,684.3 615.5,684.1 617.5,684.0 619.5,683.9 621.5,683.9 623.5,683.8 625.5,683.8 627.5,683.7 629.5,683.7 631.5,684.0 633.5,684.6 635.5,685.2 637.5,685.9 639.5,686.9 641.5,688.2 643.5,689.6 645.5,690.9 647.5,692.4 649.5,694.0 651.5,695.7 653.5,697.3 655.5,699.1 657.5,701.4 659.5,703.6 661.5,705.8 663.5,708.2 665.5,711.0 667.5,713.8 669.5,716.6 671.5,719.6 673.5,722.7 675.5,725.9 677.5,729.1 679.5,732.6 681.5,736.6 683.5,740.7 685.5,744.7 687.5,748.7 689.5,752.5 691.5,756.3 693.5,760.1 695.5,764.0 697.5,768.7 699.5,773.4 701.5,778.1 703.5,782.8 705.5,786.1 707.5,789.3 709.5,792.4 711.5,795.6 713.5,798.7 715.5,801.9 717.5,805.0 719.5,808.1 721.5,811.3 723.5,814.4 725.5,817.4 727.5,820.3 729.5,823.2 731.5,826.0 733.5,828.9 735.5,831.7 737.5,834.9 739.5,838.0 741.5,841.2 743.5,844.3 745.5,847.5 747.5,850.0 749.5,852.3 751.5,854.5 753.5,856.7 755.5,858.9 757.5,861.1 759.5,863.3 761.5,865.6 763.5,867.8 765.5,870.0 767.5,872.2 769.5,874.2 771.5,876.1 773.5,878.1 775.5,880.1 777.5,882.0 779.5,884.0 781.5,886.0 783.5,887.9 785.5,889.6 787.5,890.9 789.5,892.3 791.5,893.6 793.5,894.9 795.5,896.3 797.5,897.6 799.5,899.0 801.5,900.6 803.5,902.2 805.5,903.7 807.5,905.3 809.5,906.9 811.5,908.5 813.5,910.0 815.5,912.3 817.5,915.0 819.5,917.6 821.5,920.3 823.5,922.9 825.5,925.6 827.5,928.2 829.5,930.8 831.5,933.4 833.5,936.0 835.5,938.6 837.5,941.3 839.5,943.9 841.5,945.9 843.5,947.7 845.5,949.5 847.5,951.3 849.5,953.1 851.5,954.9 853.5,956.7 855.5,958.5 857.5,960.4 859.5,962.3 861.5,964.1 863.5,966.0 865.5,967.9 867.5,969.8 869.5,971.7 871.5,973.6 873.5,975.5 875.5,977.4 877.5,979.3 879.5,981.2 881.5,982.9 883.5,984.4 885.5,986.0 887.5,987.6 889.5,989.2 891.5,990.7 893.5,992.3 895.5,993.9 897.5,995.5 899.5,997.1 901.5,998.6 903.5,1000.2 905.5,1001.8 907.5,1003.2 909.5,1004.6 911.5,1006.0 913.5,1007.4 915.5,1008.9 917.5,1010.3 919.5,1011.7 921.5,1013.1 923.5,1014.5 925.5,1016.0 927.5,1017.4 929.5,1018.8 931.5,1020.0 933.5,1021.1 935.5,1022.2 937.5,1023.3 939.5,1024.4 941.5,1025.6 943.5,1026.7 945.5,1027.8 947.5,1028.9 949.5,1030.0 951.5,1031.1 953.5,1032.2 955.5,1033.3 957.5,1034.2 959.5,1035.2 961.5,1036.1 963.5,1037.1 965.5,1038.0 967.5,1039.0 969.5,1039.9 971.5,1040.9 973.5,1041.8 975.5,1042.7 977.5,1043.7 979.5,1044.6 981.5,1045.5 983.5,1046.3 985.5,1047.1 987.5,1047.9 989.5,1048.6 991.5,1049.4 993.5,1050.2 995.5,1051.0 997.5,1051.8 999.5,1052.6 1001.5,1053.4 1003.5,1054.2 1005.5,1054.9 1007.5,1055.6 1009.5,1056.2 1011.5,1056.8 1013.5,1057.5 1015.5,1058.1 1017.5,1058.7 1019.5,1059.3 1021.5,1060.0 1023.5,1060.6 1025.5,1061.2 1027.5,1061.9 1029.5,1062.5 1031.5,1063.0 1033.5,1063.3 1035.5,1063.7 1037.5,1064.0 1039.5,1064.4 1041.5,1064.7 1043.5,1065.1 1045.5,1065.4 1047.5,1065.8 1049.5,1066.1 1051.5,1066.5 1053.5,1066.9 1055.5,1067.2 1057.5,1067.6 1059.5,1068.0 1061.5,1068.4 1063.5,1068.8 1065.5,1069.2 1067.5,1069.6 1069.5,1070.0 1071.5,1070.4 1073.5,1070.8 1075.5,1071.2 1077.5,1071.6 1079.5,1072.0 1081.5,1072.4 1083.5,1072.9 1085.5,1073.3 1087.5,1073.7 1089.5,1074.1 1091.5,1074.5 1093.5,1075.0 1095.5,1075.4 1097.5,1075.8 1099.5,1076.2 1101.5,1076.6 1103.5,1077.1 1105.5,1077.5 1107.5,1077.9 1109.5,1078.3 1111.5,1078.7 1113.5,1079.0 1115.5,1079.3 1117.5,1079.5 1119.5,1079.8 1121.5,1080.1 1123.5,1080.4 1125.5,1080.6 1127.5,1080.9 1129.5,1081.2 1131.5,1081.5 1133.5,1081.8 1135.5,1082.0 1137.5,1082.3 1139.5,1082.6 1141.5,1082.9 1143.5,1083.1 1145.5,1083.4 1147.5,1083.7 1149.5,1084.0 1151.5,1084.2 1153.5,1084.4 1155.5,1084.6 1157.5,1084.7 1159.5,1084.9 1161.5,1085.0 1163.5,1085.2 1165.5,1085.3 1167.5,1085.5 1169.5,1085.7 1171.5,1085.8 1173.5,1086.0 1175.5,1086.1 1177.5,1086.3 1179.5,1086.5 1181.5,1086.6 1183.5,1086.8 1185.5,1086.9 1187.5,1087.1 1189.5,1087.3 1191.5,1087.4 1193.5,1087.5 1195.5,1087.7 1197.5,1087.8 1199.5,1087.9 1201.5,1088.0 1203.5,1088.1 1205.5,1088.2 1207.5,1088.4 1209.5,1088.5 1211.5,1088.6 1213.5,1088.7 1215.5,1088.8 1217.5,1089.0 1219.5,1089.1 1221.5,1089.2 1223.5,1089.3 1225.5,1089.4 1227.5,1089.5 1229.5,1089.7 1231.5,1089.8 1233.5,1089.9 1235.5,1090.0 1237.5,1090.1 1239.5,1090.2 1241.5,1090.4 1243.5,1090.5 1245.5,1090.6 1247.5,1090.7 1249.5,1090.9 1251.5,1091.0 1253.5,1091.1 1255.5,1091.2 1257.5,1091.3 1259.5,1091.5 1261.5,1091.6 1263.5,1091.7 1265.5,1091.8 1267.5,1091.9 1269.5,1092.1 1271.5,1092.2 1273.5,1092.3 1275.5,1092.5 1277.5,1092.6 1279.5,1092.8 1281.5,1092.9 1283.5,1093.1 1285.5,1093.2 1287.5,1093.4 1289.5,1093.6 1291.5,1093.7 1293.5,1093.9 1295.5,1094.0 1297.5,1094.2 1299.5,1094.3 1301.5,1094.5 1303.5,1094.6 1305.5,1094.7 1307.5,1094.8 1309.5,1094.9 1311.5,1095.0 1313.5,1095.0 1315.5,1095.1 1317.5,1095.2 1319.5,1095.3 1321.5,1095.4 1323.5,1095.5 1325.5,1095.5 1327.5,1095.6 1329.5,1095.7 1331.5,1095.8 1333.5,1095.9 1335.5,1096.0 1337.5,1096.0 1339.5,1096.1 1341.5,1096.2"/>
<polyline stroke="#f08000" points="307.5,1099.6 309.5,1099.6 311.5,1099.6 313.5,1099.6 315.5,1099.6 317.5,1099.6 319.5,1099.6 321.5,1099.5 323.5,1099.5 325.5,1099.5 327.5,1099.5 329.5,1099.4 331.5,1099.4 333.5,1099.4 335.5,1099.3 337.5,1099.2 339.5,1098.9 341.5,1098.7 343.5,1098.4 345.5,1097.9 347.5,1097.5 349.5,1097.1 351.5,1096.2 353.5,1095.1 355.5,1094.0 357.5,1092.9 359.5,1091.9 361.5,1090.8 363.5,1089.8 365.5,1088.8 367.5,1087.6 369.5,1086.3 371.5,1085.0 373.5,1083.7 375.5,1081.9 377.5,1079.9 379.5,1078.0 381.5,1076.0 383.5,1074.1 385.5,1072.1 387.5,1070.2 389.5,1068.2 391.5,1065.2 393.5,1061.9 395.5,1058.7 397.5,1055.4 399.5,1050.8 401.5,1046.0 403.5,1041.1 405.5,1036.3 407.5,1031.5 409.5,1026.9 411.5,1022.0 413.5,1016.5 415.5,1010.9 417.5,1005.4 419.5,999.8 421.5,994.0 423.5,988.0 425.5,982.0 427.5,976.1 429.5,970.1 431.5,962.1 433.5,954.0 435.5,946.0 437.5,937.9 439.5,929.9 441.5,922.3 443.5,914.7 445.5,907.1 447.5,899.5 449.5,890.4 451.5,880.2 453.5,870.1 455.5,860.0 457.5,850.2 459.5,841.0 461.5,831.7 463.5,823.5 465.5,815.4 467.5,807.7 469.5,800.7 471.5,793.6 473.5,787.1 475.5,780.6 477.5,774.1 479.5,767.7 481.5,761.3 483.5,754.3 485.5,747.3 487.5,740.8 489.5,735.4 491.5,730.0 493.5,725.5 495.5,721.2 497.5,717.2 499.5,714.0 501.5,710.7 503.5,707.4 505.5,704.2 507.5,701.3 509.5,699.3 511.5,697.3 513.5,694.6 515.5,692.7 517.5,690.8 519.5,688.9 521.5,687.0 523.5,685.6 525.5,684.3 527.5,683.1 529.5,681.8 531.5,682.0 533.5,682.6 535.5,683.2 537.5,683.8 539.5,684.3 541.5,684.7 543.5,685.1 545.5,685.5 547.5,685.9 549.5,686.4 551.5,686.8 553.5,687.3 555.5,687.8 557.5,688.2 559.5,688.1 561.5,688.0 563.5,687.9 565.5,687.8 567.5,687.6 569.5,687.4 571.5,687.3 573.5,687.1 575.5,686.2 577.5,685.2 579.5,684.2 581.5,683.8 583.5,683.5 585.5,682.5 587.5,681.5 589.5,680.5 591.5,679.6 593.5,678.6 595.5,677.7 597.5,676.9 599.5,676.2 601.5,675.3 603.5,674.3 605.5,673.3 607.5,672.8 609.5,672.5 611.5,672.1 613.5,671.8 615.5,671.4 617.5,671.5 619.5,671.7 621.5,671.9 623.5,671.9 625.5,671.7 627.5,671.5 629.5,671.4 631.5,671.5 633.5,672.0 635.5,672.5 637.5,672.9 639.5,673.7 641.5,675.1 643.5,676.6 645.5,678.1 647.5,679.7 649.5,681.5 651.5,683.3 653.5,685.1 655.5,687.1 657.5,689.6 659.5,691.9 661.5,694.2 663.5,696.7 665.5,699.6 667.5,702.5 669.5,705.4 671.5,708.4 673.5,711.7 675.5,715.0 677.5,718.2 679.5,721.8 681.5,725.9 683.5,730.1 685.5,734.3 687.5,738.4 689.5,742.3 691.5,746.2 693.5,750.2 695.5,754.2 697.5,759.0 699.5,763.8 701.5,768.7 703.5,773.5 705.5,776.9 707.5,780.1 709.5,783.4 711.5,786.6 713.5,789.9 715.5,793.1 717.5,796.3 719.5,799.6 721.5,802.8 723.5,806.0 725.5,809.1 727.5,812.1 729.5,815.0 731.5,818.0 733.5,820.9 735.5,823.9 737.5,827.1 739.5,830.3 741.5,833.6 743.5,836.8 745.5,840.1 747.5,842.7 749.5,845.0 751.5,847.3 753.5,849.5 755.5,851.8 757.5,854.1 759.5,856.4 761.5,858.7 763.5,861.0 765.5,863.2 767.5,865.5 769.5,867.5 771.5,869.6 773.5,871.6 775.5,873.6 777.5,875.6 779.5,877.7 781.5,879.7 783.5,881.7 785.5,883.4 787.5,884.8 789.5,886.2 791.5,887.5 793.5,888.9 795.5,890.3 797.5,891.7 799.5,893.1 801.5,894.7 803.5,896.4 805.5,898.0 807.5,899.6 809.5,901.2 811.5,902.8 813.5,904.5 815.5,906.8 817.5,909.5 819.5,912.3 821.5,915.0 823.5,917.7 825.5,920.4 827.5,923.1 829.5,925.8 831.5,928.5 833.5,931.2 835.5,933.9 837.5,936.6 839.5,939.3 841.5,941.3 843.5,943.2 845.5,945.0 847.5,946.9 849.5,948.7 851.5,950.6 853.5,952.4 855.5,954.3 857.5,956.3 859.5,958.2 861.5,960.2 863.5,962.1 865.5,964.1 867.5,966.0 869.5,967.9 871.5,969.9 873.5,971.8 875.5,973.8 877.5,975.7 879.5,977.7 881.5,979.4 883.5,981.0 885.5,982.7 887.5,984.3 889.5,985.9 891.5,987.5 893.5,989.2 895.5,990.8 897.5,992.4 899.5,994.0 901.5,995.7 903.5,997.3 905.5,998.9 907.5,1000.4 909.5,1001.8 911.5,1003.3 913.5,1004.7 915.5,1006.2 917.5,1007.7 919.5,1009.1 921.5,1010.6 923.5,1012.0 925.5,1013.5 927.5,1015.0 929.5,1016.4 931.5,1017.7 933.5,1018.8 935.5,1020.0 937.5,1021.1 939.5,1022.2 941.5,1023.4 943.5,1024.5 945.5,1025.7 947.5,1026.8 949.5,1027.9 951.5,1029.1 953.5,1030.2 955.5,1031.3 957.5,1032.3 959.5,1033.3 961.5,1034.3 963.5,1035.2 965.5,1036.2 967.5,1037.2 969.5,1038.2 971.5,1039.1 973.5,1040.1 975.5,1041.1 977.5,1042.1 979.5,1043.0 981.5,1043.9 983.5,1044.7 985.5,1045.5 987.5,1046.3 989.5,1047.1 991.5,1048.0 993.5,1048.8 995.5,1049.6 997.5,1050.4 999.5,1051.2 1001.5,1052.0 1003.5,1052.8 1005.5,1053.6 1007.5,1054.3 1009.5,1054.9 1011.5,1055.6 1013.5,1056.2 1015.5,1056.9 1017.5,1057.5 1019.5,1058.2 1021.5,1058.8 1023.5,1059.5 1025.5,1060.1 1027.5,1060.7 1029.5,1061.4 1031.5,1061.9 1033.5,1062.2 1035.5,1062.6 1037.5,1063.0 1039.5,1063.3 1041.5,1063.7 1043.5,1064.1 1045.5,1064.4 1047.5,1064.8 1049.5,1065.2 1051.5,1065.5 1053.5,1065.9 1055.5,1066.3 1057.5,1066.7 1059.5,1067.1 1061.5,1067.5 1063.5,1067.9 1065.5,1068.3 1067.5,1068.7 1069.5,1069.2 1071.5,1069.6 1073.5,1070.0 1075.5,1070.4 1077.5,1070.8 1079.5,1071.2 1081.5,1071.6 1083.5,1072.1 1085.5,1072.5 1087.5,1072.9 1089.5,1073.4 1091.5,1073.8 1093.5,1074.2 1095.5,1074.7 1097.5,1075.1 1099.5,1075.5 1101.5,1076.0 1103.5,1076.4 1105.5,1076.8 1107.5,1077.3 1109.5,1077.7 1111.5,1078.1 1113.5,1078.4 1115.5,1078.7 1117.5,1078.9 1119.5,1079.2 1121.5,1079.5 1123.5,1079.8 1125.5,1080.1 1127.5,1080.4 1129.5,1080.7 1131.5,1080.9 1133.5,1081.2 1135.5,1081.5 1137.5,1081.8 1139.5,1082.1 1141.5,1082.4 1143.5,1082.6 1145.5,1082.9 1147.5,1083.2 1149.5,1083.5 1151.5,1083.8 1153.5,1083.9 1155.5,1084.1 1157.5,1084.3 1159.5,1084.4 1161.5,1084.6 1163.5,1084.8 1165.5,1084.9 1167.5,1085.1 1169.5,1085.3 1171.5,1085.4 1173.5,1085.6 1175.5,1085.7 1177.5,1085.9 1179.5,1086.1 1181.5,1086.2 1183.5,1086.4 1185.5,1086.6 1187.5,1086.7 1189.5,1086.9 1191.5,1087.1 1193.5,1087.2 1195.5,1087.3 1197.5,1087.4 1199.5,1087.6 1201.5,1087.7 1203.5,1087.8 1205.5,1087.9 1207.5,1088.0 1209.5,1088.2 1211.5,1088.3 1213.5,1088.4 1215.5,1088.5 1217.5,1088.6 1219.5,1088.8 1221.5,1088.9 1223.5,1089.0 1225.5,1089.1 1227.5,1089.2 1229.5,1089.4 1231.5,1089.5 1233.5,1089.6 1235.5,1089.7 1237.5,1089.8 1239.5,1090.0 1241.5,1090.1 1243.5,1090.2 1245.5,1090.3 1247.5,1090.5 1249.5,1090.6 1251.5,1090.7 1253.5,1090.8 1255.5,1091.0 1257.5,1091.1 1259.5,1091.2 1261.5,1091.3 1263.5,1091.5 1265.5,1091.6 1267.5,1091.7 1269.5,1091.8 1271.5,1092.0 1273.5,1092.1 1275.5,1092.3 1277.5,1092.4 1279.5,1092.6 1281.5,1092.7 1283.5,1092.9 1285.5,1093.1 1287.5,1093.2 1289.5,1093.4 1291.5,1093.5 1293.5,1093.7 1295.5,1093.9 1297.5,1094.0 1299.5,1094.2 1301.5,1094.3 1303.5,1094.5 1305.5,1094.6 1307.5,1094.7 1309.5,1094.7 1311.5,1094.8 1313.5,1094.9 1315.5,1095.0 1317.5,1095.1 1319.5,1095.2 1321.5,1095.3 1323.5,1095.3 1325.5,1095.4 1327.5,1095.5 1329.5,1095.6 1331.5,1095.7 1333.5,1095.8 1335.5,1095.8 1337.5,1095.9 1339.5,1096.0 1341.5,1096.1"/>
<polyline stroke="#0000c0" points="307.5,1099.6 309.5,1099.6 311.5,1099.6 313.5,1099.6 315.5,1099.6 317.5,1099.6 319.5,1099.5 321.5,1099.5 323.5,1099.5 325.5,1099.5 327.5,1099.5 329.5,1099.4 331.5,1099.4 333.5,1099.3 335.5,1099.3 337.5,1099.2 339.5,1098.9 341.5,1098.6 343.5,1098.3 345.5,1097.9 347.5,1097.4 349.5,1097.0 351.5,1096.0 353.5,1094.8 355.5,1093.6 357.5,1092.5 359.5,1091.4 361.5,1090.3 363.5,1089.3 365.5,1088.2 367.5,1086.9 369.5,1085.5 371.5,1084.1 373.5,1082.8 375.5,1080.9 377.5,1078.8 379.5,1076.7 381.5,1074.7 383.5,1072.6 385.5,1070.5 387.5,1068.5 389.5,1066.4 391.5,1063.2 393.5,1059.7 395.5,1056.3 397.5,1052.9 399.5,1048.0 401.5,1042.8 403.5,1037.7 405.5,1032.6 407.5,1027.6 409.5,1022.6 411.5,1017.5 413.5,1011.6 415.5,1005.8 417.5,999.9 419.5,994.0 421.5,987.9 423.5,981.5 425.5,975.2 427.5,968.9 429.5,962.5 431.5,954.1 433.5,945.5 435.5,937.0 437.5,928.5 439.5,920.1 441.5,912.0 443.5,903.9 445.5,895.9 447.5,887.8 449.5,878.2 451.5,867.4 453.5,856.7 455.5,846.0 457.5,835.7 459.5,825.9 461.5,816.1 463.5,807.4 465.5,798.8 467.5,790.7 469.5,783.2 471.5,775.8 473.5,768.8 475.5,762.0 477.5,755.1 479.5,748.4 481.5,741.6 483.5,734.2 485.5,726.8 487.5,719.9 489.5,714.2 491.5,708.4 493.5,703.7 495.5,699.1 497.5,694.9 499.5,691.5 501.5,688.1 503.5,684.6 505.5,681.1 507.5,678.4 509.5,676.7 511.5,675.0 513.5,673.3 515.5,672.5 517.5,671.8 519.5,671.0 521.5,670.2 523.5,670.0 525.5,669.7 527.5,669.4 529.5,669.0 531.5,669.2 533.5,669.7 535.5,670.2 537.5,670.7 539.5,671.0 541.5,671.3 543.5,671.6 545.5,671.8 547.5,672.1 549.5,672.4 551.5,672.7 553.5,673.0 555.5,673.4 557.5,673.5 559.5,673.3 561.5,673.0 563.5,672.7 565.5,672.5 567.5,672.1 569.5,671.8 571.5,671.5 573.5,671.2 575.5,670.0 577.5,668.9 579.5,667.7 581.5,666.5 583.5,665.3 585.5,663.4 587.5,662.1 589.5,660.9 591.5,659.6 593.5,658.3 595.5,657.1 597.5,656.1 599.5,655.0 601.5,653.6 603.5,652.2 605.5,650.7 607.5,649.8 609.5,649.1 611.5,648.3 613.5,647.5 615.5,647.0 617.5,646.9 619.5,646.8 621.5,646.8 623.5,646.8 625.5,646.8 627.5,646.8 629.5,646.8 631.5,647.1 633.5,647.8 635.5,648.5 637.5,649.3 639.5,650.3 641.5,651.7 643.5,653.1 645.5,654.6 647.5,656.1 649.5,657.9 651.5,659.6 653.5,661.3 655.5,663.3 657.5,665.8 659.5,668.2 661.5,670.6 663.5,673.2 665.5,676.3 667.5,679.4 669.5,682.4 671.5,685.6 673.5,689.1 675.5,692.5 677.5,696.0 679.5,699.7 681.5,704.2 683.5,708.6 685.5,713.0 687.5,717.4 689.5,721.5 691.5,725.7 693.5,729.8 695.5,734.0 697.5,739.2 699.5,744.3 701.5,749.4 703.5,754.5 705.5,758.1 707.5,761.5 709.5,765.0 711.5,768.4 713.5,771.9 715.5,775.3 717.5,778.7 719.5,782.1 721.5,785.5 723.5,788.9 725.5,792.2 727.5,795.3 729.5,798.5 731.5,801.6 733.5,804.7 735.5,807.8 737.5,811.2 739.5,814.6 741.5,818.1 743.5,821.5 745.5,825.0 747.5,827.7 749.5,830.2 751.5,832.6 753.5,835.0 755.5,837.4 757.5,839.8 759.5,842.2 761.5,844.6 763.5,847.1 765.5,849.5 767.5,851.9 769.5,854.0 771.5,856.2 773.5,858.3 775.5,860.5 777.5,862.6 779.5,864.7 781.5,866.9 783.5,869.0 785.5,870.8 787.5,872.3 789.5,873.7 791.5,875.2 793.5,876.7 795.5,878.1 797.5,879.6 799.5,881.1 801.5,882.8 803.5,884.5 805.5,886.2 807.5,888.0 809.5,889.7 811.5,891.4 813.5,893.1 815.5,895.6 817.5,898.5 819.5,901.3 821.5,904.2 823.5,907.1 825.5,910.0 827.5,912.9 829.5,915.7 831.5,918.6 833.5,921.4 835.5,924.3 837.5,927.1 839.5,929.9 841.5,932.1 843.5,934.1 845.5,936.0 847.5,938.0 849.5,940.0 851.5,941.9 853.5,943.9 855.5,945.9 857.5,947.9 859.5,950.0 861.5,952.0 863.5,954.1 865.5,956.2 867.5,958.2 869.5,960.3 871.5,962.3 873.5,964.4 875.5,966.5 877.5,968.5 879.5,970.6 881.5,972.4 883.5,974.1 885.5,975.9 887.5,977.6 889.5,979.3 891.5,981.0 893.5,982.7 895.5,984.5 897.5,986.2 899.5,987.9 901.5,989.6 903.5,991.3 905.5,993.0 907.5,994.6 909.5,996.1 911.5,997.7 913.5,999.2 915.5,1000.8 917.5,1002.3 919.5,1003.8 921.5,1005.4 923.5,1006.9 925.5,1008.5 927.5,1010.0 929.5,1011.6 931.5,1012.9 933.5,1014.1 935.5,1015.3 937.5,1016.5 939.5,1017.7 941.5,1018.9 943.5,1020.1 945.5,1021.3 947.5,1022.5 949.5,1023.8 951.5,1025.0 953.5,1026.2 955.5,1027.4 957.5,1028.4 959.5,1029.4 961.5,1030.4 963.5,1031.5 965.5,1032.5 967.5,1033.5 969.5,1034.6 971.5,1035.6 973.5,1036.6 975.5,1037.7 977.5,1038.7 979.5,1039.7 981.5,1040.7 983.5,1041.5 985.5,1042.4 987.5,1043.2 989.5,1044.1 991.5,1045.0 993.5,1045.8 995.5,1046.7 997.5,1047.5 999.5,1048.4 1001.5,1049.2 1003.5,1050.1 1005.5,1050.9 1007.5,1051.6 1009.5,1052.3 1011.5,1053.0 1013.5,1053.7 1015.5,1054.4 1017.5,1055.1 1019.5,1055.7 1021.5,1056.4 1023.5,1057.1 1025.5,1057.8 1027.5,1058.5 1029.5,1059.2 1031.5,1059.7 1033.5,1060.1 1035.5,1060.5 1037.5,1060.8 1039.5,1061.2 1041.5,1061.6 1043.5,1062.0 1045.5,1062.4 1047.5,1062.8 1049.5,1063.2 1051.5,1063.5 1053.5,1063.9 1055.5,1064.3 1057.5,1064.7 1059.5,1065.2 1061.5,1065.6 1063.5,1066.1 1065.5,1066.5 1067.5,1066.9 1069.5,1067.4 1071.5,1067.8 1073.5,1068.3 1075.5,1068.7 1077.5,1069.1 1079.5,1069.6 1081.5,1070.0 1083.5,1070.5 1085.5,1070.9 1087.5,1071.4 1089.5,1071.8 1091.5,1072.3 1093.5,1072.8 1095.5,1073.2 1097.5,1073.7 1099.5,1074.1 1101.5,1074.6 1103.5,1075.1 1105.5,1075.5 1107.5,1076.0 1109.5,1076.4 1111.5,1076.8 1113.5,1077.1 1115.5,1077.4 1117.5,1077.7 1119.5,1078.0 1121.5,1078.3 1123.5,1078.6 1125.5,1078.9 1127.5,1079.2 1129.5,1079.5 1131.5,1079.9 1133.5,1080.2 1135.5,1080.5 1137.5,1080.8 1139.5,1081.1 1141.5,1081.4 1143.5,1081.7 1145.5,1082.0 1147.5,1082.3 1149.5,1082.6 1151.5,1082.9 1153.5,1083.0 1155.5,1083.2 1157.5,1083.4 1159.5,1083.6 1161.5,1083.7 1163.5,1083.9 1165.5,1084.1 1167.5,1084.2 1169.5,1084.4 1171.5,1084.6 1173.5,1084.8 1175.5,1084.9 1177.5,1085.1 1179.5,1085.3 1181.5,1085.5 1183.5,1085.6 1185.5,1085.8 1187.5,1086.0 1189.5,1086.2 1191.5,1086.3 1193.5,1086.5 1195.5,1086.6 1197.5,1086.7 1199.5,1086.8 1201.5,1087.0 1203.5,1087.1 1205.5,1087.2 1207.5,1087.4 1209.5,1087.5 1211.5,1087.6 1213.5,1087.7 1215.5,1087.9 1217.5,1088.0 1219.5,1088.1 1221.5,1088.2 1223.5,1088.4 1225.5,1088.5 1227.5,1088.6 1229.5,1088.8 1231.5,1088.9 1233.5,1089.0 1235.5,1089.1 1237.5,1089.3 1239.5,1089.4 1241.5,1089.5 1243.5,1089.7 1245.5,1089.8 1247.5,1089.9 1249.5,1090.1 1251.5,1090.2 1253.5,1090.3 1255.5,1090.5 1257.5,1090.6 1259.5,1090.7 1261.5,1090.9 1263.5,1091.0 1265.5,1091.1 1267.5,1091.3 1269.5,1091.4 1271.5,1091.5 1273.5,1091.7 1275.5,1091.8 1277.5,1092.0 1279.5,1092.2 1281.5,1092.3 1283.5,1092.5 1285.5,1092.7 1287.5,1092.8 1289.5,1093.0 1291.5,1093.2 1293.5,1093.3 1295.5,1093.5 1297.5,1093.7 1299.5,1093.9 1301.5,1094.0 1303.5,1094.2 1305.5,1094.3 1307.5,1094.4 1309.5,1094.5 1311.5,1094.5 1313.5,1094.6 1315.5,1094.7 1317.5,1094.8 1319.5,1094.9 1321.5,1095.0 1323.5,1095.1 1325.5,1095.2 1327.5,1095.3 1329.5,1095.4 1331.5,1095.4 1333.5,1095.5 1335.5,1095.6 1337.5,1095.7 1339.5,1095.8 1341.5,1095.9"/>
<polyline stroke="#800080" points="307.5,1099.6 309.5,1099.6 311.5,1099.6 313.5,1099.6 315.5,1099.6 317.5,1099.6 319.5,1099.5 321.5,1099.5 323.5,1099.5 325.5,1099.5 327.5,1099.5 329.5,1099.4 331.5,1099.4 333.5,1099.3 335.5,1099.3 337.5,1099.2 339.5,1098.9 341.5,1098.6 343.5,1098.3 345.5,1097.8 347.5,1097.3 349.5,1096.9 351.5,1095.9 353.5,1094.7 355.5,1093.5 357.5,1092.3 359.5,1091.2 361.5,1090.1 363.5,1088.9 365.5,1087.8 367.5,1086.5 369.5,1085.1 371.5,1083.7 373.5,1082.3 375.5,1080.3 377.5,1078.2 379.5,1076.0 381.5,1073.9 383.5,1071.8 385.5,1069.7 387.5,1067.5 389.5,1065.4 391.5,1062.1 393.5,1058.5 395.5,1055.0 397.5,1051.4 399.5,1046.4 401.5,1041.1 403.5,1035.8 405.5,1030.6 407.5,1025.4 409.5,1020.3 411.5,1015.0 413.5,1009.0 415.5,1002.9 417.5,996.9 419.5,990.8 421.5,984.5 423.5,978.0 425.5,971.4 427.5,964.9 429.5,958.4 431.5,949.7 433.5,940.9 435.5,932.1 437.5,923.3 439.5,914.6 441.5,906.3 443.5,898.0 445.5,889.7 447.5,881.4 449.5,871.5 451.5,860.5 453.5,849.4 455.5,838.4 457.5,827.7 459.5,817.7 461.5,807.6 463.5,798.6 465.5,789.8 467.5,781.4 469.5,773.7 471.5,766.0 473.5,758.9 475.5,751.8 477.5,744.8 479.5,737.8 481.5,730.8 483.5,723.2 485.5,715.5 487.5,708.5 489.5,702.6 491.5,696.7 493.5,691.8 495.5,687.1 497.5,682.8 499.5,679.2 501.5,675.7 503.5,672.1 505.5,668.5 507.5,665.4 509.5,663.2 511.5,661.0 513.5,658.9 515.5,657.6 517.5,656.4 519.5,655.1 521.5,653.9 523.5,653.3 525.5,652.5 527.5,651.3 529.5,650.2 531.5,649.6 533.5,649.3 535.5,649.0 537.5,648.7 539.5,648.3 541.5,647.8 543.5,647.6 545.5,647.7 547.5,647.8 549.5,648.1 551.5,648.3 553.5,648.5 555.5,648.7 557.5,648.9 559.5,649.1 561.5,649.3 563.5,649.6 565.5,649.8 567.5,650.0 569.5,650.2 571.5,650.4 573.5,650.7 575.5,650.1 577.5,649.6 579.5,649.0 581.5,648.4 583.5,647.8 585.5,646.4 587.5,645.1 589.5,643.8 591.5,642.5 593.5,641.2 595.5,640.0 597.5,639.0 599.5,637.9 601.5,636.8 603.5,635.6 605.5,634.4 607.5,633.8 609.5,633.3 611.5,632.8 613.5,632.3 615.5,631.9 617.5,632.0 619.5,632.2 621.5,632.4 623.5,632.6 625.5,632.8 627.5,633.0 629.5,633.1 631.5,633.7 633.5,634.5 635.5,635.2 637.5,635.9 639.5,637.0 641.5,638.4 643.5,639.8 645.5,641.2 647.5,642.8 649.5,644.6 651.5,646.4 653.5,648.1 655.5,650.2 657.5,652.7 659.5,655.2 661.5,657.7 663.5,660.4 665.5,663.6 667.5,666.7 669.5,669.9 671.5,673.1 673.5,676.7 675.5,680.3 677.5,683.9 679.5,687.7 681.5,692.3 683.5,696.8 685.5,701.4 687.5,705.9 689.5,710.1 691.5,714.4 693.5,718.7 695.5,723.0 697.5,728.3 699.5,733.6 701.5,738.8 703.5,744.1 705.5,747.8 707.5,751.4 709.5,754.9 711.5,758.4 713.5,762.0 715.5,765.5 717.5,769.0 719.5,772.5 721.5,776.0 723.5,779.5 725.5,783.0 727.5,786.2 729.5,789.4 731.5,792.6 733.5,795.8 735.5,799.0 737.5,802.5 739.5,806.1 741.5,809.6 743.5,813.1 745.5,816.7 747.5,819.5 749.5,822.0 751.5,824.5 753.5,827.0 755.5,829.5 757.5,832.0 759.5,834.5 761.5,837.0 763.5,839.5 765.5,841.9 767.5,844.4 769.5,846.6 771.5,848.8 773.5,851.0 775.5,853.3 777.5,855.5 779.5,857.7 781.5,859.9 783.5,862.1 785.5,863.9 787.5,865.4 789.5,866.9 791.5,868.4 793.5,869.9 795.5,871.5 797.5,873.0 799.5,874.5 801.5,876.3 803.5,878.0 805.5,879.8 807.5,881.6 809.5,883.3 811.5,885.1 813.5,886.9 815.5,889.4 817.5,892.4 819.5,895.4 821.5,898.3 823.5,901.3 825.5,904.3 827.5,907.2 829.5,910.2 831.5,913.1 833.5,916.0 835.5,919.0 837.5,921.9 839.5,924.8 841.5,927.1 843.5,929.1 845.5,931.1 847.5,933.1 849.5,935.2 851.5,937.2 853.5,939.2 855.5,941.2 857.5,943.3 859.5,945.5 861.5,947.6 863.5,949.7 865.5,951.8 867.5,954.0 869.5,956.1 871.5,958.2 873.5,960.3 875.5,962.5 877.5,964.6 879.5,966.7 881.5,968.6 883.5,970.4 885.5,972.1 887.5,973.9 889.5,975.7 891.5,977.4 893.5,979.2 895.5,981.0 897.5,982.8 899.5,984.5 901.5,986.3 903.5,988.1 905.5,989.8 907.5,991.4 909.5,993.0 911.5,994.6 913.5,996.2 915.5,997.8 917.5,999.4 919.5,1001.0 921.5,1002.6 923.5,1004.2 925.5,1005.7 927.5,1007.3 929.5,1008.9 931.5,1010.3 933.5,1011.5 935.5,1012.8 937.5,1014.0 939.5,1015.3 941.5,1016.5 943.5,1017.7 945.5,1019.0 947.5,1020.2 949.5,1021.5 951.5,1022.7 953.5,1024.0 955.5,1025.2 957.5,1026.2 959.5,1027.3 961.5,1028.4 963.5,1029.4 965.5,1030.5 967.5,1031.5 969.5,1032.6 971.5,1033.7 973.5,1034.7 975.5,1035.8 977.5,1036.9 979.5,1037.9 981.5,1038.9 983.5,1039.8 985.5,1040.6 987.5,1041.5 989.5,1042.4 991.5,1043.3 993.5,1044.2 995.5,1045.1 997.5,1046.0 999.5,1046.8 1001.5,1047.7 1003.5,1048.6 1005.5,1049.5 1007.5,1050.2 1009.5,1050.9 1011.5,1051.6 1013.5,1052.3 1015.5,1053.0 1017.5,1053.7 1019.5,1054.4 1021.5,1055.1 1023.5,1055.8 1025.5,1056.5 1027.5,1057.2 1029.5,1057.9 1031.5,1058.5 1033.5,1058.9 1035.5,1059.3 1037.5,1059.7 1039.5,1060.1 1041.5,1060.5 1043.5,1060.9 1045.5,1061.3 1047.5,1061.7 1049.5,1062.1 1051.5,1062.4 1053.5,1062.8 1055.5,1063.2 1057.5,1063.7 1059.5,1064.1 1061.5,1064.6 1063.5,1065.1 1065.5,1065.5 1067.5,1066.0 1069.5,1066.4 1071.5,1066.9 1073.5,1067.3 1075.5,1067.8 1077.5,1068.2 1079.5,1068.7 1081.5,1069.1 1083.5,1069.6 1085.5,1070.1 1087.5,1070.5 1089.5,1071.0 1091.5,1071.5 1093.5,1072.0 1095.5,1072.4 1097.5,1072.9 1099.5,1073.4 1101.5,1073.8 1103.5,1074.3 1105.5,1074.8 1107.5,1075.3 1109.5,1075.7 1111.5,1076.2 1113.5,1076.5 1115.5,1076.8 1117.5,1077.1 1119.5,1077.4 1121.5,1077.7 1123.5,1078.0 1125.5,1078.3 1127.5,1078.6 1129.5,1078.9 1131.5,1079.3 1133.5,1079.6 1135.5,1079.9 1137.5,1080.2 1139.5,1080.5 1141.5,1080.8 1143.5,1081.1 1145.5,1081.4 1147.5,1081.7 1149.5,1082.0 1151.5,1082.4 1153.5,1082.5 1155.5,1082.7 1157.5,1082.9 1159.5,1083.1 1161.5,1083.2 1163.5,1083.4 1165.5,1083.6 1167.5,1083.8 1169.5,1084.0 1171.5,1084.1 1173.5,1084.3 1175.5,1084.5 1177.5,1084.7 1179.5,1084.9 1181.5,1085.0 1183.5,1085.2 1185.5,1085.4 1187.5,1085.6 1189.5,1085.7 1191.5,1085.9 1193.5,1086.1 1195.5,1086.2 1197.5,1086.3 1199.5,1086.5 1201.5,1086.6 1203.5,1086.7 1205.5,1086.9 1207.5,1087.0 1209.5,1087.1 1211.5,1087.3 1213.5,1087.4 1215.5,1087.5 1217.5,1087.6 1219.5,1087.8 1221.5,1087.9 1223.5,1088.0 1225.5,1088.2 1227.5,1088.3 1229.5,1088.4 1231.5,1088.6 1233.5,1088.7 1235.5,1088.8 1237.5,1089.0 1239.5,1089.1 1241.5,1089.2 1243.5,1089.4 1245.5,1089.5 1247.5,1089.6 1249.5,1089.8 1251.5,1089.9 1253.5,1090.1 1255.5,1090.2 1257.5,1090.3 1259.5,1090.5 1261.5,1090.6 1263.5,1090.7 1265.5,1090.9 1267.5,1091.0 1269.5,1091.1 1271.5,1091.3 1273.5,1091.4 1275.5,1091.6 1277.5,1091.8 1279.5,1091.9 1281.5,1092.1 1283.5,1092.3 1285.5,1092.5 1287.5,1092.6 1289.5,1092.8 1291.5,1093.0 1293.5,1093.2 1295.5,1093.3 1297.5,1093.5 1299.5,1093.7 1301.5,1093.9 1303.5,1094.0 1305.5,1094.1 1307.5,1094.2 1309.5,1094.3 1311.5,1094.4 1313.5,1094.5 1315.5,1094.6 1317.5,1094.7 1319.5,1094.8 1321.5,1094.9 1323.5,1094.9 1325.5,1095.0 1327.5,1095.1 1329.5,1095.2 1331.5,1095.3 1333.5,1095.4 1335.5,1095.5 1337.5,1095.6 1339.5,1095.7 1341.5,1095.8"/>
<polyline stroke="#008000" points="307.5,1099.6 309.5,1099.6 311.5,1099.6 313.5,1099.6 315.5,1099.6 317.5,1099.6 319.5,1099.5 321.5,1099.5 323.5,1099.5 325.5,1099.5 327.5,1099.5 329.5,1099.4 331.5,1099.4 333.5,1099.3 335.5,1099.3 337.5,1099.2 339.5,1098.9 341.5,1098.6 343.5,1098.2 345.5,1097.8 347.5,1097.3 349.5,1096.9 351.5,1095.8 353.5,1094.6 355.5,1093.4 357.5,1092.2 359.5,1091.1 361.5,1089.9 363.5,1088.8 365.5,1087.7 367.5,1086.4 369.5,1084.9 371.5,1083.5 373.5,1082.1 375.5,1080.1 377.5,1077.9 379.5,1075.8 381.5,1073.6 383.5,1071.5 385.5,1069.3 387.5,1067.2 389.5,1065.0 391.5,1061.7 393.5,1058.1 395.5,1054.5 397.5,1050.9 399.5,1045.8 401.5,1040.5 403.5,1035.1 405.5,1029.8 407.5,1024.6 409.5,1019.4 411.5,1014.1 413.5,1008.0 415.5,1001.9 417.5,995.8 419.5,989.6 421.5,983.2 423.5,976.6 425.5,970.0 427.5,963.4 429.5,956.8 431.5,948.0 433.5,939.1 435.5,930.3 437.5,921.4 439.5,912.6 441.5,904.2 443.5,895.8 445.5,887.4 447.5,879.0 449.5,869.0 451.5,857.8 453.5,846.6 455.5,835.5 457.5,824.7 459.5,814.5 461.5,804.4 463.5,795.3 465.5,786.3 467.5,777.9 469.5,770.1 471.5,762.3 473.5,755.1 475.5,747.9 477.5,740.8 479.5,733.8 481.5,726.7 483.5,719.1 485.5,711.3 487.5,704.1 489.5,698.2 491.5,692.2 493.5,687.2 495.5,682.5 497.5,678.1 499.5,674.6 501.5,671.0 503.5,667.4 505.5,663.7 507.5,660.6 509.5,658.4 511.5,656.2 513.5,654.0 515.5,652.7 517.5,651.5 519.5,650.2 521.5,649.4 523.5,649.2 525.5,649.1 527.5,649.1 529.5,649.0 531.5,649.6 533.5,650.4 535.5,651.2 537.5,652.1 539.5,652.2 541.5,652.2 543.5,652.1 545.5,652.1 547.5,652.0 549.5,652.0 551.5,652.0 553.5,652.0 555.5,652.0 557.5,652.0 559.5,652.1 561.5,652.1 563.5,652.2 565.5,652.2 567.5,652.2 569.5,652.3 571.5,652.3 573.5,652.3 575.5,651.5 577.5,650.7 579.5,649.8 581.5,648.9 583.5,647.8 585.5,645.9 587.5,644.1 589.5,642.3 591.5,640.3 593.5,638.4 595.5,636.6 597.5,634.9 599.5,633.2 601.5,632.2 603.5,631.2 605.5,630.1 607.5,629.6 609.5,629.3 611.5,629.0 613.5,628.6 615.5,628.1 617.5,628.1 619.5,628.2 621.5,628.3 623.5,628.4 625.5,628.5 627.5,628.6 629.5,628.8 631.5,629.5 633.5,630.5 635.5,631.4 637.5,632.4 639.5,633.2 641.5,634.5 643.5,635.8 645.5,637.0 647.5,638.5 649.5,640.1 651.5,641.7 653.5,643.3 655.5,645.2 657.5,647.7 659.5,650.3 661.5,652.8 663.5,655.5 665.5,658.7 667.5,661.9 669.5,665.1 671.5,668.4 673.5,672.0 675.5,675.6 677.5,679.3 679.5,683.1 681.5,687.7 683.5,692.3 685.5,697.0 687.5,701.5 689.5,705.8 691.5,710.1 693.5,714.4 695.5,718.9 697.5,724.2 699.5,729.5 701.5,734.8 703.5,740.2 705.5,743.9 707.5,747.5 709.5,751.1 711.5,754.7 713.5,758.2 715.5,761.8 717.5,765.3 719.5,768.9 721.5,772.4 723.5,776.0 725.5,779.5 727.5,782.7 729.5,785.9 731.5,789.2 733.5,792.4 735.5,795.7 737.5,799.2 739.5,802.8 741.5,806.4 743.5,810.0 745.5,813.6 747.5,816.4 749.5,819.0 751.5,821.5 753.5,824.0 755.5,826.5 757.5,829.0 759.5,831.5 761.5,834.1 763.5,836.6 765.5,839.1 767.5,841.6 769.5,843.8 771.5,846.1 773.5,848.3 775.5,850.5 777.5,852.8 779.5,855.0 781.5,857.2 783.5,859.4 785.5,861.3 787.5,862.8 789.5,864.3 791.5,865.9 793.5,867.4 795.5,868.9 797.5,870.4 799.5,872.0 801.5,873.8 803.5,875.6 805.5,877.4 807.5,879.2 809.5,880.9 811.5,882.7 813.5,884.5 815.5,887.1 817.5,890.1 819.5,893.1 821.5,896.1 823.5,899.1 825.5,902.1 827.5,905.1 829.5,908.1 831.5,911.0 833.5,914.0 835.5,917.0 837.5,919.9 839.5,922.9 841.5,925.2 843.5,927.2 845.5,929.2 847.5,931.3 849.5,933.3 851.5,935.4 853.5,937.4 855.5,939.5 857.5,941.6 859.5,943.8 861.5,945.9 863.5,948.1 865.5,950.2 867.5,952.3 869.5,954.5 871.5,956.6 873.5,958.8 875.5,960.9 877.5,963.1 879.5,965.2 881.5,967.1 883.5,968.9 885.5,970.7 887.5,972.5 889.5,974.3 891.5,976.1 893.5,977.9 895.5,979.7 897.5,981.5 899.5,983.3 901.5,985.0 903.5,986.8 905.5,988.6 907.5,990.2 909.5,991.8 911.5,993.4 913.5,995.0 915.5,996.6 917.5,998.3 919.5,999.9 921.5,1001.5 923.5,1003.1 925.5,1004.7 927.5,1006.3 929.5,1007.9 931.5,1009.3 933.5,1010.6 935.5,1011.8 937.5,1013.1 939.5,1014.3 941.5,1015.6 943.5,1016.8 945.5,1018.1 947.5,1019.3 949.5,1020.6 951.5,1021.9 953.5,1023.1 955.5,1024.3 957.5,1025.4 959.5,1026.5 961.5,1027.6 963.5,1028.6 965.5,1029.7 967.5,1030.8 969.5,1031.9 971.5,1032.9 973.5,1034.0 975.5,1035.1 977.5,1036.2 979.5,1037.2 981.5,1038.2 983.5,1039.1 985.5,1040.0 987.5,1040.9 989.5,1041.8 991.5,1042.7 993.5,1043.6 995.5,1044.5 997.5,1045.4 999.5,1046.3 1001.5,1047.2 1003.5,1048.1 1005.5,1048.9 1007.5,1049.6 1009.5,1050.4 1011.5,1051.1 1013.5,1051.8 1015.5,1052.5 1017.5,1053.2 1019.5,1053.9 1021.5,1054.6 1023.5,1055.3 1025.5,1056.1 1027.5,1056.8 1029.5,1057.5 1031.5,1058.0 1033.5,1058.4 1035.5,1058.8 1037.5,1059.2 1039.5,1059.6 1041.5,1060.0 1043.5,1060.4 1045.5,1060.8 1047.5,1061.2 1049.5,1061.6 1051.5,1062.0 1053.5,1062.4 1055.5,1062.8 1057.5,1063.3 1059.5,1063.8 1061.5,1064.2 1063.5,1064.7 1065.5,1065.1 1067.5,1065.6 1069.5,1066.0 1071.5,1066.5 1073.5,1066.9 1075.5,1067.4 1077.5,1067.9 1079.5,1068.3 1081.5,1068.8 1083.5,1069.3 1085.5,1069.7 1087.5,1070.2 1089.5,1070.7 1091.5,1071.2 1093.5,1071.6 1095.5,1072.1 1097.5,1072.6 1099.5,1073.1 1101.5,1073.6 1103.5,1074.0 1105.5,1074.5 1107.5,1075.0 1109.5,1075.5 1111.5,1075.9 1113.5,1076.2 1115.5,1076.5 1117.5,1076.8 1119.5,1077.1 1121.5,1077.5 1123.5,1077.8 1125.5,1078.1 1127.5,1078.4 1129.5,1078.7 1131.5,1079.0 1133.5,1079.3 1135.5,1079.7 1137.5,1080.0 1139.5,1080.3 1141.5,1080.6 1143.5,1080.9 1145.5,1081.2 1147.5,1081.5 1149.5,1081.9 1151.5,1082.2 1153.5,1082.3 1155.5,1082.5 1157.5,1082.7 1159.5,1082.9 1161.5,1083.1 1163.5,1083.2 1165.5,1083.4 1167.5,1083.6 1169.5,1083.8 1171.5,1084.0 1173.5,1084.1 1175.5,1084.3 1177.5,1084.5 1179.5,1084.7 1181.5,1084.9 1183.5,1085.1 1185.5,1085.2 1187.5,1085.4 1189.5,1085.6 1191.5,1085.8 1193.5,1085.9 1195.5,1086.1 1197.5,1086.2 1199.5,1086.3 1201.5,1086.5 1203.5,1086.6 1205.5,1086.7 1207.5,1086.8 1209.5,1087.0 1211.5,1087.1 1213.5,1087.2 1215.5,1087.4 1217.5,1087.5 1219.5,1087.6 1221.5,1087.8 1223.5,1087.9 1225.5,1088.0 1227.5,1088.2 1229.5,1088.3 1231.5,1088.4 1233.5,1088.6 1235.5,1088.7 1237.5,1088.8 1239.5,1089.0 1241.5,1089.1 1243.5,1089.3 1245.5,1089.4 1247.5,1089.5 1249.5,1089.7 1251.5,1089.8 1253.5,1089.9 1255.5,1090.1 1257.5,1090.2 1259.5,1090.4 1261.5,1090.5 1263.5,1090.6 1265.5,1090.8 1267.5,1090.9 1269.5,1091.0 1271.5,1091.2 1273.5,1091.3 1275.5,1091.5 1277.5,1091.7 1279.5,1091.9 1281.5,1092.0 1283.5,1092.2 1285.5,1092.4 1287.5,1092.6 1289.5,1092.7 1291.5,1092.9 1293.5,1093.1 1295.5,1093.3 1297.5,1093.4 1299.5,1093.6 1301.5,1093.8 1303.5,1094.0 1305.5,1094.1 1307.5,1094.2 1309.5,1094.2 1311.5,1094.3 1313.5,1094.4 1315.5,1094.5 1317.5,1094.6 1319.5,1094.7 1321.5,1094.8 1323.5,1094.9 1325.5,1095.0 1327.5,1095.1 1329.5,1095.2 1331.5,1095.3 1333.5,1095.4 1335.5,1095.5 1337.5,1095.5 1339.5,1095.6 1341.5,1095.7"/>
<polyline stroke="#008080" points="307.5,1099.6 309.5,1099.6 311.5,1099.6 313.5,1099.6 315.5,1099.6 317.5,1099.6 319.5,1099.5 321.5,1099.5 323.5,1099.5 325.5,1099.5 327.5,1099.5 329.5,1099.4 331.5,1099.4 333.5,1099.3 335.5,1099.3 337.5,1099.2 339.5,1098.9 341.5,1098.6 343.5,1098.2 345.5,1097.8 347.5,1097.3 349.5,1096.8 351.5,1095.8 353.5,1094.6 355.5,1093.3 357.5,1092.1 359.5,1091.0 361.5,1089.8 363.5,1088.7 365.5,1087.6 367.5,1086.2 369.5,1084.8 371.5,1083.3 373.5,1081.9 375.5,1079.9 377.5,1077.7 379.5,1075.5 381.5,1073.3 383.5,1071.2 385.5,1069.0 387.5,1066.8 389.5,1064.6 391.5,1061.2 393.5,1057.6 395.5,1054.0 397.5,1050.4 399.5,1045.2 401.5,1039.8 403.5,1034.4 405.5,1029.0 407.5,1023.8 409.5,1018.5 411.5,1013.2 413.5,1007.0 415.5,1000.8 417.5,994.6 419.5,988.4 421.5,982.0 423.5,975.3 425.5,968.6 427.5,961.9 429.5,955.3 431.5,946.4 433.5,937.4 435.5,928.4 437.5,919.4 439.5,910.5 441.5,902.1 443.5,893.6 445.5,885.1 447.5,876.6 449.5,866.4 451.5,855.1 453.5,843.9 455.5,832.6 457.5,821.7 459.5,811.4 461.5,801.1 463.5,792.0 465.5,782.9 467.5,774.3 469.5,766.5 471.5,758.6 473.5,751.3 475.5,744.1 477.5,736.9 479.5,729.8 481.5,722.6 483.5,714.9 485.5,707.0 487.5,699.8 489.5,693.8 491.5,687.7 493.5,682.7 495.5,677.9 497.5,673.5 499.5,669.9 501.5,666.3 503.5,662.6 505.5,659.0 507.5,655.8 509.5,653.6 511.5,651.0 513.5,648.1 515.5,646.3 517.5,644.4 519.5,642.5 521.5,640.7 523.5,639.4 525.5,638.3 527.5,637.1 529.5,636.2 531.5,636.1 533.5,636.3 535.5,636.5 537.5,636.7 539.5,636.7 541.5,636.7 543.5,636.6 545.5,636.6 547.5,636.5 549.5,636.5 551.5,636.6 553.5,636.6 555.5,636.6 557.5,636.7 559.5,637.1 561.5,637.5 563.5,637.8 565.5,638.2 567.5,638.5 569.5,638.9 571.5,639.2 573.5,639.5 575.5,638.9 577.5,638.4 579.5,637.8 581.5,637.2 583.5,636.6 585.5,635.5 587.5,634.4 589.5,633.3 591.5,632.2 593.5,631.1 595.5,630.1 597.5,629.1 599.5,628.2 601.5,627.2 603.5,626.3 605.5,625.4 607.5,625.0 609.5,624.5 611.5,623.7 613.5,622.9 615.5,622.0 617.5,621.7 619.5,621.4 621.5,621.2 623.5,620.9 625.5,620.6 627.5,620.2 629.5,619.9 631.5,619.9 633.5,620.3 635.5,620.7 637.5,621.1 639.5,622.7 641.5,624.7 643.5,626.6 645.5,628.6 647.5,630.7 649.5,633.0 651.5,635.4 653.5,637.7 655.5,640.2 657.5,642.8 659.5,645.3 661.5,647.9 663.5,650.7 665.5,653.9 667.5,657.1 669.5,660.3 671.5,663.7 673.5,667.3 675.5,671.0 677.5,674.7 679.5,678.6 681.5,683.2 683.5,687.9 685.5,692.5 687.5,697.1 689.5,701.5 691.5,705.9 693.5,710.2 695.5,714.7 697.5,720.1 699.5,725.4 701.5,730.8 703.5,736.2 705.5,740.0 707.5,743.6 709.5,747.3 711.5,750.9 713.5,754.5 715.5,758.1 717.5,761.7 719.5,765.3 721.5,768.9 723.5,772.4 725.5,775.9 727.5,779.2 729.5,782.5 731.5,785.8 733.5,789.1 735.5,792.3 737.5,795.9 739.5,799.6 741.5,803.2 743.5,806.8 745.5,810.4 747.5,813.3 749.5,815.9 751.5,818.4 753.5,821.0 755.5,823.5 757.5,826.1 759.5,828.6 761.5,831.1 763.5,833.7 765.5,836.2 767.5,838.8 769.5,841.0 771.5,843.3 773.5,845.5 775.5,847.8 777.5,850.0 779.5,852.3 781.5,854.6 783.5,856.8 785.5,858.7 787.5,860.2 789.5,861.8 791.5,863.3 793.5,864.8 795.5,866.4 797.5,867.9 799.5,869.5 801.5,871.3 803.5,873.1 805.5,874.9 807.5,876.7 809.5,878.5 811.5,880.4 813.5,882.2 815.5,884.8 817.5,887.8 819.5,890.8 821.5,893.9 823.5,896.9 825.5,900.0 827.5,903.0 829.5,906.0 831.5,909.0 833.5,912.0 835.5,915.0 837.5,918.0 839.5,921.0 841.5,923.3 843.5,925.3 845.5,927.4 847.5,929.4 849.5,931.5 851.5,933.6 853.5,935.6 855.5,937.7 857.5,939.9 859.5,942.0 861.5,944.2 863.5,946.4 865.5,948.6 867.5,950.7 869.5,952.9 871.5,955.1 873.5,957.2 875.5,959.4 877.5,961.6 879.5,963.8 881.5,965.7 883.5,967.5 885.5,969.3 887.5,971.1 889.5,972.9 891.5,974.7 893.5,976.5 895.5,978.4 897.5,980.2 899.5,982.0 901.5,983.8 903.5,985.6 905.5,987.4 907.5,989.0 909.5,990.6 911.5,992.3 913.5,993.9 915.5,995.5 917.5,997.1 919.5,998.8 921.5,1000.4 923.5,1002.0 925.5,1003.7 927.5,1005.3 929.5,1006.9 931.5,1008.3 933.5,1009.6 935.5,1010.9 937.5,1012.1 939.5,1013.4 941.5,1014.7 943.5,1015.9 945.5,1017.2 947.5,1018.5 949.5,1019.7 951.5,1021.0 953.5,1022.3 955.5,1023.5 957.5,1024.6 959.5,1025.7 961.5,1026.8 963.5,1027.9 965.5,1029.0 967.5,1030.0 969.5,1031.1 971.5,1032.2 973.5,1033.3 975.5,1034.4 977.5,1035.5 979.5,1036.6 981.5,1037.5 983.5,1038.4 985.5,1039.3 987.5,1040.2 989.5,1041.2 991.5,1042.1 993.5,1043.0 995.5,1043.9 997.5,1044.8 999.5,1045.7 1001.5,1046.6 1003.5,1047.5 1005.5,1048.4 1007.5,1049.1 1009.5,1049.8 1011.5,1050.5 1013.5,1051.3 1015.5,1052.0 1017.5,1052.7 1019.5,1053.4 1021.5,1054.1 1023.5,1054.9 1025.5,1055.6 1027.5,1056.3 1029.5,1057.0 1031.5,1057.6 1033.5,1058.0 1035.5,1058.4 1037.5,1058.8 1039.5,1059.2 1041.5,1059.6 1043.5,1060.0 1045.5,1060.4 1047.5,1060.8 1049.5,1061.2 1051.5,1061.6 1053.5,1062.0 1055.5,1062.4 1057.5,1062.9 1059.5,1063.4 1061.5,1063.8 1063.5,1064.3 1065.5,1064.7 1067.5,1065.2 1069.5,1065.7 1071.5,1066.1 1073.5,1066.6 1075.5,1067.1 1077.5,1067.5 1079.5,1068.0 1081.5,1068.4 1083.5,1068.9 1085.5,1069.4 1087.5,1069.9 1089.5,1070.4 1091.5,1070.9 1093.5,1071.3 1095.5,1071.8 1097.5,1072.3 1099.5,1072.8 1101.5,1073.3 1103.5,1073.8 1105.5,1074.2 1107.5,1074.7 1109.5,1075.2 1111.5,1075.6 1113.5,1075.9 1115.5,1076.3 1117.5,1076.6 1119.5,1076.9 1121.5,1077.2 1123.5,1077.5 1125.5,1077.9 1127.5,1078.2 1129.5,1078.5 1131.5,1078.8 1133.5,1079.1 1135.5,1079.4 1137.5,1079.8 1139.5,1080.1 1141.5,1080.4 1143.5,1080.7 1145.5,1081.0 1147.5,1081.3 1149.5,1081.7 1151.5,1082.0 1153.5,1082.2 1155.5,1082.3 1157.5,1082.5 1159.5,1082.7 1161.5,1082.9 1163.5,1083.1 1165.5,1083.2 1167.5,1083.4 1169.5,1083.6 1171.5,1083.8 1173.5,1084.0 1175.5,1084.2 1177.5,1084.3 1179.5,1084.5 1181.5,1084.7 1183.5,1084.9 1185.5,1085.1 1187.5,1085.3 1189.5,1085.4 1191.5,1085.6 1193.5,1085.8 1195.5,1085.9 1197.5,1086.0 1199.5,1086.2 1201.5,1086.3 1203.5,1086.4 1205.5,1086.6 1207.5,1086.7 1209.5,1086.8 1211.5,1087.0 1213.5,1087.1 1215.5,1087.2 1217.5,1087.4 1219.5,1087.5 1221.5,1087.6 1223.5,1087.8 1225.5,1087.9 1227.5,1088.0 1229.5,1088.2 1231.5,1088.3 1233.5,1088.5 1235.5,1088.6 1237.5,1088.7 1239.5,1088.9 1241.5,1089.0 1243.5,1089.1 1245.5,1089.3 1247.5,1089.4 1249.5,1089.6 1251.5,1089.7 1253.5,1089.8 1255.5,1090.0 1257.5,1090.1 1259.5,1090.3 1261.5,1090.4 1263.5,1090.5 1265.5,1090.7 1267.5,1090.8 1269.5,1090.9 1271.5,1091.1 1273.5,1091.2 1275.5,1091.4 1277.5,1091.6 1279.5,1091.8 1281.5,1091.9 1283.5,1092.1 1285.5,1092.3 1287.5,1092.5 1289.5,1092.7 1291.5,1092.8 1293.5,1093.0 1295.5,1093.2 1297.5,1093.4 1299.5,1093.5 1301.5,1093.7 1303.5,1093.9 1305.5,1094.0 1307.5,1094.1 1309.5,1094.2 1311.5,1094.3 1313.5,1094.4 1315.5,1094.5 1317.5,1094.6 1319.5,1094.7 1321.5,1094.7 1323.5,1094.8 1325.5,1094.9 1327.5,1095.0 1329.5,1095.1 1331.5,1095.2 1333.5,1095.3 1335.5,1095.4 1337.5,1095.5 1339.5,1095.6 1341.5,1095.7"/>
<polyline stroke="#30a0a0" points="307.5,1099.6 309.5,1099.6 311.5,1099.6 313.5,1099.6 315.5,1099.6 317.5,1099.6 319.5,1099.5 321.5,1099.5 323.5,1099.5 325.5,1099.5 327.5,1099.5 329.5,1099.4 331.5,1099.4 333.5,1099.3 335.5,1099.3 337.5,1099.2 339.5,1098.9 341.5,1098.6 343.5,1098.2 345.5,1097.7 347.5,1097.3 349.5,1096.8 351.5,1095.8 353.5,1094.5 355.5,1093.3 357.5,1092.1 359.5,1090.9 361.5,1089.8 363.5,1088.6 365.5,1087.5 367.5,1086.1 369.5,1084.7 371.5,1083.2 373.5,1081.8 375.5,1079.7 377.5,1077.6 379.5,1075.4 381.5,1073.2 383.5,1071.0 385.5,1068.8 387.5,1066.6 389.5,1064.4 391.5,1061.0 393.5,1057.4 395.5,1053.7 397.5,1050.1 399.5,1044.9 401.5,1039.5 403.5,1034.0 405.5,1028.6 407.5,1023.3 409.5,1018.1 411.5,1012.7 413.5,1006.4 415.5,1000.2 417.5,994.0 419.5,987.8 421.5,981.3 423.5,974.5 425.5,967.8 427.5,961.1 429.5,954.4 431.5,945.5 433.5,936.4 435.5,927.4 437.5,918.3 439.5,909.4 441.5,900.9 443.5,892.4 445.5,883.8 447.5,875.3 449.5,865.1 451.5,853.7 453.5,842.3 455.5,831.0 457.5,820.0 459.5,809.7 461.5,799.4 463.5,790.1 465.5,781.0 467.5,772.4 469.5,764.5 471.5,756.6 473.5,749.3 475.5,742.0 477.5,734.7 479.5,727.6 481.5,720.4 483.5,712.6 485.5,704.7 487.5,697.4 489.5,691.4 491.5,685.3 493.5,680.3 495.5,675.4 497.5,671.0 499.5,667.3 501.5,663.7 503.5,660.0 505.5,656.4 507.5,653.2 509.5,650.9 511.5,648.3 513.5,645.5 515.5,643.7 517.5,641.8 519.5,639.9 521.5,638.1 523.5,636.9 525.5,635.7 527.5,634.6 529.5,633.7 531.5,633.6 533.5,633.8 535.5,634.0 537.5,634.2 539.5,634.2 541.5,634.2 543.5,634.1 545.5,634.1 547.5,634.0 549.5,634.0 551.5,634.1 553.5,634.1 555.5,634.1 557.5,634.2 559.5,634.6 561.5,635.0 563.5,635.4 565.5,635.7 567.5,636.1 569.5,636.4 571.5,636.7 573.5,637.0 575.5,636.5 577.5,635.9 579.5,635.3 581.5,634.7 583.5,634.1 585.5,633.0 587.5,631.9 589.5,630.8 591.5,629.7 593.5,628.6 595.5,627.6 597.5,626.6 599.5,625.7 601.5,624.7 603.5,623.8 605.5,622.9 607.5,622.5 609.5,622.0 611.5,621.2 613.5,620.4 615.5,619.5 617.5,619.2 619.5,618.9 621.5,618.7 623.5,618.4 625.5,618.1 627.5,617.7 629.5,617.4 631.5,617.4 633.5,617.8 635.5,618.2 637.5,618.6 639.5,620.2 641.5,622.1 643.5,624.1 645.5,626.0 647.5,628.1 649.5,630.4 651.5,632.7 653.5,635.0 655.5,637.5 657.5,640.1 659.5,642.6 661.5,645.2 663.5,648.0 665.5,651.2 667.5,654.5 669.5,657.7 671.5,661.1 673.5,664.8 675.5,668.5 677.5,672.1 679.5,676.1 681.5,680.8 683.5,685.4 685.5,690.1 687.5,694.8 689.5,699.1 691.5,703.5 693.5,707.9 695.5,712.4 697.5,717.8 699.5,723.2 701.5,728.7 703.5,734.1 705.5,737.9 707.5,741.5 709.5,745.2 711.5,748.8 713.5,752.5 715.5,756.1 717.5,759.7 719.5,763.3 721.5,766.9 723.5,770.5 725.5,774.0 727.5,777.3 729.5,780.6 731.5,783.9 733.5,787.2 735.5,790.5 737.5,794.1 739.5,797.8 741.5,801.4 743.5,805.1 745.5,808.7 747.5,811.6 749.5,814.2 751.5,816.8 753.5,819.3 755.5,821.9 757.5,824.4 759.5,827.0 761.5,829.6 763.5,832.1 765.5,834.7 767.5,837.2 769.5,839.5 771.5,841.8 773.5,844.0 775.5,846.3 777.5,848.6 779.5,850.8 781.5,853.1 783.5,855.4 785.5,857.3 787.5,858.8 789.5,860.4 791.5,861.9 793.5,863.5 795.5,865.0 797.5,866.6 799.5,868.1 801.5,870.0 803.5,871.8 805.5,873.6 807.5,875.4 809.5,877.2 811.5,879.1 813.5,880.9 815.5,883.5 817.5,886.6 819.5,889.6 821.5,892.7 823.5,895.7 825.5,898.8 827.5,901.8 829.5,904.8 831.5,907.8 833.5,910.9 835.5,913.9 837.5,916.9 839.5,919.9 841.5,922.2 843.5,924.3 845.5,926.4 847.5,928.4 849.5,930.5 851.5,932.6 853.5,934.7 855.5,936.8 857.5,938.9 859.5,941.1 861.5,943.3 863.5,945.5 865.5,947.7 867.5,949.8 869.5,952.0 871.5,954.2 873.5,956.4 875.5,958.6 877.5,960.8 879.5,962.9 881.5,964.9 883.5,966.7 885.5,968.5 887.5,970.4 889.5,972.2 891.5,974.0 893.5,975.8 895.5,977.6 897.5,979.5 899.5,981.3 901.5,983.1 903.5,984.9 905.5,986.7 907.5,988.3 909.5,990.0 911.5,991.6 913.5,993.3 915.5,994.9 917.5,996.5 919.5,998.2 921.5,999.8 923.5,1001.5 925.5,1003.1 927.5,1004.7 929.5,1006.4 931.5,1007.8 933.5,1009.1 935.5,1010.3 937.5,1011.6 939.5,1012.9 941.5,1014.2 943.5,1015.4 945.5,1016.7 947.5,1018.0 949.5,1019.3 951.5,1020.5 953.5,1021.8 955.5,1023.1 957.5,1024.2 959.5,1025.3 961.5,1026.4 963.5,1027.4 965.5,1028.5 967.5,1029.6 969.5,1030.7 971.5,1031.8 973.5,1032.9 975.5,1034.0 977.5,1035.1 979.5,1036.2 981.5,1037.2 983.5,1038.1 985.5,1039.0 987.5,1039.9 989.5,1040.8 991.5,1041.7 993.5,1042.6 995.5,1043.5 997.5,1044.4 999.5,1045.4 1001.5,1046.3 1003.5,1047.2 1005.5,1048.1 1007.5,1048.8 1009.5,1049.5 1011.5,1050.2 1013.5,1051.0 1015.5,1051.7 1017.5,1052.4 1019.5,1053.1 1021.5,1053.9 1023.5,1054.6 1025.5,1055.3 1027.5,1056.0 1029.5,1056.8 1031.5,1057.3 1033.5,1057.7 1035.5,1058.1 1037.5,1058.5 1039.5,1059.0 1041.5,1059.4 1043.5,1059.8 1045.5,1060.2 1047.5,1060.6 1049.5,1061.0 1051.5,1061.4 1053.5,1061.8 1055.5,1062.2 1057.5,1062.7 1059.5,1063.1 1061.5,1063.6 1063.5,1064.1 1065.5,1064.5 1067.5,1065.0 1069.5,1065.5 1071.5,1065.9 1073.5,1066.4 1075.5,1066.9 1077.5,1067.3 1079.5,1067.8 1081.5,1068.3 1083.5,1068.7 1085.5,1069.2 1087.5,1069.7 1089.5,1070.2 1091.5,1070.7 1093.5,1071.2 1095.5,1071.7 1097.5,1072.1 1099.5,1072.6 1101.5,1073.1 1103.5,1073.6 1105.5,1074.1 1107.5,1074.6 1109.5,1075.1 1111.5,1075.5 1113.5,1075.8 1115.5,1076.1 1117.5,1076.4 1119.5,1076.8 1121.5,1077.1 1123.5,1077.4 1125.5,1077.7 1127.5,1078.0 1129.5,1078.4 1131.5,1078.7 1133.5,1079.0 1135.5,1079.3 1137.5,1079.6 1139.5,1080.0 1141.5,1080.3 1143.5,1080.6 1145.5,1080.9 1147.5,1081.2 1149.5,1081.6 1151.5,1081.9 1153.5,1082.0 1155.5,1082.2 1157.5,1082.4 1159.5,1082.6 1161.5,1082.8 1163.5,1083.0 1165.5,1083.2 1167.5,1083.3 1169.5,1083.5 1171.5,1083.7 1173.5,1083.9 1175.5,1084.1 1177.5,1084.3 1179.5,1084.4 1181.5,1084.6 1183.5,1084.8 1185.5,1085.0 1187.5,1085.2 1189.5,1085.4 1191.5,1085.5 1193.5,1085.7 1195.5,1085.8 1197.5,1086.0 1199.5,1086.1 1201.5,1086.2 1203.5,1086.4 1205.5,1086.5 1207.5,1086.6 1209.5,1086.8 1211.5,1086.9 1213.5,1087.0 1215.5,1087.2 1217.5,1087.3 1219.5,1087.4 1221.5,1087.6 1223.5,1087.7 1225.5,1087.8 1227.5,1088.0 1229.5,1088.1 1231.5,1088.2 1233.5,1088.4 1235.5,1088.5 1237.5,1088.7 1239.5,1088.8 1241.5,1088.9 1243.5,1089.1 1245.5,1089.2 1247.5,1089.4 1249.5,1089.5 1251.5,1089.6 1253.5,1089.8 1255.5,1089.9 1257.5,1090.1 1259.5,1090.2 1261.5,1090.3 1263.5,1090.5 1265.5,1090.6 1267.5,1090.8 1269.5,1090.9 1271.5,1091.0 1273.5,1091.2 1275.5,1091.4 1277.5,1091.5 1279.5,1091.7 1281.5,1091.9 1283.5,1092.1 1285.5,1092.3 1287.5,1092.4 1289.5,1092.6 1291.5,1092.8 1293.5,1093.0 1295.5,1093.2 1297.5,1093.3 1299.5,1093.5 1301.5,1093.7 1303.5,1093.9 1305.5,1094.0 1307.5,1094.1 1309.5,1094.2 1311.5,1094.2 1313.5,1094.3 1315.5,1094.4 1317.5,1094.5 1319.5,1094.6 1321.5,1094.7 1323.5,1094.8 1325.5,1094.9 1327.5,1095.0 1329.5,1095.1 1331.5,1095.2 1333.5,1095.3 1335.5,1095.4 1337.5,1095.5 1339.5,1095.6 1341.5,1095.7"/>
<polyline stroke="#808000" points="307.5,1099.6 309.5,1099.6 311.5,1099.6 313.5,1099.6 315.5,1099.6 317.5,1099.6 319.5,1099.5 321.5,1099.5 323.5,1099.5 325.5,1099.5 327.5,1099.5 329.5,1099.4 331.5,1099.4 333.5,1099.3 335.5,1099.3 337.5,1099.2 339.5,1098.9 341.5,1098.5 343.5,1098.2 345.5,1097.7 347.5,1097.3 349.5,1096.8 351.5,1095.7 353.5,1094.5 355.5,1093.2 357.5,1092.0 359.5,1090.8 361.5,1089.7 363.5,1088.5 365.5,1087.4 367.5,1086.0 369.5,1084.5 371.5,1083.1 373.5,1081.6 375.5,1079.5 377.5,1077.3 379.5,1075.1 381.5,1072.9 383.5,1070.7 385.5,1068.5 387.5,1066.3 389.5,1064.1 391.5,1060.6 393.5,1056.9 395.5,1053.2 397.5,1049.6 399.5,1044.3 401.5,1038.8 403.5,1033.3 405.5,1027.8 407.5,1022.5 409.5,1017.2 411.5,1011.7 413.5,1005.4 415.5,999.1 417.5,992.9 419.5,986.6 421.5,980.0 423.5,973.2 425.5,966.4 427.5,959.6 429.5,952.8 431.5,943.8 433.5,934.7 435.5,925.5 437.5,916.4 439.5,907.4 441.5,898.7 443.5,890.1 445.5,881.5 447.5,872.9 449.5,862.5 451.5,851.0 453.5,839.6 455.5,828.1 457.5,817.0 459.5,806.6 461.5,796.1 463.5,786.8 465.5,777.6 467.5,768.9 469.5,760.9 471.5,752.9 473.5,745.5 475.5,738.1 477.5,730.8 479.5,723.6 481.5,716.3 483.5,708.4 485.5,700.4 487.5,693.1 489.5,687.0 491.5,680.8 493.5,675.7 495.5,670.8 497.5,666.4 499.5,662.7 501.5,659.0 503.5,655.3 505.5,651.6 507.5,648.4 509.5,646.1 511.5,644.0 513.5,641.8 515.5,640.6 517.5,639.4 519.5,638.2 521.5,637.0 523.5,636.5 525.5,636.0 527.5,635.4 529.5,634.6 531.5,634.4 533.5,634.5 535.5,634.6 537.5,634.7 539.5,634.7 541.5,634.5 543.5,634.4 545.5,634.2 547.5,634.1 549.5,634.0 551.5,633.9 553.5,633.4 555.5,632.7 557.5,632.0 559.5,631.3 561.5,630.6 563.5,630.3 565.5,630.1 567.5,629.7 569.5,629.4 571.5,629.0 573.5,628.7 575.5,627.5 577.5,627.1 579.5,626.8 581.5,626.5 583.5,626.1 585.5,625.0 587.5,623.9 589.5,622.8 591.5,621.7 593.5,620.6 595.5,619.6 597.5,618.7 599.5,617.9 601.5,617.0 603.5,616.2 605.5,615.3 607.5,614.8 609.5,614.6 611.5,614.3 613.5,614.0 615.5,613.8 617.5,614.0 619.5,614.4 621.5,614.7 623.5,615.0 625.5,615.0 627.5,615.0 629.5,615.0 631.5,615.5 633.5,616.2 635.5,616.9 637.5,617.7 639.5,618.8 641.5,620.3 643.5,621.8 645.5,623.2 647.5,624.9 649.5,626.7 651.5,628.6 653.5,630.4 655.5,632.5 657.5,635.1 659.5,637.7 661.5,640.3 663.5,643.1 665.5,646.4 667.5,649.7 669.5,653.0 671.5,656.4 673.5,660.1 675.5,663.8 677.5,667.5 679.5,671.5 681.5,676.2 683.5,681.0 685.5,685.7 687.5,690.4 689.5,694.8 691.5,699.3 693.5,703.7 695.5,708.2 697.5,713.7 699.5,719.2 701.5,724.7 703.5,730.1 705.5,734.0 707.5,737.7 709.5,741.3 711.5,745.0 713.5,748.7 715.5,752.4 717.5,756.0 719.5,759.7 721.5,763.3 723.5,767.0 725.5,770.5 727.5,773.9 729.5,777.2 731.5,780.5 733.5,783.8 735.5,787.2 737.5,790.8 739.5,794.5 741.5,798.2 743.5,801.9 745.5,805.6 747.5,808.5 749.5,811.1 751.5,813.7 753.5,816.3 755.5,818.9 757.5,821.5 759.5,824.1 761.5,826.6 763.5,829.2 765.5,831.8 767.5,834.4 769.5,836.7 771.5,839.0 773.5,841.3 775.5,843.6 777.5,845.9 779.5,848.2 781.5,850.4 783.5,852.7 785.5,854.6 787.5,856.2 789.5,857.8 791.5,859.3 793.5,860.9 795.5,862.5 797.5,864.0 799.5,865.6 801.5,867.5 803.5,869.3 805.5,871.2 807.5,873.0 809.5,874.8 811.5,876.7 813.5,878.5 815.5,881.2 817.5,884.3 819.5,887.3 821.5,890.4 823.5,893.5 825.5,896.6 827.5,899.7 829.5,902.7 831.5,905.8 833.5,908.8 835.5,911.9 837.5,914.9 839.5,918.0 841.5,920.3 843.5,922.4 845.5,924.5 847.5,926.6 849.5,928.7 851.5,930.8 853.5,932.9 855.5,935.0 857.5,937.2 859.5,939.4 861.5,941.6 863.5,943.8 865.5,946.0 867.5,948.2 869.5,950.4 871.5,952.6 873.5,954.9 875.5,957.1 877.5,959.3 879.5,961.5 881.5,963.4 883.5,965.3 885.5,967.1 887.5,969.0 889.5,970.8 891.5,972.6 893.5,974.5 895.5,976.3 897.5,978.2 899.5,980.0 901.5,981.8 903.5,983.7 905.5,985.5 907.5,987.1 909.5,988.8 911.5,990.5 913.5,992.1 915.5,993.8 917.5,995.4 919.5,997.1 921.5,998.7 923.5,1000.4 925.5,1002.1 927.5,1003.7 929.5,1005.4 931.5,1006.8 933.5,1008.1 935.5,1009.4 937.5,1010.7 939.5,1011.9 941.5,1013.2 943.5,1014.5 945.5,1015.8 947.5,1017.1 949.5,1018.4 951.5,1019.7 953.5,1021.0 955.5,1022.2 957.5,1023.4 959.5,1024.5 961.5,1025.6 963.5,1026.7 965.5,1027.8 967.5,1028.9 969.5,1030.0 971.5,1031.1 973.5,1032.2 975.5,1033.3 977.5,1034.4 979.5,1035.5 981.5,1036.5 983.5,1037.4 985.5,1038.3 987.5,1039.3 989.5,1040.2 991.5,1041.1 993.5,1042.0 995.5,1042.9 997.5,1043.9 999.5,1044.8 1001.5,1045.7 1003.5,1046.6 1005.5,1047.5 1007.5,1048.2 1009.5,1049.0 1011.5,1049.7 1013.5,1050.4 1015.5,1051.2 1017.5,1051.9 1019.5,1052.6 1021.5,1053.4 1023.5,1054.1 1025.5,1054.8 1027.5,1055.6 1029.5,1056.3 1031.5,1056.9 1033.5,1057.3 1035.5,1057.7 1037.5,1058.1 1039.5,1058.5 1041.5,1058.9 1043.5,1059.3 1045.5,1059.8 1047.5,1060.2 1049.5,1060.6 1051.5,1061.0 1053.5,1061.4 1055.5,1061.8 1057.5,1062.3 1059.5,1062.8 1061.5,1063.2 1063.5,1063.7 1065.5,1064.2 1067.5,1064.6 1069.5,1065.1 1071.5,1065.6 1073.5,1066.0 1075.5,1066.5 1077.5,1067.0 1079.5,1067.4 1081.5,1067.9 1083.5,1068.4 1085.5,1068.9 1087.5,1069.4 1089.5,1069.9 1091.5,1070.4 1093.5,1070.9 1095.5,1071.4 1097.5,1071.8 1099.5,1072.3 1101.5,1072.8 1103.5,1073.3 1105.5,1073.8 1107.5,1074.3 1109.5,1074.8 1111.5,1075.2 1113.5,1075.6 1115.5,1075.9 1117.5,1076.2 1119.5,1076.5 1121.5,1076.8 1123.5,1077.2 1125.5,1077.5 1127.5,1077.8 1129.5,1078.1 1131.5,1078.5 1133.5,1078.8 1135.5,1079.1 1137.5,1079.4 1139.5,1079.7 1141.5,1080.1 1143.5,1080.4 1145.5,1080.7 1147.5,1081.0 1149.5,1081.4 1151.5,1081.7 1153.5,1081.9 1155.5,1082.0 1157.5,1082.2 1159.5,1082.4 1161.5,1082.6 1163.5,1082.8 1165.5,1083.0 1167.5,1083.2 1169.5,1083.3 1171.5,1083.5 1173.5,1083.7 1175.5,1083.9 1177.5,1084.1 1179.5,1084.3 1181.5,1084.5 1183.5,1084.6 1185.5,1084.8 1187.5,1085.0 1189.5,1085.2 1191.5,1085.4 1193.5,1085.5 1195.5,1085.7 1197.5,1085.8 1199.5,1085.9 1201.5,1086.1 1203.5,1086.2 1205.5,1086.4 1207.5,1086.5 1209.5,1086.6 1211.5,1086.8 1213.5,1086.9 1215.5,1087.0 1217.5,1087.2 1219.5,1087.3 1221.5,1087.4 1223.5,1087.6 1225.5,1087.7 1227.5,1087.9 1229.5,1088.0 1231.5,1088.1 1233.5,1088.3 1235.5,1088.4 1237.5,1088.5 1239.5,1088.7 1241.5,1088.8 1243.5,1089.0 1245.5,1089.1 1247.5,1089.3 1249.5,1089.4 1251.5,1089.5 1253.5,1089.7 1255.5,1089.8 1257.5,1090.0 1259.5,1090.1 1261.5,1090.2 1263.5,1090.4 1265.5,1090.5 1267.5,1090.7 1269.5,1090.8 1271.5,1090.9 1273.5,1091.1 1275.5,1091.3 1277.5,1091.5 1279.5,1091.6 1281.5,1091.8 1283.5,1092.0 1285.5,1092.2 1287.5,1092.4 1289.5,1092.5 1291.5,1092.7 1293.5,1092.9 1295.5,1093.1 1297.5,1093.3 1299.5,1093.4 1301.5,1093.6 1303.5,1093.8 1305.5,1093.9 1307.5,1094.0 1309.5,1094.1 1311.5,1094.2 1313.5,1094.3 1315.5,1094.4 1317.5,1094.5 1319.5,1094.6 1321.5,1094.7 1323.5,1094.8 1325.5,1094.9 1327.5,1095.0 1329.5,1095.0 1331.5,1095.1 1333.5,1095.2 1335.5,1095.3 1337.5,1095.4 1339.5,1095.5 1341.5,1095.6"/>
<polyline stroke="#800000" points="307.5,1099.6 309.5,1099.6 311.5,1099.6 313.5,1099.6 315.5,1099.6 317.5,1099.6 319.5,1099.5 321.5,1099.5 323.5,1099.5 325.5,1099.5 327.5,1099.5 329.5,1099.4 331.5,1099.4 333.5,1099.3 335.5,1099.3 337.5,1099.2 339.5,1098.8 341.5,1098.5 343.5,1098.2 345.5,1097.7 347.5,1097.2 349.5,1096.8 351.5,1095.7 353.5,1094.4 355.5,1093.2 357.5,1091.9 359.5,1090.8 361.5,1089.6 363.5,1088.5 365.5,1087.3 367.5,1085.9 369.5,1084.4 371.5,1083.0 373.5,1081.5 375.5,1079.4 377.5,1077.2 379.5,1075.0 381.5,1072.8 383.5,1070.6 385.5,1068.3 387.5,1066.1 389.5,1063.9 391.5,1060.4 393.5,1056.7 395.5,1053.0 397.5,1049.3 399.5,1044.1 401.5,1038.5 403.5,1033.0 405.5,1027.5 407.5,1022.1 409.5,1016.8 411.5,1011.3 413.5,1005.0 415.5,998.7 417.5,992.3 419.5,986.0 421.5,979.4 423.5,972.6 425.5,965.8 427.5,958.9 429.5,952.1 431.5,943.1 433.5,933.9 435.5,924.7 437.5,915.5 439.5,906.4 441.5,897.8 443.5,889.1 445.5,880.4 447.5,871.8 449.5,861.4 451.5,849.8 453.5,838.3 455.5,826.8 457.5,815.7 459.5,805.2 461.5,794.7 463.5,785.3 465.5,776.0 467.5,767.3 469.5,759.3 471.5,751.2 473.5,743.8 475.5,736.4 477.5,729.0 479.5,721.7 481.5,714.4 483.5,706.5 485.5,698.5 487.5,691.1 489.5,685.0 491.5,678.8 493.5,673.7 495.5,668.8 497.5,664.3 499.5,660.6 501.5,656.9 503.5,653.1 505.5,649.4 507.5,646.2 509.5,643.9 511.5,641.7 513.5,639.5 515.5,638.3 517.5,637.0 519.5,635.8 521.5,634.6 523.5,634.0 525.5,633.5 527.5,632.9 529.5,632.1 531.5,631.9 533.5,632.0 535.5,632.1 537.5,632.2 539.5,632.2 541.5,632.0 543.5,631.9 545.5,631.7 547.5,631.6 549.5,631.5 551.5,631.4 553.5,630.9 555.5,630.2 557.5,629.5 559.5,628.8 561.5,628.1 563.5,627.8 565.5,627.6 567.5,627.2 569.5,626.9 571.5,626.5 573.5,626.2 575.5,625.0 577.5,624.6 579.5,624.3 581.5,624.0 583.5,623.6 585.5,622.5 587.5,621.4 589.5,620.3 591.5,619.2 593.5,618.1 595.5,617.1 597.5,616.2 599.5,615.4 601.5,614.5 603.5,613.7 605.5,612.8 607.5,612.3 609.5,612.1 611.5,611.8 613.5,611.5 615.5,611.3 617.5,611.5 619.5,611.9 621.5,612.2 623.5,612.5 625.5,612.5 627.5,612.6 629.5,612.6 631.5,613.0 633.5,613.8 635.5,614.6 637.5,615.3 639.5,616.4 641.5,618.0 643.5,619.4 645.5,620.9 647.5,622.6 649.5,624.4 651.5,626.3 653.5,628.1 655.5,630.3 657.5,632.9 659.5,635.5 661.5,638.1 663.5,640.9 665.5,644.2 667.5,647.5 669.5,650.8 671.5,654.2 673.5,657.9 675.5,661.7 677.5,665.4 679.5,669.4 681.5,674.2 683.5,678.9 685.5,683.7 687.5,688.4 689.5,692.9 691.5,697.3 693.5,701.8 695.5,706.3 697.5,711.8 699.5,717.3 701.5,722.8 703.5,728.3 705.5,732.2 707.5,735.9 709.5,739.6 711.5,743.3 713.5,747.0 715.5,750.7 717.5,754.3 719.5,758.0 721.5,761.7 723.5,765.3 725.5,768.9 727.5,772.3 729.5,775.6 731.5,779.0 733.5,782.3 735.5,785.7 737.5,789.3 739.5,793.0 741.5,796.7 743.5,800.4 745.5,804.1 747.5,807.1 749.5,809.7 751.5,812.3 753.5,814.9 755.5,817.5 757.5,820.1 759.5,822.7 761.5,825.3 763.5,827.9 765.5,830.5 767.5,833.1 769.5,835.4 771.5,837.7 773.5,840.0 775.5,842.3 777.5,844.6 779.5,846.9 781.5,849.2 783.5,851.5 785.5,853.4 787.5,855.0 789.5,856.6 791.5,858.2 793.5,859.8 795.5,861.3 797.5,862.9 799.5,864.5 801.5,866.4 803.5,868.2 805.5,870.1 807.5,871.9 809.5,873.8 811.5,875.6 813.5,877.5 815.5,880.1 817.5,883.2 819.5,886.3 821.5,889.4 823.5,892.5 825.5,895.6 827.5,898.7 829.5,901.8 831.5,904.8 833.5,907.9 835.5,911.0 837.5,914.0 839.5,917.1 841.5,919.4 843.5,921.5 845.5,923.6 847.5,925.7 849.5,927.9 851.5,930.0 853.5,932.1 855.5,934.2 857.5,936.4 859.5,938.6 861.5,940.8 863.5,943.1 865.5,945.3 867.5,947.5 869.5,949.7 871.5,951.9 873.5,954.2 875.5,956.4 877.5,958.6 879.5,960.8 881.5,962.8 883.5,964.6 885.5,966.5 887.5,968.3 889.5,970.2 891.5,972.0 893.5,973.9 895.5,975.7 897.5,977.6 899.5,979.4 901.5,981.3 903.5,983.1 905.5,984.9 907.5,986.6 909.5,988.3 911.5,989.9 913.5,991.6 915.5,993.3 917.5,994.9 919.5,996.6 921.5,998.3 923.5,999.9 925.5,1001.6 927.5,1003.2 929.5,1004.9 931.5,1006.3 933.5,1007.6 935.5,1008.9 937.5,1010.2 939.5,1011.5 941.5,1012.8 943.5,1014.1 945.5,1015.4 947.5,1016.7 949.5,1018.0 951.5,1019.3 953.5,1020.6 955.5,1021.9 957.5,1023.0 959.5,1024.1 961.5,1025.2 963.5,1026.3 965.5,1027.4 967.5,1028.5 969.5,1029.6 971.5,1030.7 973.5,1031.9 975.5,1033.0 977.5,1034.1 979.5,1035.2 981.5,1036.2 983.5,1037.1 985.5,1038.0 987.5,1039.0 989.5,1039.9 991.5,1040.8 993.5,1041.7 995.5,1042.7 997.5,1043.6 999.5,1044.5 1001.5,1045.4 1003.5,1046.4 1005.5,1047.3 1007.5,1048.0 1009.5,1048.7 1011.5,1049.5 1013.5,1050.2 1015.5,1050.9 1017.5,1051.7 1019.5,1052.4 1021.5,1053.2 1023.5,1053.9 1025.5,1054.6 1027.5,1055.4 1029.5,1056.1 1031.5,1056.7 1033.5,1057.1 1035.5,1057.5 1037.5,1057.9 1039.5,1058.3 1041.5,1058.7 1043.5,1059.1 1045.5,1059.6 1047.5,1060.0 1049.5,1060.4 1051.5,1060.8 1053.5,1061.2 1055.5,1061.6 1057.5,1062.1 1059.5,1062.6 1061.5,1063.0 1063.5,1063.5 1065.5,1064.0 1067.5,1064.5 1069.5,1064.9 1071.5,1065.4 1073.5,1065.9 1075.5,1066.3 1077.5,1066.8 1079.5,1067.3 1081.5,1067.8 1083.5,1068.3 1085.5,1068.8 1087.5,1069.2 1089.5,1069.7 1091.5,1070.2 1093.5,1070.7 1095.5,1071.2 1097.5,1071.7 1099.5,1072.2 1101.5,1072.7 1103.5,1073.2 1105.5,1073.7 1107.5,1074.2 1109.5,1074.7 1111.5,1075.1 1113.5,1075.4 1115.5,1075.8 1117.5,1076.1 1119.5,1076.4 1121.5,1076.7 1123.5,1077.1 1125.5,1077.4 1127.5,1077.7 1129.5,1078.0 1131.5,1078.4 1133.5,1078.7 1135.5,1079.0 1137.5,1079.3 1139.5,1079.6 1141.5,1080.0 1143.5,1080.3 1145.5,1080.6 1147.5,1080.9 1149.5,1081.3 1151.5,1081.6 1153.5,1081.8 1155.5,1082.0 1157.5,1082.1 1159.5,1082.3 1161.5,1082.5 1163.5,1082.7 1165.5,1082.9 1167.5,1083.1 1169.5,1083.3 1171.5,1083.5 1173.5,1083.6 1175.5,1083.8 1177.5,1084.0 1179.5,1084.2 1181.5,1084.4 1183.5,1084.6 1185.5,1084.8 1187.5,1084.9 1189.5,1085.1 1191.5,1085.3 1193.5,1085.5 1195.5,1085.6 1197.5,1085.7 1199.5,1085.9 1201.5,1086.0 1203.5,1086.2 1205.5,1086.3 1207.5,1086.4 1209.5,1086.6 1211.5,1086.7 1213.5,1086.8 1215.5,1087.0 1217.5,1087.1 1219.5,1087.2 1221.5,1087.4 1223.5,1087.5 1225.5,1087.7 1227.5,1087.8 1229.5,1087.9 1231.5,1088.1 1233.5,1088.2 1235.5,1088.4 1237.5,1088.5 1239.5,1088.6 1241.5,1088.8 1243.5,1088.9 1245.5,1089.1 1247.5,1089.2 1249.5,1089.3 1251.5,1089.5 1253.5,1089.6 1255.5,1089.8 1257.5,1089.9 1259.5,1090.1 1261.5,1090.2 1263.5,1090.3 1265.5,1090.5 1267.5,1090.6 1269.5,1090.8 1271.5,1090.9 1273.5,1091.1 1275.5,1091.2 1277.5,1091.4 1279.5,1091.6 1281.5,1091.8 1283.5,1092.0 1285.5,1092.1 1287.5,1092.3 1289.5,1092.5 1291.5,1092.7 1293.5,1092.9 1295.5,1093.1 1297.5,1093.2 1299.5,1093.4 1301.5,1093.6 1303.5,1093.8 1305.5,1093.9 1307.5,1094.0 1309.5,1094.1 1311.5,1094.2 1313.5,1094.3 1315.5,1094.4 1317.5,1094.5 1319.5,1094.5 1321.5,1094.6 1323.5,1094.7 1325.5,1094.8 1327.5,1094.9 1329.5,1095.0 1331.5,1095.1 1333.5,1095.2 1335.5,1095.3 1337.5,1095.4 1339.5,1095.5 1341.5,1095.6"/>
<polyline stroke="#00ffff" points="307.5,1099.6 309.5,1099.6 311.5,1099.6 313.5,1099.6 315.5,1099.6 317.5,1099.5 319.5,1099.5 321.5,1099.5 323.5,1099.5 325.5,1099.5 327.5,1099.5 329.5,1099.4 331.5,1099.4 333.5,1099.3 335.5,1099.3 337.5,1099.2 339.5,1098.8 341.5,1098.5 343.5,1098.2 345.5,1097.7 347.5,1097.2 349.5,1096.7 351.5,1095.7 353.5,1094.4 355.5,1093.1 357.5,1091.9 359.5,1090.7 361.5,1089.6 363.5,1088.4 365.5,1087.2 367.5,1085.8 369.5,1084.4 371.5,1082.9 373.5,1081.4 375.5,1079.3 377.5,1077.1 379.5,1074.9 381.5,1072.6 383.5,1070.4 385.5,1068.1 387.5,1065.9 389.5,1063.7 391.5,1060.2 393.5,1056.5 395.5,1052.7 397.5,1049.0 399.5,1043.7 401.5,1038.2 403.5,1032.6 405.5,1027.1 407.5,1021.7 409.5,1016.3 411.5,1010.8 413.5,1004.4 415.5,998.1 417.5,991.7 419.5,985.4 421.5,978.7 423.5,971.8 425.5,965.0 427.5,958.1 429.5,951.3 431.5,942.1 433.5,932.9 435.5,923.7 437.5,914.4 439.5,905.3 441.5,896.6 443.5,887.9 445.5,879.2 447.5,870.4 449.5,860.0 451.5,848.4 453.5,836.8 455.5,825.2 457.5,814.0 459.5,803.4 461.5,792.9 463.5,783.5 465.5,774.2 467.5,765.4 469.5,757.3 471.5,749.2 473.5,741.7 475.5,734.3 477.5,726.9 479.5,719.5 481.5,712.2 483.5,704.3 485.5,696.2 487.5,688.8 489.5,682.6 491.5,676.3 493.5,671.2 495.5,666.3 497.5,661.7 499.5,658.0 501.5,654.3 503.5,650.6 505.5,646.8 507.5,643.6 509.5,641.2 511.5,638.2 513.5,635.0 515.5,632.7 517.5,630.5 519.5,628.2 521.5,626.0 523.5,624.4 525.5,622.9 527.5,621.4 529.5,620.6 531.5,620.6 533.5,620.9 535.5,621.2 537.5,621.6 539.5,621.8 541.5,621.9 543.5,621.9 545.5,621.9 547.5,621.4 549.5,621.0 551.5,620.6 553.5,620.2 555.5,619.8 557.5,619.4 559.5,619.0 561.5,618.6 563.5,618.3 565.5,618.1 567.5,618.6 569.5,619.0 571.5,619.4 573.5,619.8 575.5,619.4 577.5,618.9 579.5,618.4 581.5,617.9 583.5,617.3 585.5,616.0 587.5,614.7 589.5,613.3 591.5,612.6 593.5,612.0 595.5,611.6 597.5,611.3 599.5,611.0 601.5,610.8 603.5,610.5 605.5,610.2 607.5,610.4 609.5,610.9 611.5,610.5 613.5,609.9 615.5,609.3 617.5,609.3 619.5,609.3 621.5,609.3 623.5,609.3 625.5,609.3 627.5,609.3 629.5,609.4 631.5,609.9 633.5,610.7 635.5,611.5 637.5,612.3 639.5,613.5 641.5,615.0 643.5,616.6 645.5,618.2 647.5,619.8 649.5,621.7 651.5,623.5 653.5,625.4 655.5,627.6 657.5,630.2 659.5,632.8 661.5,635.4 663.5,638.3 665.5,641.6 667.5,644.9 669.5,648.2 671.5,651.6 673.5,655.4 675.5,659.2 677.5,662.9 679.5,666.9 681.5,671.7 683.5,676.5 685.5,681.3 687.5,686.0 689.5,690.5 691.5,695.0 693.5,699.5 695.5,704.0 697.5,709.6 699.5,715.1 701.5,720.7 703.5,726.2 705.5,730.1 707.5,733.8 709.5,737.5 711.5,741.2 713.5,745.0 715.5,748.7 717.5,752.3 719.5,756.0 721.5,759.7 723.5,763.4 725.5,767.0 727.5,770.4 729.5,773.7 731.5,777.1 733.5,780.5 735.5,783.8 737.5,787.6 739.5,791.3 741.5,795.0 743.5,798.7 745.5,802.4 747.5,805.4 749.5,808.0 751.5,810.7 753.5,813.3 755.5,815.9 757.5,818.5 759.5,821.1 761.5,823.7 763.5,826.3 765.5,829.0 767.5,831.6 769.5,833.9 771.5,836.2 773.5,838.5 775.5,840.8 777.5,843.2 779.5,845.5 781.5,847.8 783.5,850.1 785.5,852.0 787.5,853.6 789.5,855.2 791.5,856.8 793.5,858.4 795.5,859.9 797.5,861.5 799.5,863.1 801.5,865.0 803.5,866.9 805.5,868.7 807.5,870.6 809.5,872.4 811.5,874.3 813.5,876.2 815.5,878.8 817.5,882.0 819.5,885.1 821.5,888.2 823.5,891.3 825.5,894.4 827.5,897.5 829.5,900.6 831.5,903.7 833.5,906.8 835.5,909.9 837.5,912.9 839.5,916.0 841.5,918.4 843.5,920.5 845.5,922.6 847.5,924.7 849.5,926.9 851.5,929.0 853.5,931.1 855.5,933.2 857.5,935.5 859.5,937.7 861.5,939.9 863.5,942.2 865.5,944.4 867.5,946.6 869.5,948.8 871.5,951.1 873.5,953.3 875.5,955.5 877.5,957.8 879.5,960.0 881.5,962.0 883.5,963.8 885.5,965.7 887.5,967.6 889.5,969.4 891.5,971.3 893.5,973.1 895.5,975.0 897.5,976.9 899.5,978.7 901.5,980.6 903.5,982.4 905.5,984.3 907.5,985.9 909.5,987.6 911.5,989.3 913.5,991.0 915.5,992.6 917.5,994.3 919.5,996.0 921.5,997.7 923.5,999.3 925.5,1001.0 927.5,1002.7 929.5,1004.4 931.5,1005.8 933.5,1007.1 935.5,1008.4 937.5,1009.7 939.5,1011.0 941.5,1012.3 943.5,1013.6 945.5,1014.9 947.5,1016.2 949.5,1017.5 951.5,1018.8 953.5,1020.1 955.5,1021.4 957.5,1022.5 959.5,1023.7 961.5,1024.8 963.5,1025.9 965.5,1027.0 967.5,1028.1 969.5,1029.2 971.5,1030.3 973.5,1031.5 975.5,1032.6 977.5,1033.7 979.5,1034.8 981.5,1035.8 983.5,1036.7 985.5,1037.7 987.5,1038.6 989.5,1039.5 991.5,1040.5 993.5,1041.4 995.5,1042.3 997.5,1043.3 999.5,1044.2 1001.5,1045.1 1003.5,1046.0 1005.5,1047.0 1007.5,1047.7 1009.5,1048.4 1011.5,1049.2 1013.5,1049.9 1015.5,1050.7 1017.5,1051.4 1019.5,1052.1 1021.5,1052.9 1023.5,1053.6 1025.5,1054.4 1027.5,1055.1 1029.5,1055.8 1031.5,1056.4 1033.5,1056.8 1035.5,1057.2 1037.5,1057.7 1039.5,1058.1 1041.5,1058.5 1043.5,1058.9 1045.5,1059.3 1047.5,1059.7 1049.5,1060.2 1051.5,1060.6 1053.5,1061.0 1055.5,1061.4 1057.5,1061.9 1059.5,1062.4 1061.5,1062.8 1063.5,1063.3 1065.5,1063.8 1067.5,1064.3 1069.5,1064.7 1071.5,1065.2 1073.5,1065.7 1075.5,1066.2 1077.5,1066.6 1079.5,1067.1 1081.5,1067.6 1083.5,1068.1 1085.5,1068.6 1087.5,1069.1 1089.5,1069.6 1091.5,1070.1 1093.5,1070.6 1095.5,1071.1 1097.5,1071.5 1099.5,1072.0 1101.5,1072.5 1103.5,1073.0 1105.5,1073.5 1107.5,1074.0 1109.5,1074.5 1111.5,1075.0 1113.5,1075.3 1115.5,1075.6 1117.5,1075.9 1119.5,1076.3 1121.5,1076.6 1123.5,1076.9 1125.5,1077.2 1127.5,1077.6 1129.5,1077.9 1131.5,1078.2 1133.5,1078.6 1135.5,1078.9 1137.5,1079.2 1139.5,1079.5 1141.5,1079.9 1143.5,1080.2 1145.5,1080.5 1147.5,1080.8 1149.5,1081.2 1151.5,1081.5 1153.5,1081.7 1155.5,1081.9 1157.5,1082.0 1159.5,1082.2 1161.5,1082.4 1163.5,1082.6 1165.5,1082.8 1167.5,1083.0 1169.5,1083.2 1171.5,1083.4 1173.5,1083.5 1175.5,1083.7 1177.5,1083.9 1179.5,1084.1 1181.5,1084.3 1183.5,1084.5 1185.5,1084.7 1187.5,1084.9 1189.5,1085.0 1191.5,1085.2 1193.5,1085.4 1195.5,1085.5 1197.5,1085.7 1199.5,1085.8 1201.5,1085.9 1203.5,1086.1 1205.5,1086.2 1207.5,1086.4 1209.5,1086.5 1211.5,1086.6 1213.5,1086.8 1215.5,1086.9 1217.5,1087.0 1219.5,1087.2 1221.5,1087.3 1223.5,1087.5 1225.5,1087.6 1227.5,1087.7 1229.5,1087.9 1231.5,1088.0 1233.5,1088.1 1235.5,1088.3 1237.5,1088.4 1239.5,1088.6 1241.5,1088.7 1243.5,1088.9 1245.5,1089.0 1247.5,1089.1 1249.5,1089.3 1251.5,1089.4 1253.5,1089.6 1255.5,1089.7 1257.5,1089.9 1259.5,1090.0 1261.5,1090.1 1263.5,1090.3 1265.5,1090.4 1267.5,1090.6 1269.5,1090.7 1271.5,1090.8 1273.5,1091.0 1275.5,1091.2 1277.5,1091.4 1279.5,1091.5 1281.5,1091.7 1283.5,1091.9 1285.5,1092.1 1287.5,1092.3 1289.5,1092.5 1291.5,1092.6 1293.5,1092.8 1295.5,1093.0 1297.5,1093.2 1299.5,1093.4 1301.5,1093.6 1303.5,1093.7 1305.5,1093.8 1307.5,1093.9 1309.5,1094.0 1311.5,1094.1 1313.5,1094.2 1315.5,1094.3 1317.5,1094.4 1319.5,1094.5 1321.5,1094.6 1323.5,1094.7 1325.5,1094.8 1327.5,1094.9 1329.5,1095.0 1331.5,1095.1 1333.5,1095.2 1335.5,1095.3 1337.5,1095.4 1339.5,1095.5 1341.5,1095.6"/>
<polyline stroke="#ff00ff" points="307.5,1099.6 309.5,1099.6 311.5,1099.6 313.5,1099.6 315.5,1099.6 317.5,1099.5 319.5,1099.5 321.5,1099.5 323.5,1099.5 325.5,1099.5 327.5,1099.5 329.5,1099.4 331.5,1099.4 333.5,1099.3 335.5,1099.3 337.5,1099.2 339.5,1098.8 341.5,1098.5 343.5,1098.2 345.5,1097.7 347.5,1097.2 349.5,1096.7 351.5,1095.7 353.5,1094.4 355.5,1093.1 357.5,1091.9 359.5,1090.7 361.5,1089.5 363.5,1088.3 365.5,1087.2 367.5,1085.8 369.5,1084.3 371.5,1082.8 373.5,1081.3 375.5,1079.2 377.5,1077.0 379.5,1074.7 381.5,1072.5 383.5,1070.2 385.5,1068.0 387.5,1065.7 389.5,1063.5 391.5,1060.0 393.5,1056.2 395.5,1052.5 397.5,1048.7 399.5,1043.4 401.5,1037.8 403.5,1032.2 405.5,1026.7 407.5,1021.2 409.5,1015.8 411.5,1010.3 413.5,1003.9 415.5,997.5 417.5,991.1 419.5,984.7 421.5,978.0 423.5,971.1 425.5,964.2 427.5,957.3 429.5,950.4 431.5,941.2 433.5,931.9 435.5,922.7 437.5,913.4 439.5,904.2 441.5,895.4 443.5,886.7 445.5,877.9 447.5,869.1 449.5,858.6 451.5,847.0 453.5,835.3 455.5,823.6 457.5,812.4 459.5,801.7 461.5,791.1 463.5,781.6 465.5,772.3 467.5,763.4 469.5,755.3 471.5,747.2 473.5,739.6 475.5,732.2 477.5,724.7 479.5,717.4 481.5,710.0 483.5,702.0 485.5,693.9 487.5,686.4 489.5,680.2 491.5,673.9 493.5,668.7 495.5,663.8 497.5,659.2 499.5,655.5 501.5,651.7 503.5,648.0 505.5,644.2 507.5,641.2 509.5,639.2 511.5,637.2 513.5,635.2 515.5,634.2 517.5,633.2 519.5,632.3 521.5,631.3 523.5,630.9 525.5,630.4 527.5,629.8 529.5,629.2 531.5,629.2 533.5,629.5 535.5,629.9 537.5,630.2 539.5,630.4 541.5,630.5 543.5,630.7 545.5,631.0 547.5,631.4 549.5,631.8 551.5,632.2 553.5,632.6 555.5,633.0 557.5,633.1 559.5,632.4 561.5,631.7 563.5,631.1 565.5,630.4 567.5,629.7 569.5,629.0 571.5,628.3 573.5,627.5 575.5,625.9 577.5,625.6 579.5,625.5 581.5,625.4 583.5,625.2 585.5,624.3 587.5,623.3 589.5,622.4 591.5,621.4 593.5,620.5 595.5,619.2 597.5,617.5 599.5,615.8 601.5,614.0 603.5,612.3 605.5,610.6 607.5,609.4 609.5,608.5 611.5,607.8 613.5,607.0 615.5,606.3 617.5,606.1 619.5,606.0 621.5,605.9 623.5,605.8 625.5,605.9 627.5,605.9 629.5,606.0 631.5,606.4 633.5,607.2 635.5,608.0 637.5,608.8 639.5,610.0 641.5,611.6 643.5,613.2 645.5,614.8 647.5,616.6 649.5,618.6 651.5,620.6 653.5,622.6 655.5,624.8 657.5,627.5 659.5,630.1 661.5,632.7 663.5,635.6 665.5,638.9 667.5,642.3 669.5,645.6 671.5,649.0 673.5,652.8 675.5,656.6 677.5,660.4 679.5,664.4 681.5,669.3 683.5,674.1 685.5,678.9 687.5,683.7 689.5,688.2 691.5,692.7 693.5,697.2 695.5,701.8 697.5,707.3 699.5,712.9 701.5,718.5 703.5,724.0 705.5,728.0 707.5,731.7 709.5,735.4 711.5,739.2 713.5,742.9 715.5,746.6 717.5,750.3 719.5,754.1 721.5,757.8 723.5,761.5 725.5,765.1 727.5,768.5 729.5,771.9 731.5,775.3 733.5,778.6 735.5,782.0 737.5,785.8 739.5,789.5 741.5,793.2 743.5,797.0 745.5,800.7 747.5,803.7 749.5,806.4 751.5,809.0 753.5,811.6 755.5,814.3 757.5,816.9 759.5,819.5 761.5,822.1 763.5,824.8 765.5,827.4 767.5,830.0 769.5,832.3 771.5,834.7 773.5,837.0 775.5,839.3 777.5,841.7 779.5,844.0 781.5,846.3 783.5,848.7 785.5,850.6 787.5,852.2 789.5,853.8 791.5,855.4 793.5,857.0 795.5,858.6 797.5,860.2 799.5,861.8 801.5,863.7 803.5,865.5 805.5,867.4 807.5,869.3 809.5,871.1 811.5,873.0 813.5,874.9 815.5,877.6 817.5,880.7 819.5,883.8 821.5,887.0 823.5,890.1 825.5,893.3 827.5,896.4 829.5,899.5 831.5,902.6 833.5,905.7 835.5,908.8 837.5,911.9 839.5,915.0 841.5,917.3 843.5,919.5 845.5,921.6 847.5,923.7 849.5,925.9 851.5,928.0 853.5,930.1 855.5,932.3 857.5,934.5 859.5,936.8 861.5,939.0 863.5,941.3 865.5,943.5 867.5,945.7 869.5,948.0 871.5,950.2 873.5,952.5 875.5,954.7 877.5,957.0 879.5,959.2 881.5,961.2 883.5,963.1 885.5,964.9 887.5,966.8 889.5,968.7 891.5,970.5 893.5,972.4 895.5,974.3 897.5,976.2 899.5,978.0 901.5,979.9 903.5,981.8 905.5,983.6 907.5,985.3 909.5,987.0 911.5,988.7 913.5,990.3 915.5,992.0 917.5,993.7 919.5,995.4 921.5,997.1 923.5,998.8 925.5,1000.4 927.5,1002.1 929.5,1003.8 931.5,1005.3 933.5,1006.6 935.5,1007.9 937.5,1009.2 939.5,1010.5 941.5,1011.8 943.5,1013.1 945.5,1014.4 947.5,1015.7 949.5,1017.1 951.5,1018.4 953.5,1019.7 955.5,1021.0 957.5,1022.1 959.5,1023.2 961.5,1024.3 963.5,1025.5 965.5,1026.6 967.5,1027.7 969.5,1028.8 971.5,1029.9 973.5,1031.1 975.5,1032.2 977.5,1033.3 979.5,1034.4 981.5,1035.4 983.5,1036.4 985.5,1037.3 987.5,1038.3 989.5,1039.2 991.5,1040.1 993.5,1041.1 995.5,1042.0 997.5,1042.9 999.5,1043.9 1001.5,1044.8 1003.5,1045.7 1005.5,1046.7 1007.5,1047.4 1009.5,1048.1 1011.5,1048.9 1013.5,1049.6 1015.5,1050.4 1017.5,1051.1 1019.5,1051.9 1021.5,1052.6 1023.5,1053.4 1025.5,1054.1 1027.5,1054.8 1029.5,1055.6 1031.5,1056.2 1033.5,1056.6 1035.5,1057.0 1037.5,1057.4 1039.5,1057.8 1041.5,1058.3 1043.5,1058.7 1045.5,1059.1 1047.5,1059.5 1049.5,1059.9 1051.5,1060.3 1053.5,1060.8 1055.5,1061.2 1057.5,1061.7 1059.5,1062.1 1061.5,1062.6 1063.5,1063.1 1065.5,1063.6 1067.5,1064.1 1069.5,1064.5 1071.5,1065.0 1073.5,1065.5 1075.5,1066.0 1077.5,1066.4 1079.5,1066.9 1081.5,1067.4 1083.5,1067.9 1085.5,1068.4 1087.5,1068.9 1089.5,1069.4 1091.5,1069.9 1093.5,1070.4 1095.5,1070.9 1097.5,1071.4 1099.5,1071.9 1101.5,1072.4 1103.5,1072.9 1105.5,1073.4 1107.5,1073.9 1109.5,1074.4 1111.5,1074.8 1113.5,1075.2 1115.5,1075.5 1117.5,1075.8 1119.5,1076.1 1121.5,1076.5 1123.5,1076.8 1125.5,1077.1 1127.5,1077.4 1129.5,1077.8 1131.5,1078.1 1133.5,1078.4 1135.5,1078.8 1137.5,1079.1 1139.5,1079.4 1141.5,1079.7 1143.5,1080.1 1145.5,1080.4 1147.5,1080.7 1149.5,1081.1 1151.5,1081.4 1153.5,1081.6 1155.5,1081.8 1157.5,1081.9 1159.5,1082.1 1161.5,1082.3 1163.5,1082.5 1165.5,1082.7 1167.5,1082.9 1169.5,1083.1 1171.5,1083.3 1173.5,1083.5 1175.5,1083.6 1177.5,1083.8 1179.5,1084.0 1181.5,1084.2 1183.5,1084.4 1185.5,1084.6 1187.5,1084.8 1189.5,1085.0 1191.5,1085.2 1193.5,1085.3 1195.5,1085.4 1197.5,1085.6 1199.5,1085.7 1201.5,1085.9 1203.5,1086.0 1205.5,1086.1 1207.5,1086.3 1209.5,1086.4 1211.5,1086.6 1213.5,1086.7 1215.5,1086.8 1217.5,1087.0 1219.5,1087.1 1221.5,1087.2 1223.5,1087.4 1225.5,1087.5 1227.5,1087.7 1229.5,1087.8 1231.5,1087.9 1233.5,1088.1 1235.5,1088.2 1237.5,1088.4 1239.5,1088.5 1241.5,1088.7 1243.5,1088.8 1245.5,1088.9 1247.5,1089.1 1249.5,1089.2 1251.5,1089.4 1253.5,1089.5 1255.5,1089.7 1257.5,1089.8 1259.5,1089.9 1261.5,1090.1 1263.5,1090.2 1265.5,1090.4 1267.5,1090.5 1269.5,1090.7 1271.5,1090.8 1273.5,1091.0 1275.5,1091.1 1277.5,1091.3 1279.5,1091.5 1281.5,1091.7 1283.5,1091.9 1285.5,1092.1 1287.5,1092.2 1289.5,1092.4 1291.5,1092.6 1293.5,1092.8 1295.5,1093.0 1297.5,1093.2 1299.5,1093.3 1301.5,1093.5 1303.5,1093.7 1305.5,1093.8 1307.5,1093.9 1309.5,1094.0 1311.5,1094.1 1313.5,1094.2 1315.5,1094.3 1317.5,1094.4 1319.5,1094.5 1321.5,1094.6 1323.5,1094.7 1325.5,1094.8 1327.5,1094.9 1329.5,1095.0 1331.5,1095.1 1333.5,1095.2 1335.5,1095.3 1337.5,1095.4 1339.5,1095.5 1341.5,1095.6"/>
<polyline stroke="#ee77ee" points="307.5,1099.6 309.5,1099.6 311.5,1099.6 313.5,1099.6 315.5,1099.6 317.5,1099.5 319.5,1099.5 321.5,1099.5 323.5,1099.5 325.5,1099.5 327.5,1099.4 329.5,1099.4 331.5,1099.4 333.5,1099.3 335.5,1099.3 337.5,1099.1 339.5,1098.8 341.5,1098.5 343.5,1098.2 345.5,1097.7 347.5,1097.2 349.5,1096.7 351.5,1095.6 353.5,1094.4 355.5,1093.1 357.5,1091.8 359.5,1090.6 361.5,1089.5 363.5,1088.3 365.5,1087.1 367.5,1085.7 369.5,1084.2 371.5,1082.7 373.5,1081.2 375.5,1079.1 377.5,1076.8 379.5,1074.6 381.5,1072.3 383.5,1070.1 385.5,1067.8 387.5,1065.6 389.5,1063.3 391.5,1059.8 393.5,1056.0 395.5,1052.2 397.5,1048.5 399.5,1043.1 401.5,1037.5 403.5,1031.9 405.5,1026.3 407.5,1020.8 409.5,1015.4 411.5,1009.8 413.5,1003.4 415.5,997.0 417.5,990.6 419.5,984.2 421.5,977.4 423.5,970.5 425.5,963.6 427.5,956.6 429.5,949.7 431.5,940.5 433.5,931.1 435.5,921.8 437.5,912.5 439.5,903.3 441.5,894.5 443.5,885.6 445.5,876.8 447.5,868.0 449.5,857.5 451.5,845.7 453.5,834.0 455.5,822.3 457.5,811.0 459.5,800.3 461.5,789.6 463.5,780.1 465.5,770.7 467.5,761.8 469.5,753.7 471.5,745.5 473.5,737.9 475.5,730.4 477.5,722.9 479.5,715.5 481.5,708.1 483.5,700.1 485.5,691.9 487.5,684.4 489.5,678.2 491.5,671.9 493.5,666.7 495.5,661.7 497.5,657.1 499.5,653.4 501.5,649.6 503.5,645.8 505.5,642.0 507.5,638.9 509.5,636.9 511.5,634.8 513.5,632.7 515.5,631.6 517.5,630.5 519.5,629.4 521.5,628.4 523.5,627.9 525.5,627.4 527.5,626.8 529.5,626.2 531.5,626.2 533.5,626.5 535.5,626.8 537.5,627.2 539.5,627.4 541.5,627.5 543.5,627.7 545.5,628.0 547.5,628.4 549.5,628.8 551.5,629.2 553.5,629.6 555.5,630.0 557.5,630.1 559.5,629.4 561.5,628.7 563.5,628.1 565.5,627.4 567.5,626.7 569.5,626.0 571.5,625.3 573.5,624.6 575.5,622.9 577.5,622.6 579.5,622.5 581.5,622.4 583.5,622.2 585.5,621.3 587.5,620.3 589.5,619.4 591.5,618.4 593.5,617.5 595.5,616.2 597.5,614.5 599.5,612.8 601.5,611.0 603.5,609.3 605.5,607.6 607.5,606.4 609.5,605.5 611.5,604.8 613.5,604.0 615.5,603.3 617.5,603.1 619.5,603.0 621.5,602.9 623.5,602.8 625.5,602.9 627.5,602.9 629.5,603.0 631.5,603.4 633.5,604.2 635.5,605.0 637.5,605.8 639.5,607.1 641.5,608.8 643.5,610.5 645.5,612.2 647.5,614.0 649.5,616.1 651.5,618.2 653.5,620.2 655.5,622.6 657.5,625.2 659.5,627.9 661.5,630.5 663.5,633.4 665.5,636.7 667.5,640.1 669.5,643.4 671.5,646.9 673.5,650.7 675.5,654.5 677.5,658.3 679.5,662.4 681.5,667.2 683.5,672.0 685.5,676.9 687.5,681.7 689.5,686.2 691.5,690.7 693.5,695.2 695.5,699.9 697.5,705.5 699.5,711.1 701.5,716.7 703.5,722.2 705.5,726.2 707.5,729.9 709.5,733.7 711.5,737.5 713.5,741.2 715.5,745.0 717.5,748.7 719.5,752.4 721.5,756.1 723.5,759.9 725.5,763.5 727.5,766.9 729.5,770.3 731.5,773.7 733.5,777.1 735.5,780.5 737.5,784.3 739.5,788.0 741.5,791.8 743.5,795.5 745.5,799.3 747.5,802.3 749.5,805.0 751.5,807.6 753.5,810.2 755.5,812.9 757.5,815.5 759.5,818.2 761.5,820.8 763.5,823.5 765.5,826.1 767.5,828.7 769.5,831.1 771.5,833.4 773.5,835.8 775.5,838.1 777.5,840.4 779.5,842.8 781.5,845.1 783.5,847.5 785.5,849.4 787.5,851.0 789.5,852.6 791.5,854.2 793.5,855.8 795.5,857.4 797.5,859.0 799.5,860.6 801.5,862.5 803.5,864.4 805.5,866.3 807.5,868.2 809.5,870.0 811.5,871.9 813.5,873.8 815.5,876.5 817.5,879.7 819.5,882.8 821.5,886.0 823.5,889.1 825.5,892.3 827.5,895.4 829.5,898.5 831.5,901.6 833.5,904.7 835.5,907.9 837.5,911.0 839.5,914.1 841.5,916.5 843.5,918.6 845.5,920.8 847.5,922.9 849.5,925.0 851.5,927.2 853.5,929.3 855.5,931.5 857.5,933.7 859.5,936.0 861.5,938.2 863.5,940.5 865.5,942.7 867.5,945.0 869.5,947.3 871.5,949.5 873.5,951.8 875.5,954.0 877.5,956.3 879.5,958.5 881.5,960.5 883.5,962.4 885.5,964.3 887.5,966.2 889.5,968.1 891.5,969.9 893.5,971.8 895.5,973.7 897.5,975.6 899.5,977.4 901.5,979.3 903.5,981.2 905.5,983.1 907.5,984.7 909.5,986.4 911.5,988.1 913.5,989.8 915.5,991.5 917.5,993.2 919.5,994.9 921.5,996.6 923.5,998.3 925.5,1000.0 927.5,1001.7 929.5,1003.4 931.5,1004.8 933.5,1006.1 935.5,1007.4 937.5,1008.8 939.5,1010.1 941.5,1011.4 943.5,1012.7 945.5,1014.0 947.5,1015.3 949.5,1016.7 951.5,1018.0 953.5,1019.3 955.5,1020.6 957.5,1021.7 959.5,1022.9 961.5,1024.0 963.5,1025.1 965.5,1026.2 967.5,1027.4 969.5,1028.5 971.5,1029.6 973.5,1030.7 975.5,1031.9 977.5,1033.0 979.5,1034.1 981.5,1035.1 983.5,1036.1 985.5,1037.0 987.5,1038.0 989.5,1038.9 991.5,1039.8 993.5,1040.8 995.5,1041.7 997.5,1042.7 999.5,1043.6 1001.5,1044.5 1003.5,1045.5 1005.5,1046.4 1007.5,1047.1 1009.5,1047.9 1011.5,1048.6 1013.5,1049.4 1015.5,1050.1 1017.5,1050.9 1019.5,1051.6 1021.5,1052.4 1023.5,1053.1 1025.5,1053.9 1027.5,1054.6 1029.5,1055.4 1031.5,1056.0 1033.5,1056.4 1035.5,1056.8 1037.5,1057.2 1039.5,1057.6 1041.5,1058.1 1043.5,1058.5 1045.5,1058.9 1047.5,1059.3 1049.5,1059.7 1051.5,1060.2 1053.5,1060.6 1055.5,1061.0 1057.5,1061.5 1059.5,1062.0 1061.5,1062.4 1063.5,1062.9 1065.5,1063.4 1067.5,1063.9 1069.5,1064.4 1071.5,1064.8 1073.5,1065.3 1075.5,1065.8 1077.5,1066.3 1079.5,1066.8 1081.5,1067.2 1083.5,1067.7 1085.5,1068.2 1087.5,1068.7 1089.5,1069.2 1091.5,1069.8 1093.5,1070.3 1095.5,1070.8 1097.5,1071.3 1099.5,1071.8 1101.5,1072.3 1103.5,1072.8 1105.5,1073.3 1107.5,1073.8 1109.5,1074.3 1111.5,1074.7 1113.5,1075.0 1115.5,1075.4 1117.5,1075.7 1119.5,1076.0 1121.5,1076.4 1123.5,1076.7 1125.5,1077.0 1127.5,1077.3 1129.5,1077.7 1131.5,1078.0 1133.5,1078.3 1135.5,1078.7 1137.5,1079.0 1139.5,1079.3 1141.5,1079.6 1143.5,1080.0 1145.5,1080.3 1147.5,1080.6 1149.5,1081.0 1151.5,1081.3 1153.5,1081.5 1155.5,1081.7 1157.5,1081.9 1159.5,1082.0 1161.5,1082.2 1163.5,1082.4 1165.5,1082.6 1167.5,1082.8 1169.5,1083.0 1171.5,1083.2 1173.5,1083.4 1175.5,1083.6 1177.5,1083.8 1179.5,1083.9 1181.5,1084.1 1183.5,1084.3 1185.5,1084.5 1187.5,1084.7 1189.5,1084.9 1191.5,1085.1 1193.5,1085.2 1195.5,1085.4 1197.5,1085.5 1199.5,1085.7 1201.5,1085.8 1203.5,1085.9 1205.5,1086.1 1207.5,1086.2 1209.5,1086.3 1211.5,1086.5 1213.5,1086.6 1215.5,1086.8 1217.5,1086.9 1219.5,1087.0 1221.5,1087.2 1223.5,1087.3 1225.5,1087.5 1227.5,1087.6 1229.5,1087.7 1231.5,1087.9 1233.5,1088.0 1235.5,1088.2 1237.5,1088.3 1239.5,1088.5 1241.5,1088.6 1243.5,1088.7 1245.5,1088.9 1247.5,1089.0 1249.5,1089.2 1251.5,1089.3 1253.5,1089.5 1255.5,1089.6 1257.5,1089.7 1259.5,1089.9 1261.5,1090.0 1263.5,1090.2 1265.5,1090.3 1267.5,1090.5 1269.5,1090.6 1271.5,1090.8 1273.5,1090.9 1275.5,1091.1 1277.5,1091.3 1279.5,1091.5 1281.5,1091.6 1283.5,1091.8 1285.5,1092.0 1287.5,1092.2 1289.5,1092.4 1291.5,1092.6 1293.5,1092.8 1295.5,1092.9 1297.5,1093.1 1299.5,1093.3 1301.5,1093.5 1303.5,1093.7 1305.5,1093.8 1307.5,1093.9 1309.5,1094.0 1311.5,1094.1 1313.5,1094.2 1315.5,1094.3 1317.5,1094.4 1319.5,1094.5 1321.5,1094.6 1323.5,1094.7 1325.5,1094.8 1327.5,1094.9 1329.5,1095.0 1331.5,1095.0 1333.5,1095.1 1335.5,1095.2 1337.5,1095.3 1339.5,1095.4 1341.5,1095.5"/>
<polyline stroke="#ffff00" points="307.5,1099.6 309.5,1099.6 311.5,1099.6 313.5,1099.6 315.5,1099.6 317.5,1099.5 319.5,1099.5 321.5,1099.5 323.5,1099.5 325.5,1099.5 327.5,1099.4 329.5,1099.4 331.5,1099.4 333.5,1099.3 335.5,1099.3 337.5,1099.1 339.5,1098.8 341.5,1098.5 343.5,1098.2 345.5,1097.7 347.5,1097.2 349.5,1096.7 351.5,1095.6 353.5,1094.3 355.5,1093.0 357.5,1091.8 359.5,1090.6 361.5,1089.4 363.5,1088.2 365.5,1087.0 367.5,1085.6 369.5,1084.1 371.5,1082.6 373.5,1081.1 375.5,1079.0 377.5,1076.7 379.5,1074.4 381.5,1072.2 383.5,1069.9 385.5,1067.6 387.5,1065.3 389.5,1063.1 391.5,1059.5 393.5,1055.7 395.5,1051.9 397.5,1048.1 399.5,1042.8 401.5,1037.1 403.5,1031.5 405.5,1025.8 407.5,1020.3 409.5,1014.9 411.5,1009.2 413.5,1002.8 415.5,996.3 417.5,989.8 419.5,983.4 421.5,976.6 423.5,969.6 425.5,962.7 427.5,955.7 429.5,948.7 431.5,939.4 433.5,930.0 435.5,920.6 437.5,911.2 439.5,902.0 441.5,893.1 443.5,884.2 445.5,875.4 447.5,866.5 449.5,855.9 451.5,844.1 453.5,832.3 455.5,820.5 457.5,809.1 459.5,798.3 461.5,787.6 463.5,778.0 465.5,768.5 467.5,759.6 469.5,751.4 471.5,743.2 473.5,735.5 475.5,728.0 477.5,720.4 479.5,713.0 481.5,705.5 483.5,697.4 485.5,689.2 487.5,681.7 489.5,675.4 491.5,669.0 493.5,663.8 495.5,658.8 497.5,654.2 499.5,650.4 501.5,646.6 503.5,642.8 505.5,639.0 507.5,635.7 509.5,633.3 511.5,630.6 513.5,627.5 515.5,625.4 517.5,623.3 519.5,621.2 521.5,619.1 523.5,617.7 525.5,616.3 527.5,615.0 529.5,614.2 531.5,614.4 533.5,614.9 535.5,615.4 537.5,616.0 539.5,616.4 541.5,616.6 543.5,616.9 545.5,617.2 547.5,618.1 549.5,619.0 551.5,619.9 553.5,620.9 555.5,621.8 557.5,622.4 559.5,622.3 561.5,622.2 563.5,622.1 565.5,622.0 567.5,621.2 569.5,620.0 571.5,618.9 573.5,617.7 575.5,615.6 577.5,614.8 579.5,614.3 581.5,613.8 583.5,613.2 585.5,611.8 587.5,610.4 589.5,609.0 591.5,607.8 593.5,606.6 595.5,605.6 597.5,604.7 599.5,603.7 601.5,602.8 603.5,601.9 605.5,600.9 607.5,600.5 609.5,600.2 611.5,599.9 613.5,599.7 615.5,599.4 617.5,599.6 619.5,600.0 621.5,600.3 623.5,600.6 625.5,600.7 627.5,600.8 629.5,600.9 631.5,601.4 633.5,602.3 635.5,603.1 637.5,604.0 639.5,605.1 641.5,606.7 643.5,608.2 645.5,609.7 647.5,611.4 649.5,613.4 651.5,615.3 653.5,617.2 655.5,619.4 657.5,622.1 659.5,624.7 661.5,627.4 663.5,630.3 665.5,633.7 667.5,637.0 669.5,640.4 671.5,643.9 673.5,647.7 675.5,651.5 677.5,655.4 679.5,659.5 681.5,664.3 683.5,669.2 685.5,674.1 687.5,678.9 689.5,683.4 691.5,688.0 693.5,692.6 695.5,697.2 697.5,702.8 699.5,708.5 701.5,714.1 703.5,719.7 705.5,723.7 707.5,727.5 709.5,731.3 711.5,735.1 713.5,738.8 715.5,742.6 717.5,746.3 719.5,750.1 721.5,753.8 723.5,757.6 725.5,761.3 727.5,764.7 729.5,768.1 731.5,771.5 733.5,775.0 735.5,778.4 737.5,782.2 739.5,785.9 741.5,789.7 743.5,793.5 745.5,797.3 747.5,800.3 749.5,803.0 751.5,805.7 753.5,808.3 755.5,811.0 757.5,813.6 759.5,816.3 761.5,819.0 763.5,821.6 765.5,824.3 767.5,826.9 769.5,829.3 771.5,831.6 773.5,834.0 775.5,836.4 777.5,838.7 779.5,841.1 781.5,843.4 783.5,845.8 785.5,847.7 787.5,849.4 789.5,851.0 791.5,852.6 793.5,854.2 795.5,855.8 797.5,857.4 799.5,859.1 801.5,861.0 803.5,862.8 805.5,864.7 807.5,866.6 809.5,868.5 811.5,870.4 813.5,872.3 815.5,875.0 817.5,878.2 819.5,881.4 821.5,884.5 823.5,887.7 825.5,890.9 827.5,894.1 829.5,897.2 831.5,900.3 833.5,903.5 835.5,906.6 837.5,909.7 839.5,912.9 841.5,915.3 843.5,917.4 845.5,919.6 847.5,921.7 849.5,923.9 851.5,926.0 853.5,928.2 855.5,930.4 857.5,932.6 859.5,934.9 861.5,937.2 863.5,939.4 865.5,941.7 867.5,944.0 869.5,946.2 871.5,948.5 873.5,950.8 875.5,953.0 877.5,955.3 879.5,957.6 881.5,959.6 883.5,961.5 885.5,963.4 887.5,965.3 889.5,967.2 891.5,969.1 893.5,971.0 895.5,972.9 897.5,974.7 899.5,976.6 901.5,978.5 903.5,980.4 905.5,982.3 907.5,984.0 909.5,985.7 911.5,987.4 913.5,989.1 915.5,990.8 917.5,992.5 919.5,994.2 921.5,995.9 923.5,997.6 925.5,999.3 927.5,1001.0 929.5,1002.7 931.5,1004.2 933.5,1005.5 935.5,1006.8 937.5,1008.2 939.5,1009.5 941.5,1010.8 943.5,1012.1 945.5,1013.5 947.5,1014.8 949.5,1016.1 951.5,1017.4 953.5,1018.8 955.5,1020.1 957.5,1021.2 959.5,1022.3 961.5,1023.5 963.5,1024.6 965.5,1025.7 967.5,1026.9 969.5,1028.0 971.5,1029.2 973.5,1030.3 975.5,1031.4 977.5,1032.6 979.5,1033.7 981.5,1034.7 983.5,1035.7 985.5,1036.6 987.5,1037.6 989.5,1038.5 991.5,1039.4 993.5,1040.4 995.5,1041.3 997.5,1042.3 999.5,1043.2 1001.5,1044.2 1003.5,1045.1 1005.5,1046.0 1007.5,1046.8 1009.5,1047.6 1011.5,1048.3 1013.5,1049.1 1015.5,1049.8 1017.5,1050.6 1019.5,1051.3 1021.5,1052.1 1023.5,1052.8 1025.5,1053.6 1027.5,1054.3 1029.5,1055.1 1031.5,1055.7 1033.5,1056.1 1035.5,1056.5 1037.5,1056.9 1039.5,1057.4 1041.5,1057.8 1043.5,1058.2 1045.5,1058.6 1047.5,1059.1 1049.5,1059.5 1051.5,1059.9 1053.5,1060.3 1055.5,1060.7 1057.5,1061.2 1059.5,1061.7 1061.5,1062.2 1063.5,1062.7 1065.5,1063.2 1067.5,1063.6 1069.5,1064.1 1071.5,1064.6 1073.5,1065.1 1075.5,1065.6 1077.5,1066.1 1079.5,1066.5 1081.5,1067.0 1083.5,1067.5 1085.5,1068.0 1087.5,1068.5 1089.5,1069.0 1091.5,1069.6 1093.5,1070.1 1095.5,1070.6 1097.5,1071.1 1099.5,1071.6 1101.5,1072.1 1103.5,1072.6 1105.5,1073.1 1107.5,1073.6 1109.5,1074.1 1111.5,1074.5 1113.5,1074.9 1115.5,1075.2 1117.5,1075.5 1119.5,1075.9 1121.5,1076.2 1123.5,1076.5 1125.5,1076.9 1127.5,1077.2 1129.5,1077.5 1131.5,1077.9 1133.5,1078.2 1135.5,1078.5 1137.5,1078.9 1139.5,1079.2 1141.5,1079.5 1143.5,1079.8 1145.5,1080.2 1147.5,1080.5 1149.5,1080.8 1151.5,1081.2 1153.5,1081.4 1155.5,1081.5 1157.5,1081.7 1159.5,1081.9 1161.5,1082.1 1163.5,1082.3 1165.5,1082.5 1167.5,1082.7 1169.5,1082.9 1171.5,1083.1 1173.5,1083.3 1175.5,1083.5 1177.5,1083.7 1179.5,1083.8 1181.5,1084.0 1183.5,1084.2 1185.5,1084.4 1187.5,1084.6 1189.5,1084.8 1191.5,1085.0 1193.5,1085.1 1195.5,1085.3 1197.5,1085.4 1199.5,1085.6 1201.5,1085.7 1203.5,1085.8 1205.5,1086.0 1207.5,1086.1 1209.5,1086.3 1211.5,1086.4 1213.5,1086.5 1215.5,1086.7 1217.5,1086.8 1219.5,1087.0 1221.5,1087.1 1223.5,1087.2 1225.5,1087.4 1227.5,1087.5 1229.5,1087.7 1231.5,1087.8 1233.5,1087.9 1235.5,1088.1 1237.5,1088.2 1239.5,1088.4 1241.5,1088.5 1243.5,1088.7 1245.5,1088.8 1247.5,1089.0 1249.5,1089.1 1251.5,1089.2 1253.5,1089.4 1255.5,1089.5 1257.5,1089.7 1259.5,1089.8 1261.5,1090.0 1263.5,1090.1 1265.5,1090.3 1267.5,1090.4 1269.5,1090.6 1271.5,1090.7 1273.5,1090.9 1275.5,1091.0 1277.5,1091.2 1279.5,1091.4 1281.5,1091.6 1283.5,1091.8 1285.5,1092.0 1287.5,1092.2 1289.5,1092.3 1291.5,1092.5 1293.5,1092.7 1295.5,1092.9 1297.5,1093.1 1299.5,1093.3 1301.5,1093.5 1303.5,1093.6 1305.5,1093.7 1307.5,1093.8 1309.5,1093.9 1311.5,1094.0 1313.5,1094.1 1315.5,1094.2 1317.5,1094.3 1319.5,1094.4 1321.5,1094.5 1323.5,1094.6 1325.5,1094.7 1327.5,1094.8 1329.5,1094.9 1331.5,1095.0 1333.5,1095.1 1335.5,1095.2 1337.5,1095.3 1339.5,1095.4 1341.5,1095.5"/>
<polyline stroke="#3030ff" points="307.5,1099.6 309.5,1099.6 311.5,1099.6 313.5,1099.6 315.5,1099.6 317.5,1099.5 319.5,1099.5 321.5,1099.5 323.5,1099.5 325.5,1099.5 327.5,1099.4 329.5,1099.4 331.5,1099.4 333.5,1099.3 335.5,1099.3 337.5,1099.1 339.5,1098.8 341.5,1098.5 343.5,1098.1 345.5,1097.7 347.5,1097.2 349.5,1096.7 351.5,1095.6 353.5,1094.3 355.5,1093.0 357.5,1091.7 359.5,1090.5 361.5,1089.3 363.5,1088.2 365.5,1087.0 367.5,1085.5 369.5,1084.0 371.5,1082.5 373.5,1081.0 375.5,1078.8 377.5,1076.6 379.5,1074.3 381.5,1072.0 383.5,1069.7 385.5,1067.4 387.5,1065.1 389.5,1062.8 391.5,1059.3 393.5,1055.5 395.5,1051.7 397.5,1047.9 399.5,1042.5 401.5,1036.8 403.5,1031.1 405.5,1025.4 407.5,1019.9 409.5,1014.4 411.5,1008.7 413.5,1002.2 415.5,995.7 417.5,989.2 419.5,982.7 421.5,975.9 423.5,968.9 425.5,961.9 427.5,954.9 429.5,947.8 431.5,938.5 433.5,929.1 435.5,919.6 437.5,910.2 439.5,900.8 441.5,891.9 443.5,883.0 445.5,874.1 447.5,865.2 449.5,854.5 451.5,842.6 453.5,830.7 455.5,818.9 457.5,807.4 459.5,796.6 461.5,785.8 463.5,776.2 465.5,766.7 467.5,757.7 469.5,749.4 471.5,741.1 473.5,733.5 475.5,725.9 477.5,718.3 479.5,710.8 481.5,703.3 483.5,695.2 485.5,686.9 487.5,679.3 489.5,672.9 491.5,666.6 493.5,661.3 495.5,656.3 497.5,651.7 499.5,647.9 501.5,644.0 503.5,640.2 505.5,636.4 507.5,633.0 509.5,630.7 511.5,628.4 513.5,626.1 515.5,624.9 517.5,623.6 519.5,622.3 521.5,621.1 523.5,620.5 525.5,620.0 527.5,619.4 529.5,618.7 531.5,618.7 533.5,618.9 535.5,619.2 537.5,619.5 539.5,619.6 541.5,619.6 543.5,619.7 545.5,619.7 547.5,619.7 549.5,619.8 551.5,619.8 553.5,619.9 555.5,619.9 557.5,620.0 559.5,620.1 561.5,620.2 563.5,619.4 565.5,618.5 567.5,617.6 569.5,616.6 571.5,615.8 573.5,615.5 575.5,614.3 577.5,613.1 579.5,611.8 581.5,611.1 583.5,610.8 585.5,609.8 587.5,608.7 589.5,607.7 591.5,606.6 593.5,605.6 595.5,604.6 597.5,603.8 599.5,603.1 601.5,602.1 603.5,601.1 605.5,600.1 607.5,599.7 609.5,599.4 611.5,599.2 613.5,598.9 615.5,598.4 617.5,598.5 619.5,598.6 621.5,598.7 623.5,598.9 625.5,599.0 627.5,599.1 629.5,599.3 631.5,599.8 633.5,600.6 635.5,601.3 637.5,601.9 639.5,603.0 641.5,604.4 643.5,605.8 645.5,607.3 647.5,608.9 649.5,610.7 651.5,612.6 653.5,614.5 655.5,616.7 657.5,619.4 659.5,622.0 661.5,624.7 663.5,627.6 665.5,631.0 667.5,634.4 669.5,637.8 671.5,641.3 673.5,645.2 675.5,649.0 677.5,652.9 679.5,657.0 681.5,661.9 683.5,666.8 685.5,671.7 687.5,676.5 689.5,681.1 691.5,685.7 693.5,690.2 695.5,694.9 697.5,700.6 699.5,706.3 701.5,711.9 703.5,717.6 705.5,721.6 707.5,725.4 709.5,729.2 711.5,733.0 713.5,736.8 715.5,740.6 717.5,744.3 719.5,748.1 721.5,751.9 723.5,755.7 725.5,759.3 727.5,762.8 729.5,766.2 731.5,769.7 733.5,773.1 735.5,776.6 737.5,780.4 739.5,784.2 741.5,788.0 743.5,791.8 745.5,795.6 747.5,798.7 749.5,801.3 751.5,804.0 753.5,806.7 755.5,809.3 757.5,812.0 759.5,814.7 761.5,817.4 763.5,820.0 765.5,822.7 767.5,825.4 769.5,827.8 771.5,830.1 773.5,832.5 775.5,834.9 777.5,837.2 779.5,839.6 781.5,842.0 783.5,844.4 785.5,846.3 787.5,847.9 789.5,849.6 791.5,851.2 793.5,852.8 795.5,854.4 797.5,856.0 799.5,857.7 801.5,859.6 803.5,861.5 805.5,863.4 807.5,865.3 809.5,867.2 811.5,869.1 813.5,871.0 815.5,873.8 817.5,876.9 819.5,880.1 821.5,883.3 823.5,886.5 825.5,889.7 827.5,892.9 829.5,896.0 831.5,899.2 833.5,902.3 835.5,905.5 837.5,908.6 839.5,911.8 841.5,914.2 843.5,916.4 845.5,918.5 847.5,920.7 849.5,922.9 851.5,925.0 853.5,927.2 855.5,929.4 857.5,931.7 859.5,934.0 861.5,936.2 863.5,938.5 865.5,940.8 867.5,943.1 869.5,945.4 871.5,947.7 873.5,949.9 875.5,952.2 877.5,954.5 879.5,956.8 881.5,958.8 883.5,960.7 885.5,962.6 887.5,964.5 889.5,966.4 891.5,968.3 893.5,970.2 895.5,972.1 897.5,974.0 899.5,975.9 901.5,977.8 903.5,979.7 905.5,981.6 907.5,983.3 909.5,985.0 911.5,986.8 913.5,988.5 915.5,990.2 917.5,991.9 919.5,993.6 921.5,995.3 923.5,997.0 925.5,998.7 927.5,1000.5 929.5,1002.2 931.5,1003.6 933.5,1005.0 935.5,1006.3 937.5,1007.6 939.5,1009.0 941.5,1010.3 943.5,1011.6 945.5,1013.0 947.5,1014.3 949.5,1015.6 951.5,1017.0 953.5,1018.3 955.5,1019.6 957.5,1020.8 959.5,1021.9 961.5,1023.0 963.5,1024.2 965.5,1025.3 967.5,1026.5 969.5,1027.6 971.5,1028.8 973.5,1029.9 975.5,1031.0 977.5,1032.2 979.5,1033.3 981.5,1034.3 983.5,1035.3 985.5,1036.2 987.5,1037.2 989.5,1038.2 991.5,1039.1 993.5,1040.1 995.5,1041.0 997.5,1042.0 999.5,1042.9 1001.5,1043.9 1003.5,1044.8 1005.5,1045.7 1007.5,1046.5 1009.5,1047.3 1011.5,1048.0 1013.5,1048.8 1015.5,1049.5 1017.5,1050.3 1019.5,1051.0 1021.5,1051.8 1023.5,1052.6 1025.5,1053.3 1027.5,1054.1 1029.5,1054.8 1031.5,1055.4 1033.5,1055.8 1035.5,1056.3 1037.5,1056.7 1039.5,1057.1 1041.5,1057.5 1043.5,1058.0 1045.5,1058.4 1047.5,1058.8 1049.5,1059.2 1051.5,1059.7 1053.5,1060.1 1055.5,1060.5 1057.5,1061.0 1059.5,1061.5 1061.5,1062.0 1063.5,1062.5 1065.5,1063.0 1067.5,1063.4 1069.5,1063.9 1071.5,1064.4 1073.5,1064.9 1075.5,1065.4 1077.5,1065.9 1079.5,1066.4 1081.5,1066.8 1083.5,1067.4 1085.5,1067.9 1087.5,1068.4 1089.5,1068.9 1091.5,1069.4 1093.5,1069.9 1095.5,1070.4 1097.5,1070.9 1099.5,1071.4 1101.5,1071.9 1103.5,1072.4 1105.5,1072.9 1107.5,1073.4 1109.5,1073.9 1111.5,1074.4 1113.5,1074.7 1115.5,1075.1 1117.5,1075.4 1119.5,1075.7 1121.5,1076.1 1123.5,1076.4 1125.5,1076.7 1127.5,1077.1 1129.5,1077.4 1131.5,1077.7 1133.5,1078.1 1135.5,1078.4 1137.5,1078.7 1139.5,1079.1 1141.5,1079.4 1143.5,1079.7 1145.5,1080.1 1147.5,1080.4 1149.5,1080.7 1151.5,1081.1 1153.5,1081.3 1155.5,1081.4 1157.5,1081.6 1159.5,1081.8 1161.5,1082.0 1163.5,1082.2 1165.5,1082.4 1167.5,1082.6 1169.5,1082.8 1171.5,1083.0 1173.5,1083.2 1175.5,1083.4 1177.5,1083.6 1179.5,1083.8 1181.5,1083.9 1183.5,1084.1 1185.5,1084.3 1187.5,1084.5 1189.5,1084.7 1191.5,1084.9 1193.5,1085.1 1195.5,1085.2 1197.5,1085.3 1199.5,1085.5 1201.5,1085.6 1203.5,1085.8 1205.5,1085.9 1207.5,1086.0 1209.5,1086.2 1211.5,1086.3 1213.5,1086.5 1215.5,1086.6 1217.5,1086.7 1219.5,1086.9 1221.5,1087.0 1223.5,1087.2 1225.5,1087.3 1227.5,1087.5 1229.5,1087.6 1231.5,1087.7 1233.5,1087.9 1235.5,1088.0 1237.5,1088.2 1239.5,1088.3 1241.5,1088.5 1243.5,1088.6 1245.5,1088.8 1247.5,1088.9 1249.5,1089.0 1251.5,1089.2 1253.5,1089.3 1255.5,1089.5 1257.5,1089.6 1259.5,1089.8 1261.5,1089.9 1263.5,1090.1 1265.5,1090.2 1267.5,1090.4 1269.5,1090.5 1271.5,1090.6 1273.5,1090.8 1275.5,1091.0 1277.5,1091.2 1279.5,1091.4 1281.5,1091.6 1283.5,1091.7 1285.5,1091.9 1287.5,1092.1 1289.5,1092.3 1291.5,1092.5 1293.5,1092.7 1295.5,1092.9 1297.5,1093.0 1299.5,1093.2 1301.5,1093.4 1303.5,1093.6 1305.5,1093.7 1307.5,1093.8 1309.5,1093.9 1311.5,1094.0 1313.5,1094.1 1315.5,1094.2 1317.5,1094.3 1319.5,1094.4 1321.5,1094.5 1323.5,1094.6 1325.5,1094.7 1327.5,1094.8 1329.5,1094.9 1331.5,1095.0 1333.5,1095.1 1335.5,1095.2 1337.5,1095.3 1339.5,1095.4 1341.5,1095.5"/>
<polyline stroke="#0000ff" points="307.5,1099.6 309.5,1099.6 311.5,1099.6 313.5,1099.6 315.5,1099.6 317.5,1099.5 319.5,1099.5 321.5,1099.5 323.5,1099.5 325.5,1099.5 327.5,1099.4 329.5,1099.4 331.5,1099.4 333.5,1099.3 335.5,1099.3 337.5,1099.1 339.5,1098.8 341.5,1098.5 343.5,1098.1 345.5,1097.6 347.5,1097.2 349.5,1096.7 351.5,1095.6 353.5,1094.3 355.5,1093.0 357.5,1091.7 359.5,1090.5 361.5,1089.3 363.5,1088.1 365.5,1086.9 367.5,1085.4 369.5,1083.9 371.5,1082.4 373.5,1080.9 375.5,1078.7 377.5,1076.4 379.5,1074.1 381.5,1071.8 383.5,1069.5 385.5,1067.2 387.5,1064.9 389.5,1062.6 391.5,1059.0 393.5,1055.2 395.5,1051.4 397.5,1047.5 399.5,1042.1 401.5,1036.4 403.5,1030.7 405.5,1025.0 407.5,1019.4 409.5,1013.9 411.5,1008.2 413.5,1001.6 415.5,995.1 417.5,988.6 419.5,982.0 421.5,975.2 423.5,968.1 425.5,961.1 427.5,954.0 429.5,946.9 431.5,937.6 433.5,928.0 435.5,918.5 437.5,909.0 439.5,899.7 441.5,890.7 443.5,881.7 445.5,872.7 447.5,863.8 449.5,853.0 451.5,841.1 453.5,829.1 455.5,817.2 457.5,805.7 459.5,794.8 461.5,783.9 463.5,774.2 465.5,764.7 467.5,755.6 469.5,747.3 471.5,739.0 473.5,731.3 475.5,723.6 477.5,716.0 479.5,708.5 481.5,700.9 483.5,692.7 485.5,684.4 487.5,676.8 489.5,670.4 491.5,664.0 493.5,658.7 495.5,653.6 497.5,649.0 499.5,645.1 501.5,641.3 503.5,637.5 505.5,633.6 507.5,630.2 509.5,627.9 511.5,625.7 513.5,623.4 515.5,622.2 517.5,620.9 519.5,619.7 521.5,618.5 523.5,617.9 525.5,617.4 527.5,616.9 529.5,616.2 531.5,616.1 533.5,616.4 535.5,616.7 537.5,617.0 539.5,617.1 541.5,617.1 543.5,617.2 545.5,617.2 547.5,617.2 549.5,617.3 551.5,617.3 553.5,617.4 555.5,617.4 557.5,617.5 559.5,617.6 561.5,617.7 563.5,616.9 565.5,616.0 567.5,615.1 569.5,614.1 571.5,613.3 573.5,613.0 575.5,611.8 577.5,610.6 579.5,609.3 581.5,608.6 583.5,608.3 585.5,607.3 587.5,606.2 589.5,605.2 591.5,604.1 593.5,603.1 595.5,602.1 597.5,601.3 599.5,600.6 601.5,599.6 603.5,598.6 605.5,597.6 607.5,597.1 609.5,596.9 611.5,596.7 613.5,596.4 615.5,595.9 617.5,596.0 619.5,596.1 621.5,596.2 623.5,596.4 625.5,596.5 627.5,596.6 629.5,596.8 631.5,597.3 633.5,598.1 635.5,598.7 637.5,599.3 639.5,600.3 641.5,601.7 643.5,603.1 645.5,604.5 647.5,606.0 649.5,607.8 651.5,609.6 653.5,611.6 655.5,613.8 657.5,616.5 659.5,619.2 661.5,621.9 663.5,624.8 665.5,628.2 667.5,631.6 669.5,635.0 671.5,638.5 673.5,642.4 675.5,646.3 677.5,650.2 679.5,654.3 681.5,659.2 683.5,664.2 685.5,669.1 687.5,674.0 689.5,678.6 691.5,683.2 693.5,687.8 695.5,692.5 697.5,698.2 699.5,703.9 701.5,709.6 703.5,715.3 705.5,719.3 707.5,723.1 709.5,727.0 711.5,730.8 713.5,734.6 715.5,738.4 717.5,742.2 719.5,746.0 721.5,749.8 723.5,753.6 725.5,757.3 727.5,760.8 729.5,764.2 731.5,767.7 733.5,771.2 735.5,774.6 737.5,778.4 739.5,782.3 741.5,786.1 743.5,789.9 745.5,793.8 747.5,796.8 749.5,799.5 751.5,802.2 753.5,804.9 755.5,807.6 757.5,810.3 759.5,813.0 761.5,815.7 763.5,818.4 765.5,821.1 767.5,823.7 769.5,826.1 771.5,828.5 773.5,830.9 775.5,833.3 777.5,835.7 779.5,838.1 781.5,840.4 783.5,842.8 785.5,844.8 787.5,846.4 789.5,848.1 791.5,849.7 793.5,851.3 795.5,853.0 797.5,854.6 799.5,856.2 801.5,858.2 803.5,860.1 805.5,862.0 807.5,863.9 809.5,865.8 811.5,867.7 813.5,869.6 815.5,872.4 817.5,875.6 819.5,878.8 821.5,882.0 823.5,885.2 825.5,888.5 827.5,891.6 829.5,894.8 831.5,898.0 833.5,901.2 835.5,904.3 837.5,907.5 839.5,910.7 841.5,913.1 843.5,915.3 845.5,917.5 847.5,919.6 849.5,921.8 851.5,924.0 853.5,926.2 855.5,928.4 857.5,930.7 859.5,933.0 861.5,935.3 863.5,937.6 865.5,939.9 867.5,942.2 869.5,944.4 871.5,946.7 873.5,949.0 875.5,951.3 877.5,953.6 879.5,955.9 881.5,958.0 883.5,959.9 885.5,961.8 887.5,963.7 889.5,965.6 891.5,967.5 893.5,969.5 895.5,971.4 897.5,973.3 899.5,975.2 901.5,977.1 903.5,979.0 905.5,980.9 907.5,982.6 909.5,984.4 911.5,986.1 913.5,987.8 915.5,989.5 917.5,991.2 919.5,993.0 921.5,994.7 923.5,996.4 925.5,998.1 927.5,999.9 929.5,1001.6 931.5,1003.1 933.5,1004.4 935.5,1005.7 937.5,1007.1 939.5,1008.4 941.5,1009.8 943.5,1011.1 945.5,1012.4 947.5,1013.8 949.5,1015.1 951.5,1016.5 953.5,1017.8 955.5,1019.1 957.5,1020.3 959.5,1021.4 961.5,1022.6 963.5,1023.7 965.5,1024.9 967.5,1026.0 969.5,1027.2 971.5,1028.3 973.5,1029.5 975.5,1030.6 977.5,1031.8 979.5,1032.9 981.5,1034.0 983.5,1034.9 985.5,1035.9 987.5,1036.8 989.5,1037.8 991.5,1038.7 993.5,1039.7 995.5,1040.7 997.5,1041.6 999.5,1042.6 1001.5,1043.5 1003.5,1044.5 1005.5,1045.4 1007.5,1046.2 1009.5,1046.9 1011.5,1047.7 1013.5,1048.5 1015.5,1049.2 1017.5,1050.0 1019.5,1050.8 1021.5,1051.5 1023.5,1052.3 1025.5,1053.0 1027.5,1053.8 1029.5,1054.6 1031.5,1055.1 1033.5,1055.6 1035.5,1056.0 1037.5,1056.4 1039.5,1056.9 1041.5,1057.3 1043.5,1057.7 1045.5,1058.1 1047.5,1058.6 1049.5,1059.0 1051.5,1059.4 1053.5,1059.9 1055.5,1060.3 1057.5,1060.8 1059.5,1061.3 1061.5,1061.8 1063.5,1062.2 1065.5,1062.7 1067.5,1063.2 1069.5,1063.7 1071.5,1064.2 1073.5,1064.7 1075.5,1065.2 1077.5,1065.7 1079.5,1066.2 1081.5,1066.7 1083.5,1067.2 1085.5,1067.7 1087.5,1068.2 1089.5,1068.7 1091.5,1069.2 1093.5,1069.7 1095.5,1070.2 1097.5,1070.7 1099.5,1071.2 1101.5,1071.7 1103.5,1072.3 1105.5,1072.8 1107.5,1073.3 1109.5,1073.8 1111.5,1074.2 1113.5,1074.6 1115.5,1074.9 1117.5,1075.3 1119.5,1075.6 1121.5,1075.9 1123.5,1076.3 1125.5,1076.6 1127.5,1076.9 1129.5,1077.3 1131.5,1077.6 1133.5,1077.9 1135.5,1078.3 1137.5,1078.6 1139.5,1078.9 1141.5,1079.3 1143.5,1079.6 1145.5,1080.0 1147.5,1080.3 1149.5,1080.6 1151.5,1081.0 1153.5,1081.1 1155.5,1081.3 1157.5,1081.5 1159.5,1081.7 1161.5,1081.9 1163.5,1082.1 1165.5,1082.3 1167.5,1082.5 1169.5,1082.7 1171.5,1082.9 1173.5,1083.1 1175.5,1083.3 1177.5,1083.5 1179.5,1083.7 1181.5,1083.8 1183.5,1084.0 1185.5,1084.2 1187.5,1084.4 1189.5,1084.6 1191.5,1084.8 1193.5,1085.0 1195.5,1085.1 1197.5,1085.3 1199.5,1085.4 1201.5,1085.5 1203.5,1085.7 1205.5,1085.8 1207.5,1086.0 1209.5,1086.1 1211.5,1086.2 1213.5,1086.4 1215.5,1086.5 1217.5,1086.7 1219.5,1086.8 1221.5,1087.0 1223.5,1087.1 1225.5,1087.2 1227.5,1087.4 1229.5,1087.5 1231.5,1087.7 1233.5,1087.8 1235.5,1088.0 1237.5,1088.1 1239.5,1088.2 1241.5,1088.4 1243.5,1088.5 1245.5,1088.7 1247.5,1088.8 1249.5,1089.0 1251.5,1089.1 1253.5,1089.3 1255.5,1089.4 1257.5,1089.6 1259.5,1089.7 1261.5,1089.9 1263.5,1090.0 1265.5,1090.2 1267.5,1090.3 1269.5,1090.4 1271.5,1090.6 1273.5,1090.7 1275.5,1090.9 1277.5,1091.1 1279.5,1091.3 1281.5,1091.5 1283.5,1091.7 1285.5,1091.9 1287.5,1092.1 1289.5,1092.3 1291.5,1092.4 1293.5,1092.6 1295.5,1092.8 1297.5,1093.0 1299.5,1093.2 1301.5,1093.4 1303.5,1093.6 1305.5,1093.7 1307.5,1093.8 1309.5,1093.9 1311.5,1094.0 1313.5,1094.1 1315.5,1094.2 1317.5,1094.3 1319.5,1094.4 1321.5,1094.5 1323.5,1094.6 1325.5,1094.7 1327.5,1094.8 1329.5,1094.9 1331.5,1095.0 1333.5,1095.1 1335.5,1095.2 1337.5,1095.3 1339.5,1095.4 1341.5,1095.5"/>
<polyline stroke="#00ff00" points="307.5,1099.6 309.5,1099.6 311.5,1099.6 313.5,1099.6 315.5,1099.6 317.5,1099.5 319.5,1099.5 321.5,1099.5 323.5,1099.5 325.5,1099.5 327.5,1099.4 329.5,1099.4 331.5,1099.3 333.5,1099.3 335.5,1099.3 337.5,1099.1 339.5,1098.8 341.5,1098.5 343.5,1098.1 345.5,1097.6 347.5,1097.1 349.5,1096.6 351.5,1095.5 353.5,1094.2 355.5,1092.9 357.5,1091.6 359.5,1090.4 361.5,1089.2 363.5,1088.0 365.5,1086.8 367.5,1085.3 369.5,1083.8 371.5,1082.2 373.5,1080.7 375.5,1078.5 377.5,1076.2 379.5,1073.9 381.5,1071.6 383.5,1069.3 385.5,1066.9 387.5,1064.6 389.5,1062.3 391.5,1058.7 393.5,1054.8 395.5,1050.9 397.5,1047.1 399.5,1041.6 401.5,1035.8 403.5,1030.0 405.5,1024.3 407.5,1018.7 409.5,1013.1 411.5,1007.4 413.5,1000.8 415.5,994.2 417.5,987.5 419.5,980.9 421.5,974.0 423.5,966.9 425.5,959.8 427.5,952.7 429.5,945.5 431.5,936.1 433.5,926.5 435.5,916.9 437.5,907.3 439.5,897.8 441.5,888.8 443.5,879.7 445.5,870.7 447.5,861.6 449.5,850.8 451.5,838.7 453.5,826.7 455.5,814.6 457.5,803.0 459.5,792.0 461.5,781.0 463.5,771.3 465.5,761.6 467.5,752.5 469.5,744.1 471.5,735.7 473.5,727.9 475.5,720.2 477.5,712.5 479.5,704.9 481.5,697.3 483.5,689.0 485.5,680.6 487.5,672.9 489.5,666.5 491.5,660.0 493.5,654.7 495.5,649.5 497.5,644.9 499.5,641.0 501.5,637.1 503.5,633.2 505.5,629.3 507.5,626.0 509.5,623.6 511.5,620.9 513.5,617.9 515.5,616.0 517.5,614.1 519.5,612.2 521.5,610.3 523.5,609.1 525.5,607.9 527.5,606.8 529.5,605.8 531.5,605.6 533.5,605.8 535.5,605.9 537.5,606.0 539.5,606.0 541.5,605.9 543.5,606.1 545.5,606.9 547.5,607.7 549.5,608.5 551.5,609.3 553.5,609.9 555.5,610.4 557.5,610.9 559.5,611.4 561.5,612.0 563.5,611.7 565.5,611.3 567.5,610.9 569.5,610.4 571.5,609.9 573.5,609.3 575.5,607.8 577.5,606.2 579.5,604.7 581.5,603.3 583.5,602.0 585.5,600.0 587.5,598.0 589.5,595.9 591.5,594.4 593.5,593.0 595.5,591.7 597.5,590.6 599.5,589.6 601.5,589.8 603.5,589.9 605.5,589.9 607.5,590.2 609.5,590.7 611.5,591.1 613.5,591.5 615.5,591.3 617.5,591.8 619.5,592.3 621.5,592.3 623.5,592.2 625.5,592.0 627.5,591.9 629.5,591.8 631.5,592.0 633.5,592.7 635.5,593.3 637.5,593.9 639.5,594.9 641.5,595.7 643.5,596.2 645.5,596.7 647.5,597.4 649.5,598.3 651.5,600.4 653.5,602.9 655.5,605.7 657.5,609.0 659.5,612.3 661.5,615.6 663.5,619.2 665.5,623.2 667.5,627.2 669.5,630.8 671.5,634.3 673.5,638.2 675.5,642.2 677.5,646.1 679.5,650.2 681.5,655.2 683.5,660.2 685.5,665.2 687.5,670.1 689.5,674.7 691.5,679.4 693.5,684.0 695.5,688.8 697.5,694.5 699.5,700.3 701.5,706.0 703.5,711.8 705.5,715.8 707.5,719.7 709.5,723.6 711.5,727.4 713.5,731.3 715.5,735.1 717.5,738.9 719.5,742.8 721.5,746.6 723.5,750.4 725.5,754.2 727.5,757.7 729.5,761.2 731.5,764.7 733.5,768.2 735.5,771.7 737.5,775.5 739.5,779.4 741.5,783.2 743.5,787.1 745.5,791.0 747.5,794.1 749.5,796.8 751.5,799.5 753.5,802.2 755.5,804.9 757.5,807.7 759.5,810.4 761.5,813.1 763.5,815.8 765.5,818.5 767.5,821.2 769.5,823.6 771.5,826.0 773.5,828.4 775.5,830.8 777.5,833.3 779.5,835.7 781.5,838.1 783.5,840.5 785.5,842.5 787.5,844.1 789.5,845.8 791.5,847.4 793.5,849.1 795.5,850.7 797.5,852.3 799.5,854.0 801.5,856.0 803.5,857.9 805.5,859.8 807.5,861.7 809.5,863.7 811.5,865.6 813.5,867.5 815.5,870.3 817.5,873.6 819.5,876.8 821.5,880.0 823.5,883.3 825.5,886.5 827.5,889.7 829.5,892.9 831.5,896.1 833.5,899.3 835.5,902.5 837.5,905.7 839.5,908.9 841.5,911.4 843.5,913.6 845.5,915.8 847.5,918.0 849.5,920.2 851.5,922.4 853.5,924.6 855.5,926.8 857.5,929.1 859.5,931.4 861.5,933.8 863.5,936.1 865.5,938.4 867.5,940.7 869.5,943.0 871.5,945.3 873.5,947.7 875.5,950.0 877.5,952.3 879.5,954.6 881.5,956.7 883.5,958.6 885.5,960.5 887.5,962.5 889.5,964.4 891.5,966.3 893.5,968.3 895.5,970.2 897.5,972.1 899.5,974.1 901.5,976.0 903.5,977.9 905.5,979.8 907.5,981.6 909.5,983.3 911.5,985.0 913.5,986.8 915.5,988.5 917.5,990.3 919.5,992.0 921.5,993.7 923.5,995.5 925.5,997.2 927.5,998.9 929.5,1000.7 931.5,1002.2 933.5,1003.5 935.5,1004.9 937.5,1006.2 939.5,1007.6 941.5,1008.9 943.5,1010.3 945.5,1011.7 947.5,1013.0 949.5,1014.4 951.5,1015.7 953.5,1017.1 955.5,1018.4 957.5,1019.6 959.5,1020.7 961.5,1021.9 963.5,1023.0 965.5,1024.2 967.5,1025.4 969.5,1026.5 971.5,1027.7 973.5,1028.8 975.5,1030.0 977.5,1031.2 979.5,1032.3 981.5,1033.4 983.5,1034.3 985.5,1035.3 987.5,1036.3 989.5,1037.2 991.5,1038.2 993.5,1039.1 995.5,1040.1 997.5,1041.1 999.5,1042.0 1001.5,1043.0 1003.5,1044.0 1005.5,1044.9 1007.5,1045.7 1009.5,1046.5 1011.5,1047.2 1013.5,1048.0 1015.5,1048.8 1017.5,1049.5 1019.5,1050.3 1021.5,1051.1 1023.5,1051.8 1025.5,1052.6 1027.5,1053.4 1029.5,1054.2 1031.5,1054.7 1033.5,1055.2 1035.5,1055.6 1037.5,1056.0 1039.5,1056.5 1041.5,1056.9 1043.5,1057.3 1045.5,1057.8 1047.5,1058.2 1049.5,1058.6 1051.5,1059.1 1053.5,1059.5 1055.5,1059.9 1057.5,1060.4 1059.5,1060.9 1061.5,1061.4 1063.5,1061.9 1065.5,1062.4 1067.5,1062.9 1069.5,1063.4 1071.5,1063.9 1073.5,1064.4 1075.5,1064.9 1077.5,1065.4 1079.5,1065.8 1081.5,1066.3 1083.5,1066.9 1085.5,1067.4 1087.5,1067.9 1089.5,1068.4 1091.5,1068.9 1093.5,1069.4 1095.5,1070.0 1097.5,1070.5 1099.5,1071.0 1101.5,1071.5 1103.5,1072.0 1105.5,1072.5 1107.5,1073.0 1109.5,1073.6 1111.5,1074.0 1113.5,1074.4 1115.5,1074.7 1117.5,1075.0 1119.5,1075.4 1121.5,1075.7 1123.5,1076.0 1125.5,1076.4 1127.5,1076.7 1129.5,1077.1 1131.5,1077.4 1133.5,1077.7 1135.5,1078.1 1137.5,1078.4 1139.5,1078.8 1141.5,1079.1 1143.5,1079.4 1145.5,1079.8 1147.5,1080.1 1149.5,1080.4 1151.5,1080.8 1153.5,1081.0 1155.5,1081.2 1157.5,1081.4 1159.5,1081.6 1161.5,1081.8 1163.5,1082.0 1165.5,1082.1 1167.5,1082.3 1169.5,1082.5 1171.5,1082.7 1173.5,1082.9 1175.5,1083.1 1177.5,1083.3 1179.5,1083.5 1181.5,1083.7 1183.5,1083.9 1185.5,1084.1 1187.5,1084.3 1189.5,1084.5 1191.5,1084.7 1193.5,1084.8 1195.5,1085.0 1197.5,1085.1 1199.5,1085.3 1201.5,1085.4 1203.5,1085.6 1205.5,1085.7 1207.5,1085.8 1209.5,1086.0 1211.5,1086.1 1213.5,1086.3 1215.5,1086.4 1217.5,1086.6 1219.5,1086.7 1221.5,1086.8 1223.5,1087.0 1225.5,1087.1 1227.5,1087.3 1229.5,1087.4 1231.5,1087.6 1233.5,1087.7 1235.5,1087.8 1237.5,1088.0 1239.5,1088.1 1241.5,1088.3 1243.5,1088.4 1245.5,1088.6 1247.5,1088.7 1249.5,1088.9 1251.5,1089.0 1253.5,1089.2 1255.5,1089.3 1257.5,1089.5 1259.5,1089.6 1261.5,1089.8 1263.5,1089.9 1265.5,1090.1 1267.5,1090.2 1269.5,1090.4 1271.5,1090.5 1273.5,1090.7 1275.5,1090.9 1277.5,1091.0 1279.5,1091.2 1281.5,1091.4 1283.5,1091.6 1285.5,1091.8 1287.5,1092.0 1289.5,1092.2 1291.5,1092.4 1293.5,1092.6 1295.5,1092.8 1297.5,1092.9 1299.5,1093.1 1301.5,1093.3 1303.5,1093.5 1305.5,1093.6 1307.5,1093.7 1309.5,1093.8 1311.5,1093.9 1313.5,1094.0 1315.5,1094.1 1317.5,1094.2 1319.5,1094.3 1321.5,1094.4 1323.5,1094.5 1325.5,1094.6 1327.5,1094.7 1329.5,1094.8 1331.5,1094.9 1333.5,1095.0 1335.5,1095.1 1337.5,1095.2 1339.5,1095.3 1341.5,1095.4"/>
<polyline stroke="#ff0000" points="307.5,1099.6 309.5,1099.6 311.5,1099.6 313.5,1099.6 315.5,1099.6 317.5,1099.5 319.5,1099.5 321.5,1099.5 323.5,1099.5 325.5,1099.5 327.5,1099.4 329.5,1099.4 331.5,1099.3 333.5,1099.3 335.5,1099.2 337.5,1099.1 339.5,1098.8 341.5,1098.5 343.5,1098.1 345.5,1097.6 347.5,1097.1 349.5,1096.6 351.5,1095.4 353.5,1094.1 355.5,1092.7 357.5,1091.4 359.5,1090.2 361.5,1088.9 363.5,1087.7 365.5,1086.5 367.5,1085.0 369.5,1083.4 371.5,1081.8 373.5,1080.2 375.5,1078.0 377.5,1075.7 379.5,1073.3 381.5,1070.9 383.5,1068.5 385.5,1066.2 387.5,1063.8 389.5,1061.4 391.5,1057.7 393.5,1053.7 395.5,1049.8 397.5,1045.8 399.5,1040.2 401.5,1034.3 403.5,1028.4 405.5,1022.5 407.5,1016.7 409.5,1011.0 411.5,1005.2 413.5,998.4 415.5,991.7 417.5,984.9 419.5,978.1 421.5,971.1 423.5,963.8 425.5,956.5 427.5,949.2 429.5,941.9 431.5,932.2 433.5,922.4 435.5,912.6 437.5,902.7 439.5,893.0 441.5,883.8 443.5,874.5 445.5,865.2 447.5,856.0 449.5,844.9 451.5,832.5 453.5,820.2 455.5,807.9 457.5,796.0 459.5,784.7 461.5,773.5 463.5,763.5 465.5,753.6 467.5,744.2 469.5,735.7 471.5,727.1 473.5,719.1 475.5,711.2 477.5,703.3 479.5,695.5 481.5,687.8 483.5,679.3 485.5,670.7 487.5,662.8 489.5,656.2 491.5,649.6 493.5,644.2 495.5,638.9 497.5,634.1 499.5,630.1 501.5,626.2 503.5,622.2 505.5,618.2 507.5,615.0 509.5,612.8 511.5,610.6 513.5,608.4 515.5,607.3 517.5,606.2 519.5,605.1 521.5,604.0 523.5,603.5 525.5,602.7 527.5,601.8 529.5,600.8 531.5,600.6 533.5,600.6 535.5,600.8 537.5,601.0 539.5,601.0 541.5,600.9 543.5,600.8 545.5,600.7 547.5,600.6 549.5,600.6 551.5,600.6 553.5,599.8 555.5,598.7 557.5,597.6 559.5,596.5 561.5,595.5 563.5,594.8 565.5,594.1 567.5,593.4 569.5,592.7 571.5,592.1 573.5,592.1 575.5,591.2 577.5,590.2 579.5,589.3 581.5,588.8 583.5,588.7 585.5,587.9 587.5,587.0 589.5,586.1 591.5,585.1 593.5,584.0 595.5,583.0 597.5,582.2 599.5,581.4 601.5,580.6 603.5,579.8 605.5,579.0 607.5,578.8 609.5,578.8 611.5,578.7 613.5,578.7 615.5,578.3 617.5,578.2 619.5,578.3 621.5,578.3 623.5,578.4 625.5,578.4 627.5,578.4 629.5,578.5 631.5,578.8 633.5,579.4 635.5,580.0 637.5,580.6 639.5,581.8 641.5,583.5 643.5,585.2 645.5,587.0 647.5,588.9 649.5,591.0 651.5,593.1 653.5,595.2 655.5,597.7 657.5,600.5 659.5,603.3 661.5,606.1 663.5,609.1 665.5,612.6 667.5,616.2 669.5,619.7 671.5,623.3 673.5,627.3 675.5,631.3 677.5,635.3 679.5,639.6 681.5,644.7 683.5,649.8 685.5,654.9 687.5,659.9 689.5,664.7 691.5,669.4 693.5,674.2 695.5,679.1 697.5,685.0 699.5,690.8 701.5,696.7 703.5,702.6 705.5,706.8 707.5,710.7 709.5,714.7 711.5,718.6 713.5,722.6 715.5,726.5 717.5,730.4 719.5,734.3 721.5,738.3 723.5,742.2 725.5,746.0 727.5,749.6 729.5,753.2 731.5,756.7 733.5,760.3 735.5,763.9 737.5,767.8 739.5,771.8 741.5,775.8 743.5,779.7 745.5,783.7 747.5,786.9 749.5,789.6 751.5,792.4 753.5,795.2 755.5,798.0 757.5,800.7 759.5,803.5 761.5,806.3 763.5,809.1 765.5,811.9 767.5,814.6 769.5,817.1 771.5,819.6 773.5,822.0 775.5,824.5 777.5,827.0 779.5,829.4 781.5,831.9 783.5,834.4 785.5,836.4 787.5,838.1 789.5,839.8 791.5,841.4 793.5,843.1 795.5,844.8 797.5,846.5 799.5,848.2 801.5,850.2 803.5,852.2 805.5,854.1 807.5,856.1 809.5,858.1 811.5,860.1 813.5,862.1 815.5,864.9 817.5,868.2 819.5,871.5 821.5,874.8 823.5,878.2 825.5,881.5 827.5,884.8 829.5,888.1 831.5,891.3 833.5,894.6 835.5,897.9 837.5,901.2 839.5,904.4 841.5,906.9 843.5,909.2 845.5,911.4 847.5,913.7 849.5,915.9 851.5,918.2 853.5,920.5 855.5,922.7 857.5,925.1 859.5,927.5 861.5,929.8 863.5,932.2 865.5,934.6 867.5,937.0 869.5,939.3 871.5,941.7 873.5,944.1 875.5,946.4 877.5,948.8 879.5,951.2 881.5,953.3 883.5,955.3 885.5,957.2 887.5,959.2 889.5,961.2 891.5,963.2 893.5,965.2 895.5,967.1 897.5,969.1 899.5,971.1 901.5,973.1 903.5,975.0 905.5,977.0 907.5,978.8 909.5,980.5 911.5,982.3 913.5,984.1 915.5,985.9 917.5,987.7 919.5,989.4 921.5,991.2 923.5,993.0 925.5,994.8 927.5,996.6 929.5,998.3 931.5,999.9 933.5,1001.3 935.5,1002.6 937.5,1004.0 939.5,1005.4 941.5,1006.8 943.5,1008.2 945.5,1009.6 947.5,1011.0 949.5,1012.3 951.5,1013.7 953.5,1015.1 955.5,1016.5 957.5,1017.7 959.5,1018.9 961.5,1020.0 963.5,1021.2 965.5,1022.4 967.5,1023.6 969.5,1024.8 971.5,1026.0 973.5,1027.2 975.5,1028.3 977.5,1029.5 979.5,1030.7 981.5,1031.8 983.5,1032.8 985.5,1033.8 987.5,1034.8 989.5,1035.7 991.5,1036.7 993.5,1037.7 995.5,1038.7 997.5,1039.7 999.5,1040.7 1001.5,1041.7 1003.5,1042.7 1005.5,1043.6 1007.5,1044.4 1009.5,1045.2 1011.5,1046.0 1013.5,1046.8 1015.5,1047.6 1017.5,1048.4 1019.5,1049.1 1021.5,1049.9 1023.5,1050.7 1025.5,1051.5 1027.5,1052.3 1029.5,1053.1 1031.5,1053.7 1033.5,1054.1 1035.5,1054.6 1037.5,1055.0 1039.5,1055.5 1041.5,1055.9 1043.5,1056.3 1045.5,1056.8 1047.5,1057.2 1049.5,1057.7 1051.5,1058.1 1053.5,1058.6 1055.5,1059.0 1057.5,1059.5 1059.5,1060.0 1061.5,1060.5 1063.5,1061.0 1065.5,1061.5 1067.5,1062.0 1069.5,1062.5 1071.5,1063.0 1073.5,1063.5 1075.5,1064.0 1077.5,1064.5 1079.5,1065.0 1081.5,1065.6 1083.5,1066.1 1085.5,1066.6 1087.5,1067.1 1089.5,1067.7 1091.5,1068.2 1093.5,1068.7 1095.5,1069.2 1097.5,1069.8 1099.5,1070.3 1101.5,1070.8 1103.5,1071.4 1105.5,1071.9 1107.5,1072.4 1109.5,1072.9 1111.5,1073.4 1113.5,1073.8 1115.5,1074.1 1117.5,1074.4 1119.5,1074.8 1121.5,1075.1 1123.5,1075.5 1125.5,1075.8 1127.5,1076.2 1129.5,1076.5 1131.5,1076.9 1133.5,1077.2 1135.5,1077.6 1137.5,1077.9 1139.5,1078.3 1141.5,1078.6 1143.5,1079.0 1145.5,1079.3 1147.5,1079.6 1149.5,1080.0 1151.5,1080.3 1153.5,1080.5 1155.5,1080.7 1157.5,1080.9 1159.5,1081.1 1161.5,1081.3 1163.5,1081.5 1165.5,1081.7 1167.5,1081.9 1169.5,1082.1 1171.5,1082.3 1173.5,1082.5 1175.5,1082.7 1177.5,1082.9 1179.5,1083.1 1181.5,1083.3 1183.5,1083.5 1185.5,1083.7 1187.5,1083.9 1189.5,1084.1 1191.5,1084.3 1193.5,1084.5 1195.5,1084.6 1197.5,1084.8 1199.5,1084.9 1201.5,1085.1 1203.5,1085.2 1205.5,1085.4 1207.5,1085.5 1209.5,1085.7 1211.5,1085.8 1213.5,1086.0 1215.5,1086.1 1217.5,1086.2 1219.5,1086.4 1221.5,1086.5 1223.5,1086.7 1225.5,1086.8 1227.5,1087.0 1229.5,1087.1 1231.5,1087.3 1233.5,1087.4 1235.5,1087.6 1237.5,1087.7 1239.5,1087.9 1241.5,1088.0 1243.5,1088.2 1245.5,1088.3 1247.5,1088.5 1249.5,1088.6 1251.5,1088.8 1253.5,1088.9 1255.5,1089.1 1257.5,1089.2 1259.5,1089.4 1261.5,1089.5 1263.5,1089.7 1265.5,1089.8 1267.5,1090.0 1269.5,1090.1 1271.5,1090.3 1273.5,1090.5 1275.5,1090.7 1277.5,1090.8 1279.5,1091.0 1281.5,1091.2 1283.5,1091.4 1285.5,1091.6 1287.5,1091.8 1289.5,1092.0 1291.5,1092.2 1293.5,1092.4 1295.5,1092.6 1297.5,1092.8 1299.5,1093.0 1301.5,1093.2 1303.5,1093.4 1305.5,1093.5 1307.5,1093.6 1309.5,1093.7 1311.5,1093.8 1313.5,1093.9 1315.5,1094.0 1317.5,1094.1 1319.5,1094.2 1321.5,1094.3 1323.5,1094.4 1325.5,1094.5 1327.5,1094.6 1329.5,1094.7 1331.5,1094.8 1333.5,1094.9 1335.5,1095.0 1337.5,1095.1 1339.5,1095.2 1341.5,1095.3"/>
<polyline stroke="#000000" points="307.5,1099.6 309.5,1099.6 311.5,1099.6 313.5,1099.6 315.5,1099.6 317.5,1099.5 319.5,1099.5 321.5,1099.5 323.5,1099.5 325.5,1099.5 327.5,1099.4 329.5,1099.4 331.5,1099.3 333.5,1099.3 335.5,1099.2 337.5,1099.1 339.5,1098.8 341.5,1098.4 343.5,1098.1 345.5,1097.6 347.5,1097.0 349.5,1096.5 351.5,1095.4 353.5,1094.0 355.5,1092.7 357.5,1091.3 359.5,1090.1 361.5,1088.8 363.5,1087.6 365.5,1086.3 367.5,1084.8 369.5,1083.2 371.5,1081.6 373.5,1080.0 375.5,1077.8 377.5,1075.4 379.5,1073.0 381.5,1070.6 383.5,1068.2 385.5,1065.8 387.5,1063.4 389.5,1061.0 391.5,1057.2 393.5,1053.2 395.5,1049.2 397.5,1045.2 399.5,1039.5 401.5,1033.5 403.5,1027.6 405.5,1021.6 407.5,1015.8 409.5,1010.0 411.5,1004.1 413.5,997.2 415.5,990.4 417.5,983.6 419.5,976.7 421.5,969.6 423.5,962.2 425.5,954.8 427.5,947.4 429.5,940.0 431.5,930.2 433.5,920.3 435.5,910.4 437.5,900.4 439.5,890.6 441.5,881.2 443.5,871.9 445.5,862.5 447.5,853.1 449.5,841.9 451.5,829.4 453.5,816.9 455.5,804.4 457.5,792.4 459.5,781.0 461.5,769.7 463.5,759.5 465.5,749.5 467.5,740.1 469.5,731.4 471.5,722.7 473.5,714.6 475.5,706.6 477.5,698.7 479.5,690.8 481.5,682.9 483.5,674.4 485.5,665.7 487.5,657.7 489.5,651.0 491.5,644.3 493.5,638.8 495.5,633.5 497.5,628.6 499.5,624.6 501.5,620.6 503.5,616.7 505.5,612.7 507.5,609.2 509.5,606.8 511.5,604.4 513.5,601.9 515.5,600.6 517.5,599.2 519.5,597.9 521.5,596.4 523.5,595.7 525.5,595.0 527.5,594.4 529.5,593.7 531.5,593.7 533.5,594.1 535.5,594.3 537.5,594.6 539.5,594.7 541.5,594.7 543.5,594.7 545.5,594.7 547.5,594.7 549.5,594.7 551.5,594.8 553.5,594.9 555.5,595.8 557.5,597.9 559.5,598.2 561.5,598.4 563.5,598.7 565.5,599.0 567.5,599.2 569.5,599.4 571.5,599.6 573.5,599.8 575.5,599.0 577.5,598.2 579.5,597.1 581.5,595.7 583.5,594.1 585.5,591.9 587.5,590.8 589.5,589.7 591.5,588.6 593.5,587.5 595.5,586.1 597.5,584.2 599.5,582.3 601.5,580.3 603.5,578.4 605.5,576.5 607.5,575.6 609.5,574.9 611.5,574.3 613.5,573.7 615.5,573.0 617.5,572.9 619.5,572.9 621.5,572.9 623.5,572.9 625.5,572.8 627.5,572.8 629.5,572.8 631.5,573.2 633.5,574.0 635.5,574.8 637.5,575.6 639.5,576.8 641.5,578.4 643.5,580.0 645.5,581.7 647.5,583.5 649.5,585.5 651.5,587.5 653.5,589.5 655.5,591.8 657.5,594.7 659.5,597.5 661.5,600.3 663.5,603.4 665.5,606.9 667.5,610.5 669.5,614.1 671.5,617.7 673.5,621.8 675.5,625.8 677.5,629.9 679.5,634.2 681.5,639.4 683.5,644.5 685.5,649.7 687.5,654.8 689.5,659.6 691.5,664.4 693.5,669.2 695.5,674.1 697.5,680.1 699.5,686.0 701.5,692.0 703.5,697.9 705.5,702.1 707.5,706.1 709.5,710.1 711.5,714.1 713.5,718.1 715.5,722.1 717.5,726.1 719.5,730.0 721.5,734.0 723.5,738.0 725.5,741.9 727.5,745.5 729.5,749.1 731.5,752.7 733.5,756.3 735.5,760.0 737.5,763.9 739.5,767.9 741.5,772.0 743.5,776.0 745.5,780.0 747.5,783.2 749.5,786.0 751.5,788.8 753.5,791.6 755.5,794.4 757.5,797.2 759.5,800.1 761.5,802.9 763.5,805.7 765.5,808.5 767.5,811.3 769.5,813.8 771.5,816.3 773.5,818.8 775.5,821.3 777.5,823.8 779.5,826.2 781.5,828.7 783.5,831.2 785.5,833.3 787.5,835.0 789.5,836.7 791.5,838.4 793.5,840.1 795.5,841.8 797.5,843.5 799.5,845.3 801.5,847.3 803.5,849.3 805.5,851.3 807.5,853.3 809.5,855.3 811.5,857.3 813.5,859.3 815.5,862.1 817.5,865.5 819.5,868.9 821.5,872.2 823.5,875.6 825.5,878.9 827.5,882.3 829.5,885.6 831.5,888.9 833.5,892.2 835.5,895.5 837.5,898.8 839.5,902.1 841.5,904.7 843.5,907.0 845.5,909.2 847.5,911.5 849.5,913.8 851.5,916.1 853.5,918.4 855.5,920.7 857.5,923.1 859.5,925.5 861.5,927.8 863.5,930.2 865.5,932.6 867.5,935.0 869.5,937.4 871.5,939.8 873.5,942.2 875.5,944.6 877.5,947.0 879.5,949.4 881.5,951.6 883.5,953.6 885.5,955.6 887.5,957.6 889.5,959.6 891.5,961.6 893.5,963.6 895.5,965.6 897.5,967.6 899.5,969.6 901.5,971.6 903.5,973.6 905.5,975.6 907.5,977.4 909.5,979.2 911.5,981.0 913.5,982.8 915.5,984.6 917.5,986.4 919.5,988.2 921.5,990.0 923.5,991.8 925.5,993.6 927.5,995.4 929.5,997.2 931.5,998.7 933.5,1000.1 935.5,1001.5 937.5,1002.9 939.5,1004.3 941.5,1005.7 943.5,1007.1 945.5,1008.5 947.5,1009.9 949.5,1011.3 951.5,1012.7 953.5,1014.1 955.5,1015.5 957.5,1016.7 959.5,1017.9 961.5,1019.1 963.5,1020.3 965.5,1021.5 967.5,1022.7 969.5,1023.9 971.5,1025.1 973.5,1026.3 975.5,1027.5 977.5,1028.7 979.5,1029.9 981.5,1031.0 983.5,1032.0 985.5,1033.0 987.5,1034.0 989.5,1035.0 991.5,1036.0 993.5,1037.0 995.5,1038.0 997.5,1039.0 999.5,1040.0 1001.5,1041.0 1003.5,1042.0 1005.5,1043.0 1007.5,1043.8 1009.5,1044.6 1011.5,1045.4 1013.5,1046.2 1015.5,1047.0 1017.5,1047.8 1019.5,1048.5 1021.5,1049.3 1023.5,1050.1 1025.5,1050.9 1027.5,1051.7 1029.5,1052.5 1031.5,1053.1 1033.5,1053.6 1035.5,1054.0 1037.5,1054.5 1039.5,1054.9 1041.5,1055.4 1043.5,1055.8 1045.5,1056.3 1047.5,1056.7 1049.5,1057.2 1051.5,1057.6 1053.5,1058.1 1055.5,1058.5 1057.5,1059.0 1059.5,1059.5 1061.5,1060.0 1063.5,1060.6 1065.5,1061.1 1067.5,1061.6 1069.5,1062.1 1071.5,1062.6 1073.5,1063.1 1075.5,1063.6 1077.5,1064.1 1079.5,1064.6 1081.5,1065.2 1083.5,1065.7 1085.5,1066.2 1087.5,1066.8 1089.5,1067.3 1091.5,1067.8 1093.5,1068.4 1095.5,1068.9 1097.5,1069.4 1099.5,1070.0 1101.5,1070.5 1103.5,1071.0 1105.5,1071.6 1107.5,1072.1 1109.5,1072.6 1111.5,1073.1 1113.5,1073.5 1115.5,1073.8 1117.5,1074.2 1119.5,1074.5 1121.5,1074.9 1123.5,1075.2 1125.5,1075.6 1127.5,1075.9 1129.5,1076.3 1131.5,1076.6 1133.5,1077.0 1135.5,1077.3 1137.5,1077.7 1139.5,1078.0 1141.5,1078.4 1143.5,1078.7 1145.5,1079.1 1147.5,1079.4 1149.5,1079.8 1151.5,1080.1 1153.5,1080.3 1155.5,1080.5 1157.5,1080.7 1159.5,1080.9 1161.5,1081.1 1163.5,1081.3 1165.5,1081.5 1167.5,1081.7 1169.5,1081.9 1171.5,1082.1 1173.5,1082.3 1175.5,1082.5 1177.5,1082.7 1179.5,1082.9 1181.5,1083.1 1183.5,1083.3 1185.5,1083.5 1187.5,1083.7 1189.5,1083.9 1191.5,1084.1 1193.5,1084.3 1195.5,1084.5 1197.5,1084.6 1199.5,1084.8 1201.5,1084.9 1203.5,1085.0 1205.5,1085.2 1207.5,1085.3 1209.5,1085.5 1211.5,1085.6 1213.5,1085.8 1215.5,1085.9 1217.5,1086.1 1219.5,1086.2 1221.5,1086.4 1223.5,1086.5 1225.5,1086.7 1227.5,1086.8 1229.5,1087.0 1231.5,1087.1 1233.5,1087.3 1235.5,1087.4 1237.5,1087.6 1239.5,1087.7 1241.5,1087.9 1243.5,1088.0 1245.5,1088.2 1247.5,1088.3 1249.5,1088.5 1251.5,1088.7 1253.5,1088.8 1255.5,1089.0 1257.5,1089.1 1259.5,1089.3 1261.5,1089.4 1263.5,1089.6 1265.5,1089.7 1267.5,1089.9 1269.5,1090.0 1271.5,1090.2 1273.5,1090.3 1275.5,1090.5 1277.5,1090.7 1279.5,1090.9 1281.5,1091.1 1283.5,1091.3 1285.5,1091.5 1287.5,1091.7 1289.5,1091.9 1291.5,1092.1 1293.5,1092.3 1295.5,1092.5 1297.5,1092.7 1299.5,1092.9 1301.5,1093.1 1303.5,1093.3 1305.5,1093.4 1307.5,1093.5 1309.5,1093.6 1311.5,1093.7 1313.5,1093.8 1315.5,1093.9 1317.5,1094.0 1319.5,1094.1 1321.5,1094.2 1323.5,1094.3 1325.5,1094.4 1327.5,1094.5 1329.5,1094.6 1331.5,1094.8 1333.5,1094.9 1335.5,1095.0 1337.5,1095.1 1339.5,1095.2 1341.5,1095.3"/>
</g>
<g stroke="#000" fill="none" stroke-linecap="butt">
<line x1="307.3" y1="160.8" x2="307.3" y2="1139.2" stroke-width="5.2"/>
<line x1="304.7" y1="1111.5" x2="1342" y2="1111.5" stroke-width="4.8"/>
<line x1="278" y1="1103.4" x2="306" y2="1103.4" stroke-width="4.8"/>
<line x1="291.5" y1="1009.4" x2="306" y2="1009.4" stroke-width="3.6"/>
<line x1="278" y1="915.4" x2="306" y2="915.4" stroke-width="4.8"/>
<line x1="291.5" y1="821.4" x2="306" y2="821.4" stroke-width="3.6"/>
<line x1="278" y1="727.4" x2="306" y2="727.4" stroke-width="4.8"/>
<line x1="291.5" y1="633.5" x2="306" y2="633.5" stroke-width="3.6"/>
<line x1="278" y1="539.5" x2="306" y2="539.5" stroke-width="4.8"/>
<line x1="291.5" y1="445.5" x2="306" y2="445.5" stroke-width="3.6"/>
<line x1="278" y1="351.5" x2="306" y2="351.5" stroke-width="4.8"/>
<line x1="291.5" y1="257.5" x2="306" y2="257.5" stroke-width="3.6"/>
<line x1="278" y1="163.5" x2="306" y2="163.5" stroke-width="4.8"/>
<line x1="479.5" y1="1112" x2="479.5" y2="1128" stroke-width="3.6"/>
<line x1="651.5" y1="1112" x2="651.5" y2="1141" stroke-width="4.8"/>
<line x1="823.5" y1="1112" x2="823.5" y2="1128" stroke-width="3.6"/>
<line x1="995.5" y1="1112" x2="995.5" y2="1141" stroke-width="4.8"/>
<line x1="1167.5" y1="1112" x2="1167.5" y2="1128" stroke-width="3.6"/>
<line x1="1339.5" y1="1112" x2="1339.5" y2="1141" stroke-width="4.8"/>
</g>
<text transform="translate(236.23,1116.65) scale(0.9700,1)" font-size="52.60" font-weight="normal" fill="#000" letter-spacing="2.05">0</text>
<text transform="translate(153.73,928.67) scale(0.9700,1)" font-size="52.60" font-weight="normal" fill="#000" letter-spacing="2.05">2000</text>
<text transform="translate(153.73,740.69) scale(0.9700,1)" font-size="52.60" font-weight="normal" fill="#000" letter-spacing="2.05">4000</text>
<text transform="translate(153.73,552.71) scale(0.9700,1)" font-size="52.60" font-weight="normal" fill="#000" letter-spacing="2.05">6000</text>
<text transform="translate(153.73,364.73) scale(0.9700,1)" font-size="52.60" font-weight="normal" fill="#000" letter-spacing="2.05">8000</text>
<text transform="translate(126.23,176.75) scale(0.9700,1)" font-size="52.60" font-weight="normal" fill="#000" letter-spacing="2.05">10000</text>
<text transform="translate(266.26,1198.20) scale(0.9800,1)" font-size="51.80" font-weight="normal" fill="#000" letter-spacing="2.16">350</text>
<text transform="translate(610.98,1198.20) scale(0.9800,1)" font-size="51.80" font-weight="normal" fill="#000" letter-spacing="2.16">400</text>
<text transform="translate(954.98,1198.20) scale(0.9800,1)" font-size="51.80" font-weight="normal" fill="#000" letter-spacing="2.16">450</text>
<text transform="translate(1298.00,1198.20) scale(0.9800,1)" font-size="51.80" font-weight="normal" fill="#000" letter-spacing="2.16">500</text>
<text transform="translate(550.33,1290.60) scale(1.0231,1)" font-size="66.00" font-weight="normal" fill="#000">Wavelength (nm)</text>
<text transform="translate(69.20,1034.74) rotate(-90) scale(0.9353,1)" font-size="72.00" font-weight="normal" fill="#000">Fluorescence Intensity (A.U.)</text>
<text transform="translate(378.36,340.30) scale(0.9957,1)" font-size="66.00" font-weight="normal" fill="#000">Acid</text>
<text transform="translate(340.75,560.00) scale(0.9994,1)" font-size="67.00" font-weight="normal" fill="#000">Alkaline</text>
<line x1="434.8" y1="392" x2="434.8" y2="501" stroke="#000" stroke-width="3.4"/>
<path d="M434.8 369.5 L443.6 396 L426 396 Z" fill="#000"/>
<g stroke="#000" fill="none">
<line x1="849.5" y1="22" x2="849.5" y2="594.5" stroke-width="3.2"/>
<line x1="848" y1="592.7" x2="1461.5" y2="592.7" stroke-width="3.6"/>
<line x1="840" y1="586.9" x2="849" y2="586.9" stroke-width="3"/>
<line x1="834" y1="493.3" x2="849" y2="493.3" stroke-width="3"/>
<line x1="840" y1="399.7" x2="849" y2="399.7" stroke-width="3"/>
<line x1="834" y1="306.1" x2="849" y2="306.1" stroke-width="3"/>
<line x1="840" y1="212.4" x2="849" y2="212.4" stroke-width="3"/>
<line x1="834" y1="118.8" x2="849" y2="118.8" stroke-width="3"/>
<line x1="840" y1="25.2" x2="849" y2="25.2" stroke-width="3"/>
<line x1="879.6" y1="594" x2="879.6" y2="602.5" stroke-width="3"/>
<line x1="941.0" y1="594" x2="941.0" y2="610" stroke-width="3"/>
<line x1="1002.3" y1="594" x2="1002.3" y2="602.5" stroke-width="3"/>
<line x1="1063.7" y1="594" x2="1063.7" y2="610" stroke-width="3"/>
<line x1="1125.1" y1="594" x2="1125.1" y2="602.5" stroke-width="3"/>
<line x1="1186.5" y1="594" x2="1186.5" y2="610" stroke-width="3"/>
<line x1="1247.8" y1="594" x2="1247.8" y2="602.5" stroke-width="3"/>
<line x1="1309.2" y1="594" x2="1309.2" y2="610" stroke-width="3"/>
<line x1="1370.6" y1="594" x2="1370.6" y2="602.5" stroke-width="3"/>
<line x1="1431.9" y1="594" x2="1431.9" y2="610" stroke-width="3"/>
</g>
<text transform="translate(735.26,130.07) scale(0.9938,1)" font-size="43.72" font-weight="bold" fill="#000" >5000</text>
<text transform="translate(735.37,316.59) scale(1.0274,1)" font-size="42.23" font-weight="bold" fill="#000" >3000</text>
<text transform="translate(733.45,502.79) scale(1.0618,1)" font-size="41.79" font-weight="bold" fill="#000" >1000</text>
<text transform="translate(929.18,653.50) scale(1.0500,1)" font-size="41.50" font-weight="bold" fill="#000">4</text>
<text transform="translate(1053.71,653.50) scale(1.0500,1)" font-size="41.50" font-weight="bold" fill="#000">6</text>
<text transform="translate(1173.06,653.50) scale(1.0500,1)" font-size="41.50" font-weight="bold" fill="#000">8</text>
<text transform="translate(1287.99,653.50) scale(1.0500,1)" font-size="41.50" font-weight="bold" fill="#000">10</text>
<text transform="translate(1409.83,653.50) scale(1.0500,1)" font-size="41.50" font-weight="bold" fill="#000">12</text>
<text transform="translate(1084.93,747.98) scale(0.9953,1)" font-size="68.69" font-weight="bold" fill="#000" >pH</text>
<text transform="translate(674.3,351.2) rotate(-90) scale(0.78,1)" font-size="71.5" font-weight="bold">FI</text>
<text transform="translate(700.20,298.29) rotate(-90) scale(0.9389,1)" font-size="44.30" font-weight="normal" fill="#000">397</text>
<polyline fill="none" stroke="#000" stroke-width="5.5" stroke-linejoin="round" points="891.5,83.5 930,84.3 960,85.5 1000,87.2 1027.3,91.6 1044,96.9 1068.3,108.3 1091,121.5 1104,133 1115.3,146.2 1132,166 1144.2,185.7 1151.7,197.8 1158.6,222 1165.4,240 1169.5,253"/>
<rect x="886.1" y="52.4" width="16" height="16" fill="#000"/>
<rect x="905.4" y="59.9" width="16" height="16" fill="#000"/>
<rect x="915.5" y="73.9" width="16" height="16" fill="#000"/>
<rect x="932.5" y="76.5" width="16" height="16" fill="#000"/>
<rect x="947.6" y="87.7" width="16" height="16" fill="#000"/>
<rect x="977.0" y="84.9" width="16" height="16" fill="#000"/>
<rect x="995.3" y="79.2" width="16" height="16" fill="#000"/>
<rect x="1008.8" y="91.8" width="16" height="16" fill="#000"/>
<rect x="1028.0" y="113.5" width="16" height="16" fill="#000"/>
<rect x="1038.6" y="112.0" width="16" height="16" fill="#000"/>
<rect x="1055.4" y="90.4" width="16" height="16" fill="#000"/>
<rect x="1069.0" y="108.2" width="16" height="16" fill="#000"/>
<rect x="1088.0" y="98.7" width="16" height="16" fill="#000"/>
<rect x="1099.0" y="127.2" width="16" height="16" fill="#000"/>
<rect x="1118.4" y="152.6" width="16" height="16" fill="#000"/>
<rect x="1130.5" y="164.0" width="16" height="16" fill="#000"/>
<rect x="1149.0" y="203.8" width="16" height="16" fill="#000"/>
<rect x="1162.0" y="259.5" width="16" height="16" fill="#000"/>
<polyline fill="none" stroke="#f00" stroke-width="5.5" stroke-linejoin="round" points="1168,256 1180,262 1195,272 1208,285 1218,302 1226,322 1233,344 1240,366 1247,390 1254,412 1262,434 1270,455 1278,474 1287,494 1297,513 1307,530 1318,545 1330,557 1343,567 1357,575 1372,580 1390,583.5 1410,585 1432,585.6"/>
<circle cx="1170.5" cy="265.8" r="8.2" fill="#f00"/>
<circle cx="1187.2" cy="258.2" r="8.2" fill="#f00"/>
<circle cx="1197" cy="277.2" r="8.2" fill="#f00"/>
<circle cx="1216" cy="291.6" r="8.2" fill="#f00"/>
<circle cx="1229" cy="358.4" r="8.2" fill="#f00"/>
<circle cx="1247" cy="403.8" r="8.2" fill="#f00"/>
<circle cx="1259" cy="421.2" r="8.2" fill="#f00"/>
<circle cx="1277.2" cy="472.8" r="8.2" fill="#f00"/>
<circle cx="1289.3" cy="498.6" r="8.2" fill="#f00"/>
<circle cx="1306.8" cy="532" r="8.2" fill="#f00"/>
<circle cx="1321.2" cy="548" r="8.2" fill="#f00"/>
<circle cx="1337.9" cy="563.9" r="8.2" fill="#f00"/>
<circle cx="1352.3" cy="573" r="8.2" fill="#f00"/>
<circle cx="1368.2" cy="579" r="8.2" fill="#f00"/>
<circle cx="1381.1" cy="581.3" r="8.2" fill="#f00"/>
<circle cx="1400.8" cy="584.4" r="8.2" fill="#f00"/>
<circle cx="1412.2" cy="583.6" r="8.2" fill="#f00"/>
<circle cx="1431.2" cy="585.1" r="8.2" fill="#f00"/>
</svg>
</body></html>
